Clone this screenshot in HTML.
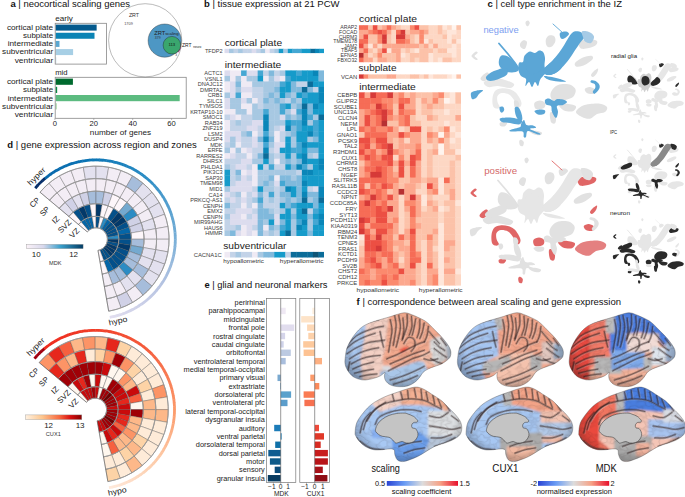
<!DOCTYPE html>
<html><head><meta charset="utf-8"><style>
html,body{margin:0;padding:0;background:#fff;}
svg{display:block;font-family:"Liberation Sans", sans-serif;}
</style></head><body>
<svg width="685" height="497" viewBox="0 0 685 497">
<rect width="685" height="497" fill="#fff"/>
<text x="10.4" y="7.2" font-size="9.5" fill="#111"><tspan font-weight="bold">a</tspan> | neocortical scaling genes</text>
<text x="55.2" y="21" font-size="7.2" fill="#222" textLength="17.7" lengthAdjust="spacingAndGlyphs">early</text>
<rect x="55.6" y="24.6" width="41.04" height="6" fill="#045a8d"/>
<rect x="55.6" y="32.76" width="38.9" height="6" fill="#0b84b5"/>
<rect x="55.6" y="40.92" width="3.89" height="6" fill="#5aa7d1"/>
<rect x="55.6" y="49.08" width="17.5" height="6" fill="#a7cfe5"/>
<rect x="55.6" y="57.24" width="0.78" height="6" fill="#d3e6f2"/>
<rect x="55.2" y="23.3" width="51.2" height="40.8" fill="none" stroke="#888" stroke-width="0.8"/>
<text x="53.20" y="30.00" font-size="7.2" text-anchor="end" fill="#222" font-weight="normal" textLength="46.3" lengthAdjust="spacingAndGlyphs">cortical plate</text>
<text x="53.20" y="38.16" font-size="7.2" text-anchor="end" fill="#222" font-weight="normal" textLength="30.2" lengthAdjust="spacingAndGlyphs">subplate</text>
<text x="53.20" y="46.32" font-size="7.2" text-anchor="end" fill="#222" font-weight="normal" textLength="45.5" lengthAdjust="spacingAndGlyphs">intermediate</text>
<text x="53.20" y="54.48" font-size="7.2" text-anchor="end" fill="#222" font-weight="normal" textLength="51.1" lengthAdjust="spacingAndGlyphs">subventricular</text>
<text x="53.20" y="62.64" font-size="7.2" text-anchor="end" fill="#222" font-weight="normal" textLength="38.5" lengthAdjust="spacingAndGlyphs">ventricular</text>
<text x="55.2" y="74.9" font-size="7.2" fill="#222" textLength="12.4" lengthAdjust="spacingAndGlyphs">mid</text>
<rect x="55.6" y="78.6" width="17.31" height="6.2" fill="#006a2e"/>
<rect x="55.6" y="86.8" width="1.56" height="6.2" fill="#0b8a45"/>
<rect x="55.6" y="95" width="124.09" height="6.2" fill="#5cbb80"/>
<rect x="55.6" y="103.2" width="1.17" height="6.2" fill="#a6dba6"/>
<rect x="55.2" y="77.3" width="131" height="41" fill="none" stroke="#888" stroke-width="0.8"/>
<text x="53.20" y="84.10" font-size="7.2" text-anchor="end" fill="#222" font-weight="normal" textLength="46.3" lengthAdjust="spacingAndGlyphs">cortical plate</text>
<text x="53.20" y="92.30" font-size="7.2" text-anchor="end" fill="#222" font-weight="normal" textLength="30.2" lengthAdjust="spacingAndGlyphs">subplate</text>
<text x="53.20" y="100.50" font-size="7.2" text-anchor="end" fill="#222" font-weight="normal" textLength="45.5" lengthAdjust="spacingAndGlyphs">intermediate</text>
<text x="53.20" y="108.70" font-size="7.2" text-anchor="end" fill="#222" font-weight="normal" textLength="51.1" lengthAdjust="spacingAndGlyphs">subventricular</text>
<text x="53.20" y="116.90" font-size="7.2" text-anchor="end" fill="#222" font-weight="normal" textLength="38.5" lengthAdjust="spacingAndGlyphs">ventricular</text>
<line x1="54.9" y1="118.3" x2="54.9" y2="120" stroke="#888" stroke-width="0.6"/>
<text x="54.90" y="125.80" font-size="7.6" text-anchor="middle" fill="#222" font-weight="normal">0</text>
<line x1="93.8" y1="118.3" x2="93.8" y2="120" stroke="#888" stroke-width="0.6"/>
<text x="93.80" y="125.80" font-size="7.6" text-anchor="middle" fill="#222" font-weight="normal">20</text>
<line x1="132.7" y1="118.3" x2="132.7" y2="120" stroke="#888" stroke-width="0.6"/>
<text x="132.70" y="125.80" font-size="7.6" text-anchor="middle" fill="#222" font-weight="normal">40</text>
<line x1="171.6" y1="118.3" x2="171.6" y2="120" stroke="#888" stroke-width="0.6"/>
<text x="171.60" y="125.80" font-size="7.6" text-anchor="middle" fill="#222" font-weight="normal">60</text>
<text x="120.50" y="134.80" font-size="7.2" text-anchor="middle" fill="#222" font-weight="normal" textLength="61.3" lengthAdjust="spacingAndGlyphs">number of genes</text>
<circle cx="145.2" cy="40.3" r="36.6" fill="none" stroke="#777" stroke-width="0.5"/>
<circle cx="164.7" cy="40.6" r="16.6" fill="#4d97c4" stroke="#333" stroke-width="0.4"/>
<path d="M179.2,44 A9,9 0 0 1 177,52 L178.2,52.6 A10.2,10.2 0 0 0 180.8,44 Z" fill="#b0308a"/>
<circle cx="171.9" cy="45.2" r="8.8" fill="#3aa66e" stroke="#222" stroke-width="0.4"/>
<text x="128.90" y="16.60" font-size="4.6" text-anchor="start" fill="#333" font-weight="normal" textLength="10.2" lengthAdjust="spacingAndGlyphs">ZRT</text>
<text x="124.20" y="24.70" font-size="3.4" text-anchor="start" fill="#444" font-weight="normal" textLength="8.6" lengthAdjust="spacingAndGlyphs">1709</text>
<text x="154.20" y="34.60" font-size="6.2" text-anchor="start" fill="#222" font-weight="normal" textLength="11.0" lengthAdjust="spacingAndGlyphs">ZRT</text>
<text x="165.20" y="35.40" font-size="3.6" text-anchor="start" fill="#222" font-weight="normal" textLength="13.5" lengthAdjust="spacingAndGlyphs">scaling</text>
<text x="154.80" y="38.60" font-size="3.4" text-anchor="start" fill="#333" font-weight="normal" textLength="5.8" lengthAdjust="spacingAndGlyphs">379</text>
<text x="168.40" y="45.70" font-size="3.6" text-anchor="start" fill="#111" font-weight="normal" textLength="6.8" lengthAdjust="spacingAndGlyphs">113</text>
<text x="182.00" y="47.20" font-size="5.0" text-anchor="start" fill="#222" font-weight="normal" textLength="9.5" lengthAdjust="spacingAndGlyphs">ZRT</text>
<text x="193.20" y="48.40" font-size="3.6" text-anchor="start" fill="#222" font-weight="normal" textLength="8.2" lengthAdjust="spacingAndGlyphs">neuro</text>
<text x="175.20" y="56.30" font-size="3.2" text-anchor="start" fill="#333" font-weight="normal">3</text>
<text x="204" y="7.2" font-size="9.5" fill="#111"><tspan font-weight="bold">b</tspan> | tissue expression at 21 PCW</text>
<text x="224.70" y="46.10" font-size="8.4" text-anchor="start" fill="#222" font-weight="normal" textLength="57.4" lengthAdjust="spacingAndGlyphs">cortical plate</text>
<rect x="224.5" y="48.8" width="4.92" height="4.3" fill="#dcdcee"/>
<rect x="229.02" y="48.8" width="4.92" height="4.3" fill="#a7c8e2"/>
<rect x="233.55" y="48.8" width="4.92" height="4.3" fill="#c3d3e8"/>
<rect x="238.07" y="48.8" width="4.92" height="4.3" fill="#a7c8e2"/>
<rect x="242.59" y="48.8" width="4.92" height="4.3" fill="#c3d3e8"/>
<rect x="247.11" y="48.8" width="4.92" height="4.3" fill="#c3d3e8"/>
<rect x="251.64" y="48.8" width="4.92" height="4.3" fill="#dcdcee"/>
<rect x="256.16" y="48.8" width="4.92" height="4.3" fill="#c3d3e8"/>
<rect x="260.68" y="48.8" width="4.92" height="4.3" fill="#a7c8e2"/>
<rect x="265.2" y="48.8" width="4.92" height="4.3" fill="#efeaf4"/>
<rect x="269.73" y="48.8" width="4.92" height="4.3" fill="#c3d3e8"/>
<rect x="274.25" y="48.8" width="4.92" height="4.3" fill="#a7c8e2"/>
<rect x="278.77" y="48.8" width="4.92" height="4.3" fill="#169bca"/>
<rect x="283.3" y="48.8" width="4.92" height="4.3" fill="#a7c8e2"/>
<rect x="287.82" y="48.8" width="4.92" height="4.3" fill="#169bca"/>
<rect x="292.34" y="48.8" width="4.92" height="4.3" fill="#45a7d3"/>
<rect x="296.86" y="48.8" width="4.92" height="4.3" fill="#45a7d3"/>
<rect x="301.39" y="48.8" width="4.92" height="4.3" fill="#169bca"/>
<rect x="305.91" y="48.8" width="4.92" height="4.3" fill="#169bca"/>
<rect x="310.43" y="48.8" width="4.92" height="4.3" fill="#0b6c99"/>
<rect x="314.95" y="48.8" width="4.92" height="4.3" fill="#0a86b8"/>
<rect x="319.48" y="48.8" width="4.52" height="4.3" fill="#169bca"/>
<text x="222.60" y="53.00" font-size="5.6" text-anchor="end" fill="#3c3c3c" font-weight="normal">TFDP2</text>
<text x="224.70" y="67.60" font-size="8.4" text-anchor="start" fill="#222" font-weight="normal" textLength="56.6" lengthAdjust="spacingAndGlyphs">intermediate</text>
<rect x="224.5" y="70.4" width="5.93" height="5.92" fill="#dcdcee"/>
<rect x="230.03" y="70.4" width="5.93" height="5.92" fill="#efeaf4"/>
<rect x="235.56" y="70.4" width="5.93" height="5.92" fill="#efeaf4"/>
<rect x="241.08" y="70.4" width="5.93" height="5.92" fill="#45a7d3"/>
<rect x="246.61" y="70.4" width="5.93" height="5.92" fill="#dcdcee"/>
<rect x="252.14" y="70.4" width="5.93" height="5.92" fill="#dcdcee"/>
<rect x="257.67" y="70.4" width="5.93" height="5.92" fill="#45a7d3"/>
<rect x="263.19" y="70.4" width="5.93" height="5.92" fill="#c3d3e8"/>
<rect x="268.72" y="70.4" width="5.93" height="5.92" fill="#80b9dc"/>
<rect x="274.25" y="70.4" width="5.93" height="5.92" fill="#c3d3e8"/>
<rect x="279.78" y="70.4" width="5.93" height="5.92" fill="#a7c8e2"/>
<rect x="285.31" y="70.4" width="5.93" height="5.92" fill="#169bca"/>
<rect x="290.83" y="70.4" width="5.93" height="5.92" fill="#169bca"/>
<rect x="296.36" y="70.4" width="5.93" height="5.92" fill="#45a7d3"/>
<rect x="301.89" y="70.4" width="5.93" height="5.92" fill="#169bca"/>
<rect x="307.42" y="70.4" width="5.93" height="5.92" fill="#169bca"/>
<rect x="312.94" y="70.4" width="5.93" height="5.92" fill="#0a86b8"/>
<rect x="318.47" y="70.4" width="5.53" height="5.92" fill="#80b9dc"/>
<rect x="224.5" y="75.92" width="5.93" height="5.92" fill="#a7c8e2"/>
<rect x="230.03" y="75.92" width="5.93" height="5.92" fill="#efeaf4"/>
<rect x="235.56" y="75.92" width="5.93" height="5.92" fill="#a7c8e2"/>
<rect x="241.08" y="75.92" width="5.93" height="5.92" fill="#efeaf4"/>
<rect x="246.61" y="75.92" width="5.93" height="5.92" fill="#a7c8e2"/>
<rect x="252.14" y="75.92" width="5.93" height="5.92" fill="#a7c8e2"/>
<rect x="257.67" y="75.92" width="5.93" height="5.92" fill="#169bca"/>
<rect x="263.19" y="75.92" width="5.93" height="5.92" fill="#efeaf4"/>
<rect x="268.72" y="75.92" width="5.93" height="5.92" fill="#a7c8e2"/>
<rect x="274.25" y="75.92" width="5.93" height="5.92" fill="#dcdcee"/>
<rect x="279.78" y="75.92" width="5.93" height="5.92" fill="#efeaf4"/>
<rect x="285.31" y="75.92" width="5.93" height="5.92" fill="#45a7d3"/>
<rect x="290.83" y="75.92" width="5.93" height="5.92" fill="#169bca"/>
<rect x="296.36" y="75.92" width="5.93" height="5.92" fill="#169bca"/>
<rect x="301.89" y="75.92" width="5.93" height="5.92" fill="#169bca"/>
<rect x="307.42" y="75.92" width="5.93" height="5.92" fill="#169bca"/>
<rect x="312.94" y="75.92" width="5.93" height="5.92" fill="#169bca"/>
<rect x="318.47" y="75.92" width="5.53" height="5.92" fill="#80b9dc"/>
<rect x="224.5" y="81.44" width="5.93" height="5.92" fill="#efeaf4"/>
<rect x="230.03" y="81.44" width="5.93" height="5.92" fill="#dcdcee"/>
<rect x="235.56" y="81.44" width="5.93" height="5.92" fill="#80b9dc"/>
<rect x="241.08" y="81.44" width="5.93" height="5.92" fill="#efeaf4"/>
<rect x="246.61" y="81.44" width="5.93" height="5.92" fill="#efeaf4"/>
<rect x="252.14" y="81.44" width="5.93" height="5.92" fill="#a7c8e2"/>
<rect x="257.67" y="81.44" width="5.93" height="5.92" fill="#a7c8e2"/>
<rect x="263.19" y="81.44" width="5.93" height="5.92" fill="#a7c8e2"/>
<rect x="268.72" y="81.44" width="5.93" height="5.92" fill="#a7c8e2"/>
<rect x="274.25" y="81.44" width="5.93" height="5.92" fill="#a7c8e2"/>
<rect x="279.78" y="81.44" width="5.93" height="5.92" fill="#45a7d3"/>
<rect x="285.31" y="81.44" width="5.93" height="5.92" fill="#169bca"/>
<rect x="290.83" y="81.44" width="5.93" height="5.92" fill="#80b9dc"/>
<rect x="296.36" y="81.44" width="5.93" height="5.92" fill="#c3d3e8"/>
<rect x="301.89" y="81.44" width="5.93" height="5.92" fill="#c3d3e8"/>
<rect x="307.42" y="81.44" width="5.93" height="5.92" fill="#0b6c99"/>
<rect x="312.94" y="81.44" width="5.93" height="5.92" fill="#169bca"/>
<rect x="318.47" y="81.44" width="5.53" height="5.92" fill="#169bca"/>
<rect x="224.5" y="86.96" width="5.93" height="5.92" fill="#efeaf4"/>
<rect x="230.03" y="86.96" width="5.93" height="5.92" fill="#dcdcee"/>
<rect x="235.56" y="86.96" width="5.93" height="5.92" fill="#a7c8e2"/>
<rect x="241.08" y="86.96" width="5.93" height="5.92" fill="#dcdcee"/>
<rect x="246.61" y="86.96" width="5.93" height="5.92" fill="#dcdcee"/>
<rect x="252.14" y="86.96" width="5.93" height="5.92" fill="#c3d3e8"/>
<rect x="257.67" y="86.96" width="5.93" height="5.92" fill="#c3d3e8"/>
<rect x="263.19" y="86.96" width="5.93" height="5.92" fill="#a7c8e2"/>
<rect x="268.72" y="86.96" width="5.93" height="5.92" fill="#a7c8e2"/>
<rect x="274.25" y="86.96" width="5.93" height="5.92" fill="#80b9dc"/>
<rect x="279.78" y="86.96" width="5.93" height="5.92" fill="#169bca"/>
<rect x="285.31" y="86.96" width="5.93" height="5.92" fill="#169bca"/>
<rect x="290.83" y="86.96" width="5.93" height="5.92" fill="#80b9dc"/>
<rect x="296.36" y="86.96" width="5.93" height="5.92" fill="#80b9dc"/>
<rect x="301.89" y="86.96" width="5.93" height="5.92" fill="#0b6c99"/>
<rect x="307.42" y="86.96" width="5.93" height="5.92" fill="#80b9dc"/>
<rect x="312.94" y="86.96" width="5.93" height="5.92" fill="#c3d3e8"/>
<rect x="318.47" y="86.96" width="5.53" height="5.92" fill="#0a86b8"/>
<rect x="224.5" y="92.48" width="5.93" height="5.92" fill="#a7c8e2"/>
<rect x="230.03" y="92.48" width="5.93" height="5.92" fill="#dcdcee"/>
<rect x="235.56" y="92.48" width="5.93" height="5.92" fill="#45a7d3"/>
<rect x="241.08" y="92.48" width="5.93" height="5.92" fill="#efeaf4"/>
<rect x="246.61" y="92.48" width="5.93" height="5.92" fill="#efeaf4"/>
<rect x="252.14" y="92.48" width="5.93" height="5.92" fill="#c3d3e8"/>
<rect x="257.67" y="92.48" width="5.93" height="5.92" fill="#c3d3e8"/>
<rect x="263.19" y="92.48" width="5.93" height="5.92" fill="#a7c8e2"/>
<rect x="268.72" y="92.48" width="5.93" height="5.92" fill="#80b9dc"/>
<rect x="274.25" y="92.48" width="5.93" height="5.92" fill="#a7c8e2"/>
<rect x="279.78" y="92.48" width="5.93" height="5.92" fill="#169bca"/>
<rect x="285.31" y="92.48" width="5.93" height="5.92" fill="#80b9dc"/>
<rect x="290.83" y="92.48" width="5.93" height="5.92" fill="#a7c8e2"/>
<rect x="296.36" y="92.48" width="5.93" height="5.92" fill="#169bca"/>
<rect x="301.89" y="92.48" width="5.93" height="5.92" fill="#45a7d3"/>
<rect x="307.42" y="92.48" width="5.93" height="5.92" fill="#169bca"/>
<rect x="312.94" y="92.48" width="5.93" height="5.92" fill="#169bca"/>
<rect x="318.47" y="92.48" width="5.53" height="5.92" fill="#0a86b8"/>
<rect x="224.5" y="98" width="5.93" height="5.92" fill="#dcdcee"/>
<rect x="230.03" y="98" width="5.93" height="5.92" fill="#a7c8e2"/>
<rect x="235.56" y="98" width="5.93" height="5.92" fill="#a7c8e2"/>
<rect x="241.08" y="98" width="5.93" height="5.92" fill="#dcdcee"/>
<rect x="246.61" y="98" width="5.93" height="5.92" fill="#a7c8e2"/>
<rect x="252.14" y="98" width="5.93" height="5.92" fill="#efeaf4"/>
<rect x="257.67" y="98" width="5.93" height="5.92" fill="#c3d3e8"/>
<rect x="263.19" y="98" width="5.93" height="5.92" fill="#80b9dc"/>
<rect x="268.72" y="98" width="5.93" height="5.92" fill="#a7c8e2"/>
<rect x="274.25" y="98" width="5.93" height="5.92" fill="#80b9dc"/>
<rect x="279.78" y="98" width="5.93" height="5.92" fill="#a7c8e2"/>
<rect x="285.31" y="98" width="5.93" height="5.92" fill="#c3d3e8"/>
<rect x="290.83" y="98" width="5.93" height="5.92" fill="#80b9dc"/>
<rect x="296.36" y="98" width="5.93" height="5.92" fill="#a7c8e2"/>
<rect x="301.89" y="98" width="5.93" height="5.92" fill="#169bca"/>
<rect x="307.42" y="98" width="5.93" height="5.92" fill="#169bca"/>
<rect x="312.94" y="98" width="5.93" height="5.92" fill="#169bca"/>
<rect x="318.47" y="98" width="5.53" height="5.92" fill="#0a86b8"/>
<rect x="224.5" y="103.52" width="5.93" height="5.92" fill="#dcdcee"/>
<rect x="230.03" y="103.52" width="5.93" height="5.92" fill="#a7c8e2"/>
<rect x="235.56" y="103.52" width="5.93" height="5.92" fill="#a7c8e2"/>
<rect x="241.08" y="103.52" width="5.93" height="5.92" fill="#efeaf4"/>
<rect x="246.61" y="103.52" width="5.93" height="5.92" fill="#efeaf4"/>
<rect x="252.14" y="103.52" width="5.93" height="5.92" fill="#a7c8e2"/>
<rect x="257.67" y="103.52" width="5.93" height="5.92" fill="#c3d3e8"/>
<rect x="263.19" y="103.52" width="5.93" height="5.92" fill="#a7c8e2"/>
<rect x="268.72" y="103.52" width="5.93" height="5.92" fill="#a7c8e2"/>
<rect x="274.25" y="103.52" width="5.93" height="5.92" fill="#a7c8e2"/>
<rect x="279.78" y="103.52" width="5.93" height="5.92" fill="#45a7d3"/>
<rect x="285.31" y="103.52" width="5.93" height="5.92" fill="#169bca"/>
<rect x="290.83" y="103.52" width="5.93" height="5.92" fill="#a7c8e2"/>
<rect x="296.36" y="103.52" width="5.93" height="5.92" fill="#80b9dc"/>
<rect x="301.89" y="103.52" width="5.93" height="5.92" fill="#0b6c99"/>
<rect x="307.42" y="103.52" width="5.93" height="5.92" fill="#80b9dc"/>
<rect x="312.94" y="103.52" width="5.93" height="5.92" fill="#0a86b8"/>
<rect x="318.47" y="103.52" width="5.53" height="5.92" fill="#169bca"/>
<rect x="224.5" y="109.04" width="5.93" height="5.92" fill="#efeaf4"/>
<rect x="230.03" y="109.04" width="5.93" height="5.92" fill="#efeaf4"/>
<rect x="235.56" y="109.04" width="5.93" height="5.92" fill="#a7c8e2"/>
<rect x="241.08" y="109.04" width="5.93" height="5.92" fill="#a7c8e2"/>
<rect x="246.61" y="109.04" width="5.93" height="5.92" fill="#efeaf4"/>
<rect x="252.14" y="109.04" width="5.93" height="5.92" fill="#a7c8e2"/>
<rect x="257.67" y="109.04" width="5.93" height="5.92" fill="#a7c8e2"/>
<rect x="263.19" y="109.04" width="5.93" height="5.92" fill="#45a7d3"/>
<rect x="268.72" y="109.04" width="5.93" height="5.92" fill="#a7c8e2"/>
<rect x="274.25" y="109.04" width="5.93" height="5.92" fill="#a7c8e2"/>
<rect x="279.78" y="109.04" width="5.93" height="5.92" fill="#45a7d3"/>
<rect x="285.31" y="109.04" width="5.93" height="5.92" fill="#a7c8e2"/>
<rect x="290.83" y="109.04" width="5.93" height="5.92" fill="#dcdcee"/>
<rect x="296.36" y="109.04" width="5.93" height="5.92" fill="#45a7d3"/>
<rect x="301.89" y="109.04" width="5.93" height="5.92" fill="#0a86b8"/>
<rect x="307.42" y="109.04" width="5.93" height="5.92" fill="#80b9dc"/>
<rect x="312.94" y="109.04" width="5.93" height="5.92" fill="#169bca"/>
<rect x="318.47" y="109.04" width="5.53" height="5.92" fill="#169bca"/>
<rect x="224.5" y="114.56" width="5.93" height="5.92" fill="#c3d3e8"/>
<rect x="230.03" y="114.56" width="5.93" height="5.92" fill="#dcdcee"/>
<rect x="235.56" y="114.56" width="5.93" height="5.92" fill="#efeaf4"/>
<rect x="241.08" y="114.56" width="5.93" height="5.92" fill="#c3d3e8"/>
<rect x="246.61" y="114.56" width="5.93" height="5.92" fill="#c3d3e8"/>
<rect x="252.14" y="114.56" width="5.93" height="5.92" fill="#a7c8e2"/>
<rect x="257.67" y="114.56" width="5.93" height="5.92" fill="#a7c8e2"/>
<rect x="263.19" y="114.56" width="5.93" height="5.92" fill="#0a86b8"/>
<rect x="268.72" y="114.56" width="5.93" height="5.92" fill="#a7c8e2"/>
<rect x="274.25" y="114.56" width="5.93" height="5.92" fill="#a7c8e2"/>
<rect x="279.78" y="114.56" width="5.93" height="5.92" fill="#dcdcee"/>
<rect x="285.31" y="114.56" width="5.93" height="5.92" fill="#80b9dc"/>
<rect x="290.83" y="114.56" width="5.93" height="5.92" fill="#a7c8e2"/>
<rect x="296.36" y="114.56" width="5.93" height="5.92" fill="#80b9dc"/>
<rect x="301.89" y="114.56" width="5.93" height="5.92" fill="#0a86b8"/>
<rect x="307.42" y="114.56" width="5.93" height="5.92" fill="#45a7d3"/>
<rect x="312.94" y="114.56" width="5.93" height="5.92" fill="#a7c8e2"/>
<rect x="318.47" y="114.56" width="5.53" height="5.92" fill="#0b6c99"/>
<rect x="224.5" y="120.08" width="5.93" height="5.92" fill="#efeaf4"/>
<rect x="230.03" y="120.08" width="5.93" height="5.92" fill="#c3d3e8"/>
<rect x="235.56" y="120.08" width="5.93" height="5.92" fill="#a7c8e2"/>
<rect x="241.08" y="120.08" width="5.93" height="5.92" fill="#c3d3e8"/>
<rect x="246.61" y="120.08" width="5.93" height="5.92" fill="#c3d3e8"/>
<rect x="252.14" y="120.08" width="5.93" height="5.92" fill="#dcdcee"/>
<rect x="257.67" y="120.08" width="5.93" height="5.92" fill="#dcdcee"/>
<rect x="263.19" y="120.08" width="5.93" height="5.92" fill="#0a86b8"/>
<rect x="268.72" y="120.08" width="5.93" height="5.92" fill="#a7c8e2"/>
<rect x="274.25" y="120.08" width="5.93" height="5.92" fill="#a7c8e2"/>
<rect x="279.78" y="120.08" width="5.93" height="5.92" fill="#a7c8e2"/>
<rect x="285.31" y="120.08" width="5.93" height="5.92" fill="#169bca"/>
<rect x="290.83" y="120.08" width="5.93" height="5.92" fill="#45a7d3"/>
<rect x="296.36" y="120.08" width="5.93" height="5.92" fill="#45a7d3"/>
<rect x="301.89" y="120.08" width="5.93" height="5.92" fill="#0a86b8"/>
<rect x="307.42" y="120.08" width="5.93" height="5.92" fill="#a7c8e2"/>
<rect x="312.94" y="120.08" width="5.93" height="5.92" fill="#45a7d3"/>
<rect x="318.47" y="120.08" width="5.53" height="5.92" fill="#169bca"/>
<rect x="224.5" y="125.6" width="5.93" height="5.92" fill="#efeaf4"/>
<rect x="230.03" y="125.6" width="5.93" height="5.92" fill="#c3d3e8"/>
<rect x="235.56" y="125.6" width="5.93" height="5.92" fill="#c3d3e8"/>
<rect x="241.08" y="125.6" width="5.93" height="5.92" fill="#c3d3e8"/>
<rect x="246.61" y="125.6" width="5.93" height="5.92" fill="#dcdcee"/>
<rect x="252.14" y="125.6" width="5.93" height="5.92" fill="#dcdcee"/>
<rect x="257.67" y="125.6" width="5.93" height="5.92" fill="#c3d3e8"/>
<rect x="263.19" y="125.6" width="5.93" height="5.92" fill="#0a86b8"/>
<rect x="268.72" y="125.6" width="5.93" height="5.92" fill="#a7c8e2"/>
<rect x="274.25" y="125.6" width="5.93" height="5.92" fill="#c3d3e8"/>
<rect x="279.78" y="125.6" width="5.93" height="5.92" fill="#dcdcee"/>
<rect x="285.31" y="125.6" width="5.93" height="5.92" fill="#0a86b8"/>
<rect x="290.83" y="125.6" width="5.93" height="5.92" fill="#80b9dc"/>
<rect x="296.36" y="125.6" width="5.93" height="5.92" fill="#45a7d3"/>
<rect x="301.89" y="125.6" width="5.93" height="5.92" fill="#169bca"/>
<rect x="307.42" y="125.6" width="5.93" height="5.92" fill="#169bca"/>
<rect x="312.94" y="125.6" width="5.93" height="5.92" fill="#45a7d3"/>
<rect x="318.47" y="125.6" width="5.53" height="5.92" fill="#169bca"/>
<rect x="224.5" y="131.12" width="5.93" height="5.92" fill="#dcdcee"/>
<rect x="230.03" y="131.12" width="5.93" height="5.92" fill="#dcdcee"/>
<rect x="235.56" y="131.12" width="5.93" height="5.92" fill="#dcdcee"/>
<rect x="241.08" y="131.12" width="5.93" height="5.92" fill="#a7c8e2"/>
<rect x="246.61" y="131.12" width="5.93" height="5.92" fill="#80b9dc"/>
<rect x="252.14" y="131.12" width="5.93" height="5.92" fill="#efeaf4"/>
<rect x="257.67" y="131.12" width="5.93" height="5.92" fill="#c3d3e8"/>
<rect x="263.19" y="131.12" width="5.93" height="5.92" fill="#45a7d3"/>
<rect x="268.72" y="131.12" width="5.93" height="5.92" fill="#a7c8e2"/>
<rect x="274.25" y="131.12" width="5.93" height="5.92" fill="#efeaf4"/>
<rect x="279.78" y="131.12" width="5.93" height="5.92" fill="#c3d3e8"/>
<rect x="285.31" y="131.12" width="5.93" height="5.92" fill="#a7c8e2"/>
<rect x="290.83" y="131.12" width="5.93" height="5.92" fill="#80b9dc"/>
<rect x="296.36" y="131.12" width="5.93" height="5.92" fill="#169bca"/>
<rect x="301.89" y="131.12" width="5.93" height="5.92" fill="#169bca"/>
<rect x="307.42" y="131.12" width="5.93" height="5.92" fill="#0a86b8"/>
<rect x="312.94" y="131.12" width="5.93" height="5.92" fill="#45a7d3"/>
<rect x="318.47" y="131.12" width="5.53" height="5.92" fill="#169bca"/>
<rect x="224.5" y="136.64" width="5.93" height="5.92" fill="#dcdcee"/>
<rect x="230.03" y="136.64" width="5.93" height="5.92" fill="#a7c8e2"/>
<rect x="235.56" y="136.64" width="5.93" height="5.92" fill="#dcdcee"/>
<rect x="241.08" y="136.64" width="5.93" height="5.92" fill="#c3d3e8"/>
<rect x="246.61" y="136.64" width="5.93" height="5.92" fill="#c3d3e8"/>
<rect x="252.14" y="136.64" width="5.93" height="5.92" fill="#dcdcee"/>
<rect x="257.67" y="136.64" width="5.93" height="5.92" fill="#80b9dc"/>
<rect x="263.19" y="136.64" width="5.93" height="5.92" fill="#0a86b8"/>
<rect x="268.72" y="136.64" width="5.93" height="5.92" fill="#80b9dc"/>
<rect x="274.25" y="136.64" width="5.93" height="5.92" fill="#efeaf4"/>
<rect x="279.78" y="136.64" width="5.93" height="5.92" fill="#c3d3e8"/>
<rect x="285.31" y="136.64" width="5.93" height="5.92" fill="#169bca"/>
<rect x="290.83" y="136.64" width="5.93" height="5.92" fill="#a7c8e2"/>
<rect x="296.36" y="136.64" width="5.93" height="5.92" fill="#169bca"/>
<rect x="301.89" y="136.64" width="5.93" height="5.92" fill="#169bca"/>
<rect x="307.42" y="136.64" width="5.93" height="5.92" fill="#a7c8e2"/>
<rect x="312.94" y="136.64" width="5.93" height="5.92" fill="#80b9dc"/>
<rect x="318.47" y="136.64" width="5.53" height="5.92" fill="#169bca"/>
<rect x="224.5" y="142.16" width="5.93" height="5.92" fill="#c3d3e8"/>
<rect x="230.03" y="142.16" width="5.93" height="5.92" fill="#a7c8e2"/>
<rect x="235.56" y="142.16" width="5.93" height="5.92" fill="#efeaf4"/>
<rect x="241.08" y="142.16" width="5.93" height="5.92" fill="#c3d3e8"/>
<rect x="246.61" y="142.16" width="5.93" height="5.92" fill="#c3d3e8"/>
<rect x="252.14" y="142.16" width="5.93" height="5.92" fill="#dcdcee"/>
<rect x="257.67" y="142.16" width="5.93" height="5.92" fill="#c3d3e8"/>
<rect x="263.19" y="142.16" width="5.93" height="5.92" fill="#45a7d3"/>
<rect x="268.72" y="142.16" width="5.93" height="5.92" fill="#a7c8e2"/>
<rect x="274.25" y="142.16" width="5.93" height="5.92" fill="#dcdcee"/>
<rect x="279.78" y="142.16" width="5.93" height="5.92" fill="#dcdcee"/>
<rect x="285.31" y="142.16" width="5.93" height="5.92" fill="#169bca"/>
<rect x="290.83" y="142.16" width="5.93" height="5.92" fill="#a7c8e2"/>
<rect x="296.36" y="142.16" width="5.93" height="5.92" fill="#45a7d3"/>
<rect x="301.89" y="142.16" width="5.93" height="5.92" fill="#0a86b8"/>
<rect x="307.42" y="142.16" width="5.93" height="5.92" fill="#169bca"/>
<rect x="312.94" y="142.16" width="5.93" height="5.92" fill="#169bca"/>
<rect x="318.47" y="142.16" width="5.53" height="5.92" fill="#169bca"/>
<rect x="224.5" y="147.68" width="5.93" height="5.92" fill="#a7c8e2"/>
<rect x="230.03" y="147.68" width="5.93" height="5.92" fill="#efeaf4"/>
<rect x="235.56" y="147.68" width="5.93" height="5.92" fill="#a7c8e2"/>
<rect x="241.08" y="147.68" width="5.93" height="5.92" fill="#efeaf4"/>
<rect x="246.61" y="147.68" width="5.93" height="5.92" fill="#dcdcee"/>
<rect x="252.14" y="147.68" width="5.93" height="5.92" fill="#c3d3e8"/>
<rect x="257.67" y="147.68" width="5.93" height="5.92" fill="#c3d3e8"/>
<rect x="263.19" y="147.68" width="5.93" height="5.92" fill="#0a86b8"/>
<rect x="268.72" y="147.68" width="5.93" height="5.92" fill="#c3d3e8"/>
<rect x="274.25" y="147.68" width="5.93" height="5.92" fill="#dcdcee"/>
<rect x="279.78" y="147.68" width="5.93" height="5.92" fill="#169bca"/>
<rect x="285.31" y="147.68" width="5.93" height="5.92" fill="#169bca"/>
<rect x="290.83" y="147.68" width="5.93" height="5.92" fill="#45a7d3"/>
<rect x="296.36" y="147.68" width="5.93" height="5.92" fill="#45a7d3"/>
<rect x="301.89" y="147.68" width="5.93" height="5.92" fill="#169bca"/>
<rect x="307.42" y="147.68" width="5.93" height="5.92" fill="#80b9dc"/>
<rect x="312.94" y="147.68" width="5.93" height="5.92" fill="#80b9dc"/>
<rect x="318.47" y="147.68" width="5.53" height="5.92" fill="#169bca"/>
<rect x="224.5" y="153.2" width="5.93" height="5.92" fill="#efeaf4"/>
<rect x="230.03" y="153.2" width="5.93" height="5.92" fill="#dcdcee"/>
<rect x="235.56" y="153.2" width="5.93" height="5.92" fill="#c3d3e8"/>
<rect x="241.08" y="153.2" width="5.93" height="5.92" fill="#c3d3e8"/>
<rect x="246.61" y="153.2" width="5.93" height="5.92" fill="#efeaf4"/>
<rect x="252.14" y="153.2" width="5.93" height="5.92" fill="#c3d3e8"/>
<rect x="257.67" y="153.2" width="5.93" height="5.92" fill="#80b9dc"/>
<rect x="263.19" y="153.2" width="5.93" height="5.92" fill="#0b6c99"/>
<rect x="268.72" y="153.2" width="5.93" height="5.92" fill="#a7c8e2"/>
<rect x="274.25" y="153.2" width="5.93" height="5.92" fill="#c3d3e8"/>
<rect x="279.78" y="153.2" width="5.93" height="5.92" fill="#a7c8e2"/>
<rect x="285.31" y="153.2" width="5.93" height="5.92" fill="#169bca"/>
<rect x="290.83" y="153.2" width="5.93" height="5.92" fill="#a7c8e2"/>
<rect x="296.36" y="153.2" width="5.93" height="5.92" fill="#169bca"/>
<rect x="301.89" y="153.2" width="5.93" height="5.92" fill="#0a86b8"/>
<rect x="307.42" y="153.2" width="5.93" height="5.92" fill="#a7c8e2"/>
<rect x="312.94" y="153.2" width="5.93" height="5.92" fill="#c3d3e8"/>
<rect x="318.47" y="153.2" width="5.53" height="5.92" fill="#169bca"/>
<rect x="224.5" y="158.72" width="5.93" height="5.92" fill="#c3d3e8"/>
<rect x="230.03" y="158.72" width="5.93" height="5.92" fill="#c3d3e8"/>
<rect x="235.56" y="158.72" width="5.93" height="5.92" fill="#c3d3e8"/>
<rect x="241.08" y="158.72" width="5.93" height="5.92" fill="#dcdcee"/>
<rect x="246.61" y="158.72" width="5.93" height="5.92" fill="#dcdcee"/>
<rect x="252.14" y="158.72" width="5.93" height="5.92" fill="#a7c8e2"/>
<rect x="257.67" y="158.72" width="5.93" height="5.92" fill="#a7c8e2"/>
<rect x="263.19" y="158.72" width="5.93" height="5.92" fill="#169bca"/>
<rect x="268.72" y="158.72" width="5.93" height="5.92" fill="#a7c8e2"/>
<rect x="274.25" y="158.72" width="5.93" height="5.92" fill="#efeaf4"/>
<rect x="279.78" y="158.72" width="5.93" height="5.92" fill="#a7c8e2"/>
<rect x="285.31" y="158.72" width="5.93" height="5.92" fill="#80b9dc"/>
<rect x="290.83" y="158.72" width="5.93" height="5.92" fill="#a7c8e2"/>
<rect x="296.36" y="158.72" width="5.93" height="5.92" fill="#80b9dc"/>
<rect x="301.89" y="158.72" width="5.93" height="5.92" fill="#0a86b8"/>
<rect x="307.42" y="158.72" width="5.93" height="5.92" fill="#169bca"/>
<rect x="312.94" y="158.72" width="5.93" height="5.92" fill="#169bca"/>
<rect x="318.47" y="158.72" width="5.53" height="5.92" fill="#0a86b8"/>
<rect x="224.5" y="164.24" width="5.93" height="5.92" fill="#a7c8e2"/>
<rect x="230.03" y="164.24" width="5.93" height="5.92" fill="#c3d3e8"/>
<rect x="235.56" y="164.24" width="5.93" height="5.92" fill="#dcdcee"/>
<rect x="241.08" y="164.24" width="5.93" height="5.92" fill="#dcdcee"/>
<rect x="246.61" y="164.24" width="5.93" height="5.92" fill="#c3d3e8"/>
<rect x="252.14" y="164.24" width="5.93" height="5.92" fill="#efeaf4"/>
<rect x="257.67" y="164.24" width="5.93" height="5.92" fill="#169bca"/>
<rect x="263.19" y="164.24" width="5.93" height="5.92" fill="#c3d3e8"/>
<rect x="268.72" y="164.24" width="5.93" height="5.92" fill="#45a7d3"/>
<rect x="274.25" y="164.24" width="5.93" height="5.92" fill="#c3d3e8"/>
<rect x="279.78" y="164.24" width="5.93" height="5.92" fill="#c3d3e8"/>
<rect x="285.31" y="164.24" width="5.93" height="5.92" fill="#169bca"/>
<rect x="290.83" y="164.24" width="5.93" height="5.92" fill="#80b9dc"/>
<rect x="296.36" y="164.24" width="5.93" height="5.92" fill="#0a86b8"/>
<rect x="301.89" y="164.24" width="5.93" height="5.92" fill="#45a7d3"/>
<rect x="307.42" y="164.24" width="5.93" height="5.92" fill="#a7c8e2"/>
<rect x="312.94" y="164.24" width="5.93" height="5.92" fill="#169bca"/>
<rect x="318.47" y="164.24" width="5.53" height="5.92" fill="#0a86b8"/>
<rect x="224.5" y="169.76" width="5.93" height="5.92" fill="#169bca"/>
<rect x="230.03" y="169.76" width="5.93" height="5.92" fill="#c3d3e8"/>
<rect x="235.56" y="169.76" width="5.93" height="5.92" fill="#80b9dc"/>
<rect x="241.08" y="169.76" width="5.93" height="5.92" fill="#efeaf4"/>
<rect x="246.61" y="169.76" width="5.93" height="5.92" fill="#dcdcee"/>
<rect x="252.14" y="169.76" width="5.93" height="5.92" fill="#efeaf4"/>
<rect x="257.67" y="169.76" width="5.93" height="5.92" fill="#a7c8e2"/>
<rect x="263.19" y="169.76" width="5.93" height="5.92" fill="#a7c8e2"/>
<rect x="268.72" y="169.76" width="5.93" height="5.92" fill="#a7c8e2"/>
<rect x="274.25" y="169.76" width="5.93" height="5.92" fill="#a7c8e2"/>
<rect x="279.78" y="169.76" width="5.93" height="5.92" fill="#a7c8e2"/>
<rect x="285.31" y="169.76" width="5.93" height="5.92" fill="#a7c8e2"/>
<rect x="290.83" y="169.76" width="5.93" height="5.92" fill="#a7c8e2"/>
<rect x="296.36" y="169.76" width="5.93" height="5.92" fill="#c3d3e8"/>
<rect x="301.89" y="169.76" width="5.93" height="5.92" fill="#0a86b8"/>
<rect x="307.42" y="169.76" width="5.93" height="5.92" fill="#0a86b8"/>
<rect x="312.94" y="169.76" width="5.93" height="5.92" fill="#169bca"/>
<rect x="318.47" y="169.76" width="5.53" height="5.92" fill="#169bca"/>
<rect x="224.5" y="175.28" width="5.93" height="5.92" fill="#169bca"/>
<rect x="230.03" y="175.28" width="5.93" height="5.92" fill="#c3d3e8"/>
<rect x="235.56" y="175.28" width="5.93" height="5.92" fill="#a7c8e2"/>
<rect x="241.08" y="175.28" width="5.93" height="5.92" fill="#dcdcee"/>
<rect x="246.61" y="175.28" width="5.93" height="5.92" fill="#c3d3e8"/>
<rect x="252.14" y="175.28" width="5.93" height="5.92" fill="#efeaf4"/>
<rect x="257.67" y="175.28" width="5.93" height="5.92" fill="#a7c8e2"/>
<rect x="263.19" y="175.28" width="5.93" height="5.92" fill="#a7c8e2"/>
<rect x="268.72" y="175.28" width="5.93" height="5.92" fill="#80b9dc"/>
<rect x="274.25" y="175.28" width="5.93" height="5.92" fill="#efeaf4"/>
<rect x="279.78" y="175.28" width="5.93" height="5.92" fill="#80b9dc"/>
<rect x="285.31" y="175.28" width="5.93" height="5.92" fill="#80b9dc"/>
<rect x="290.83" y="175.28" width="5.93" height="5.92" fill="#a7c8e2"/>
<rect x="296.36" y="175.28" width="5.93" height="5.92" fill="#80b9dc"/>
<rect x="301.89" y="175.28" width="5.93" height="5.92" fill="#169bca"/>
<rect x="307.42" y="175.28" width="5.93" height="5.92" fill="#169bca"/>
<rect x="312.94" y="175.28" width="5.93" height="5.92" fill="#169bca"/>
<rect x="318.47" y="175.28" width="5.53" height="5.92" fill="#169bca"/>
<rect x="224.5" y="180.8" width="5.93" height="5.92" fill="#169bca"/>
<rect x="230.03" y="180.8" width="5.93" height="5.92" fill="#c3d3e8"/>
<rect x="235.56" y="180.8" width="5.93" height="5.92" fill="#dcdcee"/>
<rect x="241.08" y="180.8" width="5.93" height="5.92" fill="#dcdcee"/>
<rect x="246.61" y="180.8" width="5.93" height="5.92" fill="#dcdcee"/>
<rect x="252.14" y="180.8" width="5.93" height="5.92" fill="#efeaf4"/>
<rect x="257.67" y="180.8" width="5.93" height="5.92" fill="#a7c8e2"/>
<rect x="263.19" y="180.8" width="5.93" height="5.92" fill="#80b9dc"/>
<rect x="268.72" y="180.8" width="5.93" height="5.92" fill="#a7c8e2"/>
<rect x="274.25" y="180.8" width="5.93" height="5.92" fill="#dcdcee"/>
<rect x="279.78" y="180.8" width="5.93" height="5.92" fill="#45a7d3"/>
<rect x="285.31" y="180.8" width="5.93" height="5.92" fill="#80b9dc"/>
<rect x="290.83" y="180.8" width="5.93" height="5.92" fill="#80b9dc"/>
<rect x="296.36" y="180.8" width="5.93" height="5.92" fill="#80b9dc"/>
<rect x="301.89" y="180.8" width="5.93" height="5.92" fill="#0a86b8"/>
<rect x="307.42" y="180.8" width="5.93" height="5.92" fill="#169bca"/>
<rect x="312.94" y="180.8" width="5.93" height="5.92" fill="#169bca"/>
<rect x="318.47" y="180.8" width="5.53" height="5.92" fill="#169bca"/>
<rect x="224.5" y="186.32" width="5.93" height="5.92" fill="#a7c8e2"/>
<rect x="230.03" y="186.32" width="5.93" height="5.92" fill="#dcdcee"/>
<rect x="235.56" y="186.32" width="5.93" height="5.92" fill="#dcdcee"/>
<rect x="241.08" y="186.32" width="5.93" height="5.92" fill="#dcdcee"/>
<rect x="246.61" y="186.32" width="5.93" height="5.92" fill="#dcdcee"/>
<rect x="252.14" y="186.32" width="5.93" height="5.92" fill="#c3d3e8"/>
<rect x="257.67" y="186.32" width="5.93" height="5.92" fill="#169bca"/>
<rect x="263.19" y="186.32" width="5.93" height="5.92" fill="#a7c8e2"/>
<rect x="268.72" y="186.32" width="5.93" height="5.92" fill="#a7c8e2"/>
<rect x="274.25" y="186.32" width="5.93" height="5.92" fill="#c3d3e8"/>
<rect x="279.78" y="186.32" width="5.93" height="5.92" fill="#a7c8e2"/>
<rect x="285.31" y="186.32" width="5.93" height="5.92" fill="#0a86b8"/>
<rect x="290.83" y="186.32" width="5.93" height="5.92" fill="#169bca"/>
<rect x="296.36" y="186.32" width="5.93" height="5.92" fill="#80b9dc"/>
<rect x="301.89" y="186.32" width="5.93" height="5.92" fill="#169bca"/>
<rect x="307.42" y="186.32" width="5.93" height="5.92" fill="#c3d3e8"/>
<rect x="312.94" y="186.32" width="5.93" height="5.92" fill="#dcdcee"/>
<rect x="318.47" y="186.32" width="5.53" height="5.92" fill="#0a86b8"/>
<rect x="224.5" y="191.84" width="5.93" height="5.92" fill="#dcdcee"/>
<rect x="230.03" y="191.84" width="5.93" height="5.92" fill="#c3d3e8"/>
<rect x="235.56" y="191.84" width="5.93" height="5.92" fill="#a7c8e2"/>
<rect x="241.08" y="191.84" width="5.93" height="5.92" fill="#efeaf4"/>
<rect x="246.61" y="191.84" width="5.93" height="5.92" fill="#c3d3e8"/>
<rect x="252.14" y="191.84" width="5.93" height="5.92" fill="#dcdcee"/>
<rect x="257.67" y="191.84" width="5.93" height="5.92" fill="#80b9dc"/>
<rect x="263.19" y="191.84" width="5.93" height="5.92" fill="#c3d3e8"/>
<rect x="268.72" y="191.84" width="5.93" height="5.92" fill="#45a7d3"/>
<rect x="274.25" y="191.84" width="5.93" height="5.92" fill="#c3d3e8"/>
<rect x="279.78" y="191.84" width="5.93" height="5.92" fill="#80b9dc"/>
<rect x="285.31" y="191.84" width="5.93" height="5.92" fill="#80b9dc"/>
<rect x="290.83" y="191.84" width="5.93" height="5.92" fill="#169bca"/>
<rect x="296.36" y="191.84" width="5.93" height="5.92" fill="#80b9dc"/>
<rect x="301.89" y="191.84" width="5.93" height="5.92" fill="#0a86b8"/>
<rect x="307.42" y="191.84" width="5.93" height="5.92" fill="#80b9dc"/>
<rect x="312.94" y="191.84" width="5.93" height="5.92" fill="#80b9dc"/>
<rect x="318.47" y="191.84" width="5.53" height="5.92" fill="#0a86b8"/>
<rect x="224.5" y="197.36" width="5.93" height="5.92" fill="#c3d3e8"/>
<rect x="230.03" y="197.36" width="5.93" height="5.92" fill="#dcdcee"/>
<rect x="235.56" y="197.36" width="5.93" height="5.92" fill="#c3d3e8"/>
<rect x="241.08" y="197.36" width="5.93" height="5.92" fill="#dcdcee"/>
<rect x="246.61" y="197.36" width="5.93" height="5.92" fill="#c3d3e8"/>
<rect x="252.14" y="197.36" width="5.93" height="5.92" fill="#a7c8e2"/>
<rect x="257.67" y="197.36" width="5.93" height="5.92" fill="#45a7d3"/>
<rect x="263.19" y="197.36" width="5.93" height="5.92" fill="#c3d3e8"/>
<rect x="268.72" y="197.36" width="5.93" height="5.92" fill="#a7c8e2"/>
<rect x="274.25" y="197.36" width="5.93" height="5.92" fill="#c3d3e8"/>
<rect x="279.78" y="197.36" width="5.93" height="5.92" fill="#a7c8e2"/>
<rect x="285.31" y="197.36" width="5.93" height="5.92" fill="#80b9dc"/>
<rect x="290.83" y="197.36" width="5.93" height="5.92" fill="#a7c8e2"/>
<rect x="296.36" y="197.36" width="5.93" height="5.92" fill="#80b9dc"/>
<rect x="301.89" y="197.36" width="5.93" height="5.92" fill="#0b6c99"/>
<rect x="307.42" y="197.36" width="5.93" height="5.92" fill="#a7c8e2"/>
<rect x="312.94" y="197.36" width="5.93" height="5.92" fill="#80b9dc"/>
<rect x="318.47" y="197.36" width="5.53" height="5.92" fill="#0b6c99"/>
<rect x="224.5" y="202.88" width="5.93" height="5.92" fill="#80b9dc"/>
<rect x="230.03" y="202.88" width="5.93" height="5.92" fill="#c3d3e8"/>
<rect x="235.56" y="202.88" width="5.93" height="5.92" fill="#c3d3e8"/>
<rect x="241.08" y="202.88" width="5.93" height="5.92" fill="#efeaf4"/>
<rect x="246.61" y="202.88" width="5.93" height="5.92" fill="#c3d3e8"/>
<rect x="252.14" y="202.88" width="5.93" height="5.92" fill="#efeaf4"/>
<rect x="257.67" y="202.88" width="5.93" height="5.92" fill="#80b9dc"/>
<rect x="263.19" y="202.88" width="5.93" height="5.92" fill="#c3d3e8"/>
<rect x="268.72" y="202.88" width="5.93" height="5.92" fill="#c3d3e8"/>
<rect x="274.25" y="202.88" width="5.93" height="5.92" fill="#c3d3e8"/>
<rect x="279.78" y="202.88" width="5.93" height="5.92" fill="#169bca"/>
<rect x="285.31" y="202.88" width="5.93" height="5.92" fill="#80b9dc"/>
<rect x="290.83" y="202.88" width="5.93" height="5.92" fill="#45a7d3"/>
<rect x="296.36" y="202.88" width="5.93" height="5.92" fill="#169bca"/>
<rect x="301.89" y="202.88" width="5.93" height="5.92" fill="#169bca"/>
<rect x="307.42" y="202.88" width="5.93" height="5.92" fill="#169bca"/>
<rect x="312.94" y="202.88" width="5.93" height="5.92" fill="#80b9dc"/>
<rect x="318.47" y="202.88" width="5.53" height="5.92" fill="#169bca"/>
<rect x="224.5" y="208.4" width="5.93" height="5.92" fill="#c3d3e8"/>
<rect x="230.03" y="208.4" width="5.93" height="5.92" fill="#c3d3e8"/>
<rect x="235.56" y="208.4" width="5.93" height="5.92" fill="#dcdcee"/>
<rect x="241.08" y="208.4" width="5.93" height="5.92" fill="#dcdcee"/>
<rect x="246.61" y="208.4" width="5.93" height="5.92" fill="#dcdcee"/>
<rect x="252.14" y="208.4" width="5.93" height="5.92" fill="#c3d3e8"/>
<rect x="257.67" y="208.4" width="5.93" height="5.92" fill="#80b9dc"/>
<rect x="263.19" y="208.4" width="5.93" height="5.92" fill="#80b9dc"/>
<rect x="268.72" y="208.4" width="5.93" height="5.92" fill="#a7c8e2"/>
<rect x="274.25" y="208.4" width="5.93" height="5.92" fill="#c3d3e8"/>
<rect x="279.78" y="208.4" width="5.93" height="5.92" fill="#a7c8e2"/>
<rect x="285.31" y="208.4" width="5.93" height="5.92" fill="#169bca"/>
<rect x="290.83" y="208.4" width="5.93" height="5.92" fill="#a7c8e2"/>
<rect x="296.36" y="208.4" width="5.93" height="5.92" fill="#169bca"/>
<rect x="301.89" y="208.4" width="5.93" height="5.92" fill="#0b6c99"/>
<rect x="307.42" y="208.4" width="5.93" height="5.92" fill="#c3d3e8"/>
<rect x="312.94" y="208.4" width="5.93" height="5.92" fill="#45a7d3"/>
<rect x="318.47" y="208.4" width="5.53" height="5.92" fill="#169bca"/>
<rect x="224.5" y="213.92" width="5.93" height="5.92" fill="#a7c8e2"/>
<rect x="230.03" y="213.92" width="5.93" height="5.92" fill="#dcdcee"/>
<rect x="235.56" y="213.92" width="5.93" height="5.92" fill="#dcdcee"/>
<rect x="241.08" y="213.92" width="5.93" height="5.92" fill="#efeaf4"/>
<rect x="246.61" y="213.92" width="5.93" height="5.92" fill="#c3d3e8"/>
<rect x="252.14" y="213.92" width="5.93" height="5.92" fill="#dcdcee"/>
<rect x="257.67" y="213.92" width="5.93" height="5.92" fill="#80b9dc"/>
<rect x="263.19" y="213.92" width="5.93" height="5.92" fill="#80b9dc"/>
<rect x="268.72" y="213.92" width="5.93" height="5.92" fill="#80b9dc"/>
<rect x="274.25" y="213.92" width="5.93" height="5.92" fill="#dcdcee"/>
<rect x="279.78" y="213.92" width="5.93" height="5.92" fill="#169bca"/>
<rect x="285.31" y="213.92" width="5.93" height="5.92" fill="#169bca"/>
<rect x="290.83" y="213.92" width="5.93" height="5.92" fill="#80b9dc"/>
<rect x="296.36" y="213.92" width="5.93" height="5.92" fill="#169bca"/>
<rect x="301.89" y="213.92" width="5.93" height="5.92" fill="#169bca"/>
<rect x="307.42" y="213.92" width="5.93" height="5.92" fill="#80b9dc"/>
<rect x="312.94" y="213.92" width="5.93" height="5.92" fill="#169bca"/>
<rect x="318.47" y="213.92" width="5.53" height="5.92" fill="#0a86b8"/>
<rect x="224.5" y="219.44" width="5.93" height="5.92" fill="#c3d3e8"/>
<rect x="230.03" y="219.44" width="5.93" height="5.92" fill="#dcdcee"/>
<rect x="235.56" y="219.44" width="5.93" height="5.92" fill="#dcdcee"/>
<rect x="241.08" y="219.44" width="5.93" height="5.92" fill="#dcdcee"/>
<rect x="246.61" y="219.44" width="5.93" height="5.92" fill="#dcdcee"/>
<rect x="252.14" y="219.44" width="5.93" height="5.92" fill="#dcdcee"/>
<rect x="257.67" y="219.44" width="5.93" height="5.92" fill="#80b9dc"/>
<rect x="263.19" y="219.44" width="5.93" height="5.92" fill="#a7c8e2"/>
<rect x="268.72" y="219.44" width="5.93" height="5.92" fill="#169bca"/>
<rect x="274.25" y="219.44" width="5.93" height="5.92" fill="#dcdcee"/>
<rect x="279.78" y="219.44" width="5.93" height="5.92" fill="#80b9dc"/>
<rect x="285.31" y="219.44" width="5.93" height="5.92" fill="#169bca"/>
<rect x="290.83" y="219.44" width="5.93" height="5.92" fill="#a7c8e2"/>
<rect x="296.36" y="219.44" width="5.93" height="5.92" fill="#45a7d3"/>
<rect x="301.89" y="219.44" width="5.93" height="5.92" fill="#0a86b8"/>
<rect x="307.42" y="219.44" width="5.93" height="5.92" fill="#a7c8e2"/>
<rect x="312.94" y="219.44" width="5.93" height="5.92" fill="#45a7d3"/>
<rect x="318.47" y="219.44" width="5.53" height="5.92" fill="#0a86b8"/>
<rect x="224.5" y="224.96" width="5.93" height="5.92" fill="#c3d3e8"/>
<rect x="230.03" y="224.96" width="5.93" height="5.92" fill="#c3d3e8"/>
<rect x="235.56" y="224.96" width="5.93" height="5.92" fill="#a7c8e2"/>
<rect x="241.08" y="224.96" width="5.93" height="5.92" fill="#efeaf4"/>
<rect x="246.61" y="224.96" width="5.93" height="5.92" fill="#dcdcee"/>
<rect x="252.14" y="224.96" width="5.93" height="5.92" fill="#c3d3e8"/>
<rect x="257.67" y="224.96" width="5.93" height="5.92" fill="#80b9dc"/>
<rect x="263.19" y="224.96" width="5.93" height="5.92" fill="#efeaf4"/>
<rect x="268.72" y="224.96" width="5.93" height="5.92" fill="#80b9dc"/>
<rect x="274.25" y="224.96" width="5.93" height="5.92" fill="#a7c8e2"/>
<rect x="279.78" y="224.96" width="5.93" height="5.92" fill="#45a7d3"/>
<rect x="285.31" y="224.96" width="5.93" height="5.92" fill="#169bca"/>
<rect x="290.83" y="224.96" width="5.93" height="5.92" fill="#a7c8e2"/>
<rect x="296.36" y="224.96" width="5.93" height="5.92" fill="#0a86b8"/>
<rect x="301.89" y="224.96" width="5.93" height="5.92" fill="#169bca"/>
<rect x="307.42" y="224.96" width="5.93" height="5.92" fill="#a7c8e2"/>
<rect x="312.94" y="224.96" width="5.93" height="5.92" fill="#169bca"/>
<rect x="318.47" y="224.96" width="5.53" height="5.92" fill="#169bca"/>
<rect x="224.5" y="230.48" width="5.93" height="5.52" fill="#a7c8e2"/>
<rect x="230.03" y="230.48" width="5.93" height="5.52" fill="#80b9dc"/>
<rect x="235.56" y="230.48" width="5.93" height="5.52" fill="#dcdcee"/>
<rect x="241.08" y="230.48" width="5.93" height="5.52" fill="#efeaf4"/>
<rect x="246.61" y="230.48" width="5.93" height="5.52" fill="#dcdcee"/>
<rect x="252.14" y="230.48" width="5.93" height="5.52" fill="#efeaf4"/>
<rect x="257.67" y="230.48" width="5.93" height="5.52" fill="#80b9dc"/>
<rect x="263.19" y="230.48" width="5.93" height="5.52" fill="#c3d3e8"/>
<rect x="268.72" y="230.48" width="5.93" height="5.52" fill="#a7c8e2"/>
<rect x="274.25" y="230.48" width="5.93" height="5.52" fill="#c3d3e8"/>
<rect x="279.78" y="230.48" width="5.93" height="5.52" fill="#169bca"/>
<rect x="285.31" y="230.48" width="5.93" height="5.52" fill="#0b6c99"/>
<rect x="290.83" y="230.48" width="5.93" height="5.52" fill="#a7c8e2"/>
<rect x="296.36" y="230.48" width="5.93" height="5.52" fill="#169bca"/>
<rect x="301.89" y="230.48" width="5.93" height="5.52" fill="#169bca"/>
<rect x="307.42" y="230.48" width="5.93" height="5.52" fill="#80b9dc"/>
<rect x="312.94" y="230.48" width="5.93" height="5.52" fill="#169bca"/>
<rect x="318.47" y="230.48" width="5.53" height="5.52" fill="#169bca"/>
<text x="222.60" y="75.06" font-size="5.6" text-anchor="end" fill="#3c3c3c" font-weight="normal">ACTC1</text>
<text x="222.60" y="80.58" font-size="5.6" text-anchor="end" fill="#3c3c3c" font-weight="normal">VSNL1</text>
<text x="222.60" y="86.10" font-size="5.6" text-anchor="end" fill="#3c3c3c" font-weight="normal">DNAJC12</text>
<text x="222.60" y="91.62" font-size="5.6" text-anchor="end" fill="#3c3c3c" font-weight="normal">DMRTA2</text>
<text x="222.60" y="97.14" font-size="5.6" text-anchor="end" fill="#3c3c3c" font-weight="normal">CRB1</text>
<text x="222.60" y="102.66" font-size="5.6" text-anchor="end" fill="#3c3c3c" font-weight="normal">SILC1</text>
<text x="222.60" y="108.18" font-size="5.6" text-anchor="end" fill="#3c3c3c" font-weight="normal">TYMSOS</text>
<text x="222.60" y="113.70" font-size="5.6" text-anchor="end" fill="#3c3c3c" font-weight="normal">KRTAP10-10</text>
<text x="222.60" y="119.22" font-size="5.6" text-anchor="end" fill="#3c3c3c" font-weight="normal">SMOC1</text>
<text x="222.60" y="124.74" font-size="5.6" text-anchor="end" fill="#3c3c3c" font-weight="normal">RAB34</text>
<text x="222.60" y="130.26" font-size="5.6" text-anchor="end" fill="#3c3c3c" font-weight="normal">ZNF219</text>
<text x="222.60" y="135.78" font-size="5.6" text-anchor="end" fill="#3c3c3c" font-weight="normal">LSM2</text>
<text x="222.60" y="141.30" font-size="5.6" text-anchor="end" fill="#3c3c3c" font-weight="normal">DUSP4</text>
<text x="222.60" y="146.82" font-size="5.6" text-anchor="end" fill="#3c3c3c" font-weight="normal">MDK</text>
<text x="222.60" y="152.34" font-size="5.6" text-anchor="end" fill="#3c3c3c" font-weight="normal">ERFE</text>
<text x="222.60" y="157.86" font-size="5.6" text-anchor="end" fill="#3c3c3c" font-weight="normal">RARRES2</text>
<text x="222.60" y="163.38" font-size="5.6" text-anchor="end" fill="#3c3c3c" font-weight="normal">DHRSX</text>
<text x="222.60" y="168.90" font-size="5.6" text-anchor="end" fill="#3c3c3c" font-weight="normal">PHLDA1</text>
<text x="222.60" y="174.42" font-size="5.6" text-anchor="end" fill="#3c3c3c" font-weight="normal">PIK3C3</text>
<text x="222.60" y="179.94" font-size="5.6" text-anchor="end" fill="#3c3c3c" font-weight="normal">SAP30</text>
<text x="222.60" y="185.46" font-size="5.6" text-anchor="end" fill="#3c3c3c" font-weight="normal">TMEM98</text>
<text x="222.60" y="190.98" font-size="5.6" text-anchor="end" fill="#3c3c3c" font-weight="normal">MID1</text>
<text x="222.60" y="196.50" font-size="5.6" text-anchor="end" fill="#3c3c3c" font-weight="normal">CA14</text>
<text x="222.60" y="202.02" font-size="5.6" text-anchor="end" fill="#3c3c3c" font-weight="normal">PRKCQ-AS1</text>
<text x="222.60" y="207.54" font-size="5.6" text-anchor="end" fill="#3c3c3c" font-weight="normal">CENPH</text>
<text x="222.60" y="213.06" font-size="5.6" text-anchor="end" fill="#3c3c3c" font-weight="normal">EMX2</text>
<text x="222.60" y="218.58" font-size="5.6" text-anchor="end" fill="#3c3c3c" font-weight="normal">CENPN</text>
<text x="222.60" y="224.10" font-size="5.6" text-anchor="end" fill="#3c3c3c" font-weight="normal">MIR99AHG</text>
<text x="222.60" y="229.62" font-size="5.6" text-anchor="end" fill="#3c3c3c" font-weight="normal">HAUS6</text>
<text x="222.60" y="235.14" font-size="5.6" text-anchor="end" fill="#3c3c3c" font-weight="normal">HMMR</text>
<text x="223.30" y="249.40" font-size="8.6" text-anchor="start" fill="#222" font-weight="normal" textLength="63.2" lengthAdjust="spacingAndGlyphs">subventricular</text>
<rect x="224.5" y="251.9" width="5.93" height="5.6" fill="#efeaf4"/>
<rect x="230.03" y="251.9" width="5.93" height="5.6" fill="#c3d3e8"/>
<rect x="235.56" y="251.9" width="5.93" height="5.6" fill="#a7c8e2"/>
<rect x="241.08" y="251.9" width="5.93" height="5.6" fill="#c3d3e8"/>
<rect x="246.61" y="251.9" width="5.93" height="5.6" fill="#c3d3e8"/>
<rect x="252.14" y="251.9" width="5.93" height="5.6" fill="#efeaf4"/>
<rect x="257.67" y="251.9" width="5.93" height="5.6" fill="#a7c8e2"/>
<rect x="263.19" y="251.9" width="5.93" height="5.6" fill="#80b9dc"/>
<rect x="268.72" y="251.9" width="5.93" height="5.6" fill="#80b9dc"/>
<rect x="274.25" y="251.9" width="5.93" height="5.6" fill="#169bca"/>
<rect x="279.78" y="251.9" width="5.93" height="5.6" fill="#169bca"/>
<rect x="285.31" y="251.9" width="5.93" height="5.6" fill="#c3d3e8"/>
<rect x="290.83" y="251.9" width="5.93" height="5.6" fill="#0b6c99"/>
<rect x="296.36" y="251.9" width="5.93" height="5.6" fill="#0b6c99"/>
<rect x="301.89" y="251.9" width="5.93" height="5.6" fill="#0b6c99"/>
<rect x="307.42" y="251.9" width="5.93" height="5.6" fill="#0b6c99"/>
<rect x="312.94" y="251.9" width="5.93" height="5.6" fill="#0e5577"/>
<rect x="318.47" y="251.9" width="5.53" height="5.6" fill="#0b6c99"/>
<text x="221.80" y="256.80" font-size="5.9" text-anchor="end" fill="#3c3c3c" font-weight="normal">CACNA1C</text>
<text x="223.30" y="263.40" font-size="5.0" text-anchor="start" fill="#333" font-weight="normal" textLength="40.5" lengthAdjust="spacingAndGlyphs">hypoallometric</text>
<text x="323.50" y="263.40" font-size="5.0" text-anchor="end" fill="#333" font-weight="normal" textLength="43.7" lengthAdjust="spacingAndGlyphs">hyperallometric</text>
<text x="359.00" y="22.00" font-size="8.8" text-anchor="start" fill="#222" font-weight="normal" textLength="58.0" lengthAdjust="spacingAndGlyphs">cortical plate</text>
<rect x="358.9" y="25.2" width="5.04" height="5.03" fill="#f66c56"/>
<rect x="363.54" y="25.2" width="5.04" height="5.03" fill="#f66c56"/>
<rect x="368.18" y="25.2" width="5.04" height="5.03" fill="#fcc2a9"/>
<rect x="372.82" y="25.2" width="5.04" height="5.03" fill="#ec4f43"/>
<rect x="377.46" y="25.2" width="5.04" height="5.03" fill="#fcc2a9"/>
<rect x="382.1" y="25.2" width="5.04" height="5.03" fill="#fca88e"/>
<rect x="386.75" y="25.2" width="5.04" height="5.03" fill="#f66c56"/>
<rect x="391.39" y="25.2" width="5.04" height="5.03" fill="#fca88e"/>
<rect x="396.03" y="25.2" width="5.04" height="5.03" fill="#fcc2a9"/>
<rect x="400.67" y="25.2" width="5.04" height="5.03" fill="#fdd7c4"/>
<rect x="405.31" y="25.2" width="5.04" height="5.03" fill="#fdd7c4"/>
<rect x="409.95" y="25.2" width="5.04" height="5.03" fill="#fb8a6e"/>
<rect x="414.59" y="25.2" width="5.04" height="5.03" fill="#ec4f43"/>
<rect x="419.23" y="25.2" width="5.04" height="5.03" fill="#fcc2a9"/>
<rect x="423.87" y="25.2" width="5.04" height="5.03" fill="#fcc2a9"/>
<rect x="428.51" y="25.2" width="5.04" height="5.03" fill="#fdd7c4"/>
<rect x="433.15" y="25.2" width="5.04" height="5.03" fill="#fdd7c4"/>
<rect x="437.8" y="25.2" width="5.04" height="5.03" fill="#fcc2a9"/>
<rect x="442.44" y="25.2" width="5.04" height="5.03" fill="#fee6da"/>
<rect x="447.08" y="25.2" width="5.04" height="5.03" fill="#fdd7c4"/>
<rect x="451.72" y="25.2" width="5.04" height="5.03" fill="#fff4ee"/>
<rect x="456.36" y="25.2" width="4.64" height="5.03" fill="#fcc2a9"/>
<rect x="358.9" y="29.83" width="5.04" height="5.03" fill="#fca88e"/>
<rect x="363.54" y="29.83" width="5.04" height="5.03" fill="#fca88e"/>
<rect x="368.18" y="29.83" width="5.04" height="5.03" fill="#fb8a6e"/>
<rect x="372.82" y="29.83" width="5.04" height="5.03" fill="#f66c56"/>
<rect x="377.46" y="29.83" width="5.04" height="5.03" fill="#ec4f43"/>
<rect x="382.1" y="29.83" width="5.04" height="5.03" fill="#f66c56"/>
<rect x="386.75" y="29.83" width="5.04" height="5.03" fill="#fca88e"/>
<rect x="391.39" y="29.83" width="5.04" height="5.03" fill="#fdd7c4"/>
<rect x="396.03" y="29.83" width="5.04" height="5.03" fill="#f66c56"/>
<rect x="400.67" y="29.83" width="5.04" height="5.03" fill="#d63a38"/>
<rect x="405.31" y="29.83" width="5.04" height="5.03" fill="#fcc2a9"/>
<rect x="409.95" y="29.83" width="5.04" height="5.03" fill="#fca88e"/>
<rect x="414.59" y="29.83" width="5.04" height="5.03" fill="#fca88e"/>
<rect x="419.23" y="29.83" width="5.04" height="5.03" fill="#fb8a6e"/>
<rect x="423.87" y="29.83" width="5.04" height="5.03" fill="#fca88e"/>
<rect x="428.51" y="29.83" width="5.04" height="5.03" fill="#fdd7c4"/>
<rect x="433.15" y="29.83" width="5.04" height="5.03" fill="#fdd7c4"/>
<rect x="437.8" y="29.83" width="5.04" height="5.03" fill="#fcc2a9"/>
<rect x="442.44" y="29.83" width="5.04" height="5.03" fill="#fdd7c4"/>
<rect x="447.08" y="29.83" width="5.04" height="5.03" fill="#fee6da"/>
<rect x="451.72" y="29.83" width="5.04" height="5.03" fill="#fee6da"/>
<rect x="456.36" y="29.83" width="4.64" height="5.03" fill="#fdd7c4"/>
<rect x="358.9" y="34.46" width="5.04" height="5.03" fill="#fca88e"/>
<rect x="363.54" y="34.46" width="5.04" height="5.03" fill="#ec4f43"/>
<rect x="368.18" y="34.46" width="5.04" height="5.03" fill="#fcc2a9"/>
<rect x="372.82" y="34.46" width="5.04" height="5.03" fill="#fcc2a9"/>
<rect x="377.46" y="34.46" width="5.04" height="5.03" fill="#fb8a6e"/>
<rect x="382.1" y="34.46" width="5.04" height="5.03" fill="#d63a38"/>
<rect x="386.75" y="34.46" width="5.04" height="5.03" fill="#fcc2a9"/>
<rect x="391.39" y="34.46" width="5.04" height="5.03" fill="#fdd7c4"/>
<rect x="396.03" y="34.46" width="5.04" height="5.03" fill="#d63a38"/>
<rect x="400.67" y="34.46" width="5.04" height="5.03" fill="#d63a38"/>
<rect x="405.31" y="34.46" width="5.04" height="5.03" fill="#fca88e"/>
<rect x="409.95" y="34.46" width="5.04" height="5.03" fill="#fcc2a9"/>
<rect x="414.59" y="34.46" width="5.04" height="5.03" fill="#fdd7c4"/>
<rect x="419.23" y="34.46" width="5.04" height="5.03" fill="#fb8a6e"/>
<rect x="423.87" y="34.46" width="5.04" height="5.03" fill="#fdd7c4"/>
<rect x="428.51" y="34.46" width="5.04" height="5.03" fill="#fdd7c4"/>
<rect x="433.15" y="34.46" width="5.04" height="5.03" fill="#fdd7c4"/>
<rect x="437.8" y="34.46" width="5.04" height="5.03" fill="#fdd7c4"/>
<rect x="442.44" y="34.46" width="5.04" height="5.03" fill="#fcc2a9"/>
<rect x="447.08" y="34.46" width="5.04" height="5.03" fill="#fee6da"/>
<rect x="451.72" y="34.46" width="5.04" height="5.03" fill="#fdd7c4"/>
<rect x="456.36" y="34.46" width="4.64" height="5.03" fill="#fdd7c4"/>
<rect x="358.9" y="39.09" width="5.04" height="5.03" fill="#f66c56"/>
<rect x="363.54" y="39.09" width="5.04" height="5.03" fill="#f66c56"/>
<rect x="368.18" y="39.09" width="5.04" height="5.03" fill="#fcc2a9"/>
<rect x="372.82" y="39.09" width="5.04" height="5.03" fill="#fcc2a9"/>
<rect x="377.46" y="39.09" width="5.04" height="5.03" fill="#fb8a6e"/>
<rect x="382.1" y="39.09" width="5.04" height="5.03" fill="#d63a38"/>
<rect x="386.75" y="39.09" width="5.04" height="5.03" fill="#fcc2a9"/>
<rect x="391.39" y="39.09" width="5.04" height="5.03" fill="#fdd7c4"/>
<rect x="396.03" y="39.09" width="5.04" height="5.03" fill="#f66c56"/>
<rect x="400.67" y="39.09" width="5.04" height="5.03" fill="#f66c56"/>
<rect x="405.31" y="39.09" width="5.04" height="5.03" fill="#fb8a6e"/>
<rect x="409.95" y="39.09" width="5.04" height="5.03" fill="#fcc2a9"/>
<rect x="414.59" y="39.09" width="5.04" height="5.03" fill="#fdd7c4"/>
<rect x="419.23" y="39.09" width="5.04" height="5.03" fill="#fb8a6e"/>
<rect x="423.87" y="39.09" width="5.04" height="5.03" fill="#fee6da"/>
<rect x="428.51" y="39.09" width="5.04" height="5.03" fill="#fcc2a9"/>
<rect x="433.15" y="39.09" width="5.04" height="5.03" fill="#fdd7c4"/>
<rect x="437.8" y="39.09" width="5.04" height="5.03" fill="#fdd7c4"/>
<rect x="442.44" y="39.09" width="5.04" height="5.03" fill="#fdd7c4"/>
<rect x="447.08" y="39.09" width="5.04" height="5.03" fill="#fee6da"/>
<rect x="451.72" y="39.09" width="5.04" height="5.03" fill="#fcc2a9"/>
<rect x="456.36" y="39.09" width="4.64" height="5.03" fill="#fee6da"/>
<rect x="358.9" y="43.72" width="5.04" height="5.03" fill="#ec4f43"/>
<rect x="363.54" y="43.72" width="5.04" height="5.03" fill="#fca88e"/>
<rect x="368.18" y="43.72" width="5.04" height="5.03" fill="#fee6da"/>
<rect x="372.82" y="43.72" width="5.04" height="5.03" fill="#fca88e"/>
<rect x="377.46" y="43.72" width="5.04" height="5.03" fill="#fdd7c4"/>
<rect x="382.1" y="43.72" width="5.04" height="5.03" fill="#fca88e"/>
<rect x="386.75" y="43.72" width="5.04" height="5.03" fill="#fca88e"/>
<rect x="391.39" y="43.72" width="5.04" height="5.03" fill="#fca88e"/>
<rect x="396.03" y="43.72" width="5.04" height="5.03" fill="#fca88e"/>
<rect x="400.67" y="43.72" width="5.04" height="5.03" fill="#fca88e"/>
<rect x="405.31" y="43.72" width="5.04" height="5.03" fill="#fca88e"/>
<rect x="409.95" y="43.72" width="5.04" height="5.03" fill="#fca88e"/>
<rect x="414.59" y="43.72" width="5.04" height="5.03" fill="#fca88e"/>
<rect x="419.23" y="43.72" width="5.04" height="5.03" fill="#fcc2a9"/>
<rect x="423.87" y="43.72" width="5.04" height="5.03" fill="#fca88e"/>
<rect x="428.51" y="43.72" width="5.04" height="5.03" fill="#fdd7c4"/>
<rect x="433.15" y="43.72" width="5.04" height="5.03" fill="#fca88e"/>
<rect x="437.8" y="43.72" width="5.04" height="5.03" fill="#fdd7c4"/>
<rect x="442.44" y="43.72" width="5.04" height="5.03" fill="#fdd7c4"/>
<rect x="447.08" y="43.72" width="5.04" height="5.03" fill="#fdd7c4"/>
<rect x="451.72" y="43.72" width="5.04" height="5.03" fill="#fee6da"/>
<rect x="456.36" y="43.72" width="4.64" height="5.03" fill="#fdd7c4"/>
<rect x="358.9" y="48.35" width="5.04" height="5.03" fill="#fca88e"/>
<rect x="363.54" y="48.35" width="5.04" height="5.03" fill="#f66c56"/>
<rect x="368.18" y="48.35" width="5.04" height="5.03" fill="#fcc2a9"/>
<rect x="372.82" y="48.35" width="5.04" height="5.03" fill="#fdd7c4"/>
<rect x="377.46" y="48.35" width="5.04" height="5.03" fill="#fca88e"/>
<rect x="382.1" y="48.35" width="5.04" height="5.03" fill="#ec4f43"/>
<rect x="386.75" y="48.35" width="5.04" height="5.03" fill="#fee6da"/>
<rect x="391.39" y="48.35" width="5.04" height="5.03" fill="#fca88e"/>
<rect x="396.03" y="48.35" width="5.04" height="5.03" fill="#fca88e"/>
<rect x="400.67" y="48.35" width="5.04" height="5.03" fill="#fdd7c4"/>
<rect x="405.31" y="48.35" width="5.04" height="5.03" fill="#fcc2a9"/>
<rect x="409.95" y="48.35" width="5.04" height="5.03" fill="#fdd7c4"/>
<rect x="414.59" y="48.35" width="5.04" height="5.03" fill="#fee6da"/>
<rect x="419.23" y="48.35" width="5.04" height="5.03" fill="#fcc2a9"/>
<rect x="423.87" y="48.35" width="5.04" height="5.03" fill="#fcc2a9"/>
<rect x="428.51" y="48.35" width="5.04" height="5.03" fill="#fcc2a9"/>
<rect x="433.15" y="48.35" width="5.04" height="5.03" fill="#fdd7c4"/>
<rect x="437.8" y="48.35" width="5.04" height="5.03" fill="#fcc2a9"/>
<rect x="442.44" y="48.35" width="5.04" height="5.03" fill="#fcc2a9"/>
<rect x="447.08" y="48.35" width="5.04" height="5.03" fill="#fee6da"/>
<rect x="451.72" y="48.35" width="5.04" height="5.03" fill="#fee6da"/>
<rect x="456.36" y="48.35" width="4.64" height="5.03" fill="#fdd7c4"/>
<rect x="358.9" y="52.98" width="5.04" height="5.03" fill="#b63032"/>
<rect x="363.54" y="52.98" width="5.04" height="5.03" fill="#fca88e"/>
<rect x="368.18" y="52.98" width="5.04" height="5.03" fill="#fdd7c4"/>
<rect x="372.82" y="52.98" width="5.04" height="5.03" fill="#fcc2a9"/>
<rect x="377.46" y="52.98" width="5.04" height="5.03" fill="#fb8a6e"/>
<rect x="382.1" y="52.98" width="5.04" height="5.03" fill="#fcc2a9"/>
<rect x="386.75" y="52.98" width="5.04" height="5.03" fill="#fcc2a9"/>
<rect x="391.39" y="52.98" width="5.04" height="5.03" fill="#fcc2a9"/>
<rect x="396.03" y="52.98" width="5.04" height="5.03" fill="#fca88e"/>
<rect x="400.67" y="52.98" width="5.04" height="5.03" fill="#fee6da"/>
<rect x="405.31" y="52.98" width="5.04" height="5.03" fill="#fdd7c4"/>
<rect x="409.95" y="52.98" width="5.04" height="5.03" fill="#fcc2a9"/>
<rect x="414.59" y="52.98" width="5.04" height="5.03" fill="#fcc2a9"/>
<rect x="419.23" y="52.98" width="5.04" height="5.03" fill="#fcc2a9"/>
<rect x="423.87" y="52.98" width="5.04" height="5.03" fill="#fcc2a9"/>
<rect x="428.51" y="52.98" width="5.04" height="5.03" fill="#fee6da"/>
<rect x="433.15" y="52.98" width="5.04" height="5.03" fill="#fdd7c4"/>
<rect x="437.8" y="52.98" width="5.04" height="5.03" fill="#fdd7c4"/>
<rect x="442.44" y="52.98" width="5.04" height="5.03" fill="#fdd7c4"/>
<rect x="447.08" y="52.98" width="5.04" height="5.03" fill="#fdd7c4"/>
<rect x="451.72" y="52.98" width="5.04" height="5.03" fill="#fee6da"/>
<rect x="456.36" y="52.98" width="4.64" height="5.03" fill="#fdd7c4"/>
<rect x="358.9" y="57.61" width="5.04" height="4.63" fill="#f66c56"/>
<rect x="363.54" y="57.61" width="5.04" height="4.63" fill="#fca88e"/>
<rect x="368.18" y="57.61" width="5.04" height="4.63" fill="#fca88e"/>
<rect x="372.82" y="57.61" width="5.04" height="4.63" fill="#fdd7c4"/>
<rect x="377.46" y="57.61" width="5.04" height="4.63" fill="#fca88e"/>
<rect x="382.1" y="57.61" width="5.04" height="4.63" fill="#fca88e"/>
<rect x="386.75" y="57.61" width="5.04" height="4.63" fill="#fcc2a9"/>
<rect x="391.39" y="57.61" width="5.04" height="4.63" fill="#fcc2a9"/>
<rect x="396.03" y="57.61" width="5.04" height="4.63" fill="#fca88e"/>
<rect x="400.67" y="57.61" width="5.04" height="4.63" fill="#fdd7c4"/>
<rect x="405.31" y="57.61" width="5.04" height="4.63" fill="#fdd7c4"/>
<rect x="409.95" y="57.61" width="5.04" height="4.63" fill="#fcc2a9"/>
<rect x="414.59" y="57.61" width="5.04" height="4.63" fill="#fdd7c4"/>
<rect x="419.23" y="57.61" width="5.04" height="4.63" fill="#fcc2a9"/>
<rect x="423.87" y="57.61" width="5.04" height="4.63" fill="#fcc2a9"/>
<rect x="428.51" y="57.61" width="5.04" height="4.63" fill="#fee6da"/>
<rect x="433.15" y="57.61" width="5.04" height="4.63" fill="#fdd7c4"/>
<rect x="437.8" y="57.61" width="5.04" height="4.63" fill="#fee6da"/>
<rect x="442.44" y="57.61" width="5.04" height="4.63" fill="#fcc2a9"/>
<rect x="447.08" y="57.61" width="5.04" height="4.63" fill="#fcc2a9"/>
<rect x="451.72" y="57.61" width="5.04" height="4.63" fill="#fdd7c4"/>
<rect x="456.36" y="57.61" width="4.64" height="4.63" fill="#fdd7c4"/>
<text x="357.20" y="29.32" font-size="5.2" text-anchor="end" fill="#3c3c3c" font-weight="normal">ARAP2</text>
<text x="357.20" y="33.94" font-size="5.2" text-anchor="end" fill="#3c3c3c" font-weight="normal">FOCAD</text>
<text x="357.20" y="38.57" font-size="5.2" text-anchor="end" fill="#3c3c3c" font-weight="normal">CHRM3</text>
<text x="357.20" y="43.20" font-size="5.2" text-anchor="end" fill="#3c3c3c" font-weight="normal">TMEM178</text>
<text x="357.20" y="47.83" font-size="5.2" text-anchor="end" fill="#3c3c3c" font-weight="normal">JAM2</text>
<text x="357.20" y="52.46" font-size="5.2" text-anchor="end" fill="#3c3c3c" font-weight="normal">TBAF5</text>
<text x="357.20" y="57.09" font-size="5.2" text-anchor="end" fill="#3c3c3c" font-weight="normal">EFNA5</text>
<text x="357.20" y="61.72" font-size="5.2" text-anchor="end" fill="#3c3c3c" font-weight="normal">FBXO32</text>
<text x="358.60" y="71.20" font-size="8.6" text-anchor="start" fill="#222" font-weight="normal" textLength="37.9" lengthAdjust="spacingAndGlyphs">subplate</text>
<rect x="358.9" y="74.4" width="5.04" height="4.3" fill="#d63a38"/>
<rect x="363.54" y="74.4" width="5.04" height="4.3" fill="#fb8a6e"/>
<rect x="368.18" y="74.4" width="5.04" height="4.3" fill="#fcc2a9"/>
<rect x="372.82" y="74.4" width="5.04" height="4.3" fill="#fcc2a9"/>
<rect x="377.46" y="74.4" width="5.04" height="4.3" fill="#fcc2a9"/>
<rect x="382.1" y="74.4" width="5.04" height="4.3" fill="#fcc2a9"/>
<rect x="386.75" y="74.4" width="5.04" height="4.3" fill="#fca88e"/>
<rect x="391.39" y="74.4" width="5.04" height="4.3" fill="#fca88e"/>
<rect x="396.03" y="74.4" width="5.04" height="4.3" fill="#fdd7c4"/>
<rect x="400.67" y="74.4" width="5.04" height="4.3" fill="#fdd7c4"/>
<rect x="405.31" y="74.4" width="5.04" height="4.3" fill="#fdd7c4"/>
<rect x="409.95" y="74.4" width="5.04" height="4.3" fill="#fcc2a9"/>
<rect x="414.59" y="74.4" width="5.04" height="4.3" fill="#fcc2a9"/>
<rect x="419.23" y="74.4" width="5.04" height="4.3" fill="#fdd7c4"/>
<rect x="423.87" y="74.4" width="5.04" height="4.3" fill="#fcc2a9"/>
<rect x="428.51" y="74.4" width="5.04" height="4.3" fill="#fee6da"/>
<rect x="433.15" y="74.4" width="5.04" height="4.3" fill="#fdd7c4"/>
<rect x="437.8" y="74.4" width="5.04" height="4.3" fill="#fdd7c4"/>
<rect x="442.44" y="74.4" width="5.04" height="4.3" fill="#fdd7c4"/>
<rect x="447.08" y="74.4" width="5.04" height="4.3" fill="#fee6da"/>
<rect x="451.72" y="74.4" width="5.04" height="4.3" fill="#fff4ee"/>
<rect x="456.36" y="74.4" width="4.64" height="4.3" fill="#fcc2a9"/>
<text x="357.30" y="78.60" font-size="5.9" text-anchor="end" fill="#3c3c3c" font-weight="normal">VCAN</text>
<text x="359.20" y="89.60" font-size="8.4" text-anchor="start" fill="#222" font-weight="normal" textLength="56.6" lengthAdjust="spacingAndGlyphs">intermediate</text>
<rect x="358.9" y="92.3" width="6.07" height="6.09" fill="#ec4f43"/>
<rect x="364.57" y="92.3" width="6.07" height="6.09" fill="#fca88e"/>
<rect x="370.24" y="92.3" width="6.07" height="6.09" fill="#d63a38"/>
<rect x="375.92" y="92.3" width="6.07" height="6.09" fill="#f66c56"/>
<rect x="381.59" y="92.3" width="6.07" height="6.09" fill="#f66c56"/>
<rect x="387.26" y="92.3" width="6.07" height="6.09" fill="#d63a38"/>
<rect x="392.93" y="92.3" width="6.07" height="6.09" fill="#fca88e"/>
<rect x="398.61" y="92.3" width="6.07" height="6.09" fill="#fb8a6e"/>
<rect x="404.28" y="92.3" width="6.07" height="6.09" fill="#fcc2a9"/>
<rect x="409.95" y="92.3" width="6.07" height="6.09" fill="#fca88e"/>
<rect x="415.62" y="92.3" width="6.07" height="6.09" fill="#fcc2a9"/>
<rect x="421.29" y="92.3" width="6.07" height="6.09" fill="#fcc2a9"/>
<rect x="426.97" y="92.3" width="6.07" height="6.09" fill="#fcc2a9"/>
<rect x="432.64" y="92.3" width="6.07" height="6.09" fill="#fca88e"/>
<rect x="438.31" y="92.3" width="6.07" height="6.09" fill="#fb8a6e"/>
<rect x="443.98" y="92.3" width="6.07" height="6.09" fill="#fdd7c4"/>
<rect x="449.66" y="92.3" width="6.07" height="6.09" fill="#fee6da"/>
<rect x="455.33" y="92.3" width="5.67" height="6.09" fill="#fcc2a9"/>
<rect x="358.9" y="97.99" width="6.07" height="6.09" fill="#f66c56"/>
<rect x="364.57" y="97.99" width="6.07" height="6.09" fill="#f66c56"/>
<rect x="370.24" y="97.99" width="6.07" height="6.09" fill="#f66c56"/>
<rect x="375.92" y="97.99" width="6.07" height="6.09" fill="#f66c56"/>
<rect x="381.59" y="97.99" width="6.07" height="6.09" fill="#fb8a6e"/>
<rect x="387.26" y="97.99" width="6.07" height="6.09" fill="#fb8a6e"/>
<rect x="392.93" y="97.99" width="6.07" height="6.09" fill="#fca88e"/>
<rect x="398.61" y="97.99" width="6.07" height="6.09" fill="#f66c56"/>
<rect x="404.28" y="97.99" width="6.07" height="6.09" fill="#f66c56"/>
<rect x="409.95" y="97.99" width="6.07" height="6.09" fill="#fca88e"/>
<rect x="415.62" y="97.99" width="6.07" height="6.09" fill="#fdd7c4"/>
<rect x="421.29" y="97.99" width="6.07" height="6.09" fill="#fca88e"/>
<rect x="426.97" y="97.99" width="6.07" height="6.09" fill="#fcc2a9"/>
<rect x="432.64" y="97.99" width="6.07" height="6.09" fill="#fb8a6e"/>
<rect x="438.31" y="97.99" width="6.07" height="6.09" fill="#fcc2a9"/>
<rect x="443.98" y="97.99" width="6.07" height="6.09" fill="#fff4ee"/>
<rect x="449.66" y="97.99" width="6.07" height="6.09" fill="#fee6da"/>
<rect x="455.33" y="97.99" width="5.67" height="6.09" fill="#fcc2a9"/>
<rect x="358.9" y="103.67" width="6.07" height="6.09" fill="#f66c56"/>
<rect x="364.57" y="103.67" width="6.07" height="6.09" fill="#f66c56"/>
<rect x="370.24" y="103.67" width="6.07" height="6.09" fill="#fb8a6e"/>
<rect x="375.92" y="103.67" width="6.07" height="6.09" fill="#d63a38"/>
<rect x="381.59" y="103.67" width="6.07" height="6.09" fill="#f66c56"/>
<rect x="387.26" y="103.67" width="6.07" height="6.09" fill="#fb8a6e"/>
<rect x="392.93" y="103.67" width="6.07" height="6.09" fill="#fcc2a9"/>
<rect x="398.61" y="103.67" width="6.07" height="6.09" fill="#ec4f43"/>
<rect x="404.28" y="103.67" width="6.07" height="6.09" fill="#fca88e"/>
<rect x="409.95" y="103.67" width="6.07" height="6.09" fill="#fca88e"/>
<rect x="415.62" y="103.67" width="6.07" height="6.09" fill="#fdd7c4"/>
<rect x="421.29" y="103.67" width="6.07" height="6.09" fill="#fcc2a9"/>
<rect x="426.97" y="103.67" width="6.07" height="6.09" fill="#fca88e"/>
<rect x="432.64" y="103.67" width="6.07" height="6.09" fill="#fcc2a9"/>
<rect x="438.31" y="103.67" width="6.07" height="6.09" fill="#fcc2a9"/>
<rect x="443.98" y="103.67" width="6.07" height="6.09" fill="#fdd7c4"/>
<rect x="449.66" y="103.67" width="6.07" height="6.09" fill="#fdd7c4"/>
<rect x="455.33" y="103.67" width="5.67" height="6.09" fill="#fdd7c4"/>
<rect x="358.9" y="109.36" width="6.07" height="6.09" fill="#fca88e"/>
<rect x="364.57" y="109.36" width="6.07" height="6.09" fill="#fb8a6e"/>
<rect x="370.24" y="109.36" width="6.07" height="6.09" fill="#f66c56"/>
<rect x="375.92" y="109.36" width="6.07" height="6.09" fill="#ec4f43"/>
<rect x="381.59" y="109.36" width="6.07" height="6.09" fill="#d63a38"/>
<rect x="387.26" y="109.36" width="6.07" height="6.09" fill="#f66c56"/>
<rect x="392.93" y="109.36" width="6.07" height="6.09" fill="#fcc2a9"/>
<rect x="398.61" y="109.36" width="6.07" height="6.09" fill="#f66c56"/>
<rect x="404.28" y="109.36" width="6.07" height="6.09" fill="#fb8a6e"/>
<rect x="409.95" y="109.36" width="6.07" height="6.09" fill="#fb8a6e"/>
<rect x="415.62" y="109.36" width="6.07" height="6.09" fill="#fdd7c4"/>
<rect x="421.29" y="109.36" width="6.07" height="6.09" fill="#fcc2a9"/>
<rect x="426.97" y="109.36" width="6.07" height="6.09" fill="#fcc2a9"/>
<rect x="432.64" y="109.36" width="6.07" height="6.09" fill="#fdd7c4"/>
<rect x="438.31" y="109.36" width="6.07" height="6.09" fill="#fdd7c4"/>
<rect x="443.98" y="109.36" width="6.07" height="6.09" fill="#fee6da"/>
<rect x="449.66" y="109.36" width="6.07" height="6.09" fill="#fdd7c4"/>
<rect x="455.33" y="109.36" width="5.67" height="6.09" fill="#fdd7c4"/>
<rect x="358.9" y="115.04" width="6.07" height="6.09" fill="#fca88e"/>
<rect x="364.57" y="115.04" width="6.07" height="6.09" fill="#ec4f43"/>
<rect x="370.24" y="115.04" width="6.07" height="6.09" fill="#fb8a6e"/>
<rect x="375.92" y="115.04" width="6.07" height="6.09" fill="#f66c56"/>
<rect x="381.59" y="115.04" width="6.07" height="6.09" fill="#d63a38"/>
<rect x="387.26" y="115.04" width="6.07" height="6.09" fill="#fb8a6e"/>
<rect x="392.93" y="115.04" width="6.07" height="6.09" fill="#fca88e"/>
<rect x="398.61" y="115.04" width="6.07" height="6.09" fill="#fb8a6e"/>
<rect x="404.28" y="115.04" width="6.07" height="6.09" fill="#f66c56"/>
<rect x="409.95" y="115.04" width="6.07" height="6.09" fill="#fcc2a9"/>
<rect x="415.62" y="115.04" width="6.07" height="6.09" fill="#fdd7c4"/>
<rect x="421.29" y="115.04" width="6.07" height="6.09" fill="#fdd7c4"/>
<rect x="426.97" y="115.04" width="6.07" height="6.09" fill="#fca88e"/>
<rect x="432.64" y="115.04" width="6.07" height="6.09" fill="#fcc2a9"/>
<rect x="438.31" y="115.04" width="6.07" height="6.09" fill="#fdd7c4"/>
<rect x="443.98" y="115.04" width="6.07" height="6.09" fill="#fdd7c4"/>
<rect x="449.66" y="115.04" width="6.07" height="6.09" fill="#fdd7c4"/>
<rect x="455.33" y="115.04" width="5.67" height="6.09" fill="#fca88e"/>
<rect x="358.9" y="120.73" width="6.07" height="6.09" fill="#fca88e"/>
<rect x="364.57" y="120.73" width="6.07" height="6.09" fill="#ec4f43"/>
<rect x="370.24" y="120.73" width="6.07" height="6.09" fill="#fb8a6e"/>
<rect x="375.92" y="120.73" width="6.07" height="6.09" fill="#f66c56"/>
<rect x="381.59" y="120.73" width="6.07" height="6.09" fill="#b63032"/>
<rect x="387.26" y="120.73" width="6.07" height="6.09" fill="#fcc2a9"/>
<rect x="392.93" y="120.73" width="6.07" height="6.09" fill="#fcc2a9"/>
<rect x="398.61" y="120.73" width="6.07" height="6.09" fill="#fb8a6e"/>
<rect x="404.28" y="120.73" width="6.07" height="6.09" fill="#f66c56"/>
<rect x="409.95" y="120.73" width="6.07" height="6.09" fill="#fcc2a9"/>
<rect x="415.62" y="120.73" width="6.07" height="6.09" fill="#fcc2a9"/>
<rect x="421.29" y="120.73" width="6.07" height="6.09" fill="#fdd7c4"/>
<rect x="426.97" y="120.73" width="6.07" height="6.09" fill="#fdd7c4"/>
<rect x="432.64" y="120.73" width="6.07" height="6.09" fill="#fdd7c4"/>
<rect x="438.31" y="120.73" width="6.07" height="6.09" fill="#fdd7c4"/>
<rect x="443.98" y="120.73" width="6.07" height="6.09" fill="#fee6da"/>
<rect x="449.66" y="120.73" width="6.07" height="6.09" fill="#fdd7c4"/>
<rect x="455.33" y="120.73" width="5.67" height="6.09" fill="#fdd7c4"/>
<rect x="358.9" y="126.41" width="6.07" height="6.09" fill="#f66c56"/>
<rect x="364.57" y="126.41" width="6.07" height="6.09" fill="#fb8a6e"/>
<rect x="370.24" y="126.41" width="6.07" height="6.09" fill="#f66c56"/>
<rect x="375.92" y="126.41" width="6.07" height="6.09" fill="#fb8a6e"/>
<rect x="381.59" y="126.41" width="6.07" height="6.09" fill="#fb8a6e"/>
<rect x="387.26" y="126.41" width="6.07" height="6.09" fill="#f66c56"/>
<rect x="392.93" y="126.41" width="6.07" height="6.09" fill="#fca88e"/>
<rect x="398.61" y="126.41" width="6.07" height="6.09" fill="#fdd7c4"/>
<rect x="404.28" y="126.41" width="6.07" height="6.09" fill="#fcc2a9"/>
<rect x="409.95" y="126.41" width="6.07" height="6.09" fill="#ec4f43"/>
<rect x="415.62" y="126.41" width="6.07" height="6.09" fill="#ec4f43"/>
<rect x="421.29" y="126.41" width="6.07" height="6.09" fill="#fdd7c4"/>
<rect x="426.97" y="126.41" width="6.07" height="6.09" fill="#fcc2a9"/>
<rect x="432.64" y="126.41" width="6.07" height="6.09" fill="#fdd7c4"/>
<rect x="438.31" y="126.41" width="6.07" height="6.09" fill="#fcc2a9"/>
<rect x="443.98" y="126.41" width="6.07" height="6.09" fill="#fb8a6e"/>
<rect x="449.66" y="126.41" width="6.07" height="6.09" fill="#fee6da"/>
<rect x="455.33" y="126.41" width="5.67" height="6.09" fill="#fdd7c4"/>
<rect x="358.9" y="132.1" width="6.07" height="6.09" fill="#fcc2a9"/>
<rect x="364.57" y="132.1" width="6.07" height="6.09" fill="#f66c56"/>
<rect x="370.24" y="132.1" width="6.07" height="6.09" fill="#f66c56"/>
<rect x="375.92" y="132.1" width="6.07" height="6.09" fill="#f66c56"/>
<rect x="381.59" y="132.1" width="6.07" height="6.09" fill="#f66c56"/>
<rect x="387.26" y="132.1" width="6.07" height="6.09" fill="#fca88e"/>
<rect x="392.93" y="132.1" width="6.07" height="6.09" fill="#fca88e"/>
<rect x="398.61" y="132.1" width="6.07" height="6.09" fill="#ec4f43"/>
<rect x="404.28" y="132.1" width="6.07" height="6.09" fill="#fb8a6e"/>
<rect x="409.95" y="132.1" width="6.07" height="6.09" fill="#fca88e"/>
<rect x="415.62" y="132.1" width="6.07" height="6.09" fill="#fca88e"/>
<rect x="421.29" y="132.1" width="6.07" height="6.09" fill="#fdd7c4"/>
<rect x="426.97" y="132.1" width="6.07" height="6.09" fill="#fb8a6e"/>
<rect x="432.64" y="132.1" width="6.07" height="6.09" fill="#fca88e"/>
<rect x="438.31" y="132.1" width="6.07" height="6.09" fill="#fff4ee"/>
<rect x="443.98" y="132.1" width="6.07" height="6.09" fill="#fca88e"/>
<rect x="449.66" y="132.1" width="6.07" height="6.09" fill="#fdd7c4"/>
<rect x="455.33" y="132.1" width="5.67" height="6.09" fill="#fee6da"/>
<rect x="358.9" y="137.78" width="6.07" height="6.09" fill="#ec4f43"/>
<rect x="364.57" y="137.78" width="6.07" height="6.09" fill="#ec4f43"/>
<rect x="370.24" y="137.78" width="6.07" height="6.09" fill="#fb8a6e"/>
<rect x="375.92" y="137.78" width="6.07" height="6.09" fill="#ec4f43"/>
<rect x="381.59" y="137.78" width="6.07" height="6.09" fill="#ec4f43"/>
<rect x="387.26" y="137.78" width="6.07" height="6.09" fill="#fca88e"/>
<rect x="392.93" y="137.78" width="6.07" height="6.09" fill="#fcc2a9"/>
<rect x="398.61" y="137.78" width="6.07" height="6.09" fill="#fca88e"/>
<rect x="404.28" y="137.78" width="6.07" height="6.09" fill="#fdd7c4"/>
<rect x="409.95" y="137.78" width="6.07" height="6.09" fill="#fca88e"/>
<rect x="415.62" y="137.78" width="6.07" height="6.09" fill="#fca88e"/>
<rect x="421.29" y="137.78" width="6.07" height="6.09" fill="#fdd7c4"/>
<rect x="426.97" y="137.78" width="6.07" height="6.09" fill="#fca88e"/>
<rect x="432.64" y="137.78" width="6.07" height="6.09" fill="#fcc2a9"/>
<rect x="438.31" y="137.78" width="6.07" height="6.09" fill="#fb8a6e"/>
<rect x="443.98" y="137.78" width="6.07" height="6.09" fill="#fcc2a9"/>
<rect x="449.66" y="137.78" width="6.07" height="6.09" fill="#fee6da"/>
<rect x="455.33" y="137.78" width="5.67" height="6.09" fill="#fdd7c4"/>
<rect x="358.9" y="143.47" width="6.07" height="6.09" fill="#f66c56"/>
<rect x="364.57" y="143.47" width="6.07" height="6.09" fill="#ec4f43"/>
<rect x="370.24" y="143.47" width="6.07" height="6.09" fill="#fca88e"/>
<rect x="375.92" y="143.47" width="6.07" height="6.09" fill="#f66c56"/>
<rect x="381.59" y="143.47" width="6.07" height="6.09" fill="#ec4f43"/>
<rect x="387.26" y="143.47" width="6.07" height="6.09" fill="#d63a38"/>
<rect x="392.93" y="143.47" width="6.07" height="6.09" fill="#fcc2a9"/>
<rect x="398.61" y="143.47" width="6.07" height="6.09" fill="#fca88e"/>
<rect x="404.28" y="143.47" width="6.07" height="6.09" fill="#fca88e"/>
<rect x="409.95" y="143.47" width="6.07" height="6.09" fill="#fca88e"/>
<rect x="415.62" y="143.47" width="6.07" height="6.09" fill="#fb8a6e"/>
<rect x="421.29" y="143.47" width="6.07" height="6.09" fill="#fdd7c4"/>
<rect x="426.97" y="143.47" width="6.07" height="6.09" fill="#fdd7c4"/>
<rect x="432.64" y="143.47" width="6.07" height="6.09" fill="#fcc2a9"/>
<rect x="438.31" y="143.47" width="6.07" height="6.09" fill="#fff4ee"/>
<rect x="443.98" y="143.47" width="6.07" height="6.09" fill="#fcc2a9"/>
<rect x="449.66" y="143.47" width="6.07" height="6.09" fill="#fdd7c4"/>
<rect x="455.33" y="143.47" width="5.67" height="6.09" fill="#fdd7c4"/>
<rect x="358.9" y="149.15" width="6.07" height="6.09" fill="#ec4f43"/>
<rect x="364.57" y="149.15" width="6.07" height="6.09" fill="#fb8a6e"/>
<rect x="370.24" y="149.15" width="6.07" height="6.09" fill="#f66c56"/>
<rect x="375.92" y="149.15" width="6.07" height="6.09" fill="#fca88e"/>
<rect x="381.59" y="149.15" width="6.07" height="6.09" fill="#fb8a6e"/>
<rect x="387.26" y="149.15" width="6.07" height="6.09" fill="#d63a38"/>
<rect x="392.93" y="149.15" width="6.07" height="6.09" fill="#fb8a6e"/>
<rect x="398.61" y="149.15" width="6.07" height="6.09" fill="#fca88e"/>
<rect x="404.28" y="149.15" width="6.07" height="6.09" fill="#fcc2a9"/>
<rect x="409.95" y="149.15" width="6.07" height="6.09" fill="#fca88e"/>
<rect x="415.62" y="149.15" width="6.07" height="6.09" fill="#f66c56"/>
<rect x="421.29" y="149.15" width="6.07" height="6.09" fill="#fdd7c4"/>
<rect x="426.97" y="149.15" width="6.07" height="6.09" fill="#fcc2a9"/>
<rect x="432.64" y="149.15" width="6.07" height="6.09" fill="#fca88e"/>
<rect x="438.31" y="149.15" width="6.07" height="6.09" fill="#fff4ee"/>
<rect x="443.98" y="149.15" width="6.07" height="6.09" fill="#fcc2a9"/>
<rect x="449.66" y="149.15" width="6.07" height="6.09" fill="#fcc2a9"/>
<rect x="455.33" y="149.15" width="5.67" height="6.09" fill="#fee6da"/>
<rect x="358.9" y="154.84" width="6.07" height="6.09" fill="#fb8a6e"/>
<rect x="364.57" y="154.84" width="6.07" height="6.09" fill="#ec4f43"/>
<rect x="370.24" y="154.84" width="6.07" height="6.09" fill="#f66c56"/>
<rect x="375.92" y="154.84" width="6.07" height="6.09" fill="#fb8a6e"/>
<rect x="381.59" y="154.84" width="6.07" height="6.09" fill="#ec4f43"/>
<rect x="387.26" y="154.84" width="6.07" height="6.09" fill="#ec4f43"/>
<rect x="392.93" y="154.84" width="6.07" height="6.09" fill="#fdd7c4"/>
<rect x="398.61" y="154.84" width="6.07" height="6.09" fill="#fb8a6e"/>
<rect x="404.28" y="154.84" width="6.07" height="6.09" fill="#fcc2a9"/>
<rect x="409.95" y="154.84" width="6.07" height="6.09" fill="#ec4f43"/>
<rect x="415.62" y="154.84" width="6.07" height="6.09" fill="#f66c56"/>
<rect x="421.29" y="154.84" width="6.07" height="6.09" fill="#fdd7c4"/>
<rect x="426.97" y="154.84" width="6.07" height="6.09" fill="#fcc2a9"/>
<rect x="432.64" y="154.84" width="6.07" height="6.09" fill="#fdd7c4"/>
<rect x="438.31" y="154.84" width="6.07" height="6.09" fill="#fdd7c4"/>
<rect x="443.98" y="154.84" width="6.07" height="6.09" fill="#fdd7c4"/>
<rect x="449.66" y="154.84" width="6.07" height="6.09" fill="#fdd7c4"/>
<rect x="455.33" y="154.84" width="5.67" height="6.09" fill="#fcc2a9"/>
<rect x="358.9" y="160.52" width="6.07" height="6.09" fill="#fcc2a9"/>
<rect x="364.57" y="160.52" width="6.07" height="6.09" fill="#fb8a6e"/>
<rect x="370.24" y="160.52" width="6.07" height="6.09" fill="#f66c56"/>
<rect x="375.92" y="160.52" width="6.07" height="6.09" fill="#f66c56"/>
<rect x="381.59" y="160.52" width="6.07" height="6.09" fill="#f66c56"/>
<rect x="387.26" y="160.52" width="6.07" height="6.09" fill="#ec4f43"/>
<rect x="392.93" y="160.52" width="6.07" height="6.09" fill="#fca88e"/>
<rect x="398.61" y="160.52" width="6.07" height="6.09" fill="#ec4f43"/>
<rect x="404.28" y="160.52" width="6.07" height="6.09" fill="#fca88e"/>
<rect x="409.95" y="160.52" width="6.07" height="6.09" fill="#ec4f43"/>
<rect x="415.62" y="160.52" width="6.07" height="6.09" fill="#fca88e"/>
<rect x="421.29" y="160.52" width="6.07" height="6.09" fill="#fdd7c4"/>
<rect x="426.97" y="160.52" width="6.07" height="6.09" fill="#fcc2a9"/>
<rect x="432.64" y="160.52" width="6.07" height="6.09" fill="#fdd7c4"/>
<rect x="438.31" y="160.52" width="6.07" height="6.09" fill="#fdd7c4"/>
<rect x="443.98" y="160.52" width="6.07" height="6.09" fill="#fdd7c4"/>
<rect x="449.66" y="160.52" width="6.07" height="6.09" fill="#fcc2a9"/>
<rect x="455.33" y="160.52" width="5.67" height="6.09" fill="#fdd7c4"/>
<rect x="358.9" y="166.21" width="6.07" height="6.09" fill="#fca88e"/>
<rect x="364.57" y="166.21" width="6.07" height="6.09" fill="#f66c56"/>
<rect x="370.24" y="166.21" width="6.07" height="6.09" fill="#f66c56"/>
<rect x="375.92" y="166.21" width="6.07" height="6.09" fill="#ec4f43"/>
<rect x="381.59" y="166.21" width="6.07" height="6.09" fill="#f66c56"/>
<rect x="387.26" y="166.21" width="6.07" height="6.09" fill="#fb8a6e"/>
<rect x="392.93" y="166.21" width="6.07" height="6.09" fill="#fcc2a9"/>
<rect x="398.61" y="166.21" width="6.07" height="6.09" fill="#ec4f43"/>
<rect x="404.28" y="166.21" width="6.07" height="6.09" fill="#fcc2a9"/>
<rect x="409.95" y="166.21" width="6.07" height="6.09" fill="#f66c56"/>
<rect x="415.62" y="166.21" width="6.07" height="6.09" fill="#fca88e"/>
<rect x="421.29" y="166.21" width="6.07" height="6.09" fill="#fdd7c4"/>
<rect x="426.97" y="166.21" width="6.07" height="6.09" fill="#fcc2a9"/>
<rect x="432.64" y="166.21" width="6.07" height="6.09" fill="#fdd7c4"/>
<rect x="438.31" y="166.21" width="6.07" height="6.09" fill="#fdd7c4"/>
<rect x="443.98" y="166.21" width="6.07" height="6.09" fill="#fdd7c4"/>
<rect x="449.66" y="166.21" width="6.07" height="6.09" fill="#fcc2a9"/>
<rect x="455.33" y="166.21" width="5.67" height="6.09" fill="#fdd7c4"/>
<rect x="358.9" y="171.89" width="6.07" height="6.09" fill="#fca88e"/>
<rect x="364.57" y="171.89" width="6.07" height="6.09" fill="#fb8a6e"/>
<rect x="370.24" y="171.89" width="6.07" height="6.09" fill="#d63a38"/>
<rect x="375.92" y="171.89" width="6.07" height="6.09" fill="#d63a38"/>
<rect x="381.59" y="171.89" width="6.07" height="6.09" fill="#f66c56"/>
<rect x="387.26" y="171.89" width="6.07" height="6.09" fill="#fb8a6e"/>
<rect x="392.93" y="171.89" width="6.07" height="6.09" fill="#fca88e"/>
<rect x="398.61" y="171.89" width="6.07" height="6.09" fill="#ec4f43"/>
<rect x="404.28" y="171.89" width="6.07" height="6.09" fill="#fcc2a9"/>
<rect x="409.95" y="171.89" width="6.07" height="6.09" fill="#f66c56"/>
<rect x="415.62" y="171.89" width="6.07" height="6.09" fill="#fca88e"/>
<rect x="421.29" y="171.89" width="6.07" height="6.09" fill="#fdd7c4"/>
<rect x="426.97" y="171.89" width="6.07" height="6.09" fill="#fcc2a9"/>
<rect x="432.64" y="171.89" width="6.07" height="6.09" fill="#fdd7c4"/>
<rect x="438.31" y="171.89" width="6.07" height="6.09" fill="#fdd7c4"/>
<rect x="443.98" y="171.89" width="6.07" height="6.09" fill="#fdd7c4"/>
<rect x="449.66" y="171.89" width="6.07" height="6.09" fill="#fcc2a9"/>
<rect x="455.33" y="171.89" width="5.67" height="6.09" fill="#fdd7c4"/>
<rect x="358.9" y="177.58" width="6.07" height="6.09" fill="#f66c56"/>
<rect x="364.57" y="177.58" width="6.07" height="6.09" fill="#f66c56"/>
<rect x="370.24" y="177.58" width="6.07" height="6.09" fill="#f66c56"/>
<rect x="375.92" y="177.58" width="6.07" height="6.09" fill="#f66c56"/>
<rect x="381.59" y="177.58" width="6.07" height="6.09" fill="#f66c56"/>
<rect x="387.26" y="177.58" width="6.07" height="6.09" fill="#fb8a6e"/>
<rect x="392.93" y="177.58" width="6.07" height="6.09" fill="#fb8a6e"/>
<rect x="398.61" y="177.58" width="6.07" height="6.09" fill="#fcc2a9"/>
<rect x="404.28" y="177.58" width="6.07" height="6.09" fill="#fcc2a9"/>
<rect x="409.95" y="177.58" width="6.07" height="6.09" fill="#fca88e"/>
<rect x="415.62" y="177.58" width="6.07" height="6.09" fill="#fca88e"/>
<rect x="421.29" y="177.58" width="6.07" height="6.09" fill="#fcc2a9"/>
<rect x="426.97" y="177.58" width="6.07" height="6.09" fill="#fca88e"/>
<rect x="432.64" y="177.58" width="6.07" height="6.09" fill="#fca88e"/>
<rect x="438.31" y="177.58" width="6.07" height="6.09" fill="#fee6da"/>
<rect x="443.98" y="177.58" width="6.07" height="6.09" fill="#f66c56"/>
<rect x="449.66" y="177.58" width="6.07" height="6.09" fill="#fcc2a9"/>
<rect x="455.33" y="177.58" width="5.67" height="6.09" fill="#fdd7c4"/>
<rect x="358.9" y="183.26" width="6.07" height="6.09" fill="#f66c56"/>
<rect x="364.57" y="183.26" width="6.07" height="6.09" fill="#fcc2a9"/>
<rect x="370.24" y="183.26" width="6.07" height="6.09" fill="#f66c56"/>
<rect x="375.92" y="183.26" width="6.07" height="6.09" fill="#fb8a6e"/>
<rect x="381.59" y="183.26" width="6.07" height="6.09" fill="#ec4f43"/>
<rect x="387.26" y="183.26" width="6.07" height="6.09" fill="#f66c56"/>
<rect x="392.93" y="183.26" width="6.07" height="6.09" fill="#fca88e"/>
<rect x="398.61" y="183.26" width="6.07" height="6.09" fill="#fcc2a9"/>
<rect x="404.28" y="183.26" width="6.07" height="6.09" fill="#fca88e"/>
<rect x="409.95" y="183.26" width="6.07" height="6.09" fill="#fca88e"/>
<rect x="415.62" y="183.26" width="6.07" height="6.09" fill="#fcc2a9"/>
<rect x="421.29" y="183.26" width="6.07" height="6.09" fill="#fdd7c4"/>
<rect x="426.97" y="183.26" width="6.07" height="6.09" fill="#ec4f43"/>
<rect x="432.64" y="183.26" width="6.07" height="6.09" fill="#fca88e"/>
<rect x="438.31" y="183.26" width="6.07" height="6.09" fill="#fee6da"/>
<rect x="443.98" y="183.26" width="6.07" height="6.09" fill="#fcc2a9"/>
<rect x="449.66" y="183.26" width="6.07" height="6.09" fill="#fcc2a9"/>
<rect x="455.33" y="183.26" width="5.67" height="6.09" fill="#fdd7c4"/>
<rect x="358.9" y="188.95" width="6.07" height="6.09" fill="#ec4f43"/>
<rect x="364.57" y="188.95" width="6.07" height="6.09" fill="#f66c56"/>
<rect x="370.24" y="188.95" width="6.07" height="6.09" fill="#fb8a6e"/>
<rect x="375.92" y="188.95" width="6.07" height="6.09" fill="#f66c56"/>
<rect x="381.59" y="188.95" width="6.07" height="6.09" fill="#fb8a6e"/>
<rect x="387.26" y="188.95" width="6.07" height="6.09" fill="#fcc2a9"/>
<rect x="392.93" y="188.95" width="6.07" height="6.09" fill="#fca88e"/>
<rect x="398.61" y="188.95" width="6.07" height="6.09" fill="#b63032"/>
<rect x="404.28" y="188.95" width="6.07" height="6.09" fill="#fca88e"/>
<rect x="409.95" y="188.95" width="6.07" height="6.09" fill="#fca88e"/>
<rect x="415.62" y="188.95" width="6.07" height="6.09" fill="#fdd7c4"/>
<rect x="421.29" y="188.95" width="6.07" height="6.09" fill="#fdd7c4"/>
<rect x="426.97" y="188.95" width="6.07" height="6.09" fill="#fca88e"/>
<rect x="432.64" y="188.95" width="6.07" height="6.09" fill="#fb8a6e"/>
<rect x="438.31" y="188.95" width="6.07" height="6.09" fill="#fee6da"/>
<rect x="443.98" y="188.95" width="6.07" height="6.09" fill="#fcc2a9"/>
<rect x="449.66" y="188.95" width="6.07" height="6.09" fill="#fca88e"/>
<rect x="455.33" y="188.95" width="5.67" height="6.09" fill="#fdd7c4"/>
<rect x="358.9" y="194.64" width="6.07" height="6.09" fill="#fca88e"/>
<rect x="364.57" y="194.64" width="6.07" height="6.09" fill="#fb8a6e"/>
<rect x="370.24" y="194.64" width="6.07" height="6.09" fill="#d63a38"/>
<rect x="375.92" y="194.64" width="6.07" height="6.09" fill="#f66c56"/>
<rect x="381.59" y="194.64" width="6.07" height="6.09" fill="#fb8a6e"/>
<rect x="387.26" y="194.64" width="6.07" height="6.09" fill="#ec4f43"/>
<rect x="392.93" y="194.64" width="6.07" height="6.09" fill="#fca88e"/>
<rect x="398.61" y="194.64" width="6.07" height="6.09" fill="#fdd7c4"/>
<rect x="404.28" y="194.64" width="6.07" height="6.09" fill="#fca88e"/>
<rect x="409.95" y="194.64" width="6.07" height="6.09" fill="#d63a38"/>
<rect x="415.62" y="194.64" width="6.07" height="6.09" fill="#fca88e"/>
<rect x="421.29" y="194.64" width="6.07" height="6.09" fill="#fee6da"/>
<rect x="426.97" y="194.64" width="6.07" height="6.09" fill="#fcc2a9"/>
<rect x="432.64" y="194.64" width="6.07" height="6.09" fill="#fdd7c4"/>
<rect x="438.31" y="194.64" width="6.07" height="6.09" fill="#fdd7c4"/>
<rect x="443.98" y="194.64" width="6.07" height="6.09" fill="#fdd7c4"/>
<rect x="449.66" y="194.64" width="6.07" height="6.09" fill="#fca88e"/>
<rect x="455.33" y="194.64" width="5.67" height="6.09" fill="#fdd7c4"/>
<rect x="358.9" y="200.32" width="6.07" height="6.09" fill="#f66c56"/>
<rect x="364.57" y="200.32" width="6.07" height="6.09" fill="#d63a38"/>
<rect x="370.24" y="200.32" width="6.07" height="6.09" fill="#f66c56"/>
<rect x="375.92" y="200.32" width="6.07" height="6.09" fill="#fb8a6e"/>
<rect x="381.59" y="200.32" width="6.07" height="6.09" fill="#f66c56"/>
<rect x="387.26" y="200.32" width="6.07" height="6.09" fill="#fca88e"/>
<rect x="392.93" y="200.32" width="6.07" height="6.09" fill="#fca88e"/>
<rect x="398.61" y="200.32" width="6.07" height="6.09" fill="#fdd7c4"/>
<rect x="404.28" y="200.32" width="6.07" height="6.09" fill="#fb8a6e"/>
<rect x="409.95" y="200.32" width="6.07" height="6.09" fill="#fb8a6e"/>
<rect x="415.62" y="200.32" width="6.07" height="6.09" fill="#fca88e"/>
<rect x="421.29" y="200.32" width="6.07" height="6.09" fill="#fee6da"/>
<rect x="426.97" y="200.32" width="6.07" height="6.09" fill="#fca88e"/>
<rect x="432.64" y="200.32" width="6.07" height="6.09" fill="#fcc2a9"/>
<rect x="438.31" y="200.32" width="6.07" height="6.09" fill="#fdd7c4"/>
<rect x="443.98" y="200.32" width="6.07" height="6.09" fill="#fcc2a9"/>
<rect x="449.66" y="200.32" width="6.07" height="6.09" fill="#fcc2a9"/>
<rect x="455.33" y="200.32" width="5.67" height="6.09" fill="#fee6da"/>
<rect x="358.9" y="206.01" width="6.07" height="6.09" fill="#f66c56"/>
<rect x="364.57" y="206.01" width="6.07" height="6.09" fill="#f66c56"/>
<rect x="370.24" y="206.01" width="6.07" height="6.09" fill="#f66c56"/>
<rect x="375.92" y="206.01" width="6.07" height="6.09" fill="#ec4f43"/>
<rect x="381.59" y="206.01" width="6.07" height="6.09" fill="#f66c56"/>
<rect x="387.26" y="206.01" width="6.07" height="6.09" fill="#d63a38"/>
<rect x="392.93" y="206.01" width="6.07" height="6.09" fill="#fca88e"/>
<rect x="398.61" y="206.01" width="6.07" height="6.09" fill="#fdd7c4"/>
<rect x="404.28" y="206.01" width="6.07" height="6.09" fill="#fca88e"/>
<rect x="409.95" y="206.01" width="6.07" height="6.09" fill="#f66c56"/>
<rect x="415.62" y="206.01" width="6.07" height="6.09" fill="#fca88e"/>
<rect x="421.29" y="206.01" width="6.07" height="6.09" fill="#fdd7c4"/>
<rect x="426.97" y="206.01" width="6.07" height="6.09" fill="#fcc2a9"/>
<rect x="432.64" y="206.01" width="6.07" height="6.09" fill="#fca88e"/>
<rect x="438.31" y="206.01" width="6.07" height="6.09" fill="#fee6da"/>
<rect x="443.98" y="206.01" width="6.07" height="6.09" fill="#fdd7c4"/>
<rect x="449.66" y="206.01" width="6.07" height="6.09" fill="#fcc2a9"/>
<rect x="455.33" y="206.01" width="5.67" height="6.09" fill="#fdd7c4"/>
<rect x="358.9" y="211.69" width="6.07" height="6.09" fill="#f66c56"/>
<rect x="364.57" y="211.69" width="6.07" height="6.09" fill="#f66c56"/>
<rect x="370.24" y="211.69" width="6.07" height="6.09" fill="#f66c56"/>
<rect x="375.92" y="211.69" width="6.07" height="6.09" fill="#ec4f43"/>
<rect x="381.59" y="211.69" width="6.07" height="6.09" fill="#ec4f43"/>
<rect x="387.26" y="211.69" width="6.07" height="6.09" fill="#fca88e"/>
<rect x="392.93" y="211.69" width="6.07" height="6.09" fill="#fca88e"/>
<rect x="398.61" y="211.69" width="6.07" height="6.09" fill="#fdd7c4"/>
<rect x="404.28" y="211.69" width="6.07" height="6.09" fill="#fcc2a9"/>
<rect x="409.95" y="211.69" width="6.07" height="6.09" fill="#f66c56"/>
<rect x="415.62" y="211.69" width="6.07" height="6.09" fill="#fca88e"/>
<rect x="421.29" y="211.69" width="6.07" height="6.09" fill="#fcc2a9"/>
<rect x="426.97" y="211.69" width="6.07" height="6.09" fill="#fcc2a9"/>
<rect x="432.64" y="211.69" width="6.07" height="6.09" fill="#fcc2a9"/>
<rect x="438.31" y="211.69" width="6.07" height="6.09" fill="#fdd7c4"/>
<rect x="443.98" y="211.69" width="6.07" height="6.09" fill="#fcc2a9"/>
<rect x="449.66" y="211.69" width="6.07" height="6.09" fill="#fcc2a9"/>
<rect x="455.33" y="211.69" width="5.67" height="6.09" fill="#fdd7c4"/>
<rect x="358.9" y="217.38" width="6.07" height="6.09" fill="#d63a38"/>
<rect x="364.57" y="217.38" width="6.07" height="6.09" fill="#ec4f43"/>
<rect x="370.24" y="217.38" width="6.07" height="6.09" fill="#fb8a6e"/>
<rect x="375.92" y="217.38" width="6.07" height="6.09" fill="#ec4f43"/>
<rect x="381.59" y="217.38" width="6.07" height="6.09" fill="#ec4f43"/>
<rect x="387.26" y="217.38" width="6.07" height="6.09" fill="#fca88e"/>
<rect x="392.93" y="217.38" width="6.07" height="6.09" fill="#fb8a6e"/>
<rect x="398.61" y="217.38" width="6.07" height="6.09" fill="#fdd7c4"/>
<rect x="404.28" y="217.38" width="6.07" height="6.09" fill="#fcc2a9"/>
<rect x="409.95" y="217.38" width="6.07" height="6.09" fill="#fb8a6e"/>
<rect x="415.62" y="217.38" width="6.07" height="6.09" fill="#fcc2a9"/>
<rect x="421.29" y="217.38" width="6.07" height="6.09" fill="#fcc2a9"/>
<rect x="426.97" y="217.38" width="6.07" height="6.09" fill="#fcc2a9"/>
<rect x="432.64" y="217.38" width="6.07" height="6.09" fill="#fcc2a9"/>
<rect x="438.31" y="217.38" width="6.07" height="6.09" fill="#fdd7c4"/>
<rect x="443.98" y="217.38" width="6.07" height="6.09" fill="#fcc2a9"/>
<rect x="449.66" y="217.38" width="6.07" height="6.09" fill="#fcc2a9"/>
<rect x="455.33" y="217.38" width="5.67" height="6.09" fill="#fdd7c4"/>
<rect x="358.9" y="223.06" width="6.07" height="6.09" fill="#ec4f43"/>
<rect x="364.57" y="223.06" width="6.07" height="6.09" fill="#fca88e"/>
<rect x="370.24" y="223.06" width="6.07" height="6.09" fill="#f66c56"/>
<rect x="375.92" y="223.06" width="6.07" height="6.09" fill="#f66c56"/>
<rect x="381.59" y="223.06" width="6.07" height="6.09" fill="#f66c56"/>
<rect x="387.26" y="223.06" width="6.07" height="6.09" fill="#f66c56"/>
<rect x="392.93" y="223.06" width="6.07" height="6.09" fill="#fca88e"/>
<rect x="398.61" y="223.06" width="6.07" height="6.09" fill="#fdd7c4"/>
<rect x="404.28" y="223.06" width="6.07" height="6.09" fill="#fcc2a9"/>
<rect x="409.95" y="223.06" width="6.07" height="6.09" fill="#fb8a6e"/>
<rect x="415.62" y="223.06" width="6.07" height="6.09" fill="#fca88e"/>
<rect x="421.29" y="223.06" width="6.07" height="6.09" fill="#fcc2a9"/>
<rect x="426.97" y="223.06" width="6.07" height="6.09" fill="#fcc2a9"/>
<rect x="432.64" y="223.06" width="6.07" height="6.09" fill="#fcc2a9"/>
<rect x="438.31" y="223.06" width="6.07" height="6.09" fill="#fee6da"/>
<rect x="443.98" y="223.06" width="6.07" height="6.09" fill="#fcc2a9"/>
<rect x="449.66" y="223.06" width="6.07" height="6.09" fill="#fcc2a9"/>
<rect x="455.33" y="223.06" width="5.67" height="6.09" fill="#fdd7c4"/>
<rect x="358.9" y="228.75" width="6.07" height="6.09" fill="#d63a38"/>
<rect x="364.57" y="228.75" width="6.07" height="6.09" fill="#f66c56"/>
<rect x="370.24" y="228.75" width="6.07" height="6.09" fill="#fca88e"/>
<rect x="375.92" y="228.75" width="6.07" height="6.09" fill="#ec4f43"/>
<rect x="381.59" y="228.75" width="6.07" height="6.09" fill="#ec4f43"/>
<rect x="387.26" y="228.75" width="6.07" height="6.09" fill="#fb8a6e"/>
<rect x="392.93" y="228.75" width="6.07" height="6.09" fill="#fca88e"/>
<rect x="398.61" y="228.75" width="6.07" height="6.09" fill="#fdd7c4"/>
<rect x="404.28" y="228.75" width="6.07" height="6.09" fill="#fca88e"/>
<rect x="409.95" y="228.75" width="6.07" height="6.09" fill="#ec4f43"/>
<rect x="415.62" y="228.75" width="6.07" height="6.09" fill="#fcc2a9"/>
<rect x="421.29" y="228.75" width="6.07" height="6.09" fill="#fcc2a9"/>
<rect x="426.97" y="228.75" width="6.07" height="6.09" fill="#fcc2a9"/>
<rect x="432.64" y="228.75" width="6.07" height="6.09" fill="#fca88e"/>
<rect x="438.31" y="228.75" width="6.07" height="6.09" fill="#fee6da"/>
<rect x="443.98" y="228.75" width="6.07" height="6.09" fill="#fcc2a9"/>
<rect x="449.66" y="228.75" width="6.07" height="6.09" fill="#fcc2a9"/>
<rect x="455.33" y="228.75" width="5.67" height="6.09" fill="#fdd7c4"/>
<rect x="358.9" y="234.43" width="6.07" height="6.09" fill="#fee6da"/>
<rect x="364.57" y="234.43" width="6.07" height="6.09" fill="#ec4f43"/>
<rect x="370.24" y="234.43" width="6.07" height="6.09" fill="#fb8a6e"/>
<rect x="375.92" y="234.43" width="6.07" height="6.09" fill="#d63a38"/>
<rect x="381.59" y="234.43" width="6.07" height="6.09" fill="#fb8a6e"/>
<rect x="387.26" y="234.43" width="6.07" height="6.09" fill="#fb8a6e"/>
<rect x="392.93" y="234.43" width="6.07" height="6.09" fill="#fcc2a9"/>
<rect x="398.61" y="234.43" width="6.07" height="6.09" fill="#f66c56"/>
<rect x="404.28" y="234.43" width="6.07" height="6.09" fill="#fca88e"/>
<rect x="409.95" y="234.43" width="6.07" height="6.09" fill="#f66c56"/>
<rect x="415.62" y="234.43" width="6.07" height="6.09" fill="#fcc2a9"/>
<rect x="421.29" y="234.43" width="6.07" height="6.09" fill="#fcc2a9"/>
<rect x="426.97" y="234.43" width="6.07" height="6.09" fill="#fb8a6e"/>
<rect x="432.64" y="234.43" width="6.07" height="6.09" fill="#fcc2a9"/>
<rect x="438.31" y="234.43" width="6.07" height="6.09" fill="#fee6da"/>
<rect x="443.98" y="234.43" width="6.07" height="6.09" fill="#fcc2a9"/>
<rect x="449.66" y="234.43" width="6.07" height="6.09" fill="#fcc2a9"/>
<rect x="455.33" y="234.43" width="5.67" height="6.09" fill="#fdd7c4"/>
<rect x="358.9" y="240.12" width="6.07" height="6.09" fill="#fdd7c4"/>
<rect x="364.57" y="240.12" width="6.07" height="6.09" fill="#ec4f43"/>
<rect x="370.24" y="240.12" width="6.07" height="6.09" fill="#ec4f43"/>
<rect x="375.92" y="240.12" width="6.07" height="6.09" fill="#ec4f43"/>
<rect x="381.59" y="240.12" width="6.07" height="6.09" fill="#f66c56"/>
<rect x="387.26" y="240.12" width="6.07" height="6.09" fill="#fb8a6e"/>
<rect x="392.93" y="240.12" width="6.07" height="6.09" fill="#fca88e"/>
<rect x="398.61" y="240.12" width="6.07" height="6.09" fill="#fca88e"/>
<rect x="404.28" y="240.12" width="6.07" height="6.09" fill="#fcc2a9"/>
<rect x="409.95" y="240.12" width="6.07" height="6.09" fill="#f66c56"/>
<rect x="415.62" y="240.12" width="6.07" height="6.09" fill="#fcc2a9"/>
<rect x="421.29" y="240.12" width="6.07" height="6.09" fill="#fdd7c4"/>
<rect x="426.97" y="240.12" width="6.07" height="6.09" fill="#fca88e"/>
<rect x="432.64" y="240.12" width="6.07" height="6.09" fill="#fcc2a9"/>
<rect x="438.31" y="240.12" width="6.07" height="6.09" fill="#fee6da"/>
<rect x="443.98" y="240.12" width="6.07" height="6.09" fill="#fca88e"/>
<rect x="449.66" y="240.12" width="6.07" height="6.09" fill="#fca88e"/>
<rect x="455.33" y="240.12" width="5.67" height="6.09" fill="#fdd7c4"/>
<rect x="358.9" y="245.8" width="6.07" height="6.09" fill="#fcc2a9"/>
<rect x="364.57" y="245.8" width="6.07" height="6.09" fill="#ec4f43"/>
<rect x="370.24" y="245.8" width="6.07" height="6.09" fill="#ec4f43"/>
<rect x="375.92" y="245.8" width="6.07" height="6.09" fill="#d63a38"/>
<rect x="381.59" y="245.8" width="6.07" height="6.09" fill="#f66c56"/>
<rect x="387.26" y="245.8" width="6.07" height="6.09" fill="#fb8a6e"/>
<rect x="392.93" y="245.8" width="6.07" height="6.09" fill="#fcc2a9"/>
<rect x="398.61" y="245.8" width="6.07" height="6.09" fill="#fca88e"/>
<rect x="404.28" y="245.8" width="6.07" height="6.09" fill="#fca88e"/>
<rect x="409.95" y="245.8" width="6.07" height="6.09" fill="#f66c56"/>
<rect x="415.62" y="245.8" width="6.07" height="6.09" fill="#fcc2a9"/>
<rect x="421.29" y="245.8" width="6.07" height="6.09" fill="#fdd7c4"/>
<rect x="426.97" y="245.8" width="6.07" height="6.09" fill="#fca88e"/>
<rect x="432.64" y="245.8" width="6.07" height="6.09" fill="#fdd7c4"/>
<rect x="438.31" y="245.8" width="6.07" height="6.09" fill="#fee6da"/>
<rect x="443.98" y="245.8" width="6.07" height="6.09" fill="#fca88e"/>
<rect x="449.66" y="245.8" width="6.07" height="6.09" fill="#fcc2a9"/>
<rect x="455.33" y="245.8" width="5.67" height="6.09" fill="#fdd7c4"/>
<rect x="358.9" y="251.49" width="6.07" height="6.09" fill="#fcc2a9"/>
<rect x="364.57" y="251.49" width="6.07" height="6.09" fill="#f66c56"/>
<rect x="370.24" y="251.49" width="6.07" height="6.09" fill="#f66c56"/>
<rect x="375.92" y="251.49" width="6.07" height="6.09" fill="#fb8a6e"/>
<rect x="381.59" y="251.49" width="6.07" height="6.09" fill="#f66c56"/>
<rect x="387.26" y="251.49" width="6.07" height="6.09" fill="#f66c56"/>
<rect x="392.93" y="251.49" width="6.07" height="6.09" fill="#fca88e"/>
<rect x="398.61" y="251.49" width="6.07" height="6.09" fill="#fcc2a9"/>
<rect x="404.28" y="251.49" width="6.07" height="6.09" fill="#fca88e"/>
<rect x="409.95" y="251.49" width="6.07" height="6.09" fill="#f66c56"/>
<rect x="415.62" y="251.49" width="6.07" height="6.09" fill="#fb8a6e"/>
<rect x="421.29" y="251.49" width="6.07" height="6.09" fill="#fdd7c4"/>
<rect x="426.97" y="251.49" width="6.07" height="6.09" fill="#fca88e"/>
<rect x="432.64" y="251.49" width="6.07" height="6.09" fill="#fcc2a9"/>
<rect x="438.31" y="251.49" width="6.07" height="6.09" fill="#fee6da"/>
<rect x="443.98" y="251.49" width="6.07" height="6.09" fill="#fcc2a9"/>
<rect x="449.66" y="251.49" width="6.07" height="6.09" fill="#fcc2a9"/>
<rect x="455.33" y="251.49" width="5.67" height="6.09" fill="#fdd7c4"/>
<rect x="358.9" y="257.17" width="6.07" height="6.09" fill="#fca88e"/>
<rect x="364.57" y="257.17" width="6.07" height="6.09" fill="#f66c56"/>
<rect x="370.24" y="257.17" width="6.07" height="6.09" fill="#ec4f43"/>
<rect x="375.92" y="257.17" width="6.07" height="6.09" fill="#fb8a6e"/>
<rect x="381.59" y="257.17" width="6.07" height="6.09" fill="#fca88e"/>
<rect x="387.26" y="257.17" width="6.07" height="6.09" fill="#f66c56"/>
<rect x="392.93" y="257.17" width="6.07" height="6.09" fill="#fca88e"/>
<rect x="398.61" y="257.17" width="6.07" height="6.09" fill="#fdd7c4"/>
<rect x="404.28" y="257.17" width="6.07" height="6.09" fill="#fca88e"/>
<rect x="409.95" y="257.17" width="6.07" height="6.09" fill="#f66c56"/>
<rect x="415.62" y="257.17" width="6.07" height="6.09" fill="#f66c56"/>
<rect x="421.29" y="257.17" width="6.07" height="6.09" fill="#fdd7c4"/>
<rect x="426.97" y="257.17" width="6.07" height="6.09" fill="#fca88e"/>
<rect x="432.64" y="257.17" width="6.07" height="6.09" fill="#fcc2a9"/>
<rect x="438.31" y="257.17" width="6.07" height="6.09" fill="#fee6da"/>
<rect x="443.98" y="257.17" width="6.07" height="6.09" fill="#fca88e"/>
<rect x="449.66" y="257.17" width="6.07" height="6.09" fill="#fcc2a9"/>
<rect x="455.33" y="257.17" width="5.67" height="6.09" fill="#fdd7c4"/>
<rect x="358.9" y="262.86" width="6.07" height="6.09" fill="#fca88e"/>
<rect x="364.57" y="262.86" width="6.07" height="6.09" fill="#fb8a6e"/>
<rect x="370.24" y="262.86" width="6.07" height="6.09" fill="#f66c56"/>
<rect x="375.92" y="262.86" width="6.07" height="6.09" fill="#ec4f43"/>
<rect x="381.59" y="262.86" width="6.07" height="6.09" fill="#fca88e"/>
<rect x="387.26" y="262.86" width="6.07" height="6.09" fill="#fb8a6e"/>
<rect x="392.93" y="262.86" width="6.07" height="6.09" fill="#f66c56"/>
<rect x="398.61" y="262.86" width="6.07" height="6.09" fill="#fcc2a9"/>
<rect x="404.28" y="262.86" width="6.07" height="6.09" fill="#fca88e"/>
<rect x="409.95" y="262.86" width="6.07" height="6.09" fill="#ec4f43"/>
<rect x="415.62" y="262.86" width="6.07" height="6.09" fill="#fcc2a9"/>
<rect x="421.29" y="262.86" width="6.07" height="6.09" fill="#fdd7c4"/>
<rect x="426.97" y="262.86" width="6.07" height="6.09" fill="#f66c56"/>
<rect x="432.64" y="262.86" width="6.07" height="6.09" fill="#fcc2a9"/>
<rect x="438.31" y="262.86" width="6.07" height="6.09" fill="#fee6da"/>
<rect x="443.98" y="262.86" width="6.07" height="6.09" fill="#fcc2a9"/>
<rect x="449.66" y="262.86" width="6.07" height="6.09" fill="#fcc2a9"/>
<rect x="455.33" y="262.86" width="5.67" height="6.09" fill="#fdd7c4"/>
<rect x="358.9" y="268.54" width="6.07" height="6.09" fill="#f66c56"/>
<rect x="364.57" y="268.54" width="6.07" height="6.09" fill="#fb8a6e"/>
<rect x="370.24" y="268.54" width="6.07" height="6.09" fill="#fca88e"/>
<rect x="375.92" y="268.54" width="6.07" height="6.09" fill="#fb8a6e"/>
<rect x="381.59" y="268.54" width="6.07" height="6.09" fill="#fb8a6e"/>
<rect x="387.26" y="268.54" width="6.07" height="6.09" fill="#fb8a6e"/>
<rect x="392.93" y="268.54" width="6.07" height="6.09" fill="#fb8a6e"/>
<rect x="398.61" y="268.54" width="6.07" height="6.09" fill="#ec4f43"/>
<rect x="404.28" y="268.54" width="6.07" height="6.09" fill="#fca88e"/>
<rect x="409.95" y="268.54" width="6.07" height="6.09" fill="#fca88e"/>
<rect x="415.62" y="268.54" width="6.07" height="6.09" fill="#fcc2a9"/>
<rect x="421.29" y="268.54" width="6.07" height="6.09" fill="#fdd7c4"/>
<rect x="426.97" y="268.54" width="6.07" height="6.09" fill="#fca88e"/>
<rect x="432.64" y="268.54" width="6.07" height="6.09" fill="#fca88e"/>
<rect x="438.31" y="268.54" width="6.07" height="6.09" fill="#fee6da"/>
<rect x="443.98" y="268.54" width="6.07" height="6.09" fill="#fca88e"/>
<rect x="449.66" y="268.54" width="6.07" height="6.09" fill="#fca88e"/>
<rect x="455.33" y="268.54" width="5.67" height="6.09" fill="#fee6da"/>
<rect x="358.9" y="274.23" width="6.07" height="6.09" fill="#fb8a6e"/>
<rect x="364.57" y="274.23" width="6.07" height="6.09" fill="#fb8a6e"/>
<rect x="370.24" y="274.23" width="6.07" height="6.09" fill="#fca88e"/>
<rect x="375.92" y="274.23" width="6.07" height="6.09" fill="#fb8a6e"/>
<rect x="381.59" y="274.23" width="6.07" height="6.09" fill="#f66c56"/>
<rect x="387.26" y="274.23" width="6.07" height="6.09" fill="#fb8a6e"/>
<rect x="392.93" y="274.23" width="6.07" height="6.09" fill="#f66c56"/>
<rect x="398.61" y="274.23" width="6.07" height="6.09" fill="#fca88e"/>
<rect x="404.28" y="274.23" width="6.07" height="6.09" fill="#fca88e"/>
<rect x="409.95" y="274.23" width="6.07" height="6.09" fill="#fca88e"/>
<rect x="415.62" y="274.23" width="6.07" height="6.09" fill="#fcc2a9"/>
<rect x="421.29" y="274.23" width="6.07" height="6.09" fill="#fdd7c4"/>
<rect x="426.97" y="274.23" width="6.07" height="6.09" fill="#fca88e"/>
<rect x="432.64" y="274.23" width="6.07" height="6.09" fill="#fb8a6e"/>
<rect x="438.31" y="274.23" width="6.07" height="6.09" fill="#fee6da"/>
<rect x="443.98" y="274.23" width="6.07" height="6.09" fill="#fcc2a9"/>
<rect x="449.66" y="274.23" width="6.07" height="6.09" fill="#fcc2a9"/>
<rect x="455.33" y="274.23" width="5.67" height="6.09" fill="#fdd7c4"/>
<rect x="358.9" y="279.91" width="6.07" height="5.69" fill="#fb8a6e"/>
<rect x="364.57" y="279.91" width="6.07" height="5.69" fill="#f66c56"/>
<rect x="370.24" y="279.91" width="6.07" height="5.69" fill="#fb8a6e"/>
<rect x="375.92" y="279.91" width="6.07" height="5.69" fill="#fb8a6e"/>
<rect x="381.59" y="279.91" width="6.07" height="5.69" fill="#ec4f43"/>
<rect x="387.26" y="279.91" width="6.07" height="5.69" fill="#fb8a6e"/>
<rect x="392.93" y="279.91" width="6.07" height="5.69" fill="#fb8a6e"/>
<rect x="398.61" y="279.91" width="6.07" height="5.69" fill="#fca88e"/>
<rect x="404.28" y="279.91" width="6.07" height="5.69" fill="#fca88e"/>
<rect x="409.95" y="279.91" width="6.07" height="5.69" fill="#fb8a6e"/>
<rect x="415.62" y="279.91" width="6.07" height="5.69" fill="#fcc2a9"/>
<rect x="421.29" y="279.91" width="6.07" height="5.69" fill="#fdd7c4"/>
<rect x="426.97" y="279.91" width="6.07" height="5.69" fill="#fca88e"/>
<rect x="432.64" y="279.91" width="6.07" height="5.69" fill="#fb8a6e"/>
<rect x="438.31" y="279.91" width="6.07" height="5.69" fill="#fee6da"/>
<rect x="443.98" y="279.91" width="6.07" height="5.69" fill="#fcc2a9"/>
<rect x="449.66" y="279.91" width="6.07" height="5.69" fill="#fcc2a9"/>
<rect x="455.33" y="279.91" width="5.67" height="5.69" fill="#fdd7c4"/>
<text x="357.30" y="97.14" font-size="5.9" text-anchor="end" fill="#3c3c3c" font-weight="normal">CEBPB</text>
<text x="357.30" y="102.83" font-size="5.9" text-anchor="end" fill="#3c3c3c" font-weight="normal">GLIPR2</text>
<text x="357.30" y="108.51" font-size="5.9" text-anchor="end" fill="#3c3c3c" font-weight="normal">SCUBE1</text>
<text x="357.30" y="114.20" font-size="5.9" text-anchor="end" fill="#3c3c3c" font-weight="normal">UNC13A</text>
<text x="357.30" y="119.88" font-size="5.9" text-anchor="end" fill="#3c3c3c" font-weight="normal">CLCN4</text>
<text x="357.30" y="125.57" font-size="5.9" text-anchor="end" fill="#3c3c3c" font-weight="normal">NEFM</text>
<text x="357.30" y="131.25" font-size="5.9" text-anchor="end" fill="#3c3c3c" font-weight="normal">LPL</text>
<text x="357.30" y="136.94" font-size="5.9" text-anchor="end" fill="#3c3c3c" font-weight="normal">GNAO1</text>
<text x="357.30" y="142.62" font-size="5.9" text-anchor="end" fill="#3c3c3c" font-weight="normal">PCSK9</text>
<text x="357.30" y="148.31" font-size="5.9" text-anchor="end" fill="#3c3c3c" font-weight="normal">TAL2</text>
<text x="357.30" y="154.00" font-size="5.9" text-anchor="end" fill="#3c3c3c" font-weight="normal">R3HDM1</text>
<text x="357.30" y="159.68" font-size="5.9" text-anchor="end" fill="#3c3c3c" font-weight="normal">CUX1</text>
<text x="357.30" y="165.37" font-size="5.9" text-anchor="end" fill="#3c3c3c" font-weight="normal">CHRM3</text>
<text x="357.30" y="171.05" font-size="5.9" text-anchor="end" fill="#3c3c3c" font-weight="normal">CHST8</text>
<text x="357.30" y="176.74" font-size="5.9" text-anchor="end" fill="#3c3c3c" font-weight="normal">NGEF</text>
<text x="357.30" y="182.42" font-size="5.9" text-anchor="end" fill="#3c3c3c" font-weight="normal">SLITRK5</text>
<text x="357.30" y="188.11" font-size="5.9" text-anchor="end" fill="#3c3c3c" font-weight="normal">RASL11B</text>
<text x="357.30" y="193.79" font-size="5.9" text-anchor="end" fill="#3c3c3c" font-weight="normal">CCDC3</text>
<text x="357.30" y="199.48" font-size="5.9" text-anchor="end" fill="#3c3c3c" font-weight="normal">NPNT</text>
<text x="357.30" y="205.16" font-size="5.9" text-anchor="end" fill="#3c3c3c" font-weight="normal">CCDC85A</text>
<text x="357.30" y="210.85" font-size="5.9" text-anchor="end" fill="#3c3c3c" font-weight="normal">FRY</text>
<text x="357.30" y="216.53" font-size="5.9" text-anchor="end" fill="#3c3c3c" font-weight="normal">SYT13</text>
<text x="357.30" y="222.22" font-size="5.9" text-anchor="end" fill="#3c3c3c" font-weight="normal">PCDH11Y</text>
<text x="357.30" y="227.90" font-size="5.9" text-anchor="end" fill="#3c3c3c" font-weight="normal">KIAA0319</text>
<text x="357.30" y="233.59" font-size="5.9" text-anchor="end" fill="#3c3c3c" font-weight="normal">RBM24</text>
<text x="357.30" y="239.28" font-size="5.9" text-anchor="end" fill="#3c3c3c" font-weight="normal">TENM3</text>
<text x="357.30" y="244.96" font-size="5.9" text-anchor="end" fill="#3c3c3c" font-weight="normal">CPNE5</text>
<text x="357.30" y="250.65" font-size="5.9" text-anchor="end" fill="#3c3c3c" font-weight="normal">FRAS1</text>
<text x="357.30" y="256.33" font-size="5.9" text-anchor="end" fill="#3c3c3c" font-weight="normal">KCTD1</text>
<text x="357.30" y="262.02" font-size="5.9" text-anchor="end" fill="#3c3c3c" font-weight="normal">PCDH9</text>
<text x="357.30" y="267.70" font-size="5.9" text-anchor="end" fill="#3c3c3c" font-weight="normal">SV2B</text>
<text x="357.30" y="273.39" font-size="5.9" text-anchor="end" fill="#3c3c3c" font-weight="normal">CHST2</text>
<text x="357.30" y="279.07" font-size="5.9" text-anchor="end" fill="#3c3c3c" font-weight="normal">CDH12</text>
<text x="357.30" y="284.76" font-size="5.9" text-anchor="end" fill="#3c3c3c" font-weight="normal">PRKCE</text>
<text x="356.60" y="291.60" font-size="5.0" text-anchor="start" fill="#333" font-weight="normal" textLength="42.5" lengthAdjust="spacingAndGlyphs">hypoallometric</text>
<text x="418.80" y="291.60" font-size="5.0" text-anchor="start" fill="#333" font-weight="normal" textLength="43.8" lengthAdjust="spacingAndGlyphs">hyperallometric</text>
<defs><filter id="usoft" x="-10%" y="-10%" width="120%" height="120%" color-interpolation-filters="sRGB"><feGaussianBlur in="SourceGraphic" stdDeviation="0.45" result="b"/></filter></defs>
<text x="487.5" y="7.2" font-size="9.5" fill="#111"><tspan font-weight="bold">c</tspan> | cell type enrichment in the IZ</text>
<g transform="translate(0.00,0.00) scale(1,1)" filter="url(#usoft)">
<path d="M546.0,39.0 C546.5,37.6 547.7,36.0 549.0,35.5 C550.3,35.0 552.9,35.1 554.0,36.0 C555.1,36.9 555.7,39.2 555.4,41.0 C555.1,42.8 553.2,45.5 552.0,46.5 C550.8,47.5 549.0,47.4 548.0,47.0 C547.0,46.6 546.3,45.3 546.0,44.0 C545.7,42.7 545.5,40.4 546.0,39.0 Z" fill="#e1e1e1"/>
<path d="M578.7,42.0 C579.7,40.9 582.8,39.9 585.0,39.5 C587.2,39.1 590.0,39.2 592.0,39.5 C594.0,39.8 596.3,40.1 597.0,41.0 C597.7,41.9 597.3,43.8 596.0,45.0 C594.7,46.2 591.3,47.4 589.0,48.0 C586.7,48.6 583.7,49.1 582.0,48.8 C580.3,48.5 579.5,47.1 579.0,46.0 C578.5,44.9 577.7,43.1 578.7,42.0 Z" fill="#e1e1e1"/>
<path d="M575.0,63.0 C575.7,61.8 578.2,60.1 580.0,59.0 C581.8,57.9 584.0,57.0 586.0,56.5 C588.0,56.0 590.9,55.6 592.0,56.0 C593.1,56.4 593.4,57.8 592.7,59.0 C592.0,60.2 589.8,61.8 588.0,63.0 C586.2,64.2 584.0,65.4 582.0,66.0 C580.0,66.6 577.2,66.9 576.0,66.4 C574.8,65.9 574.3,64.2 575.0,63.0 Z" fill="#e1e1e1"/>
<path d="M591.0,75.0 C591.2,74.0 592.8,72.1 594.0,71.0 C595.2,69.9 597.5,68.2 598.0,68.5 C598.5,68.8 597.8,71.6 597.0,73.0 C596.2,74.4 594.0,76.7 593.0,77.0 C592.0,77.3 590.8,76.0 591.0,75.0 Z" fill="#e1e1e1"/>
<path d="M525.6,22.0 C525.9,21.3 527.3,20.4 528.0,20.6 C528.7,20.8 529.8,22.1 529.8,23.0 C529.8,23.9 528.6,26.0 528.0,26.3 C527.4,26.6 526.4,25.7 526.0,25.0 C525.6,24.3 525.3,22.7 525.6,22.0 Z" fill="#e1e1e1"/>
<path d="M520.0,44.0 C520.3,42.8 521.8,40.7 523.0,40.4 C524.2,40.1 526.7,40.6 527.0,42.0 C527.3,43.4 526.0,47.9 525.0,48.8 C524.0,49.7 521.8,48.3 521.0,47.5 C520.2,46.7 519.7,45.2 520.0,44.0 Z" fill="#e1e1e1"/>
<path d="M472.0,55.0 C472.7,54.1 475.1,51.9 476.0,51.6 C476.9,51.3 477.9,52.3 477.7,53.0 C477.4,53.7 474.5,55.0 474.5,56.0 C474.5,57.0 477.4,58.3 477.7,59.0 C477.9,59.7 476.9,60.3 476.0,60.0 C475.1,59.7 472.7,57.8 472.0,57.0 C471.3,56.2 471.3,55.9 472.0,55.0 Z" fill="#e1e1e1"/>
<path d="M480.5,79.0 C480.3,78.0 481.9,76.1 483.0,75.0 C484.1,73.9 486.0,72.7 487.0,72.5 C488.0,72.3 488.8,73.0 489.0,74.0 C489.2,75.0 488.8,77.3 488.0,78.5 C487.2,79.7 485.2,81.1 484.0,81.2 C482.8,81.3 480.7,80.0 480.5,79.0 Z" fill="#e1e1e1"/>
<path d="M484.0,82.0 C485.2,80.5 491.5,78.3 495.0,78.0 C498.5,77.7 501.8,79.0 505.0,80.0 C508.2,81.0 513.2,82.7 514.0,84.0 C514.8,85.3 512.7,87.7 510.0,88.0 C507.3,88.3 501.7,86.2 498.0,86.0 C494.3,85.8 490.3,87.7 488.0,87.0 C485.7,86.3 482.8,83.5 484.0,82.0 Z" fill="#e7e7e7"/>
<path d="M493.0,106.0 C492.4,104.2 492.2,100.5 492.5,98.0 C492.8,95.5 493.6,92.6 495.0,91.0 C496.4,89.4 498.7,88.8 501.0,88.5 C503.3,88.2 506.7,88.4 509.0,89.0 C511.3,89.6 513.3,90.7 515.0,92.0 C516.7,93.3 517.9,95.2 519.0,97.0 C520.1,98.8 521.3,101.3 521.5,103.0 C521.7,104.7 520.9,106.5 520.0,107.0 C519.1,107.5 517.0,107.2 516.0,106.0 C515.0,104.8 515.2,101.9 514.0,100.0 C512.8,98.1 511.0,95.7 509.0,94.5 C507.0,93.3 503.9,92.8 502.0,93.0 C500.1,93.2 498.2,94.5 497.5,96.0 C496.8,97.5 497.1,100.1 497.5,102.0 C497.9,103.9 500.2,106.4 500.0,107.5 C499.8,108.6 497.2,108.8 496.0,108.5 C494.8,108.2 493.6,107.8 493.0,106.0 Z" fill="#e9e9e9"/>
<path d="M514.0,101.0 C514.3,99.8 516.1,100.1 517.0,100.6 C517.9,101.1 519.1,102.7 519.3,104.0 C519.5,105.3 518.7,107.5 518.0,108.2 C517.3,108.9 515.7,109.2 515.0,108.0 C514.3,106.8 513.7,102.2 514.0,101.0 Z" fill="#e1e1e1"/>
<path d="M499.7,123.0 C500.1,122.3 501.8,121.9 503.0,121.8 C504.2,121.7 506.9,121.8 507.2,122.5 C507.5,123.2 506.1,125.7 505.0,126.3 C503.9,126.9 501.4,126.5 500.5,126.0 C499.6,125.5 499.3,123.7 499.7,123.0 Z" fill="#e1e1e1"/>
<path d="M529.9,131.0 C530.4,130.5 534.0,130.6 536.0,130.8 C538.0,131.1 541.2,131.8 541.9,132.5 C542.6,133.2 541.5,135.1 540.0,135.3 C538.5,135.6 534.7,134.7 533.0,134.0 C531.3,133.3 529.4,131.5 529.9,131.0 Z" fill="#e1e1e1"/>
<path d="M519.3,141.0 C519.5,140.1 520.8,139.7 521.5,139.9 C522.2,140.1 523.5,141.0 523.8,142.0 C524.0,143.0 523.6,145.3 523.0,145.9 C522.4,146.5 520.6,146.3 520.0,145.5 C519.4,144.7 519.0,141.9 519.3,141.0 Z" fill="#e1e1e1"/>
<path d="M551.0,92.0 C551.8,90.0 554.0,87.3 556.0,86.0 C558.0,84.7 560.5,84.2 563.0,84.0 C565.5,83.8 568.9,84.0 571.0,85.0 C573.1,86.0 575.4,88.0 575.7,90.0 C576.0,92.0 574.8,95.3 573.0,97.0 C571.2,98.7 567.8,99.2 565.0,100.0 C562.2,100.8 558.3,102.3 556.0,102.0 C553.7,101.7 551.8,99.7 551.0,98.0 C550.2,96.3 550.2,94.0 551.0,92.0 Z" fill="#e1e1e1"/>
<path d="M559.0,105.0 C559.3,103.9 563.2,103.5 566.0,103.7 C568.8,103.9 574.5,104.8 575.7,106.0 C576.9,107.2 575.0,110.5 573.0,111.2 C571.0,112.0 566.3,111.5 564.0,110.5 C561.7,109.5 558.7,106.1 559.0,105.0 Z" fill="#e1e1e1"/>
<path d="M550.0,113.0 C550.5,111.5 553.0,111.9 554.0,112.7 C555.0,113.5 555.8,116.2 556.0,118.0 C556.2,119.8 555.8,122.6 555.0,123.3 C554.2,124.0 551.8,123.7 551.0,122.0 C550.2,120.3 549.5,114.5 550.0,113.0 Z" fill="#e1e1e1"/>
<path d="M534.4,103.0 C535.1,101.6 538.2,100.6 540.0,100.6 C541.8,100.6 544.3,101.8 545.0,103.0 C545.7,104.2 545.5,107.0 544.0,108.0 C542.5,109.0 537.6,109.8 536.0,109.0 C534.4,108.2 533.7,104.4 534.4,103.0 Z" fill="#e1e1e1"/>
<path d="M576.0,112.0 C576.0,110.2 579.7,107.3 582.0,106.0 C584.3,104.7 587.0,104.4 590.0,104.0 C593.0,103.6 597.2,103.2 600.0,103.7 C602.8,104.2 606.2,105.6 607.0,107.0 C607.8,108.4 606.7,110.8 605.0,112.0 C603.3,113.2 599.5,112.9 597.0,114.0 C594.5,115.1 592.5,118.2 590.0,118.7 C587.5,119.2 584.3,118.1 582.0,117.0 C579.7,115.9 576.0,113.8 576.0,112.0 Z" fill="#e1e1e1"/>
<path d="M584.8,89.0 C585.3,88.0 588.2,86.8 590.0,87.0 C591.8,87.2 594.8,88.8 595.3,90.0 C595.8,91.2 594.4,93.4 593.0,93.9 C591.6,94.4 588.4,93.8 587.0,93.0 C585.6,92.2 584.3,90.0 584.8,89.0 Z" fill="#e1e1e1"/>
<path d="M526.0,54.0 C527.0,53.1 528.5,51.7 530.0,51.5 C531.5,51.3 533.5,53.2 535.0,53.0 C536.5,52.8 537.7,50.7 539.0,50.5 C540.3,50.3 542.0,50.8 543.0,52.0 C544.0,53.2 544.8,55.7 545.0,58.0 C545.2,60.3 544.3,63.7 544.5,66.0 C544.7,68.3 546.2,70.3 546.0,72.0 C545.8,73.7 544.0,74.7 543.0,76.0 C542.0,77.3 540.8,78.3 540.0,80.0 C539.2,81.7 538.8,85.7 538.0,86.0 C537.2,86.3 536.0,81.8 535.0,82.0 C534.0,82.2 533.0,87.0 532.0,87.0 C531.0,87.0 530.1,82.2 529.0,82.0 C527.9,81.8 526.0,86.5 525.5,86.0 C525.0,85.5 526.8,80.7 526.0,79.0 C525.2,77.3 522.2,77.5 521.0,76.0 C519.8,74.5 518.8,72.2 518.5,70.0 C518.2,67.8 518.2,64.3 519.0,63.0 C519.8,61.7 522.2,63.0 523.0,62.0 C523.8,61.0 523.5,58.3 524.0,57.0 C524.5,55.7 525.0,54.9 526.0,54.0 Z" fill="#5ba6d6"/>
<path d="M528.0,58.0 C529.2,56.8 531.3,56.1 533.0,56.0 C534.7,55.9 536.7,56.5 538.0,57.5 C539.3,58.5 540.5,60.1 541.0,62.0 C541.5,63.9 541.7,67.2 541.0,69.0 C540.3,70.8 538.7,72.2 537.0,73.0 C535.3,73.8 532.7,74.5 531.0,74.0 C529.3,73.5 527.8,71.8 527.0,70.0 C526.2,68.2 525.8,65.0 526.0,63.0 C526.2,61.0 526.8,59.2 528.0,58.0 Z" fill="#5ba6d6"/>
<path d="M543.8,69.3 C544.7,67.0 549.5,63.9 552.0,61.2 C554.5,58.5 556.8,55.7 558.8,53.0 C560.8,50.3 562.6,47.4 564.2,44.9 C565.8,42.4 566.9,40.1 568.3,38.1 C569.6,36.1 570.9,33.8 572.3,32.7 C573.6,31.6 574.8,31.3 576.4,31.3 C578.0,31.3 580.4,31.8 581.8,32.7 C583.2,33.6 584.8,35.1 584.6,36.7 C584.4,38.3 582.1,39.9 580.5,42.2 C578.9,44.5 576.8,47.6 575.0,50.3 C573.2,53.0 571.9,55.5 569.6,58.5 C567.4,61.5 564.0,65.5 561.5,68.0 C559.0,70.5 557.2,72.3 554.7,73.4 C552.2,74.5 548.3,75.5 546.5,74.8 C544.7,74.1 542.9,71.6 543.8,69.3 Z" fill="#5ba6d6"/>
<path d="M543.8,69.3 C544.7,67.0 550.0,63.1 552.0,61.2 C554.0,59.3 554.4,57.9 556.0,58.0 C557.6,58.1 560.6,60.3 561.5,62.0 C562.4,63.7 562.6,66.1 561.5,68.0 C560.4,69.9 557.2,72.3 554.7,73.4 C552.2,74.5 548.3,75.5 546.5,74.8 C544.7,74.1 542.9,71.6 543.8,69.3 Z" fill="#5ba6d6"/>
<path d="M582.0,31.5 C583.0,30.7 587.0,31.2 589.0,32.0 C591.0,32.8 593.7,34.7 594.0,36.5 C594.3,38.3 592.5,42.2 591.0,43.0 C589.5,43.8 586.3,42.5 585.0,41.5 C583.7,40.5 583.5,38.7 583.0,37.0 C582.5,35.3 581.0,32.3 582.0,31.5 Z" fill="#a6cbe6"/>
<path d="M560.0,33.0 C560.8,31.8 564.5,31.3 566.0,31.5 C567.5,31.7 569.2,32.9 569.0,34.0 C568.8,35.1 566.3,37.2 565.0,38.0 C563.7,38.8 561.8,39.3 561.0,38.5 C560.2,37.7 559.2,34.2 560.0,33.0 Z" fill="#5ba6d6"/>
<path d="M499.0,60.0 C499.3,58.2 500.2,56.2 501.5,55.5 C502.8,54.8 505.2,55.2 507.0,56.0 C508.8,56.8 510.9,58.6 512.5,60.0 C514.1,61.4 515.5,62.8 516.5,64.5 C517.5,66.2 519.2,69.2 518.5,70.5 C517.8,71.8 514.2,72.4 512.0,72.5 C509.8,72.6 507.1,72.1 505.0,71.0 C502.9,69.9 500.5,67.8 499.5,66.0 C498.5,64.2 498.7,61.8 499.0,60.0 Z" fill="#5ba6d6"/>
<path d="M486.0,77.0 C486.5,75.7 489.2,73.7 491.0,72.5 C492.8,71.3 495.0,70.8 497.0,70.0 C499.0,69.2 501.2,68.2 503.0,68.0 C504.8,67.8 506.8,67.9 507.5,69.0 C508.2,70.1 508.1,73.0 507.0,74.5 C505.9,76.0 503.2,77.0 501.0,78.0 C498.8,79.0 496.2,80.1 494.0,80.5 C491.8,80.9 489.3,81.1 488.0,80.5 C486.7,79.9 485.5,78.3 486.0,77.0 Z" fill="#5ba6d6"/>
<path d="M545.0,100.0 C545.5,99.0 547.5,98.3 549.0,98.5 C550.5,98.7 552.7,100.9 554.0,101.0 C555.3,101.1 555.5,99.2 557.0,99.0 C558.5,98.8 561.3,99.0 563.0,99.5 C564.7,100.0 567.0,101.1 567.0,102.0 C567.0,102.9 564.7,104.3 563.0,105.0 C561.3,105.7 557.8,104.8 557.0,106.0 C556.2,107.2 558.2,110.0 558.0,112.0 C557.8,114.0 557.0,118.0 556.0,118.0 C555.0,118.0 552.8,114.0 552.0,112.0 C551.2,110.0 552.0,107.2 551.0,106.0 C550.0,104.8 547.0,105.5 546.0,104.5 C545.0,103.5 544.5,101.0 545.0,100.0 Z" fill="#5ba6d6"/>
<path d="M514.8,108.2 C515.1,106.7 517.0,106.4 518.0,107.0 C519.0,107.6 520.3,110.0 521.0,112.0 C521.7,114.0 522.5,117.3 522.3,119.0 C522.1,120.7 521.0,122.5 520.0,122.0 C519.0,121.5 516.9,118.3 516.0,116.0 C515.1,113.7 514.5,109.7 514.8,108.2 Z" fill="#5ba6d6"/>
<path d="M500.0,118.5 C501.0,117.8 505.3,117.5 508.0,117.5 C510.7,117.5 513.7,117.9 516.0,118.5 C518.3,119.1 521.5,120.0 522.0,121.0 C522.5,122.0 521.0,124.2 519.0,124.5 C517.0,124.8 512.8,123.4 510.0,123.0 C507.2,122.6 503.7,122.8 502.0,122.0 C500.3,121.2 499.0,119.2 500.0,118.5 Z" fill="#5ba6d6"/>
<path d="M524.0,120.0 C524.9,120.2 525.0,124.1 526.5,125.0 C528.0,125.9 531.4,125.0 533.0,125.5 C534.6,126.0 536.5,127.2 536.0,127.8 C535.5,128.4 529.3,128.1 530.0,129.0 C530.7,129.9 538.7,132.6 540.0,133.5 C541.3,134.4 540.0,134.9 538.0,134.5 C536.0,134.1 530.0,130.6 528.0,131.0 C526.0,131.4 526.7,136.0 526.0,137.0 C525.3,138.0 524.4,137.9 523.8,137.0 C523.2,136.1 524.6,132.4 522.5,131.5 C520.4,130.6 513.0,131.8 511.0,131.5 C508.9,131.2 508.7,130.8 510.2,130.0 C511.7,129.2 518.2,128.0 520.0,127.0 C521.8,126.0 520.3,125.2 521.0,124.0 C521.7,122.8 523.1,119.8 524.0,120.0 Z" fill="#5ba6d6"/>
<path d="M591.3,80.3 C592.0,80.0 593.7,80.1 595.0,80.7 C596.3,81.3 598.1,82.8 598.9,84.0 C599.7,85.2 599.9,86.5 599.6,87.8 C599.3,89.1 598.2,90.6 597.3,91.6 C596.4,92.6 595.0,93.9 594.3,93.9 C593.5,93.9 592.6,92.6 592.8,91.6 C593.0,90.6 595.0,89.1 595.3,87.8 C595.6,86.5 595.4,84.9 594.6,84.0 C593.9,83.1 591.3,83.1 590.8,82.5 C590.2,81.9 590.6,80.6 591.3,80.3 Z" fill="#5ba6d6"/>
<path d="M471.0,93.0 C471.5,91.7 473.5,91.5 475.0,91.0 C476.5,90.5 478.7,90.1 480.0,90.0 C481.3,89.9 483.2,89.8 483.0,90.5 C482.8,91.2 480.2,92.8 479.0,94.0 C477.8,95.2 477.2,97.2 476.0,98.0 C474.8,98.8 472.8,99.8 472.0,99.0 C471.2,98.2 470.5,94.3 471.0,93.0 Z" fill="#5ba6d6"/>
<path d="M499.7,107.0 C500.2,106.3 502.2,106.2 503.0,106.7 C503.8,107.2 504.4,109.0 504.2,110.0 C504.0,111.0 502.7,112.5 502.0,112.7 C501.3,112.9 500.4,112.0 500.0,111.0 C499.6,110.0 499.2,107.7 499.7,107.0 Z" fill="#5ba6d6"/>
<path d="M534.5,111.0 C534.8,110.2 538.2,109.6 540.0,109.5 C541.8,109.4 544.3,109.8 545.0,110.5 C545.7,111.2 545.2,113.3 544.0,114.0 C542.8,114.7 539.6,115.0 538.0,114.5 C536.4,114.0 534.2,111.8 534.5,111.0 Z" fill="#5ba6d6"/>
<path d="M544.0,76.0 C544.7,75.6 549.3,76.5 552.0,77.0 C554.7,77.5 557.7,78.2 560.0,79.0 C562.3,79.8 566.3,81.1 566.0,81.5 C565.7,81.9 561.0,81.8 558.0,81.5 C555.0,81.2 550.3,80.4 548.0,79.5 C545.7,78.6 543.3,76.4 544.0,76.0 Z" fill="#5ba6d6"/>
<path d="M499,43.5 L508,54 L515,63 L519,69" fill="none" stroke="#5ba6d6" stroke-width="1.8" stroke-linecap="round"/>
<path d="M553,24 L563,33" fill="none" stroke="#5ba6d6" stroke-width="0.9" stroke-linecap="round"/>
</g>
<text x="483.40" y="33.40" font-size="9.2" text-anchor="start" fill="#7d9ef0" font-weight="normal" textLength="35.2" lengthAdjust="spacingAndGlyphs">negative</text>
<g transform="translate(-1.00,137.00) scale(1,1)" filter="url(#usoft)">
<path d="M546.0,39.0 C546.5,37.6 547.7,36.0 549.0,35.5 C550.3,35.0 552.9,35.1 554.0,36.0 C555.1,36.9 555.7,39.2 555.4,41.0 C555.1,42.8 553.2,45.5 552.0,46.5 C550.8,47.5 549.0,47.4 548.0,47.0 C547.0,46.6 546.3,45.3 546.0,44.0 C545.7,42.7 545.5,40.4 546.0,39.0 Z" fill="#e1e1e1"/>
<path d="M578.7,42.0 C579.7,40.9 582.8,39.9 585.0,39.5 C587.2,39.1 590.0,39.2 592.0,39.5 C594.0,39.8 596.3,40.1 597.0,41.0 C597.7,41.9 597.3,43.8 596.0,45.0 C594.7,46.2 591.3,47.4 589.0,48.0 C586.7,48.6 583.7,49.1 582.0,48.8 C580.3,48.5 579.5,47.1 579.0,46.0 C578.5,44.9 577.7,43.1 578.7,42.0 Z" fill="#e06666"/>
<path d="M575.0,63.0 C575.7,61.8 578.2,60.1 580.0,59.0 C581.8,57.9 584.0,57.0 586.0,56.5 C588.0,56.0 590.9,55.6 592.0,56.0 C593.1,56.4 593.4,57.8 592.7,59.0 C592.0,60.2 589.8,61.8 588.0,63.0 C586.2,64.2 584.0,65.4 582.0,66.0 C580.0,66.6 577.2,66.9 576.0,66.4 C574.8,65.9 574.3,64.2 575.0,63.0 Z" fill="#e1e1e1"/>
<path d="M591.0,75.0 C591.2,74.0 592.8,72.1 594.0,71.0 C595.2,69.9 597.5,68.2 598.0,68.5 C598.5,68.8 597.8,71.6 597.0,73.0 C596.2,74.4 594.0,76.7 593.0,77.0 C592.0,77.3 590.8,76.0 591.0,75.0 Z" fill="#e06666"/>
<path d="M525.6,22.0 C525.9,21.3 527.3,20.4 528.0,20.6 C528.7,20.8 529.8,22.1 529.8,23.0 C529.8,23.9 528.6,26.0 528.0,26.3 C527.4,26.6 526.4,25.7 526.0,25.0 C525.6,24.3 525.3,22.7 525.6,22.0 Z" fill="#e1e1e1"/>
<path d="M520.0,44.0 C520.3,42.8 521.8,40.7 523.0,40.4 C524.2,40.1 526.7,40.6 527.0,42.0 C527.3,43.4 526.0,47.9 525.0,48.8 C524.0,49.7 521.8,48.3 521.0,47.5 C520.2,46.7 519.7,45.2 520.0,44.0 Z" fill="#e1e1e1"/>
<path d="M472.0,55.0 C472.7,54.1 475.1,51.9 476.0,51.6 C476.9,51.3 477.9,52.3 477.7,53.0 C477.4,53.7 474.5,55.0 474.5,56.0 C474.5,57.0 477.4,58.3 477.7,59.0 C477.9,59.7 476.9,60.3 476.0,60.0 C475.1,59.7 472.7,57.8 472.0,57.0 C471.3,56.2 471.3,55.9 472.0,55.0 Z" fill="#e06666"/>
<path d="M480.5,79.0 C480.3,78.0 481.9,76.1 483.0,75.0 C484.1,73.9 486.0,72.7 487.0,72.5 C488.0,72.3 488.8,73.0 489.0,74.0 C489.2,75.0 488.8,77.3 488.0,78.5 C487.2,79.7 485.2,81.1 484.0,81.2 C482.8,81.3 480.7,80.0 480.5,79.0 Z" fill="#e06666"/>
<path d="M484.0,82.0 C485.2,80.5 491.5,78.3 495.0,78.0 C498.5,77.7 501.8,79.0 505.0,80.0 C508.2,81.0 513.2,82.7 514.0,84.0 C514.8,85.3 512.7,87.7 510.0,88.0 C507.3,88.3 501.7,86.2 498.0,86.0 C494.3,85.8 490.3,87.7 488.0,87.0 C485.7,86.3 482.8,83.5 484.0,82.0 Z" fill="#e1e1e1"/>
<path d="M493.0,106.0 C492.4,104.2 492.2,100.5 492.5,98.0 C492.8,95.5 493.6,92.6 495.0,91.0 C496.4,89.4 498.7,88.8 501.0,88.5 C503.3,88.2 506.7,88.4 509.0,89.0 C511.3,89.6 513.3,90.7 515.0,92.0 C516.7,93.3 517.9,95.2 519.0,97.0 C520.1,98.8 521.3,101.3 521.5,103.0 C521.7,104.7 520.9,106.5 520.0,107.0 C519.1,107.5 517.0,107.2 516.0,106.0 C515.0,104.8 515.2,101.9 514.0,100.0 C512.8,98.1 511.0,95.7 509.0,94.5 C507.0,93.3 503.9,92.8 502.0,93.0 C500.1,93.2 498.2,94.5 497.5,96.0 C496.8,97.5 497.1,100.1 497.5,102.0 C497.9,103.9 500.2,106.4 500.0,107.5 C499.8,108.6 497.2,108.8 496.0,108.5 C494.8,108.2 493.6,107.8 493.0,106.0 Z" fill="#e06666"/>
<path d="M514.0,101.0 C514.3,99.8 516.1,100.1 517.0,100.6 C517.9,101.1 519.1,102.7 519.3,104.0 C519.5,105.3 518.7,107.5 518.0,108.2 C517.3,108.9 515.7,109.2 515.0,108.0 C514.3,106.8 513.7,102.2 514.0,101.0 Z" fill="#e1e1e1"/>
<path d="M499.7,123.0 C500.1,122.3 501.8,121.9 503.0,121.8 C504.2,121.7 506.9,121.8 507.2,122.5 C507.5,123.2 506.1,125.7 505.0,126.3 C503.9,126.9 501.4,126.5 500.5,126.0 C499.6,125.5 499.3,123.7 499.7,123.0 Z" fill="#e06666"/>
<path d="M529.9,131.0 C530.4,130.5 534.0,130.6 536.0,130.8 C538.0,131.1 541.2,131.8 541.9,132.5 C542.6,133.2 541.5,135.1 540.0,135.3 C538.5,135.6 534.7,134.7 533.0,134.0 C531.3,133.3 529.4,131.5 529.9,131.0 Z" fill="#e1e1e1"/>
<path d="M519.3,141.0 C519.5,140.1 520.8,139.7 521.5,139.9 C522.2,140.1 523.5,141.0 523.8,142.0 C524.0,143.0 523.6,145.3 523.0,145.9 C522.4,146.5 520.6,146.3 520.0,145.5 C519.4,144.7 519.0,141.9 519.3,141.0 Z" fill="#e06666"/>
<path d="M551.0,92.0 C551.8,90.0 554.0,87.3 556.0,86.0 C558.0,84.7 560.5,84.2 563.0,84.0 C565.5,83.8 568.9,84.0 571.0,85.0 C573.1,86.0 575.4,88.0 575.7,90.0 C576.0,92.0 574.8,95.3 573.0,97.0 C571.2,98.7 567.8,99.2 565.0,100.0 C562.2,100.8 558.3,102.3 556.0,102.0 C553.7,101.7 551.8,99.7 551.0,98.0 C550.2,96.3 550.2,94.0 551.0,92.0 Z" fill="#e1e1e1"/>
<path d="M559.0,105.0 C559.3,103.9 563.2,103.5 566.0,103.7 C568.8,103.9 574.5,104.8 575.7,106.0 C576.9,107.2 575.0,110.5 573.0,111.2 C571.0,112.0 566.3,111.5 564.0,110.5 C561.7,109.5 558.7,106.1 559.0,105.0 Z" fill="#e06666"/>
<path d="M550.0,113.0 C550.5,111.5 553.0,111.9 554.0,112.7 C555.0,113.5 555.8,116.2 556.0,118.0 C556.2,119.8 555.8,122.6 555.0,123.3 C554.2,124.0 551.8,123.7 551.0,122.0 C550.2,120.3 549.5,114.5 550.0,113.0 Z" fill="#e06666"/>
<path d="M534.4,103.0 C535.1,101.6 538.2,100.6 540.0,100.6 C541.8,100.6 544.3,101.8 545.0,103.0 C545.7,104.2 545.5,107.0 544.0,108.0 C542.5,109.0 537.6,109.8 536.0,109.0 C534.4,108.2 533.7,104.4 534.4,103.0 Z" fill="#e06666"/>
<path d="M576.0,112.0 C576.0,110.2 579.7,107.3 582.0,106.0 C584.3,104.7 587.0,104.4 590.0,104.0 C593.0,103.6 597.2,103.2 600.0,103.7 C602.8,104.2 606.2,105.6 607.0,107.0 C607.8,108.4 606.7,110.8 605.0,112.0 C603.3,113.2 599.5,112.9 597.0,114.0 C594.5,115.1 592.5,118.2 590.0,118.7 C587.5,119.2 584.3,118.1 582.0,117.0 C579.7,115.9 576.0,113.8 576.0,112.0 Z" fill="#e48080"/>
<path d="M584.8,89.0 C585.3,88.0 588.2,86.8 590.0,87.0 C591.8,87.2 594.8,88.8 595.3,90.0 C595.8,91.2 594.4,93.4 593.0,93.9 C591.6,94.4 588.4,93.8 587.0,93.0 C585.6,92.2 584.3,90.0 584.8,89.0 Z" fill="#e06666"/>
<path d="M526.0,54.0 C527.0,53.1 528.5,51.7 530.0,51.5 C531.5,51.3 533.5,53.2 535.0,53.0 C536.5,52.8 537.7,50.7 539.0,50.5 C540.3,50.3 542.0,50.8 543.0,52.0 C544.0,53.2 544.8,55.7 545.0,58.0 C545.2,60.3 544.3,63.7 544.5,66.0 C544.7,68.3 546.2,70.3 546.0,72.0 C545.8,73.7 544.0,74.7 543.0,76.0 C542.0,77.3 540.8,78.3 540.0,80.0 C539.2,81.7 538.8,85.7 538.0,86.0 C537.2,86.3 536.0,81.8 535.0,82.0 C534.0,82.2 533.0,87.0 532.0,87.0 C531.0,87.0 530.1,82.2 529.0,82.0 C527.9,81.8 526.0,86.5 525.5,86.0 C525.0,85.5 526.8,80.7 526.0,79.0 C525.2,77.3 522.2,77.5 521.0,76.0 C519.8,74.5 518.8,72.2 518.5,70.0 C518.2,67.8 518.2,64.3 519.0,63.0 C519.8,61.7 522.2,63.0 523.0,62.0 C523.8,61.0 523.5,58.3 524.0,57.0 C524.5,55.7 525.0,54.9 526.0,54.0 Z" fill="#e6e6e6"/>
<path d="M528.0,58.0 C529.2,56.8 531.3,56.1 533.0,56.0 C534.7,55.9 536.7,56.5 538.0,57.5 C539.3,58.5 540.5,60.1 541.0,62.0 C541.5,63.9 541.7,67.2 541.0,69.0 C540.3,70.8 538.7,72.2 537.0,73.0 C535.3,73.8 532.7,74.5 531.0,74.0 C529.3,73.5 527.8,71.8 527.0,70.0 C526.2,68.2 525.8,65.0 526.0,63.0 C526.2,61.0 526.8,59.2 528.0,58.0 Z" fill="#e6e6e6"/>
<path d="M543.8,69.3 C544.7,67.0 549.5,63.9 552.0,61.2 C554.5,58.5 556.8,55.7 558.8,53.0 C560.8,50.3 562.6,47.4 564.2,44.9 C565.8,42.4 566.9,40.1 568.3,38.1 C569.6,36.1 570.9,33.8 572.3,32.7 C573.6,31.6 574.8,31.3 576.4,31.3 C578.0,31.3 580.4,31.8 581.8,32.7 C583.2,33.6 584.8,35.1 584.6,36.7 C584.4,38.3 582.1,39.9 580.5,42.2 C578.9,44.5 576.8,47.6 575.0,50.3 C573.2,53.0 571.9,55.5 569.6,58.5 C567.4,61.5 564.0,65.5 561.5,68.0 C559.0,70.5 557.2,72.3 554.7,73.4 C552.2,74.5 548.3,75.5 546.5,74.8 C544.7,74.1 542.9,71.6 543.8,69.3 Z" fill="#e6e6e6"/>
<path d="M543.8,69.3 C544.7,67.0 550.0,63.1 552.0,61.2 C554.0,59.3 554.4,57.9 556.0,58.0 C557.6,58.1 560.6,60.3 561.5,62.0 C562.4,63.7 562.6,66.1 561.5,68.0 C560.4,69.9 557.2,72.3 554.7,73.4 C552.2,74.5 548.3,75.5 546.5,74.8 C544.7,74.1 542.9,71.6 543.8,69.3 Z" fill="#e6e6e6"/>
<path d="M582.0,31.5 C583.0,30.7 587.0,31.2 589.0,32.0 C591.0,32.8 593.7,34.7 594.0,36.5 C594.3,38.3 592.5,42.2 591.0,43.0 C589.5,43.8 586.3,42.5 585.0,41.5 C583.7,40.5 583.5,38.7 583.0,37.0 C582.5,35.3 581.0,32.3 582.0,31.5 Z" fill="#e1e1e1"/>
<path d="M560.0,33.0 C560.8,31.8 564.5,31.3 566.0,31.5 C567.5,31.7 569.2,32.9 569.0,34.0 C568.8,35.1 566.3,37.2 565.0,38.0 C563.7,38.8 561.8,39.3 561.0,38.5 C560.2,37.7 559.2,34.2 560.0,33.0 Z" fill="#e1e1e1"/>
<path d="M499.0,60.0 C499.3,58.2 500.2,56.2 501.5,55.5 C502.8,54.8 505.2,55.2 507.0,56.0 C508.8,56.8 510.9,58.6 512.5,60.0 C514.1,61.4 515.5,62.8 516.5,64.5 C517.5,66.2 519.2,69.2 518.5,70.5 C517.8,71.8 514.2,72.4 512.0,72.5 C509.8,72.6 507.1,72.1 505.0,71.0 C502.9,69.9 500.5,67.8 499.5,66.0 C498.5,64.2 498.7,61.8 499.0,60.0 Z" fill="#e1e1e1"/>
<path d="M486.0,77.0 C486.5,75.7 489.2,73.7 491.0,72.5 C492.8,71.3 495.0,70.8 497.0,70.0 C499.0,69.2 501.2,68.2 503.0,68.0 C504.8,67.8 506.8,67.9 507.5,69.0 C508.2,70.1 508.1,73.0 507.0,74.5 C505.9,76.0 503.2,77.0 501.0,78.0 C498.8,79.0 496.2,80.1 494.0,80.5 C491.8,80.9 489.3,81.1 488.0,80.5 C486.7,79.9 485.5,78.3 486.0,77.0 Z" fill="#e1e1e1"/>
<path d="M545.0,100.0 C545.5,99.0 547.5,98.3 549.0,98.5 C550.5,98.7 552.7,100.9 554.0,101.0 C555.3,101.1 555.5,99.2 557.0,99.0 C558.5,98.8 561.3,99.0 563.0,99.5 C564.7,100.0 567.0,101.1 567.0,102.0 C567.0,102.9 564.7,104.3 563.0,105.0 C561.3,105.7 557.8,104.8 557.0,106.0 C556.2,107.2 558.2,110.0 558.0,112.0 C557.8,114.0 557.0,118.0 556.0,118.0 C555.0,118.0 552.8,114.0 552.0,112.0 C551.2,110.0 552.0,107.2 551.0,106.0 C550.0,104.8 547.0,105.5 546.0,104.5 C545.0,103.5 544.5,101.0 545.0,100.0 Z" fill="#e1e1e1"/>
<path d="M514.8,108.2 C515.1,106.7 517.0,106.4 518.0,107.0 C519.0,107.6 520.3,110.0 521.0,112.0 C521.7,114.0 522.5,117.3 522.3,119.0 C522.1,120.7 521.0,122.5 520.0,122.0 C519.0,121.5 516.9,118.3 516.0,116.0 C515.1,113.7 514.5,109.7 514.8,108.2 Z" fill="#e1e1e1"/>
<path d="M500.0,118.5 C501.0,117.8 505.3,117.5 508.0,117.5 C510.7,117.5 513.7,117.9 516.0,118.5 C518.3,119.1 521.5,120.0 522.0,121.0 C522.5,122.0 521.0,124.2 519.0,124.5 C517.0,124.8 512.8,123.4 510.0,123.0 C507.2,122.6 503.7,122.8 502.0,122.0 C500.3,121.2 499.0,119.2 500.0,118.5 Z" fill="#e1e1e1"/>
<path d="M524.0,120.0 C524.9,120.2 525.0,124.1 526.5,125.0 C528.0,125.9 531.4,125.0 533.0,125.5 C534.6,126.0 536.5,127.2 536.0,127.8 C535.5,128.4 529.3,128.1 530.0,129.0 C530.7,129.9 538.7,132.6 540.0,133.5 C541.3,134.4 540.0,134.9 538.0,134.5 C536.0,134.1 530.0,130.6 528.0,131.0 C526.0,131.4 526.7,136.0 526.0,137.0 C525.3,138.0 524.4,137.9 523.8,137.0 C523.2,136.1 524.6,132.4 522.5,131.5 C520.4,130.6 513.0,131.8 511.0,131.5 C508.9,131.2 508.7,130.8 510.2,130.0 C511.7,129.2 518.2,128.0 520.0,127.0 C521.8,126.0 520.3,125.2 521.0,124.0 C521.7,122.8 523.1,119.8 524.0,120.0 Z" fill="#e1e1e1"/>
<path d="M591.3,80.3 C592.0,80.0 593.7,80.1 595.0,80.7 C596.3,81.3 598.1,82.8 598.9,84.0 C599.7,85.2 599.9,86.5 599.6,87.8 C599.3,89.1 598.2,90.6 597.3,91.6 C596.4,92.6 595.0,93.9 594.3,93.9 C593.5,93.9 592.6,92.6 592.8,91.6 C593.0,90.6 595.0,89.1 595.3,87.8 C595.6,86.5 595.4,84.9 594.6,84.0 C593.9,83.1 591.3,83.1 590.8,82.5 C590.2,81.9 590.6,80.6 591.3,80.3 Z" fill="#e1e1e1"/>
<path d="M471.0,93.0 C471.5,91.7 473.5,91.5 475.0,91.0 C476.5,90.5 478.7,90.1 480.0,90.0 C481.3,89.9 483.2,89.8 483.0,90.5 C482.8,91.2 480.2,92.8 479.0,94.0 C477.8,95.2 477.2,97.2 476.0,98.0 C474.8,98.8 472.8,99.8 472.0,99.0 C471.2,98.2 470.5,94.3 471.0,93.0 Z" fill="#e1e1e1"/>
<path d="M499.7,107.0 C500.2,106.3 502.2,106.2 503.0,106.7 C503.8,107.2 504.4,109.0 504.2,110.0 C504.0,111.0 502.7,112.5 502.0,112.7 C501.3,112.9 500.4,112.0 500.0,111.0 C499.6,110.0 499.2,107.7 499.7,107.0 Z" fill="#e1e1e1"/>
<path d="M534.5,111.0 C534.8,110.2 538.2,109.6 540.0,109.5 C541.8,109.4 544.3,109.8 545.0,110.5 C545.7,111.2 545.2,113.3 544.0,114.0 C542.8,114.7 539.6,115.0 538.0,114.5 C536.4,114.0 534.2,111.8 534.5,111.0 Z" fill="#e1e1e1"/>
<path d="M544.0,76.0 C544.7,75.6 549.3,76.5 552.0,77.0 C554.7,77.5 557.7,78.2 560.0,79.0 C562.3,79.8 566.3,81.1 566.0,81.5 C565.7,81.9 561.0,81.8 558.0,81.5 C555.0,81.2 550.3,80.4 548.0,79.5 C545.7,78.6 543.3,76.4 544.0,76.0 Z" fill="#e6e6e6"/>
<path d="M499,43.5 L508,54 L515,63 L519,69" fill="none" stroke="#e1e1e1" stroke-width="1.8" stroke-linecap="round"/>
<path d="M553,24 L563,33" fill="none" stroke="#e06666" stroke-width="0.9" stroke-linecap="round"/>
</g>
<text x="484.20" y="174.40" font-size="9.2" text-anchor="start" fill="#d46a6a" font-weight="normal" textLength="32.9" lengthAdjust="spacingAndGlyphs">positive</text>
<g transform="translate(368.00,46.90) scale(0.52,0.52)" filter="url(#usoft)">
<path d="M546.0,39.0 C546.5,37.6 547.7,36.0 549.0,35.5 C550.3,35.0 552.9,35.1 554.0,36.0 C555.1,36.9 555.7,39.2 555.4,41.0 C555.1,42.8 553.2,45.5 552.0,46.5 C550.8,47.5 549.0,47.4 548.0,47.0 C547.0,46.6 546.3,45.3 546.0,44.0 C545.7,42.7 545.5,40.4 546.0,39.0 Z" fill="#e6e6e6"/>
<path d="M578.7,42.0 C579.7,40.9 582.8,39.9 585.0,39.5 C587.2,39.1 590.0,39.2 592.0,39.5 C594.0,39.8 596.3,40.1 597.0,41.0 C597.7,41.9 597.3,43.8 596.0,45.0 C594.7,46.2 591.3,47.4 589.0,48.0 C586.7,48.6 583.7,49.1 582.0,48.8 C580.3,48.5 579.5,47.1 579.0,46.0 C578.5,44.9 577.7,43.1 578.7,42.0 Z" fill="#e6e6e6"/>
<path d="M575.0,63.0 C575.7,61.8 578.2,60.1 580.0,59.0 C581.8,57.9 584.0,57.0 586.0,56.5 C588.0,56.0 590.9,55.6 592.0,56.0 C593.1,56.4 593.4,57.8 592.7,59.0 C592.0,60.2 589.8,61.8 588.0,63.0 C586.2,64.2 584.0,65.4 582.0,66.0 C580.0,66.6 577.2,66.9 576.0,66.4 C574.8,65.9 574.3,64.2 575.0,63.0 Z" fill="#e6e6e6"/>
<path d="M591.0,75.0 C591.2,74.0 592.8,72.1 594.0,71.0 C595.2,69.9 597.5,68.2 598.0,68.5 C598.5,68.8 597.8,71.6 597.0,73.0 C596.2,74.4 594.0,76.7 593.0,77.0 C592.0,77.3 590.8,76.0 591.0,75.0 Z" fill="#2a2a2a"/>
<path d="M525.6,22.0 C525.9,21.3 527.3,20.4 528.0,20.6 C528.7,20.8 529.8,22.1 529.8,23.0 C529.8,23.9 528.6,26.0 528.0,26.3 C527.4,26.6 526.4,25.7 526.0,25.0 C525.6,24.3 525.3,22.7 525.6,22.0 Z" fill="#e6e6e6"/>
<path d="M520.0,44.0 C520.3,42.8 521.8,40.7 523.0,40.4 C524.2,40.1 526.7,40.6 527.0,42.0 C527.3,43.4 526.0,47.9 525.0,48.8 C524.0,49.7 521.8,48.3 521.0,47.5 C520.2,46.7 519.7,45.2 520.0,44.0 Z" fill="#e6e6e6"/>
<path d="M472.0,55.0 C472.7,54.1 475.1,51.9 476.0,51.6 C476.9,51.3 477.9,52.3 477.7,53.0 C477.4,53.7 474.5,55.0 474.5,56.0 C474.5,57.0 477.4,58.3 477.7,59.0 C477.9,59.7 476.9,60.3 476.0,60.0 C475.1,59.7 472.7,57.8 472.0,57.0 C471.3,56.2 471.3,55.9 472.0,55.0 Z" fill="#e6e6e6"/>
<path d="M480.5,79.0 C480.3,78.0 481.9,76.1 483.0,75.0 C484.1,73.9 486.0,72.7 487.0,72.5 C488.0,72.3 488.8,73.0 489.0,74.0 C489.2,75.0 488.8,77.3 488.0,78.5 C487.2,79.7 485.2,81.1 484.0,81.2 C482.8,81.3 480.7,80.0 480.5,79.0 Z" fill="#e6e6e6"/>
<path d="M484.0,82.0 C485.2,80.5 491.5,78.3 495.0,78.0 C498.5,77.7 501.8,79.0 505.0,80.0 C508.2,81.0 513.2,82.7 514.0,84.0 C514.8,85.3 512.7,87.7 510.0,88.0 C507.3,88.3 501.7,86.2 498.0,86.0 C494.3,85.8 490.3,87.7 488.0,87.0 C485.7,86.3 482.8,83.5 484.0,82.0 Z" fill="#e6e6e6"/>
<path d="M493.0,106.0 C492.4,104.2 492.2,100.5 492.5,98.0 C492.8,95.5 493.6,92.6 495.0,91.0 C496.4,89.4 498.7,88.8 501.0,88.5 C503.3,88.2 506.7,88.4 509.0,89.0 C511.3,89.6 513.3,90.7 515.0,92.0 C516.7,93.3 517.9,95.2 519.0,97.0 C520.1,98.8 521.3,101.3 521.5,103.0 C521.7,104.7 520.9,106.5 520.0,107.0 C519.1,107.5 517.0,107.2 516.0,106.0 C515.0,104.8 515.2,101.9 514.0,100.0 C512.8,98.1 511.0,95.7 509.0,94.5 C507.0,93.3 503.9,92.8 502.0,93.0 C500.1,93.2 498.2,94.5 497.5,96.0 C496.8,97.5 497.1,100.1 497.5,102.0 C497.9,103.9 500.2,106.4 500.0,107.5 C499.8,108.6 497.2,108.8 496.0,108.5 C494.8,108.2 493.6,107.8 493.0,106.0 Z" fill="#e6e6e6"/>
<path d="M514.0,101.0 C514.3,99.8 516.1,100.1 517.0,100.6 C517.9,101.1 519.1,102.7 519.3,104.0 C519.5,105.3 518.7,107.5 518.0,108.2 C517.3,108.9 515.7,109.2 515.0,108.0 C514.3,106.8 513.7,102.2 514.0,101.0 Z" fill="#e6e6e6"/>
<path d="M499.7,123.0 C500.1,122.3 501.8,121.9 503.0,121.8 C504.2,121.7 506.9,121.8 507.2,122.5 C507.5,123.2 506.1,125.7 505.0,126.3 C503.9,126.9 501.4,126.5 500.5,126.0 C499.6,125.5 499.3,123.7 499.7,123.0 Z" fill="#e6e6e6"/>
<path d="M529.9,131.0 C530.4,130.5 534.0,130.6 536.0,130.8 C538.0,131.1 541.2,131.8 541.9,132.5 C542.6,133.2 541.5,135.1 540.0,135.3 C538.5,135.6 534.7,134.7 533.0,134.0 C531.3,133.3 529.4,131.5 529.9,131.0 Z" fill="#e6e6e6"/>
<path d="M519.3,141.0 C519.5,140.1 520.8,139.7 521.5,139.9 C522.2,140.1 523.5,141.0 523.8,142.0 C524.0,143.0 523.6,145.3 523.0,145.9 C522.4,146.5 520.6,146.3 520.0,145.5 C519.4,144.7 519.0,141.9 519.3,141.0 Z" fill="#e6e6e6"/>
<path d="M551.0,92.0 C551.8,90.0 554.0,87.3 556.0,86.0 C558.0,84.7 560.5,84.2 563.0,84.0 C565.5,83.8 568.9,84.0 571.0,85.0 C573.1,86.0 575.4,88.0 575.7,90.0 C576.0,92.0 574.8,95.3 573.0,97.0 C571.2,98.7 567.8,99.2 565.0,100.0 C562.2,100.8 558.3,102.3 556.0,102.0 C553.7,101.7 551.8,99.7 551.0,98.0 C550.2,96.3 550.2,94.0 551.0,92.0 Z" fill="#e6e6e6"/>
<path d="M559.0,105.0 C559.3,103.9 563.2,103.5 566.0,103.7 C568.8,103.9 574.5,104.8 575.7,106.0 C576.9,107.2 575.0,110.5 573.0,111.2 C571.0,112.0 566.3,111.5 564.0,110.5 C561.7,109.5 558.7,106.1 559.0,105.0 Z" fill="#e6e6e6"/>
<path d="M550.0,113.0 C550.5,111.5 553.0,111.9 554.0,112.7 C555.0,113.5 555.8,116.2 556.0,118.0 C556.2,119.8 555.8,122.6 555.0,123.3 C554.2,124.0 551.8,123.7 551.0,122.0 C550.2,120.3 549.5,114.5 550.0,113.0 Z" fill="#e6e6e6"/>
<path d="M534.4,103.0 C535.1,101.6 538.2,100.6 540.0,100.6 C541.8,100.6 544.3,101.8 545.0,103.0 C545.7,104.2 545.5,107.0 544.0,108.0 C542.5,109.0 537.6,109.8 536.0,109.0 C534.4,108.2 533.7,104.4 534.4,103.0 Z" fill="#e6e6e6"/>
<path d="M576.0,112.0 C576.0,110.2 579.7,107.3 582.0,106.0 C584.3,104.7 587.0,104.4 590.0,104.0 C593.0,103.6 597.2,103.2 600.0,103.7 C602.8,104.2 606.2,105.6 607.0,107.0 C607.8,108.4 606.7,110.8 605.0,112.0 C603.3,113.2 599.5,112.9 597.0,114.0 C594.5,115.1 592.5,118.2 590.0,118.7 C587.5,119.2 584.3,118.1 582.0,117.0 C579.7,115.9 576.0,113.8 576.0,112.0 Z" fill="#e6e6e6"/>
<path d="M584.8,89.0 C585.3,88.0 588.2,86.8 590.0,87.0 C591.8,87.2 594.8,88.8 595.3,90.0 C595.8,91.2 594.4,93.4 593.0,93.9 C591.6,94.4 588.4,93.8 587.0,93.0 C585.6,92.2 584.3,90.0 584.8,89.0 Z" fill="#e6e6e6"/>
<path d="M526.0,54.0 C527.0,53.1 528.5,51.7 530.0,51.5 C531.5,51.3 533.5,53.2 535.0,53.0 C536.5,52.8 537.7,50.7 539.0,50.5 C540.3,50.3 542.0,50.8 543.0,52.0 C544.0,53.2 544.8,55.7 545.0,58.0 C545.2,60.3 544.3,63.7 544.5,66.0 C544.7,68.3 546.2,70.3 546.0,72.0 C545.8,73.7 544.0,74.7 543.0,76.0 C542.0,77.3 540.8,78.3 540.0,80.0 C539.2,81.7 538.8,85.7 538.0,86.0 C537.2,86.3 536.0,81.8 535.0,82.0 C534.0,82.2 533.0,87.0 532.0,87.0 C531.0,87.0 530.1,82.2 529.0,82.0 C527.9,81.8 526.0,86.5 525.5,86.0 C525.0,85.5 526.8,80.7 526.0,79.0 C525.2,77.3 522.2,77.5 521.0,76.0 C519.8,74.5 518.8,72.2 518.5,70.0 C518.2,67.8 518.2,64.3 519.0,63.0 C519.8,61.7 522.2,63.0 523.0,62.0 C523.8,61.0 523.5,58.3 524.0,57.0 C524.5,55.7 525.0,54.9 526.0,54.0 Z" fill="#cfcfcf"/>
<path d="M528.0,58.0 C529.2,56.8 531.3,56.1 533.0,56.0 C534.7,55.9 536.7,56.5 538.0,57.5 C539.3,58.5 540.5,60.1 541.0,62.0 C541.5,63.9 541.7,67.2 541.0,69.0 C540.3,70.8 538.7,72.2 537.0,73.0 C535.3,73.8 532.7,74.5 531.0,74.0 C529.3,73.5 527.8,71.8 527.0,70.0 C526.2,68.2 525.8,65.0 526.0,63.0 C526.2,61.0 526.8,59.2 528.0,58.0 Z" fill="#2a2a2a"/>
<path d="M543.8,69.3 C544.7,67.0 549.5,63.9 552.0,61.2 C554.5,58.5 556.8,55.7 558.8,53.0 C560.8,50.3 562.6,47.4 564.2,44.9 C565.8,42.4 566.9,40.1 568.3,38.1 C569.6,36.1 570.9,33.8 572.3,32.7 C573.6,31.6 574.8,31.3 576.4,31.3 C578.0,31.3 580.4,31.8 581.8,32.7 C583.2,33.6 584.8,35.1 584.6,36.7 C584.4,38.3 582.1,39.9 580.5,42.2 C578.9,44.5 576.8,47.6 575.0,50.3 C573.2,53.0 571.9,55.5 569.6,58.5 C567.4,61.5 564.0,65.5 561.5,68.0 C559.0,70.5 557.2,72.3 554.7,73.4 C552.2,74.5 548.3,75.5 546.5,74.8 C544.7,74.1 542.9,71.6 543.8,69.3 Z" fill="#e6e6e6"/>
<path d="M543.8,69.3 C544.7,67.0 550.0,63.1 552.0,61.2 C554.0,59.3 554.4,57.9 556.0,58.0 C557.6,58.1 560.6,60.3 561.5,62.0 C562.4,63.7 562.6,66.1 561.5,68.0 C560.4,69.9 557.2,72.3 554.7,73.4 C552.2,74.5 548.3,75.5 546.5,74.8 C544.7,74.1 542.9,71.6 543.8,69.3 Z" fill="#2a2a2a"/>
<path d="M582.0,31.5 C583.0,30.7 587.0,31.2 589.0,32.0 C591.0,32.8 593.7,34.7 594.0,36.5 C594.3,38.3 592.5,42.2 591.0,43.0 C589.5,43.8 586.3,42.5 585.0,41.5 C583.7,40.5 583.5,38.7 583.0,37.0 C582.5,35.3 581.0,32.3 582.0,31.5 Z" fill="#e6e6e6"/>
<path d="M560.0,33.0 C560.8,31.8 564.5,31.3 566.0,31.5 C567.5,31.7 569.2,32.9 569.0,34.0 C568.8,35.1 566.3,37.2 565.0,38.0 C563.7,38.8 561.8,39.3 561.0,38.5 C560.2,37.7 559.2,34.2 560.0,33.0 Z" fill="#2a2a2a"/>
<path d="M499.0,60.0 C499.3,58.2 500.2,56.2 501.5,55.5 C502.8,54.8 505.2,55.2 507.0,56.0 C508.8,56.8 510.9,58.6 512.5,60.0 C514.1,61.4 515.5,62.8 516.5,64.5 C517.5,66.2 519.2,69.2 518.5,70.5 C517.8,71.8 514.2,72.4 512.0,72.5 C509.8,72.6 507.1,72.1 505.0,71.0 C502.9,69.9 500.5,67.8 499.5,66.0 C498.5,64.2 498.7,61.8 499.0,60.0 Z" fill="#2a2a2a"/>
<path d="M486.0,77.0 C486.5,75.7 489.2,73.7 491.0,72.5 C492.8,71.3 495.0,70.8 497.0,70.0 C499.0,69.2 501.2,68.2 503.0,68.0 C504.8,67.8 506.8,67.9 507.5,69.0 C508.2,70.1 508.1,73.0 507.0,74.5 C505.9,76.0 503.2,77.0 501.0,78.0 C498.8,79.0 496.2,80.1 494.0,80.5 C491.8,80.9 489.3,81.1 488.0,80.5 C486.7,79.9 485.5,78.3 486.0,77.0 Z" fill="#e6e6e6"/>
<path d="M545.0,100.0 C545.5,99.0 547.5,98.3 549.0,98.5 C550.5,98.7 552.7,100.9 554.0,101.0 C555.3,101.1 555.5,99.2 557.0,99.0 C558.5,98.8 561.3,99.0 563.0,99.5 C564.7,100.0 567.0,101.1 567.0,102.0 C567.0,102.9 564.7,104.3 563.0,105.0 C561.3,105.7 557.8,104.8 557.0,106.0 C556.2,107.2 558.2,110.0 558.0,112.0 C557.8,114.0 557.0,118.0 556.0,118.0 C555.0,118.0 552.8,114.0 552.0,112.0 C551.2,110.0 552.0,107.2 551.0,106.0 C550.0,104.8 547.0,105.5 546.0,104.5 C545.0,103.5 544.5,101.0 545.0,100.0 Z" fill="#e6e6e6"/>
<path d="M514.8,108.2 C515.1,106.7 517.0,106.4 518.0,107.0 C519.0,107.6 520.3,110.0 521.0,112.0 C521.7,114.0 522.5,117.3 522.3,119.0 C522.1,120.7 521.0,122.5 520.0,122.0 C519.0,121.5 516.9,118.3 516.0,116.0 C515.1,113.7 514.5,109.7 514.8,108.2 Z" fill="#e6e6e6"/>
<path d="M500.0,118.5 C501.0,117.8 505.3,117.5 508.0,117.5 C510.7,117.5 513.7,117.9 516.0,118.5 C518.3,119.1 521.5,120.0 522.0,121.0 C522.5,122.0 521.0,124.2 519.0,124.5 C517.0,124.8 512.8,123.4 510.0,123.0 C507.2,122.6 503.7,122.8 502.0,122.0 C500.3,121.2 499.0,119.2 500.0,118.5 Z" fill="#e6e6e6"/>
<path d="M524.0,120.0 C524.9,120.2 525.0,124.1 526.5,125.0 C528.0,125.9 531.4,125.0 533.0,125.5 C534.6,126.0 536.5,127.2 536.0,127.8 C535.5,128.4 529.3,128.1 530.0,129.0 C530.7,129.9 538.7,132.6 540.0,133.5 C541.3,134.4 540.0,134.9 538.0,134.5 C536.0,134.1 530.0,130.6 528.0,131.0 C526.0,131.4 526.7,136.0 526.0,137.0 C525.3,138.0 524.4,137.9 523.8,137.0 C523.2,136.1 524.6,132.4 522.5,131.5 C520.4,130.6 513.0,131.8 511.0,131.5 C508.9,131.2 508.7,130.8 510.2,130.0 C511.7,129.2 518.2,128.0 520.0,127.0 C521.8,126.0 520.3,125.2 521.0,124.0 C521.7,122.8 523.1,119.8 524.0,120.0 Z" fill="#e6e6e6"/>
<path d="M591.3,80.3 C592.0,80.0 593.7,80.1 595.0,80.7 C596.3,81.3 598.1,82.8 598.9,84.0 C599.7,85.2 599.9,86.5 599.6,87.8 C599.3,89.1 598.2,90.6 597.3,91.6 C596.4,92.6 595.0,93.9 594.3,93.9 C593.5,93.9 592.6,92.6 592.8,91.6 C593.0,90.6 595.0,89.1 595.3,87.8 C595.6,86.5 595.4,84.9 594.6,84.0 C593.9,83.1 591.3,83.1 590.8,82.5 C590.2,81.9 590.6,80.6 591.3,80.3 Z" fill="#e6e6e6"/>
<path d="M471.0,93.0 C471.5,91.7 473.5,91.5 475.0,91.0 C476.5,90.5 478.7,90.1 480.0,90.0 C481.3,89.9 483.2,89.8 483.0,90.5 C482.8,91.2 480.2,92.8 479.0,94.0 C477.8,95.2 477.2,97.2 476.0,98.0 C474.8,98.8 472.8,99.8 472.0,99.0 C471.2,98.2 470.5,94.3 471.0,93.0 Z" fill="#e6e6e6"/>
<path d="M499.7,107.0 C500.2,106.3 502.2,106.2 503.0,106.7 C503.8,107.2 504.4,109.0 504.2,110.0 C504.0,111.0 502.7,112.5 502.0,112.7 C501.3,112.9 500.4,112.0 500.0,111.0 C499.6,110.0 499.2,107.7 499.7,107.0 Z" fill="#e6e6e6"/>
<path d="M534.5,111.0 C534.8,110.2 538.2,109.6 540.0,109.5 C541.8,109.4 544.3,109.8 545.0,110.5 C545.7,111.2 545.2,113.3 544.0,114.0 C542.8,114.7 539.6,115.0 538.0,114.5 C536.4,114.0 534.2,111.8 534.5,111.0 Z" fill="#e6e6e6"/>
<path d="M544.0,76.0 C544.7,75.6 549.3,76.5 552.0,77.0 C554.7,77.5 557.7,78.2 560.0,79.0 C562.3,79.8 566.3,81.1 566.0,81.5 C565.7,81.9 561.0,81.8 558.0,81.5 C555.0,81.2 550.3,80.4 548.0,79.5 C545.7,78.6 543.3,76.4 544.0,76.0 Z" fill="#e6e6e6"/>
<path d="M499,43.5 L508,54 L515,63 L519,69" fill="none" stroke="#e6e6e6" stroke-width="1.8" stroke-linecap="round"/>
<path d="M553,24 L563,33" fill="none" stroke="#e6e6e6" stroke-width="0.9" stroke-linecap="round"/>
</g>
<text x="610.90" y="57.80" font-size="6.0" text-anchor="start" fill="#222" font-weight="normal" textLength="26.2" lengthAdjust="spacingAndGlyphs">radial glia</text>
<g transform="translate(368.00,127.50) scale(0.52,0.52)" filter="url(#usoft)">
<path d="M546.0,39.0 C546.5,37.6 547.7,36.0 549.0,35.5 C550.3,35.0 552.9,35.1 554.0,36.0 C555.1,36.9 555.7,39.2 555.4,41.0 C555.1,42.8 553.2,45.5 552.0,46.5 C550.8,47.5 549.0,47.4 548.0,47.0 C547.0,46.6 546.3,45.3 546.0,44.0 C545.7,42.7 545.5,40.4 546.0,39.0 Z" fill="#e6e6e6"/>
<path d="M578.7,42.0 C579.7,40.9 582.8,39.9 585.0,39.5 C587.2,39.1 590.0,39.2 592.0,39.5 C594.0,39.8 596.3,40.1 597.0,41.0 C597.7,41.9 597.3,43.8 596.0,45.0 C594.7,46.2 591.3,47.4 589.0,48.0 C586.7,48.6 583.7,49.1 582.0,48.8 C580.3,48.5 579.5,47.1 579.0,46.0 C578.5,44.9 577.7,43.1 578.7,42.0 Z" fill="#e6e6e6"/>
<path d="M575.0,63.0 C575.7,61.8 578.2,60.1 580.0,59.0 C581.8,57.9 584.0,57.0 586.0,56.5 C588.0,56.0 590.9,55.6 592.0,56.0 C593.1,56.4 593.4,57.8 592.7,59.0 C592.0,60.2 589.8,61.8 588.0,63.0 C586.2,64.2 584.0,65.4 582.0,66.0 C580.0,66.6 577.2,66.9 576.0,66.4 C574.8,65.9 574.3,64.2 575.0,63.0 Z" fill="#e6e6e6"/>
<path d="M591.0,75.0 C591.2,74.0 592.8,72.1 594.0,71.0 C595.2,69.9 597.5,68.2 598.0,68.5 C598.5,68.8 597.8,71.6 597.0,73.0 C596.2,74.4 594.0,76.7 593.0,77.0 C592.0,77.3 590.8,76.0 591.0,75.0 Z" fill="#2a2a2a"/>
<path d="M525.6,22.0 C525.9,21.3 527.3,20.4 528.0,20.6 C528.7,20.8 529.8,22.1 529.8,23.0 C529.8,23.9 528.6,26.0 528.0,26.3 C527.4,26.6 526.4,25.7 526.0,25.0 C525.6,24.3 525.3,22.7 525.6,22.0 Z" fill="#e6e6e6"/>
<path d="M520.0,44.0 C520.3,42.8 521.8,40.7 523.0,40.4 C524.2,40.1 526.7,40.6 527.0,42.0 C527.3,43.4 526.0,47.9 525.0,48.8 C524.0,49.7 521.8,48.3 521.0,47.5 C520.2,46.7 519.7,45.2 520.0,44.0 Z" fill="#e6e6e6"/>
<path d="M472.0,55.0 C472.7,54.1 475.1,51.9 476.0,51.6 C476.9,51.3 477.9,52.3 477.7,53.0 C477.4,53.7 474.5,55.0 474.5,56.0 C474.5,57.0 477.4,58.3 477.7,59.0 C477.9,59.7 476.9,60.3 476.0,60.0 C475.1,59.7 472.7,57.8 472.0,57.0 C471.3,56.2 471.3,55.9 472.0,55.0 Z" fill="#e6e6e6"/>
<path d="M480.5,79.0 C480.3,78.0 481.9,76.1 483.0,75.0 C484.1,73.9 486.0,72.7 487.0,72.5 C488.0,72.3 488.8,73.0 489.0,74.0 C489.2,75.0 488.8,77.3 488.0,78.5 C487.2,79.7 485.2,81.1 484.0,81.2 C482.8,81.3 480.7,80.0 480.5,79.0 Z" fill="#e6e6e6"/>
<path d="M484.0,82.0 C485.2,80.5 491.5,78.3 495.0,78.0 C498.5,77.7 501.8,79.0 505.0,80.0 C508.2,81.0 513.2,82.7 514.0,84.0 C514.8,85.3 512.7,87.7 510.0,88.0 C507.3,88.3 501.7,86.2 498.0,86.0 C494.3,85.8 490.3,87.7 488.0,87.0 C485.7,86.3 482.8,83.5 484.0,82.0 Z" fill="#e6e6e6"/>
<path d="M493.0,106.0 C492.4,104.2 492.2,100.5 492.5,98.0 C492.8,95.5 493.6,92.6 495.0,91.0 C496.4,89.4 498.7,88.8 501.0,88.5 C503.3,88.2 506.7,88.4 509.0,89.0 C511.3,89.6 513.3,90.7 515.0,92.0 C516.7,93.3 517.9,95.2 519.0,97.0 C520.1,98.8 521.3,101.3 521.5,103.0 C521.7,104.7 520.9,106.5 520.0,107.0 C519.1,107.5 517.0,107.2 516.0,106.0 C515.0,104.8 515.2,101.9 514.0,100.0 C512.8,98.1 511.0,95.7 509.0,94.5 C507.0,93.3 503.9,92.8 502.0,93.0 C500.1,93.2 498.2,94.5 497.5,96.0 C496.8,97.5 497.1,100.1 497.5,102.0 C497.9,103.9 500.2,106.4 500.0,107.5 C499.8,108.6 497.2,108.8 496.0,108.5 C494.8,108.2 493.6,107.8 493.0,106.0 Z" fill="#e6e6e6"/>
<path d="M514.0,101.0 C514.3,99.8 516.1,100.1 517.0,100.6 C517.9,101.1 519.1,102.7 519.3,104.0 C519.5,105.3 518.7,107.5 518.0,108.2 C517.3,108.9 515.7,109.2 515.0,108.0 C514.3,106.8 513.7,102.2 514.0,101.0 Z" fill="#e6e6e6"/>
<path d="M499.7,123.0 C500.1,122.3 501.8,121.9 503.0,121.8 C504.2,121.7 506.9,121.8 507.2,122.5 C507.5,123.2 506.1,125.7 505.0,126.3 C503.9,126.9 501.4,126.5 500.5,126.0 C499.6,125.5 499.3,123.7 499.7,123.0 Z" fill="#e6e6e6"/>
<path d="M529.9,131.0 C530.4,130.5 534.0,130.6 536.0,130.8 C538.0,131.1 541.2,131.8 541.9,132.5 C542.6,133.2 541.5,135.1 540.0,135.3 C538.5,135.6 534.7,134.7 533.0,134.0 C531.3,133.3 529.4,131.5 529.9,131.0 Z" fill="#e6e6e6"/>
<path d="M519.3,141.0 C519.5,140.1 520.8,139.7 521.5,139.9 C522.2,140.1 523.5,141.0 523.8,142.0 C524.0,143.0 523.6,145.3 523.0,145.9 C522.4,146.5 520.6,146.3 520.0,145.5 C519.4,144.7 519.0,141.9 519.3,141.0 Z" fill="#e6e6e6"/>
<path d="M551.0,92.0 C551.8,90.0 554.0,87.3 556.0,86.0 C558.0,84.7 560.5,84.2 563.0,84.0 C565.5,83.8 568.9,84.0 571.0,85.0 C573.1,86.0 575.4,88.0 575.7,90.0 C576.0,92.0 574.8,95.3 573.0,97.0 C571.2,98.7 567.8,99.2 565.0,100.0 C562.2,100.8 558.3,102.3 556.0,102.0 C553.7,101.7 551.8,99.7 551.0,98.0 C550.2,96.3 550.2,94.0 551.0,92.0 Z" fill="#e6e6e6"/>
<path d="M559.0,105.0 C559.3,103.9 563.2,103.5 566.0,103.7 C568.8,103.9 574.5,104.8 575.7,106.0 C576.9,107.2 575.0,110.5 573.0,111.2 C571.0,112.0 566.3,111.5 564.0,110.5 C561.7,109.5 558.7,106.1 559.0,105.0 Z" fill="#e6e6e6"/>
<path d="M550.0,113.0 C550.5,111.5 553.0,111.9 554.0,112.7 C555.0,113.5 555.8,116.2 556.0,118.0 C556.2,119.8 555.8,122.6 555.0,123.3 C554.2,124.0 551.8,123.7 551.0,122.0 C550.2,120.3 549.5,114.5 550.0,113.0 Z" fill="#e6e6e6"/>
<path d="M534.4,103.0 C535.1,101.6 538.2,100.6 540.0,100.6 C541.8,100.6 544.3,101.8 545.0,103.0 C545.7,104.2 545.5,107.0 544.0,108.0 C542.5,109.0 537.6,109.8 536.0,109.0 C534.4,108.2 533.7,104.4 534.4,103.0 Z" fill="#e6e6e6"/>
<path d="M576.0,112.0 C576.0,110.2 579.7,107.3 582.0,106.0 C584.3,104.7 587.0,104.4 590.0,104.0 C593.0,103.6 597.2,103.2 600.0,103.7 C602.8,104.2 606.2,105.6 607.0,107.0 C607.8,108.4 606.7,110.8 605.0,112.0 C603.3,113.2 599.5,112.9 597.0,114.0 C594.5,115.1 592.5,118.2 590.0,118.7 C587.5,119.2 584.3,118.1 582.0,117.0 C579.7,115.9 576.0,113.8 576.0,112.0 Z" fill="#e6e6e6"/>
<path d="M584.8,89.0 C585.3,88.0 588.2,86.8 590.0,87.0 C591.8,87.2 594.8,88.8 595.3,90.0 C595.8,91.2 594.4,93.4 593.0,93.9 C591.6,94.4 588.4,93.8 587.0,93.0 C585.6,92.2 584.3,90.0 584.8,89.0 Z" fill="#e6e6e6"/>
<path d="M526.0,54.0 C527.0,53.1 528.5,51.7 530.0,51.5 C531.5,51.3 533.5,53.2 535.0,53.0 C536.5,52.8 537.7,50.7 539.0,50.5 C540.3,50.3 542.0,50.8 543.0,52.0 C544.0,53.2 544.8,55.7 545.0,58.0 C545.2,60.3 544.3,63.7 544.5,66.0 C544.7,68.3 546.2,70.3 546.0,72.0 C545.8,73.7 544.0,74.7 543.0,76.0 C542.0,77.3 540.8,78.3 540.0,80.0 C539.2,81.7 538.8,85.7 538.0,86.0 C537.2,86.3 536.0,81.8 535.0,82.0 C534.0,82.2 533.0,87.0 532.0,87.0 C531.0,87.0 530.1,82.2 529.0,82.0 C527.9,81.8 526.0,86.5 525.5,86.0 C525.0,85.5 526.8,80.7 526.0,79.0 C525.2,77.3 522.2,77.5 521.0,76.0 C519.8,74.5 518.8,72.2 518.5,70.0 C518.2,67.8 518.2,64.3 519.0,63.0 C519.8,61.7 522.2,63.0 523.0,62.0 C523.8,61.0 523.5,58.3 524.0,57.0 C524.5,55.7 525.0,54.9 526.0,54.0 Z" fill="#e6e6e6"/>
<path d="M528.0,58.0 C529.2,56.8 531.3,56.1 533.0,56.0 C534.7,55.9 536.7,56.5 538.0,57.5 C539.3,58.5 540.5,60.1 541.0,62.0 C541.5,63.9 541.7,67.2 541.0,69.0 C540.3,70.8 538.7,72.2 537.0,73.0 C535.3,73.8 532.7,74.5 531.0,74.0 C529.3,73.5 527.8,71.8 527.0,70.0 C526.2,68.2 525.8,65.0 526.0,63.0 C526.2,61.0 526.8,59.2 528.0,58.0 Z" fill="#e6e6e6"/>
<path d="M543.8,69.3 C544.7,67.0 549.5,63.9 552.0,61.2 C554.5,58.5 556.8,55.7 558.8,53.0 C560.8,50.3 562.6,47.4 564.2,44.9 C565.8,42.4 566.9,40.1 568.3,38.1 C569.6,36.1 570.9,33.8 572.3,32.7 C573.6,31.6 574.8,31.3 576.4,31.3 C578.0,31.3 580.4,31.8 581.8,32.7 C583.2,33.6 584.8,35.1 584.6,36.7 C584.4,38.3 582.1,39.9 580.5,42.2 C578.9,44.5 576.8,47.6 575.0,50.3 C573.2,53.0 571.9,55.5 569.6,58.5 C567.4,61.5 564.0,65.5 561.5,68.0 C559.0,70.5 557.2,72.3 554.7,73.4 C552.2,74.5 548.3,75.5 546.5,74.8 C544.7,74.1 542.9,71.6 543.8,69.3 Z" fill="#8a8a8a"/>
<path d="M543.8,69.3 C544.7,67.0 550.0,63.1 552.0,61.2 C554.0,59.3 554.4,57.9 556.0,58.0 C557.6,58.1 560.6,60.3 561.5,62.0 C562.4,63.7 562.6,66.1 561.5,68.0 C560.4,69.9 557.2,72.3 554.7,73.4 C552.2,74.5 548.3,75.5 546.5,74.8 C544.7,74.1 542.9,71.6 543.8,69.3 Z" fill="#8a8a8a"/>
<path d="M582.0,31.5 C583.0,30.7 587.0,31.2 589.0,32.0 C591.0,32.8 593.7,34.7 594.0,36.5 C594.3,38.3 592.5,42.2 591.0,43.0 C589.5,43.8 586.3,42.5 585.0,41.5 C583.7,40.5 583.5,38.7 583.0,37.0 C582.5,35.3 581.0,32.3 582.0,31.5 Z" fill="#2a2a2a"/>
<path d="M560.0,33.0 C560.8,31.8 564.5,31.3 566.0,31.5 C567.5,31.7 569.2,32.9 569.0,34.0 C568.8,35.1 566.3,37.2 565.0,38.0 C563.7,38.8 561.8,39.3 561.0,38.5 C560.2,37.7 559.2,34.2 560.0,33.0 Z" fill="#2a2a2a"/>
<path d="M499.0,60.0 C499.3,58.2 500.2,56.2 501.5,55.5 C502.8,54.8 505.2,55.2 507.0,56.0 C508.8,56.8 510.9,58.6 512.5,60.0 C514.1,61.4 515.5,62.8 516.5,64.5 C517.5,66.2 519.2,69.2 518.5,70.5 C517.8,71.8 514.2,72.4 512.0,72.5 C509.8,72.6 507.1,72.1 505.0,71.0 C502.9,69.9 500.5,67.8 499.5,66.0 C498.5,64.2 498.7,61.8 499.0,60.0 Z" fill="#e6e6e6"/>
<path d="M486.0,77.0 C486.5,75.7 489.2,73.7 491.0,72.5 C492.8,71.3 495.0,70.8 497.0,70.0 C499.0,69.2 501.2,68.2 503.0,68.0 C504.8,67.8 506.8,67.9 507.5,69.0 C508.2,70.1 508.1,73.0 507.0,74.5 C505.9,76.0 503.2,77.0 501.0,78.0 C498.8,79.0 496.2,80.1 494.0,80.5 C491.8,80.9 489.3,81.1 488.0,80.5 C486.7,79.9 485.5,78.3 486.0,77.0 Z" fill="#2a2a2a"/>
<path d="M545.0,100.0 C545.5,99.0 547.5,98.3 549.0,98.5 C550.5,98.7 552.7,100.9 554.0,101.0 C555.3,101.1 555.5,99.2 557.0,99.0 C558.5,98.8 561.3,99.0 563.0,99.5 C564.7,100.0 567.0,101.1 567.0,102.0 C567.0,102.9 564.7,104.3 563.0,105.0 C561.3,105.7 557.8,104.8 557.0,106.0 C556.2,107.2 558.2,110.0 558.0,112.0 C557.8,114.0 557.0,118.0 556.0,118.0 C555.0,118.0 552.8,114.0 552.0,112.0 C551.2,110.0 552.0,107.2 551.0,106.0 C550.0,104.8 547.0,105.5 546.0,104.5 C545.0,103.5 544.5,101.0 545.0,100.0 Z" fill="#2a2a2a"/>
<path d="M514.8,108.2 C515.1,106.7 517.0,106.4 518.0,107.0 C519.0,107.6 520.3,110.0 521.0,112.0 C521.7,114.0 522.5,117.3 522.3,119.0 C522.1,120.7 521.0,122.5 520.0,122.0 C519.0,121.5 516.9,118.3 516.0,116.0 C515.1,113.7 514.5,109.7 514.8,108.2 Z" fill="#2a2a2a"/>
<path d="M500.0,118.5 C501.0,117.8 505.3,117.5 508.0,117.5 C510.7,117.5 513.7,117.9 516.0,118.5 C518.3,119.1 521.5,120.0 522.0,121.0 C522.5,122.0 521.0,124.2 519.0,124.5 C517.0,124.8 512.8,123.4 510.0,123.0 C507.2,122.6 503.7,122.8 502.0,122.0 C500.3,121.2 499.0,119.2 500.0,118.5 Z" fill="#2a2a2a"/>
<path d="M524.0,120.0 C524.9,120.2 525.0,124.1 526.5,125.0 C528.0,125.9 531.4,125.0 533.0,125.5 C534.6,126.0 536.5,127.2 536.0,127.8 C535.5,128.4 529.3,128.1 530.0,129.0 C530.7,129.9 538.7,132.6 540.0,133.5 C541.3,134.4 540.0,134.9 538.0,134.5 C536.0,134.1 530.0,130.6 528.0,131.0 C526.0,131.4 526.7,136.0 526.0,137.0 C525.3,138.0 524.4,137.9 523.8,137.0 C523.2,136.1 524.6,132.4 522.5,131.5 C520.4,130.6 513.0,131.8 511.0,131.5 C508.9,131.2 508.7,130.8 510.2,130.0 C511.7,129.2 518.2,128.0 520.0,127.0 C521.8,126.0 520.3,125.2 521.0,124.0 C521.7,122.8 523.1,119.8 524.0,120.0 Z" fill="#2a2a2a"/>
<path d="M591.3,80.3 C592.0,80.0 593.7,80.1 595.0,80.7 C596.3,81.3 598.1,82.8 598.9,84.0 C599.7,85.2 599.9,86.5 599.6,87.8 C599.3,89.1 598.2,90.6 597.3,91.6 C596.4,92.6 595.0,93.9 594.3,93.9 C593.5,93.9 592.6,92.6 592.8,91.6 C593.0,90.6 595.0,89.1 595.3,87.8 C595.6,86.5 595.4,84.9 594.6,84.0 C593.9,83.1 591.3,83.1 590.8,82.5 C590.2,81.9 590.6,80.6 591.3,80.3 Z" fill="#2a2a2a"/>
<path d="M471.0,93.0 C471.5,91.7 473.5,91.5 475.0,91.0 C476.5,90.5 478.7,90.1 480.0,90.0 C481.3,89.9 483.2,89.8 483.0,90.5 C482.8,91.2 480.2,92.8 479.0,94.0 C477.8,95.2 477.2,97.2 476.0,98.0 C474.8,98.8 472.8,99.8 472.0,99.0 C471.2,98.2 470.5,94.3 471.0,93.0 Z" fill="#2a2a2a"/>
<path d="M499.7,107.0 C500.2,106.3 502.2,106.2 503.0,106.7 C503.8,107.2 504.4,109.0 504.2,110.0 C504.0,111.0 502.7,112.5 502.0,112.7 C501.3,112.9 500.4,112.0 500.0,111.0 C499.6,110.0 499.2,107.7 499.7,107.0 Z" fill="#e6e6e6"/>
<path d="M534.5,111.0 C534.8,110.2 538.2,109.6 540.0,109.5 C541.8,109.4 544.3,109.8 545.0,110.5 C545.7,111.2 545.2,113.3 544.0,114.0 C542.8,114.7 539.6,115.0 538.0,114.5 C536.4,114.0 534.2,111.8 534.5,111.0 Z" fill="#e6e6e6"/>
<path d="M544.0,76.0 C544.7,75.6 549.3,76.5 552.0,77.0 C554.7,77.5 557.7,78.2 560.0,79.0 C562.3,79.8 566.3,81.1 566.0,81.5 C565.7,81.9 561.0,81.8 558.0,81.5 C555.0,81.2 550.3,80.4 548.0,79.5 C545.7,78.6 543.3,76.4 544.0,76.0 Z" fill="#e6e6e6"/>
<path d="M499,43.5 L508,54 L515,63 L519,69" fill="none" stroke="#e6e6e6" stroke-width="1.8" stroke-linecap="round"/>
<path d="M553,24 L563,33" fill="none" stroke="#e6e6e6" stroke-width="0.9" stroke-linecap="round"/>
</g>
<text x="610.00" y="133.90" font-size="6.0" text-anchor="start" fill="#222" font-weight="normal" textLength="7.0" lengthAdjust="spacingAndGlyphs">IPC</text>
<g transform="translate(368.00,207.50) scale(0.52,0.52)" filter="url(#usoft)">
<path d="M546.0,39.0 C546.5,37.6 547.7,36.0 549.0,35.5 C550.3,35.0 552.9,35.1 554.0,36.0 C555.1,36.9 555.7,39.2 555.4,41.0 C555.1,42.8 553.2,45.5 552.0,46.5 C550.8,47.5 549.0,47.4 548.0,47.0 C547.0,46.6 546.3,45.3 546.0,44.0 C545.7,42.7 545.5,40.4 546.0,39.0 Z" fill="#e6e6e6"/>
<path d="M578.7,42.0 C579.7,40.9 582.8,39.9 585.0,39.5 C587.2,39.1 590.0,39.2 592.0,39.5 C594.0,39.8 596.3,40.1 597.0,41.0 C597.7,41.9 597.3,43.8 596.0,45.0 C594.7,46.2 591.3,47.4 589.0,48.0 C586.7,48.6 583.7,49.1 582.0,48.8 C580.3,48.5 579.5,47.1 579.0,46.0 C578.5,44.9 577.7,43.1 578.7,42.0 Z" fill="#2a2a2a"/>
<path d="M575.0,63.0 C575.7,61.8 578.2,60.1 580.0,59.0 C581.8,57.9 584.0,57.0 586.0,56.5 C588.0,56.0 590.9,55.6 592.0,56.0 C593.1,56.4 593.4,57.8 592.7,59.0 C592.0,60.2 589.8,61.8 588.0,63.0 C586.2,64.2 584.0,65.4 582.0,66.0 C580.0,66.6 577.2,66.9 576.0,66.4 C574.8,65.9 574.3,64.2 575.0,63.0 Z" fill="#e6e6e6"/>
<path d="M591.0,75.0 C591.2,74.0 592.8,72.1 594.0,71.0 C595.2,69.9 597.5,68.2 598.0,68.5 C598.5,68.8 597.8,71.6 597.0,73.0 C596.2,74.4 594.0,76.7 593.0,77.0 C592.0,77.3 590.8,76.0 591.0,75.0 Z" fill="#e6e6e6"/>
<path d="M525.6,22.0 C525.9,21.3 527.3,20.4 528.0,20.6 C528.7,20.8 529.8,22.1 529.8,23.0 C529.8,23.9 528.6,26.0 528.0,26.3 C527.4,26.6 526.4,25.7 526.0,25.0 C525.6,24.3 525.3,22.7 525.6,22.0 Z" fill="#e6e6e6"/>
<path d="M520.0,44.0 C520.3,42.8 521.8,40.7 523.0,40.4 C524.2,40.1 526.7,40.6 527.0,42.0 C527.3,43.4 526.0,47.9 525.0,48.8 C524.0,49.7 521.8,48.3 521.0,47.5 C520.2,46.7 519.7,45.2 520.0,44.0 Z" fill="#e6e6e6"/>
<path d="M472.0,55.0 C472.7,54.1 475.1,51.9 476.0,51.6 C476.9,51.3 477.9,52.3 477.7,53.0 C477.4,53.7 474.5,55.0 474.5,56.0 C474.5,57.0 477.4,58.3 477.7,59.0 C477.9,59.7 476.9,60.3 476.0,60.0 C475.1,59.7 472.7,57.8 472.0,57.0 C471.3,56.2 471.3,55.9 472.0,55.0 Z" fill="#2a2a2a"/>
<path d="M480.5,79.0 C480.3,78.0 481.9,76.1 483.0,75.0 C484.1,73.9 486.0,72.7 487.0,72.5 C488.0,72.3 488.8,73.0 489.0,74.0 C489.2,75.0 488.8,77.3 488.0,78.5 C487.2,79.7 485.2,81.1 484.0,81.2 C482.8,81.3 480.7,80.0 480.5,79.0 Z" fill="#2a2a2a"/>
<path d="M484.0,82.0 C485.2,80.5 491.5,78.3 495.0,78.0 C498.5,77.7 501.8,79.0 505.0,80.0 C508.2,81.0 513.2,82.7 514.0,84.0 C514.8,85.3 512.7,87.7 510.0,88.0 C507.3,88.3 501.7,86.2 498.0,86.0 C494.3,85.8 490.3,87.7 488.0,87.0 C485.7,86.3 482.8,83.5 484.0,82.0 Z" fill="#2a2a2a"/>
<path d="M493.0,106.0 C492.4,104.2 492.2,100.5 492.5,98.0 C492.8,95.5 493.6,92.6 495.0,91.0 C496.4,89.4 498.7,88.8 501.0,88.5 C503.3,88.2 506.7,88.4 509.0,89.0 C511.3,89.6 513.3,90.7 515.0,92.0 C516.7,93.3 517.9,95.2 519.0,97.0 C520.1,98.8 521.3,101.3 521.5,103.0 C521.7,104.7 520.9,106.5 520.0,107.0 C519.1,107.5 517.0,107.2 516.0,106.0 C515.0,104.8 515.2,101.9 514.0,100.0 C512.8,98.1 511.0,95.7 509.0,94.5 C507.0,93.3 503.9,92.8 502.0,93.0 C500.1,93.2 498.2,94.5 497.5,96.0 C496.8,97.5 497.1,100.1 497.5,102.0 C497.9,103.9 500.2,106.4 500.0,107.5 C499.8,108.6 497.2,108.8 496.0,108.5 C494.8,108.2 493.6,107.8 493.0,106.0 Z" fill="#2a2a2a"/>
<path d="M514.0,101.0 C514.3,99.8 516.1,100.1 517.0,100.6 C517.9,101.1 519.1,102.7 519.3,104.0 C519.5,105.3 518.7,107.5 518.0,108.2 C517.3,108.9 515.7,109.2 515.0,108.0 C514.3,106.8 513.7,102.2 514.0,101.0 Z" fill="#e6e6e6"/>
<path d="M499.7,123.0 C500.1,122.3 501.8,121.9 503.0,121.8 C504.2,121.7 506.9,121.8 507.2,122.5 C507.5,123.2 506.1,125.7 505.0,126.3 C503.9,126.9 501.4,126.5 500.5,126.0 C499.6,125.5 499.3,123.7 499.7,123.0 Z" fill="#2a2a2a"/>
<path d="M529.9,131.0 C530.4,130.5 534.0,130.6 536.0,130.8 C538.0,131.1 541.2,131.8 541.9,132.5 C542.6,133.2 541.5,135.1 540.0,135.3 C538.5,135.6 534.7,134.7 533.0,134.0 C531.3,133.3 529.4,131.5 529.9,131.0 Z" fill="#2a2a2a"/>
<path d="M519.3,141.0 C519.5,140.1 520.8,139.7 521.5,139.9 C522.2,140.1 523.5,141.0 523.8,142.0 C524.0,143.0 523.6,145.3 523.0,145.9 C522.4,146.5 520.6,146.3 520.0,145.5 C519.4,144.7 519.0,141.9 519.3,141.0 Z" fill="#2a2a2a"/>
<path d="M551.0,92.0 C551.8,90.0 554.0,87.3 556.0,86.0 C558.0,84.7 560.5,84.2 563.0,84.0 C565.5,83.8 568.9,84.0 571.0,85.0 C573.1,86.0 575.4,88.0 575.7,90.0 C576.0,92.0 574.8,95.3 573.0,97.0 C571.2,98.7 567.8,99.2 565.0,100.0 C562.2,100.8 558.3,102.3 556.0,102.0 C553.7,101.7 551.8,99.7 551.0,98.0 C550.2,96.3 550.2,94.0 551.0,92.0 Z" fill="#2a2a2a"/>
<path d="M559.0,105.0 C559.3,103.9 563.2,103.5 566.0,103.7 C568.8,103.9 574.5,104.8 575.7,106.0 C576.9,107.2 575.0,110.5 573.0,111.2 C571.0,112.0 566.3,111.5 564.0,110.5 C561.7,109.5 558.7,106.1 559.0,105.0 Z" fill="#2a2a2a"/>
<path d="M550.0,113.0 C550.5,111.5 553.0,111.9 554.0,112.7 C555.0,113.5 555.8,116.2 556.0,118.0 C556.2,119.8 555.8,122.6 555.0,123.3 C554.2,124.0 551.8,123.7 551.0,122.0 C550.2,120.3 549.5,114.5 550.0,113.0 Z" fill="#2a2a2a"/>
<path d="M534.4,103.0 C535.1,101.6 538.2,100.6 540.0,100.6 C541.8,100.6 544.3,101.8 545.0,103.0 C545.7,104.2 545.5,107.0 544.0,108.0 C542.5,109.0 537.6,109.8 536.0,109.0 C534.4,108.2 533.7,104.4 534.4,103.0 Z" fill="#2a2a2a"/>
<path d="M576.0,112.0 C576.0,110.2 579.7,107.3 582.0,106.0 C584.3,104.7 587.0,104.4 590.0,104.0 C593.0,103.6 597.2,103.2 600.0,103.7 C602.8,104.2 606.2,105.6 607.0,107.0 C607.8,108.4 606.7,110.8 605.0,112.0 C603.3,113.2 599.5,112.9 597.0,114.0 C594.5,115.1 592.5,118.2 590.0,118.7 C587.5,119.2 584.3,118.1 582.0,117.0 C579.7,115.9 576.0,113.8 576.0,112.0 Z" fill="#2a2a2a"/>
<path d="M584.8,89.0 C585.3,88.0 588.2,86.8 590.0,87.0 C591.8,87.2 594.8,88.8 595.3,90.0 C595.8,91.2 594.4,93.4 593.0,93.9 C591.6,94.4 588.4,93.8 587.0,93.0 C585.6,92.2 584.3,90.0 584.8,89.0 Z" fill="#2a2a2a"/>
<path d="M526.0,54.0 C527.0,53.1 528.5,51.7 530.0,51.5 C531.5,51.3 533.5,53.2 535.0,53.0 C536.5,52.8 537.7,50.7 539.0,50.5 C540.3,50.3 542.0,50.8 543.0,52.0 C544.0,53.2 544.8,55.7 545.0,58.0 C545.2,60.3 544.3,63.7 544.5,66.0 C544.7,68.3 546.2,70.3 546.0,72.0 C545.8,73.7 544.0,74.7 543.0,76.0 C542.0,77.3 540.8,78.3 540.0,80.0 C539.2,81.7 538.8,85.7 538.0,86.0 C537.2,86.3 536.0,81.8 535.0,82.0 C534.0,82.2 533.0,87.0 532.0,87.0 C531.0,87.0 530.1,82.2 529.0,82.0 C527.9,81.8 526.0,86.5 525.5,86.0 C525.0,85.5 526.8,80.7 526.0,79.0 C525.2,77.3 522.2,77.5 521.0,76.0 C519.8,74.5 518.8,72.2 518.5,70.0 C518.2,67.8 518.2,64.3 519.0,63.0 C519.8,61.7 522.2,63.0 523.0,62.0 C523.8,61.0 523.5,58.3 524.0,57.0 C524.5,55.7 525.0,54.9 526.0,54.0 Z" fill="#e6e6e6"/>
<path d="M528.0,58.0 C529.2,56.8 531.3,56.1 533.0,56.0 C534.7,55.9 536.7,56.5 538.0,57.5 C539.3,58.5 540.5,60.1 541.0,62.0 C541.5,63.9 541.7,67.2 541.0,69.0 C540.3,70.8 538.7,72.2 537.0,73.0 C535.3,73.8 532.7,74.5 531.0,74.0 C529.3,73.5 527.8,71.8 527.0,70.0 C526.2,68.2 525.8,65.0 526.0,63.0 C526.2,61.0 526.8,59.2 528.0,58.0 Z" fill="#e6e6e6"/>
<path d="M543.8,69.3 C544.7,67.0 549.5,63.9 552.0,61.2 C554.5,58.5 556.8,55.7 558.8,53.0 C560.8,50.3 562.6,47.4 564.2,44.9 C565.8,42.4 566.9,40.1 568.3,38.1 C569.6,36.1 570.9,33.8 572.3,32.7 C573.6,31.6 574.8,31.3 576.4,31.3 C578.0,31.3 580.4,31.8 581.8,32.7 C583.2,33.6 584.8,35.1 584.6,36.7 C584.4,38.3 582.1,39.9 580.5,42.2 C578.9,44.5 576.8,47.6 575.0,50.3 C573.2,53.0 571.9,55.5 569.6,58.5 C567.4,61.5 564.0,65.5 561.5,68.0 C559.0,70.5 557.2,72.3 554.7,73.4 C552.2,74.5 548.3,75.5 546.5,74.8 C544.7,74.1 542.9,71.6 543.8,69.3 Z" fill="#e6e6e6"/>
<path d="M543.8,69.3 C544.7,67.0 550.0,63.1 552.0,61.2 C554.0,59.3 554.4,57.9 556.0,58.0 C557.6,58.1 560.6,60.3 561.5,62.0 C562.4,63.7 562.6,66.1 561.5,68.0 C560.4,69.9 557.2,72.3 554.7,73.4 C552.2,74.5 548.3,75.5 546.5,74.8 C544.7,74.1 542.9,71.6 543.8,69.3 Z" fill="#e6e6e6"/>
<path d="M582.0,31.5 C583.0,30.7 587.0,31.2 589.0,32.0 C591.0,32.8 593.7,34.7 594.0,36.5 C594.3,38.3 592.5,42.2 591.0,43.0 C589.5,43.8 586.3,42.5 585.0,41.5 C583.7,40.5 583.5,38.7 583.0,37.0 C582.5,35.3 581.0,32.3 582.0,31.5 Z" fill="#e6e6e6"/>
<path d="M560.0,33.0 C560.8,31.8 564.5,31.3 566.0,31.5 C567.5,31.7 569.2,32.9 569.0,34.0 C568.8,35.1 566.3,37.2 565.0,38.0 C563.7,38.8 561.8,39.3 561.0,38.5 C560.2,37.7 559.2,34.2 560.0,33.0 Z" fill="#e6e6e6"/>
<path d="M499.0,60.0 C499.3,58.2 500.2,56.2 501.5,55.5 C502.8,54.8 505.2,55.2 507.0,56.0 C508.8,56.8 510.9,58.6 512.5,60.0 C514.1,61.4 515.5,62.8 516.5,64.5 C517.5,66.2 519.2,69.2 518.5,70.5 C517.8,71.8 514.2,72.4 512.0,72.5 C509.8,72.6 507.1,72.1 505.0,71.0 C502.9,69.9 500.5,67.8 499.5,66.0 C498.5,64.2 498.7,61.8 499.0,60.0 Z" fill="#e6e6e6"/>
<path d="M486.0,77.0 C486.5,75.7 489.2,73.7 491.0,72.5 C492.8,71.3 495.0,70.8 497.0,70.0 C499.0,69.2 501.2,68.2 503.0,68.0 C504.8,67.8 506.8,67.9 507.5,69.0 C508.2,70.1 508.1,73.0 507.0,74.5 C505.9,76.0 503.2,77.0 501.0,78.0 C498.8,79.0 496.2,80.1 494.0,80.5 C491.8,80.9 489.3,81.1 488.0,80.5 C486.7,79.9 485.5,78.3 486.0,77.0 Z" fill="#2a2a2a"/>
<path d="M545.0,100.0 C545.5,99.0 547.5,98.3 549.0,98.5 C550.5,98.7 552.7,100.9 554.0,101.0 C555.3,101.1 555.5,99.2 557.0,99.0 C558.5,98.8 561.3,99.0 563.0,99.5 C564.7,100.0 567.0,101.1 567.0,102.0 C567.0,102.9 564.7,104.3 563.0,105.0 C561.3,105.7 557.8,104.8 557.0,106.0 C556.2,107.2 558.2,110.0 558.0,112.0 C557.8,114.0 557.0,118.0 556.0,118.0 C555.0,118.0 552.8,114.0 552.0,112.0 C551.2,110.0 552.0,107.2 551.0,106.0 C550.0,104.8 547.0,105.5 546.0,104.5 C545.0,103.5 544.5,101.0 545.0,100.0 Z" fill="#2a2a2a"/>
<path d="M514.8,108.2 C515.1,106.7 517.0,106.4 518.0,107.0 C519.0,107.6 520.3,110.0 521.0,112.0 C521.7,114.0 522.5,117.3 522.3,119.0 C522.1,120.7 521.0,122.5 520.0,122.0 C519.0,121.5 516.9,118.3 516.0,116.0 C515.1,113.7 514.5,109.7 514.8,108.2 Z" fill="#e6e6e6"/>
<path d="M500.0,118.5 C501.0,117.8 505.3,117.5 508.0,117.5 C510.7,117.5 513.7,117.9 516.0,118.5 C518.3,119.1 521.5,120.0 522.0,121.0 C522.5,122.0 521.0,124.2 519.0,124.5 C517.0,124.8 512.8,123.4 510.0,123.0 C507.2,122.6 503.7,122.8 502.0,122.0 C500.3,121.2 499.0,119.2 500.0,118.5 Z" fill="#e6e6e6"/>
<path d="M524.0,120.0 C524.9,120.2 525.0,124.1 526.5,125.0 C528.0,125.9 531.4,125.0 533.0,125.5 C534.6,126.0 536.5,127.2 536.0,127.8 C535.5,128.4 529.3,128.1 530.0,129.0 C530.7,129.9 538.7,132.6 540.0,133.5 C541.3,134.4 540.0,134.9 538.0,134.5 C536.0,134.1 530.0,130.6 528.0,131.0 C526.0,131.4 526.7,136.0 526.0,137.0 C525.3,138.0 524.4,137.9 523.8,137.0 C523.2,136.1 524.6,132.4 522.5,131.5 C520.4,130.6 513.0,131.8 511.0,131.5 C508.9,131.2 508.7,130.8 510.2,130.0 C511.7,129.2 518.2,128.0 520.0,127.0 C521.8,126.0 520.3,125.2 521.0,124.0 C521.7,122.8 523.1,119.8 524.0,120.0 Z" fill="#2a2a2a"/>
<path d="M591.3,80.3 C592.0,80.0 593.7,80.1 595.0,80.7 C596.3,81.3 598.1,82.8 598.9,84.0 C599.7,85.2 599.9,86.5 599.6,87.8 C599.3,89.1 598.2,90.6 597.3,91.6 C596.4,92.6 595.0,93.9 594.3,93.9 C593.5,93.9 592.6,92.6 592.8,91.6 C593.0,90.6 595.0,89.1 595.3,87.8 C595.6,86.5 595.4,84.9 594.6,84.0 C593.9,83.1 591.3,83.1 590.8,82.5 C590.2,81.9 590.6,80.6 591.3,80.3 Z" fill="#e6e6e6"/>
<path d="M471.0,93.0 C471.5,91.7 473.5,91.5 475.0,91.0 C476.5,90.5 478.7,90.1 480.0,90.0 C481.3,89.9 483.2,89.8 483.0,90.5 C482.8,91.2 480.2,92.8 479.0,94.0 C477.8,95.2 477.2,97.2 476.0,98.0 C474.8,98.8 472.8,99.8 472.0,99.0 C471.2,98.2 470.5,94.3 471.0,93.0 Z" fill="#2a2a2a"/>
<path d="M499.7,107.0 C500.2,106.3 502.2,106.2 503.0,106.7 C503.8,107.2 504.4,109.0 504.2,110.0 C504.0,111.0 502.7,112.5 502.0,112.7 C501.3,112.9 500.4,112.0 500.0,111.0 C499.6,110.0 499.2,107.7 499.7,107.0 Z" fill="#2a2a2a"/>
<path d="M534.5,111.0 C534.8,110.2 538.2,109.6 540.0,109.5 C541.8,109.4 544.3,109.8 545.0,110.5 C545.7,111.2 545.2,113.3 544.0,114.0 C542.8,114.7 539.6,115.0 538.0,114.5 C536.4,114.0 534.2,111.8 534.5,111.0 Z" fill="#e6e6e6"/>
<path d="M544.0,76.0 C544.7,75.6 549.3,76.5 552.0,77.0 C554.7,77.5 557.7,78.2 560.0,79.0 C562.3,79.8 566.3,81.1 566.0,81.5 C565.7,81.9 561.0,81.8 558.0,81.5 C555.0,81.2 550.3,80.4 548.0,79.5 C545.7,78.6 543.3,76.4 544.0,76.0 Z" fill="#e6e6e6"/>
<path d="M499,43.5 L508,54 L515,63 L519,69" fill="none" stroke="#e6e6e6" stroke-width="1.8" stroke-linecap="round"/>
<path d="M553,24 L563,33" fill="none" stroke="#e6e6e6" stroke-width="0.9" stroke-linecap="round"/>
</g>
<text x="610.00" y="215.20" font-size="6.0" text-anchor="start" fill="#222" font-weight="normal" textLength="20.0" lengthAdjust="spacingAndGlyphs">neuron</text>
<text x="7.3" y="147.6" font-size="9.5" fill="#111"><tspan font-weight="bold">d</tspan> | gene expression across region and zones</text>
<path d="M40.00,192.21 A73.1,73.1 0 0 1 49.01,183.20 L57.05,192.78 A60.6,60.6 0 0 0 49.58,200.25 Z" fill="#f3edf5" stroke="#4a4a4a" stroke-width="0.35"/>
<path d="M49.58,200.25 A60.6,60.6 0 0 1 57.05,192.78 L65.15,202.43 A48.0,48.0 0 0 0 59.23,208.35 Z" fill="#f3edf5" stroke="#4a4a4a" stroke-width="0.35"/>
<path d="M59.23,208.35 A48.0,48.0 0 0 1 65.15,202.43 L73.25,212.08 A35.4,35.4 0 0 0 68.88,216.45 Z" fill="#e3e1ef" stroke="#4a4a4a" stroke-width="0.35"/>
<path d="M68.88,216.45 A35.4,35.4 0 0 1 73.25,212.08 L81.28,221.66 A22.9,22.9 0 0 0 78.46,224.48 Z" fill="#fdf6fa" stroke="#4a4a4a" stroke-width="0.35"/>
<path d="M78.46,224.48 A22.9,22.9 0 0 1 81.28,221.66 L88.67,230.47 A11.4,11.4 0 0 0 87.27,231.87 Z" fill="#fdf6fa" stroke="#4a4a4a" stroke-width="0.35"/>
<path d="M49.01,183.20 A73.1,73.1 0 0 1 59.45,175.89 L65.70,186.72 A60.6,60.6 0 0 0 57.05,192.78 Z" fill="#f3edf5" stroke="#4a4a4a" stroke-width="0.35"/>
<path d="M57.05,192.78 A60.6,60.6 0 0 1 65.70,186.72 L72.00,197.63 A48.0,48.0 0 0 0 65.15,202.43 Z" fill="#f3edf5" stroke="#4a4a4a" stroke-width="0.35"/>
<path d="M65.15,202.43 A48.0,48.0 0 0 1 72.00,197.63 L78.30,208.54 A35.4,35.4 0 0 0 73.25,212.08 Z" fill="#d0d1e6" stroke="#4a4a4a" stroke-width="0.35"/>
<path d="M73.25,212.08 A35.4,35.4 0 0 1 78.30,208.54 L84.55,219.37 A22.9,22.9 0 0 0 81.28,221.66 Z" fill="#04508a" stroke="#4a4a4a" stroke-width="0.35"/>
<path d="M81.28,221.66 A22.9,22.9 0 0 1 84.55,219.37 L90.30,229.33 A11.4,11.4 0 0 0 88.67,230.47 Z" fill="#0566a8" stroke="#4a4a4a" stroke-width="0.35"/>
<path d="M59.45,175.89 A73.1,73.1 0 0 1 71.00,170.51 L75.27,182.25 A60.6,60.6 0 0 0 65.70,186.72 Z" fill="#f3edf5" stroke="#4a4a4a" stroke-width="0.35"/>
<path d="M65.70,186.72 A60.6,60.6 0 0 1 75.27,182.25 L79.58,194.09 A48.0,48.0 0 0 0 72.00,197.63 Z" fill="#f3edf5" stroke="#4a4a4a" stroke-width="0.35"/>
<path d="M72.00,197.63 A48.0,48.0 0 0 1 79.58,194.09 L83.89,205.93 A35.4,35.4 0 0 0 78.30,208.54 Z" fill="#e3e1ef" stroke="#4a4a4a" stroke-width="0.35"/>
<path d="M78.30,208.54 A35.4,35.4 0 0 1 83.89,205.93 L88.17,217.68 A22.9,22.9 0 0 0 84.55,219.37 Z" fill="#03396a" stroke="#4a4a4a" stroke-width="0.35"/>
<path d="M84.55,219.37 A22.9,22.9 0 0 1 88.17,217.68 L92.10,228.49 A11.4,11.4 0 0 0 90.30,229.33 Z" fill="#0566a8" stroke="#4a4a4a" stroke-width="0.35"/>
<path d="M71.00,170.51 A73.1,73.1 0 0 1 83.31,167.21 L85.48,179.52 A60.6,60.6 0 0 0 75.27,182.25 Z" fill="#f3edf5" stroke="#4a4a4a" stroke-width="0.35"/>
<path d="M75.27,182.25 A60.6,60.6 0 0 1 85.48,179.52 L87.66,191.93 A48.0,48.0 0 0 0 79.58,194.09 Z" fill="#f3edf5" stroke="#4a4a4a" stroke-width="0.35"/>
<path d="M79.58,194.09 A48.0,48.0 0 0 1 87.66,191.93 L89.85,204.34 A35.4,35.4 0 0 0 83.89,205.93 Z" fill="#d0d1e6" stroke="#4a4a4a" stroke-width="0.35"/>
<path d="M83.89,205.93 A35.4,35.4 0 0 1 89.85,204.34 L92.02,216.65 A22.9,22.9 0 0 0 88.17,217.68 Z" fill="#04508a" stroke="#4a4a4a" stroke-width="0.35"/>
<path d="M88.17,217.68 A22.9,22.9 0 0 1 92.02,216.65 L94.02,227.97 A11.4,11.4 0 0 0 92.10,228.49 Z" fill="#0566a8" stroke="#4a4a4a" stroke-width="0.35"/>
<path d="M83.31,167.21 A73.1,73.1 0 0 1 96.00,166.10 L96.00,178.60 A60.6,60.6 0 0 0 85.48,179.52 Z" fill="#e3e1ef" stroke="#4a4a4a" stroke-width="0.35"/>
<path d="M85.48,179.52 A60.6,60.6 0 0 1 96.00,178.60 L96.00,191.20 A48.0,48.0 0 0 0 87.66,191.93 Z" fill="#f3edf5" stroke="#4a4a4a" stroke-width="0.35"/>
<path d="M87.66,191.93 A48.0,48.0 0 0 1 96.00,191.20 L96.00,203.80 A35.4,35.4 0 0 0 89.85,204.34 Z" fill="#a6bddb" stroke="#4a4a4a" stroke-width="0.35"/>
<path d="M89.85,204.34 A35.4,35.4 0 0 1 96.00,203.80 L96.00,216.30 A22.9,22.9 0 0 0 92.02,216.65 Z" fill="#fdf6fa" stroke="#4a4a4a" stroke-width="0.35"/>
<path d="M92.02,216.65 A22.9,22.9 0 0 1 96.00,216.30 L96.00,227.80 A11.4,11.4 0 0 0 94.02,227.97 Z" fill="#fdf6fa" stroke="#4a4a4a" stroke-width="0.35"/>
<path d="M96.00,166.10 A73.1,73.1 0 0 1 108.69,167.21 L106.52,179.52 A60.6,60.6 0 0 0 96.00,178.60 Z" fill="#e3e1ef" stroke="#4a4a4a" stroke-width="0.35"/>
<path d="M96.00,178.60 A60.6,60.6 0 0 1 106.52,179.52 L104.34,191.93 A48.0,48.0 0 0 0 96.00,191.20 Z" fill="#f3edf5" stroke="#4a4a4a" stroke-width="0.35"/>
<path d="M96.00,191.20 A48.0,48.0 0 0 1 104.34,191.93 L102.15,204.34 A35.4,35.4 0 0 0 96.00,203.80 Z" fill="#a6bddb" stroke="#4a4a4a" stroke-width="0.35"/>
<path d="M96.00,203.80 A35.4,35.4 0 0 1 102.15,204.34 L99.98,216.65 A22.9,22.9 0 0 0 96.00,216.30 Z" fill="#03396a" stroke="#4a4a4a" stroke-width="0.35"/>
<path d="M96.00,216.30 A22.9,22.9 0 0 1 99.98,216.65 L97.98,227.97 A11.4,11.4 0 0 0 96.00,227.80 Z" fill="#04508a" stroke="#4a4a4a" stroke-width="0.35"/>
<path d="M108.69,167.21 A73.1,73.1 0 0 1 121.00,170.51 L116.73,182.25 A60.6,60.6 0 0 0 106.52,179.52 Z" fill="#f3edf5" stroke="#4a4a4a" stroke-width="0.35"/>
<path d="M106.52,179.52 A60.6,60.6 0 0 1 116.73,182.25 L112.42,194.09 A48.0,48.0 0 0 0 104.34,191.93 Z" fill="#f3edf5" stroke="#4a4a4a" stroke-width="0.35"/>
<path d="M104.34,191.93 A48.0,48.0 0 0 1 112.42,194.09 L108.11,205.93 A35.4,35.4 0 0 0 102.15,204.34 Z" fill="#d0d1e6" stroke="#4a4a4a" stroke-width="0.35"/>
<path d="M102.15,204.34 A35.4,35.4 0 0 1 108.11,205.93 L103.83,217.68 A22.9,22.9 0 0 0 99.98,216.65 Z" fill="#fdf6fa" stroke="#4a4a4a" stroke-width="0.35"/>
<path d="M99.98,216.65 A22.9,22.9 0 0 1 103.83,217.68 L99.90,228.49 A11.4,11.4 0 0 0 97.98,227.97 Z" fill="#fdf6fa" stroke="#4a4a4a" stroke-width="0.35"/>
<path d="M121.00,170.51 A73.1,73.1 0 0 1 132.55,175.89 L126.30,186.72 A60.6,60.6 0 0 0 116.73,182.25 Z" fill="#f3edf5" stroke="#4a4a4a" stroke-width="0.35"/>
<path d="M116.73,182.25 A60.6,60.6 0 0 1 126.30,186.72 L120.00,197.63 A48.0,48.0 0 0 0 112.42,194.09 Z" fill="#f3edf5" stroke="#4a4a4a" stroke-width="0.35"/>
<path d="M112.42,194.09 A48.0,48.0 0 0 1 120.00,197.63 L113.70,208.54 A35.4,35.4 0 0 0 108.11,205.93 Z" fill="#fdf6fa" stroke="#4a4a4a" stroke-width="0.35"/>
<path d="M108.11,205.93 A35.4,35.4 0 0 1 113.70,208.54 L107.45,219.37 A22.9,22.9 0 0 0 103.83,217.68 Z" fill="#fdf6fa" stroke="#4a4a4a" stroke-width="0.35"/>
<path d="M103.83,217.68 A22.9,22.9 0 0 1 107.45,219.37 L101.70,229.33 A11.4,11.4 0 0 0 99.90,228.49 Z" fill="#2b8cc4" stroke="#4a4a4a" stroke-width="0.35"/>
<path d="M132.55,175.89 A73.1,73.1 0 0 1 142.99,183.20 L134.95,192.78 A60.6,60.6 0 0 0 126.30,186.72 Z" fill="#a6bddb" stroke="#4a4a4a" stroke-width="0.35"/>
<path d="M126.30,186.72 A60.6,60.6 0 0 1 134.95,192.78 L126.85,202.43 A48.0,48.0 0 0 0 120.00,197.63 Z" fill="#f3edf5" stroke="#4a4a4a" stroke-width="0.35"/>
<path d="M120.00,197.63 A48.0,48.0 0 0 1 126.85,202.43 L118.75,212.08 A35.4,35.4 0 0 0 113.70,208.54 Z" fill="#fdf6fa" stroke="#4a4a4a" stroke-width="0.35"/>
<path d="M113.70,208.54 A35.4,35.4 0 0 1 118.75,212.08 L110.72,221.66 A22.9,22.9 0 0 0 107.45,219.37 Z" fill="#04508a" stroke="#4a4a4a" stroke-width="0.35"/>
<path d="M107.45,219.37 A22.9,22.9 0 0 1 110.72,221.66 L103.33,230.47 A11.4,11.4 0 0 0 101.70,229.33 Z" fill="#0566a8" stroke="#4a4a4a" stroke-width="0.35"/>
<path d="M142.99,183.20 A73.1,73.1 0 0 1 152.00,192.21 L142.42,200.25 A60.6,60.6 0 0 0 134.95,192.78 Z" fill="#e3e1ef" stroke="#4a4a4a" stroke-width="0.35"/>
<path d="M134.95,192.78 A60.6,60.6 0 0 1 142.42,200.25 L132.77,208.35 A48.0,48.0 0 0 0 126.85,202.43 Z" fill="#f3edf5" stroke="#4a4a4a" stroke-width="0.35"/>
<path d="M126.85,202.43 A48.0,48.0 0 0 1 132.77,208.35 L123.12,216.45 A35.4,35.4 0 0 0 118.75,212.08 Z" fill="#74a9cf" stroke="#4a4a4a" stroke-width="0.35"/>
<path d="M118.75,212.08 A35.4,35.4 0 0 1 123.12,216.45 L113.54,224.48 A22.9,22.9 0 0 0 110.72,221.66 Z" fill="#03396a" stroke="#4a4a4a" stroke-width="0.35"/>
<path d="M110.72,221.66 A22.9,22.9 0 0 1 113.54,224.48 L104.73,231.87 A11.4,11.4 0 0 0 103.33,230.47 Z" fill="#04508a" stroke="#4a4a4a" stroke-width="0.35"/>
<path d="M152.00,192.21 A73.1,73.1 0 0 1 159.31,202.65 L148.48,208.90 A60.6,60.6 0 0 0 142.42,200.25 Z" fill="#e3e1ef" stroke="#4a4a4a" stroke-width="0.35"/>
<path d="M142.42,200.25 A60.6,60.6 0 0 1 148.48,208.90 L137.57,215.20 A48.0,48.0 0 0 0 132.77,208.35 Z" fill="#f3edf5" stroke="#4a4a4a" stroke-width="0.35"/>
<path d="M132.77,208.35 A48.0,48.0 0 0 1 137.57,215.20 L126.66,221.50 A35.4,35.4 0 0 0 123.12,216.45 Z" fill="#2b8cc4" stroke="#4a4a4a" stroke-width="0.35"/>
<path d="M123.12,216.45 A35.4,35.4 0 0 1 126.66,221.50 L115.83,227.75 A22.9,22.9 0 0 0 113.54,224.48 Z" fill="#03396a" stroke="#4a4a4a" stroke-width="0.35"/>
<path d="M113.54,224.48 A22.9,22.9 0 0 1 115.83,227.75 L105.87,233.50 A11.4,11.4 0 0 0 104.73,231.87 Z" fill="#04508a" stroke="#4a4a4a" stroke-width="0.35"/>
<path d="M159.31,202.65 A73.1,73.1 0 0 1 164.69,214.20 L152.95,218.47 A60.6,60.6 0 0 0 148.48,208.90 Z" fill="#e3e1ef" stroke="#4a4a4a" stroke-width="0.35"/>
<path d="M148.48,208.90 A60.6,60.6 0 0 1 152.95,218.47 L141.11,222.78 A48.0,48.0 0 0 0 137.57,215.20 Z" fill="#f3edf5" stroke="#4a4a4a" stroke-width="0.35"/>
<path d="M137.57,215.20 A48.0,48.0 0 0 1 141.11,222.78 L129.27,227.09 A35.4,35.4 0 0 0 126.66,221.50 Z" fill="#d0d1e6" stroke="#4a4a4a" stroke-width="0.35"/>
<path d="M126.66,221.50 A35.4,35.4 0 0 1 129.27,227.09 L117.52,231.37 A22.9,22.9 0 0 0 115.83,227.75 Z" fill="#04508a" stroke="#4a4a4a" stroke-width="0.35"/>
<path d="M115.83,227.75 A22.9,22.9 0 0 1 117.52,231.37 L106.71,235.30 A11.4,11.4 0 0 0 105.87,233.50 Z" fill="#04508a" stroke="#4a4a4a" stroke-width="0.35"/>
<path d="M164.69,214.20 A73.1,73.1 0 0 1 167.99,226.51 L155.68,228.68 A60.6,60.6 0 0 0 152.95,218.47 Z" fill="#f3edf5" stroke="#4a4a4a" stroke-width="0.35"/>
<path d="M152.95,218.47 A60.6,60.6 0 0 1 155.68,228.68 L143.27,230.86 A48.0,48.0 0 0 0 141.11,222.78 Z" fill="#e3e1ef" stroke="#4a4a4a" stroke-width="0.35"/>
<path d="M141.11,222.78 A48.0,48.0 0 0 1 143.27,230.86 L130.86,233.05 A35.4,35.4 0 0 0 129.27,227.09 Z" fill="#d0d1e6" stroke="#4a4a4a" stroke-width="0.35"/>
<path d="M129.27,227.09 A35.4,35.4 0 0 1 130.86,233.05 L118.55,235.22 A22.9,22.9 0 0 0 117.52,231.37 Z" fill="#0566a8" stroke="#4a4a4a" stroke-width="0.35"/>
<path d="M117.52,231.37 A22.9,22.9 0 0 1 118.55,235.22 L107.23,237.22 A11.4,11.4 0 0 0 106.71,235.30 Z" fill="#04508a" stroke="#4a4a4a" stroke-width="0.35"/>
<path d="M167.99,226.51 A73.1,73.1 0 0 1 169.10,239.20 L156.60,239.20 A60.6,60.6 0 0 0 155.68,228.68 Z" fill="#f3edf5" stroke="#4a4a4a" stroke-width="0.35"/>
<path d="M155.68,228.68 A60.6,60.6 0 0 1 156.60,239.20 L144.00,239.20 A48.0,48.0 0 0 0 143.27,230.86 Z" fill="#f3edf5" stroke="#4a4a4a" stroke-width="0.35"/>
<path d="M143.27,230.86 A48.0,48.0 0 0 1 144.00,239.20 L131.40,239.20 A35.4,35.4 0 0 0 130.86,233.05 Z" fill="#fdf6fa" stroke="#4a4a4a" stroke-width="0.35"/>
<path d="M130.86,233.05 A35.4,35.4 0 0 1 131.40,239.20 L118.90,239.20 A22.9,22.9 0 0 0 118.55,235.22 Z" fill="#04508a" stroke="#4a4a4a" stroke-width="0.35"/>
<path d="M118.55,235.22 A22.9,22.9 0 0 1 118.90,239.20 L107.40,239.20 A11.4,11.4 0 0 0 107.23,237.22 Z" fill="#2b8cc4" stroke="#4a4a4a" stroke-width="0.35"/>
<path d="M169.10,239.20 A73.1,73.1 0 0 1 167.99,251.89 L155.68,249.72 A60.6,60.6 0 0 0 156.60,239.20 Z" fill="#f3edf5" stroke="#4a4a4a" stroke-width="0.35"/>
<path d="M156.60,239.20 A60.6,60.6 0 0 1 155.68,249.72 L143.27,247.54 A48.0,48.0 0 0 0 144.00,239.20 Z" fill="#f3edf5" stroke="#4a4a4a" stroke-width="0.35"/>
<path d="M144.00,239.20 A48.0,48.0 0 0 1 143.27,247.54 L130.86,245.35 A35.4,35.4 0 0 0 131.40,239.20 Z" fill="#a6bddb" stroke="#4a4a4a" stroke-width="0.35"/>
<path d="M131.40,239.20 A35.4,35.4 0 0 1 130.86,245.35 L118.55,243.18 A22.9,22.9 0 0 0 118.90,239.20 Z" fill="#04508a" stroke="#4a4a4a" stroke-width="0.35"/>
<path d="M118.90,239.20 A22.9,22.9 0 0 1 118.55,243.18 L107.23,241.18 A11.4,11.4 0 0 0 107.40,239.20 Z" fill="#03396a" stroke="#4a4a4a" stroke-width="0.35"/>
<path d="M167.99,251.89 A73.1,73.1 0 0 1 164.69,264.20 L152.95,259.93 A60.6,60.6 0 0 0 155.68,249.72 Z" fill="#e3e1ef" stroke="#4a4a4a" stroke-width="0.35"/>
<path d="M155.68,249.72 A60.6,60.6 0 0 1 152.95,259.93 L141.11,255.62 A48.0,48.0 0 0 0 143.27,247.54 Z" fill="#e3e1ef" stroke="#4a4a4a" stroke-width="0.35"/>
<path d="M143.27,247.54 A48.0,48.0 0 0 1 141.11,255.62 L129.27,251.31 A35.4,35.4 0 0 0 130.86,245.35 Z" fill="#74a9cf" stroke="#4a4a4a" stroke-width="0.35"/>
<path d="M130.86,245.35 A35.4,35.4 0 0 1 129.27,251.31 L117.52,247.03 A22.9,22.9 0 0 0 118.55,243.18 Z" fill="#03396a" stroke="#4a4a4a" stroke-width="0.35"/>
<path d="M118.55,243.18 A22.9,22.9 0 0 1 117.52,247.03 L106.71,243.10 A11.4,11.4 0 0 0 107.23,241.18 Z" fill="#04508a" stroke="#4a4a4a" stroke-width="0.35"/>
<path d="M164.69,264.20 A73.1,73.1 0 0 1 159.31,275.75 L148.48,269.50 A60.6,60.6 0 0 0 152.95,259.93 Z" fill="#e3e1ef" stroke="#4a4a4a" stroke-width="0.35"/>
<path d="M152.95,259.93 A60.6,60.6 0 0 1 148.48,269.50 L137.57,263.20 A48.0,48.0 0 0 0 141.11,255.62 Z" fill="#e3e1ef" stroke="#4a4a4a" stroke-width="0.35"/>
<path d="M141.11,255.62 A48.0,48.0 0 0 1 137.57,263.20 L126.66,256.90 A35.4,35.4 0 0 0 129.27,251.31 Z" fill="#a6bddb" stroke="#4a4a4a" stroke-width="0.35"/>
<path d="M129.27,251.31 A35.4,35.4 0 0 1 126.66,256.90 L115.83,250.65 A22.9,22.9 0 0 0 117.52,247.03 Z" fill="#04508a" stroke="#4a4a4a" stroke-width="0.35"/>
<path d="M117.52,247.03 A22.9,22.9 0 0 1 115.83,250.65 L105.87,244.90 A11.4,11.4 0 0 0 106.71,243.10 Z" fill="#03396a" stroke="#4a4a4a" stroke-width="0.35"/>
<path d="M159.31,275.75 A73.1,73.1 0 0 1 152.00,286.19 L142.42,278.15 A60.6,60.6 0 0 0 148.48,269.50 Z" fill="#e3e1ef" stroke="#4a4a4a" stroke-width="0.35"/>
<path d="M148.48,269.50 A60.6,60.6 0 0 1 142.42,278.15 L132.77,270.05 A48.0,48.0 0 0 0 137.57,263.20 Z" fill="#a6bddb" stroke="#4a4a4a" stroke-width="0.35"/>
<path d="M137.57,263.20 A48.0,48.0 0 0 1 132.77,270.05 L123.12,261.95 A35.4,35.4 0 0 0 126.66,256.90 Z" fill="#a6bddb" stroke="#4a4a4a" stroke-width="0.35"/>
<path d="M126.66,256.90 A35.4,35.4 0 0 1 123.12,261.95 L113.54,253.92 A22.9,22.9 0 0 0 115.83,250.65 Z" fill="#04508a" stroke="#4a4a4a" stroke-width="0.35"/>
<path d="M115.83,250.65 A22.9,22.9 0 0 1 113.54,253.92 L104.73,246.53 A11.4,11.4 0 0 0 105.87,244.90 Z" fill="#03396a" stroke="#4a4a4a" stroke-width="0.35"/>
<path d="M152.00,286.19 A73.1,73.1 0 0 1 142.99,295.20 L134.95,285.62 A60.6,60.6 0 0 0 142.42,278.15 Z" fill="#a6bddb" stroke="#4a4a4a" stroke-width="0.35"/>
<path d="M142.42,278.15 A60.6,60.6 0 0 1 134.95,285.62 L126.85,275.97 A48.0,48.0 0 0 0 132.77,270.05 Z" fill="#e3e1ef" stroke="#4a4a4a" stroke-width="0.35"/>
<path d="M132.77,270.05 A48.0,48.0 0 0 1 126.85,275.97 L118.75,266.32 A35.4,35.4 0 0 0 123.12,261.95 Z" fill="#2b8cc4" stroke="#4a4a4a" stroke-width="0.35"/>
<path d="M123.12,261.95 A35.4,35.4 0 0 1 118.75,266.32 L110.72,256.74 A22.9,22.9 0 0 0 113.54,253.92 Z" fill="#04508a" stroke="#4a4a4a" stroke-width="0.35"/>
<path d="M113.54,253.92 A22.9,22.9 0 0 1 110.72,256.74 L103.33,247.93 A11.4,11.4 0 0 0 104.73,246.53 Z" fill="#03396a" stroke="#4a4a4a" stroke-width="0.35"/>
<path d="M142.99,295.20 A73.1,73.1 0 0 1 132.55,302.51 L126.30,291.68 A60.6,60.6 0 0 0 134.95,285.62 Z" fill="#f3edf5" stroke="#4a4a4a" stroke-width="0.35"/>
<path d="M134.95,285.62 A60.6,60.6 0 0 1 126.30,291.68 L120.00,280.77 A48.0,48.0 0 0 0 126.85,275.97 Z" fill="#e3e1ef" stroke="#4a4a4a" stroke-width="0.35"/>
<path d="M126.85,275.97 A48.0,48.0 0 0 1 120.00,280.77 L113.70,269.86 A35.4,35.4 0 0 0 118.75,266.32 Z" fill="#a6bddb" stroke="#4a4a4a" stroke-width="0.35"/>
<path d="M118.75,266.32 A35.4,35.4 0 0 1 113.70,269.86 L107.45,259.03 A22.9,22.9 0 0 0 110.72,256.74 Z" fill="#04508a" stroke="#4a4a4a" stroke-width="0.35"/>
<path d="M110.72,256.74 A22.9,22.9 0 0 1 107.45,259.03 L101.70,249.07 A11.4,11.4 0 0 0 103.33,247.93 Z" fill="#04508a" stroke="#4a4a4a" stroke-width="0.35"/>
<path d="M132.55,302.51 A73.1,73.1 0 0 1 121.00,307.89 L116.73,296.15 A60.6,60.6 0 0 0 126.30,291.68 Z" fill="#d0d1e6" stroke="#4a4a4a" stroke-width="0.35"/>
<path d="M126.30,291.68 A60.6,60.6 0 0 1 116.73,296.15 L112.42,284.31 A48.0,48.0 0 0 0 120.00,280.77 Z" fill="#f3edf5" stroke="#4a4a4a" stroke-width="0.35"/>
<path d="M120.00,280.77 A48.0,48.0 0 0 1 112.42,284.31 L108.11,272.47 A35.4,35.4 0 0 0 113.70,269.86 Z" fill="#a6bddb" stroke="#4a4a4a" stroke-width="0.35"/>
<path d="M113.70,269.86 A35.4,35.4 0 0 1 108.11,272.47 L103.83,260.72 A22.9,22.9 0 0 0 107.45,259.03 Z" fill="#0566a8" stroke="#4a4a4a" stroke-width="0.35"/>
<path d="M107.45,259.03 A22.9,22.9 0 0 1 103.83,260.72 L99.90,249.91 A11.4,11.4 0 0 0 101.70,249.07 Z" fill="#04508a" stroke="#4a4a4a" stroke-width="0.35"/>
<path d="M121.00,307.89 A73.1,73.1 0 0 1 108.69,311.19 L106.52,298.88 A60.6,60.6 0 0 0 116.73,296.15 Z" fill="#f3edf5" stroke="#4a4a4a" stroke-width="0.35"/>
<path d="M116.73,296.15 A60.6,60.6 0 0 1 106.52,298.88 L104.34,286.47 A48.0,48.0 0 0 0 112.42,284.31 Z" fill="#f3edf5" stroke="#4a4a4a" stroke-width="0.35"/>
<path d="M112.42,284.31 A48.0,48.0 0 0 1 104.34,286.47 L102.15,274.06 A35.4,35.4 0 0 0 108.11,272.47 Z" fill="#f3edf5" stroke="#4a4a4a" stroke-width="0.35"/>
<path d="M108.11,272.47 A35.4,35.4 0 0 1 102.15,274.06 L99.98,261.75 A22.9,22.9 0 0 0 103.83,260.72 Z" fill="#fdf6fa" stroke="#4a4a4a" stroke-width="0.35"/>
<path d="M103.83,260.72 A22.9,22.9 0 0 1 99.98,261.75 L97.98,250.43 A11.4,11.4 0 0 0 99.90,249.91 Z" fill="#fdf6fa" stroke="#4a4a4a" stroke-width="0.35"/>
<path d="M87.27,231.87 A11.4,11.4 0 1 1 97.98,250.43" fill="none" stroke="#9a9a9a" stroke-width="1.0"/>
<path d="M78.46,224.48 A22.9,22.9 0 1 1 99.98,261.75" fill="none" stroke="#9a9a9a" stroke-width="1.0"/>
<path d="M68.88,216.45 A35.4,35.4 0 1 1 102.15,274.06" fill="none" stroke="#9a9a9a" stroke-width="1.0"/>
<path d="M59.23,208.35 A48.0,48.0 0 1 1 104.34,286.47" fill="none" stroke="#9a9a9a" stroke-width="1.0"/>
<path d="M49.58,200.25 A60.6,60.6 0 1 1 106.52,298.88" fill="none" stroke="#9a9a9a" stroke-width="1.0"/>
<path d="M40.00,192.21 A73.1,73.1 0 1 1 108.69,311.19" fill="none" stroke="#9a9a9a" stroke-width="1.0"/>
<line x1="87.27" y1="231.87" x2="40.00" y2="192.21" stroke="#555" stroke-width="0.5"/>
<line x1="97.98" y1="250.43" x2="108.69" y2="311.19" stroke="#555" stroke-width="0.5"/>
<path d="M35.25,188.23 A79.3,79.3 0 0 1 37.82,185.32" fill="none" stroke="#08306b" stroke-width="2.8"/>
<path d="M37.53,185.63 A79.3,79.3 0 0 1 40.22,182.83" fill="none" stroke="#08306b" stroke-width="2.8"/>
<path d="M39.93,183.13 A79.3,79.3 0 0 1 42.73,180.45" fill="none" stroke="#08306b" stroke-width="2.8"/>
<path d="M42.43,180.73 A79.3,79.3 0 0 1 45.35,178.19" fill="none" stroke="#08306b" stroke-width="2.8"/>
<path d="M45.03,178.45 A79.3,79.3 0 0 1 48.06,176.04" fill="none" stroke="#0868ac" stroke-width="2.8"/>
<path d="M47.73,176.29 A79.3,79.3 0 0 1 50.86,174.00" fill="none" stroke="#0869ad" stroke-width="2.8"/>
<path d="M50.52,174.24 A79.3,79.3 0 0 1 53.74,172.10" fill="none" stroke="#086aad" stroke-width="2.8"/>
<path d="M53.39,172.32 A79.3,79.3 0 0 1 56.71,170.32" fill="none" stroke="#096bae" stroke-width="2.8"/>
<path d="M56.35,170.52 A79.3,79.3 0 0 1 59.75,168.67" fill="none" stroke="#096caf" stroke-width="2.8"/>
<path d="M59.38,168.86 A79.3,79.3 0 0 1 62.86,167.16" fill="none" stroke="#096daf" stroke-width="2.8"/>
<path d="M62.49,167.33 A79.3,79.3 0 0 1 66.04,165.78" fill="none" stroke="#096eb0" stroke-width="2.8"/>
<path d="M65.65,165.94 A79.3,79.3 0 0 1 69.27,164.54" fill="none" stroke="#096fb0" stroke-width="2.8"/>
<path d="M68.88,164.68 A79.3,79.3 0 0 1 72.55,163.45" fill="none" stroke="#096fb1" stroke-width="2.8"/>
<path d="M72.15,163.57 A79.3,79.3 0 0 1 75.88,162.50" fill="none" stroke="#0970b2" stroke-width="2.8"/>
<path d="M75.48,162.60 A79.3,79.3 0 0 1 79.24,161.69" fill="none" stroke="#0a71b2" stroke-width="2.8"/>
<path d="M78.84,161.78 A79.3,79.3 0 0 1 82.64,161.03" fill="none" stroke="#0a72b3" stroke-width="2.8"/>
<path d="M82.23,161.10 A79.3,79.3 0 0 1 86.06,160.53" fill="none" stroke="#0a73b3" stroke-width="2.8"/>
<path d="M85.65,160.58 A79.3,79.3 0 0 1 89.50,160.17" fill="none" stroke="#0a74b4" stroke-width="2.8"/>
<path d="M89.09,160.20 A79.3,79.3 0 0 1 92.96,159.96" fill="none" stroke="#0c75b5" stroke-width="2.8"/>
<path d="M92.54,159.98 A79.3,79.3 0 0 1 96.42,159.90" fill="none" stroke="#0d77b6" stroke-width="2.8"/>
<path d="M96.00,159.90 A79.3,79.3 0 0 1 99.87,159.99" fill="none" stroke="#0f78b7" stroke-width="2.8"/>
<path d="M99.46,159.98 A79.3,79.3 0 0 1 103.32,160.24" fill="none" stroke="#1179b8" stroke-width="2.8"/>
<path d="M102.91,160.20 A79.3,79.3 0 0 1 106.76,160.63" fill="none" stroke="#137bb8" stroke-width="2.8"/>
<path d="M106.35,160.58 A79.3,79.3 0 0 1 110.18,161.18" fill="none" stroke="#157cb9" stroke-width="2.8"/>
<path d="M109.77,161.10 A79.3,79.3 0 0 1 113.57,161.87" fill="none" stroke="#177dba" stroke-width="2.8"/>
<path d="M113.16,161.78 A79.3,79.3 0 0 1 116.93,162.71" fill="none" stroke="#187fbb" stroke-width="2.8"/>
<path d="M116.52,162.60 A79.3,79.3 0 0 1 120.24,163.70" fill="none" stroke="#1a80bc" stroke-width="2.8"/>
<path d="M119.85,163.57 A79.3,79.3 0 0 1 123.51,164.83" fill="none" stroke="#1c82bd" stroke-width="2.8"/>
<path d="M123.12,164.68 A79.3,79.3 0 0 1 126.73,166.10" fill="none" stroke="#1e83be" stroke-width="2.8"/>
<path d="M126.35,165.94 A79.3,79.3 0 0 1 129.89,167.51" fill="none" stroke="#2084bf" stroke-width="2.8"/>
<path d="M129.51,167.33 A79.3,79.3 0 0 1 132.98,169.05" fill="none" stroke="#2186c0" stroke-width="2.8"/>
<path d="M132.62,168.86 A79.3,79.3 0 0 1 136.01,170.73" fill="none" stroke="#2387c1" stroke-width="2.8"/>
<path d="M135.65,170.52 A79.3,79.3 0 0 1 138.96,172.54" fill="none" stroke="#2588c2" stroke-width="2.8"/>
<path d="M138.61,172.32 A79.3,79.3 0 0 1 141.82,174.48" fill="none" stroke="#278ac2" stroke-width="2.8"/>
<path d="M141.48,174.24 A79.3,79.3 0 0 1 144.60,176.54" fill="none" stroke="#298bc3" stroke-width="2.8"/>
<path d="M144.27,176.29 A79.3,79.3 0 0 1 147.29,178.72" fill="none" stroke="#2b8dc4" stroke-width="2.8"/>
<path d="M146.97,178.45 A79.3,79.3 0 0 1 149.88,181.02" fill="none" stroke="#2f8ec5" stroke-width="2.8"/>
<path d="M149.57,180.73 A79.3,79.3 0 0 1 152.37,183.42" fill="none" stroke="#3390c6" stroke-width="2.8"/>
<path d="M152.07,183.13 A79.3,79.3 0 0 1 154.75,185.93" fill="none" stroke="#3692c7" stroke-width="2.8"/>
<path d="M154.47,185.63 A79.3,79.3 0 0 1 157.01,188.55" fill="none" stroke="#3a93c8" stroke-width="2.8"/>
<path d="M156.75,188.23 A79.3,79.3 0 0 1 159.16,191.26" fill="none" stroke="#3e95c9" stroke-width="2.8"/>
<path d="M158.91,190.93 A79.3,79.3 0 0 1 161.20,194.06" fill="none" stroke="#4297ca" stroke-width="2.8"/>
<path d="M160.96,193.72 A79.3,79.3 0 0 1 163.10,196.94" fill="none" stroke="#4698cb" stroke-width="2.8"/>
<path d="M162.88,196.59 A79.3,79.3 0 0 1 164.88,199.91" fill="none" stroke="#499acc" stroke-width="2.8"/>
<path d="M164.68,199.55 A79.3,79.3 0 0 1 166.53,202.95" fill="none" stroke="#4d9ccd" stroke-width="2.8"/>
<path d="M166.34,202.58 A79.3,79.3 0 0 1 168.04,206.06" fill="none" stroke="#519ece" stroke-width="2.8"/>
<path d="M167.87,205.69 A79.3,79.3 0 0 1 169.42,209.24" fill="none" stroke="#559fcf" stroke-width="2.8"/>
<path d="M169.26,208.85 A79.3,79.3 0 0 1 170.66,212.47" fill="none" stroke="#59a1d0" stroke-width="2.8"/>
<path d="M170.52,212.08 A79.3,79.3 0 0 1 171.75,215.75" fill="none" stroke="#5ca3d1" stroke-width="2.8"/>
<path d="M171.63,215.35 A79.3,79.3 0 0 1 172.70,219.08" fill="none" stroke="#60a4d2" stroke-width="2.8"/>
<path d="M172.60,218.68 A79.3,79.3 0 0 1 173.51,222.44" fill="none" stroke="#64a6d2" stroke-width="2.8"/>
<path d="M173.42,222.04 A79.3,79.3 0 0 1 174.17,225.84" fill="none" stroke="#68a8d3" stroke-width="2.8"/>
<path d="M174.10,225.43 A79.3,79.3 0 0 1 174.67,229.26" fill="none" stroke="#6ca9d4" stroke-width="2.8"/>
<path d="M174.62,228.85 A79.3,79.3 0 0 1 175.03,232.70" fill="none" stroke="#6fabd5" stroke-width="2.8"/>
<path d="M175.00,232.29 A79.3,79.3 0 0 1 175.24,236.16" fill="none" stroke="#73add6" stroke-width="2.8"/>
<path d="M175.22,235.74 A79.3,79.3 0 0 1 175.30,239.62" fill="none" stroke="#77afd7" stroke-width="2.8"/>
<path d="M175.30,239.20 A79.3,79.3 0 0 1 175.21,243.07" fill="none" stroke="#7bb0d8" stroke-width="2.8"/>
<path d="M175.22,242.66 A79.3,79.3 0 0 1 174.96,246.52" fill="none" stroke="#7fb2d9" stroke-width="2.8"/>
<path d="M175.00,246.11 A79.3,79.3 0 0 1 174.57,249.96" fill="none" stroke="#84b3da" stroke-width="2.8"/>
<path d="M174.62,249.55 A79.3,79.3 0 0 1 174.02,253.38" fill="none" stroke="#88b5da" stroke-width="2.8"/>
<path d="M174.10,252.97 A79.3,79.3 0 0 1 173.33,256.77" fill="none" stroke="#8cb6db" stroke-width="2.8"/>
<path d="M173.42,256.36 A79.3,79.3 0 0 1 172.49,260.13" fill="none" stroke="#91b7dc" stroke-width="2.8"/>
<path d="M172.60,259.72 A79.3,79.3 0 0 1 171.50,263.44" fill="none" stroke="#95b9dc" stroke-width="2.8"/>
<path d="M171.63,263.05 A79.3,79.3 0 0 1 170.37,266.71" fill="none" stroke="#9abadd" stroke-width="2.8"/>
<path d="M170.52,266.32 A79.3,79.3 0 0 1 169.10,269.93" fill="none" stroke="#9ebcde" stroke-width="2.8"/>
<path d="M169.26,269.55 A79.3,79.3 0 0 1 167.69,273.09" fill="none" stroke="#a2bddf" stroke-width="2.8"/>
<path d="M167.87,272.71 A79.3,79.3 0 0 1 166.15,276.18" fill="none" stroke="#a7bedf" stroke-width="2.8"/>
<path d="M166.34,275.82 A79.3,79.3 0 0 1 164.47,279.21" fill="none" stroke="#abc0e0" stroke-width="2.8"/>
<path d="M164.68,278.85 A79.3,79.3 0 0 1 162.66,282.16" fill="none" stroke="#b0c1e1" stroke-width="2.8"/>
<path d="M162.88,281.81 A79.3,79.3 0 0 1 160.72,285.02" fill="none" stroke="#b4c3e1" stroke-width="2.8"/>
<path d="M160.96,284.68 A79.3,79.3 0 0 1 158.66,287.80" fill="none" stroke="#b8c4e2" stroke-width="2.8"/>
<path d="M158.91,287.47 A79.3,79.3 0 0 1 156.48,290.49" fill="none" stroke="#bbc6e3" stroke-width="2.8"/>
<path d="M156.75,290.17 A79.3,79.3 0 0 1 154.18,293.08" fill="none" stroke="#bdc7e4" stroke-width="2.8"/>
<path d="M154.47,292.77 A79.3,79.3 0 0 1 151.78,295.57" fill="none" stroke="#bfc9e4" stroke-width="2.8"/>
<path d="M152.07,295.27 A79.3,79.3 0 0 1 149.27,297.95" fill="none" stroke="#c2cae5" stroke-width="2.8"/>
<path d="M149.57,297.67 A79.3,79.3 0 0 1 146.65,300.21" fill="none" stroke="#c4cce6" stroke-width="2.8"/>
<path d="M146.97,299.95 A79.3,79.3 0 0 1 143.94,302.36" fill="none" stroke="#c7cde7" stroke-width="2.8"/>
<path d="M144.27,302.11 A79.3,79.3 0 0 1 141.14,304.40" fill="none" stroke="#c9cee7" stroke-width="2.8"/>
<path d="M141.48,304.16 A79.3,79.3 0 0 1 138.26,306.30" fill="none" stroke="#cbd0e8" stroke-width="2.8"/>
<path d="M138.61,306.08 A79.3,79.3 0 0 1 135.29,308.08" fill="none" stroke="#ced1e9" stroke-width="2.8"/>
<path d="M135.65,307.88 A79.3,79.3 0 0 1 132.25,309.73" fill="none" stroke="#d0d3e9" stroke-width="2.8"/>
<path d="M132.62,309.54 A79.3,79.3 0 0 1 129.14,311.24" fill="none" stroke="#d2d4ea" stroke-width="2.8"/>
<path d="M129.51,311.07 A79.3,79.3 0 0 1 125.96,312.62" fill="none" stroke="#d5d6eb" stroke-width="2.8"/>
<path d="M126.35,312.46 A79.3,79.3 0 0 1 122.73,313.86" fill="none" stroke="#d7d7ec" stroke-width="2.8"/>
<path d="M123.12,313.72 A79.3,79.3 0 0 1 119.45,314.95" fill="none" stroke="#dad9ec" stroke-width="2.8"/>
<path d="M119.85,314.83 A79.3,79.3 0 0 1 116.12,315.90" fill="none" stroke="#dcdaed" stroke-width="2.8"/>
<path d="M116.52,315.80 A79.3,79.3 0 0 1 112.76,316.71" fill="none" stroke="#dedcee" stroke-width="2.8"/>
<path d="M113.16,316.62 A79.3,79.3 0 0 1 109.77,317.30" fill="none" stroke="#e1ddef" stroke-width="2.8"/>
<text x="36.50" y="176.50" font-size="7.8" fill="#222" text-anchor="middle" dominant-baseline="central" transform="rotate(-45 36.50 176.50)" textLength="22.0" lengthAdjust="spacingAndGlyphs">hyper</text>
<text x="34.80" y="202.60" font-size="7.8" fill="#222" text-anchor="middle" dominant-baseline="central" transform="rotate(-45 34.80 202.60)" textLength="10.6" lengthAdjust="spacingAndGlyphs">CP</text>
<text x="44.80" y="211.40" font-size="7.8" fill="#222" text-anchor="middle" dominant-baseline="central" transform="rotate(-45 44.80 211.40)" textLength="10.4" lengthAdjust="spacingAndGlyphs">SP</text>
<text x="55.80" y="219.90" font-size="7.8" fill="#222" text-anchor="middle" dominant-baseline="central" transform="rotate(-45 55.80 219.90)" textLength="7.4" lengthAdjust="spacingAndGlyphs">IZ</text>
<text x="64.80" y="226.40" font-size="7.8" fill="#222" text-anchor="middle" dominant-baseline="central" transform="rotate(-45 64.80 226.40)" textLength="15.4" lengthAdjust="spacingAndGlyphs">SVZ</text>
<text x="74.50" y="233.20" font-size="7.8" fill="#222" text-anchor="middle" dominant-baseline="central" transform="rotate(-45 74.50 233.20)" textLength="10.6" lengthAdjust="spacingAndGlyphs">VZ</text>
<text x="118.00" y="321.00" font-size="7.8" fill="#222" text-anchor="middle" dominant-baseline="central" transform="rotate(-12 118.00 321.00)" textLength="19.0" lengthAdjust="spacingAndGlyphs">hypo</text>
<defs><linearGradient id="cbg0" x1="0" x2="1" y1="0" y2="0"><stop offset="0" stop-color="#fbf2f8"/><stop offset="0.3" stop-color="#d8d8ec"/><stop offset="0.6" stop-color="#3aa0cc"/><stop offset="1" stop-color="#023c64"/></linearGradient></defs>
<rect x="26.3" y="244.3" width="56.8" height="4.399999999999977" fill="url(#cbg0)" stroke="#999" stroke-width="0.4"/>
<text x="36.30" y="256.90" font-size="8.0" text-anchor="middle" fill="#222" font-weight="normal">10</text>
<text x="73.60" y="256.90" font-size="8.0" text-anchor="middle" fill="#222" font-weight="normal">12</text>
<text x="55.30" y="264.70" font-size="5.6" text-anchor="middle" fill="#333" font-weight="normal">MDK</text>
<path d="M39.20,362.61 A73.1,73.1 0 0 1 48.21,353.60 L56.25,363.18 A60.6,60.6 0 0 0 48.78,370.65 Z" fill="#fc9466" stroke="#4a4a4a" stroke-width="0.35"/>
<path d="M48.78,370.65 A60.6,60.6 0 0 1 56.25,363.18 L64.35,372.83 A48.0,48.0 0 0 0 58.43,378.75 Z" fill="#e6271c" stroke="#4a4a4a" stroke-width="0.35"/>
<path d="M58.43,378.75 A48.0,48.0 0 0 1 64.35,372.83 L72.45,382.48 A35.4,35.4 0 0 0 68.08,386.85 Z" fill="#a00006" stroke="#4a4a4a" stroke-width="0.35"/>
<path d="M68.08,386.85 A35.4,35.4 0 0 1 72.45,382.48 L80.48,392.06 A22.9,22.9 0 0 0 77.66,394.88 Z" fill="#fff7ee" stroke="#4a4a4a" stroke-width="0.35"/>
<path d="M77.66,394.88 A22.9,22.9 0 0 1 80.48,392.06 L87.87,400.87 A11.4,11.4 0 0 0 86.47,402.27 Z" fill="#fff7ee" stroke="#4a4a4a" stroke-width="0.35"/>
<path d="M48.21,353.60 A73.1,73.1 0 0 1 58.65,346.29 L64.90,357.12 A60.6,60.6 0 0 0 56.25,363.18 Z" fill="#e6271c" stroke="#4a4a4a" stroke-width="0.35"/>
<path d="M56.25,363.18 A60.6,60.6 0 0 1 64.90,357.12 L71.20,368.03 A48.0,48.0 0 0 0 64.35,372.83 Z" fill="#fc9466" stroke="#4a4a4a" stroke-width="0.35"/>
<path d="M64.35,372.83 A48.0,48.0 0 0 1 71.20,368.03 L77.50,378.94 A35.4,35.4 0 0 0 72.45,382.48 Z" fill="#a00006" stroke="#4a4a4a" stroke-width="0.35"/>
<path d="M72.45,382.48 A35.4,35.4 0 0 1 77.50,378.94 L83.75,389.77 A22.9,22.9 0 0 0 80.48,392.06 Z" fill="#c90a0b" stroke="#4a4a4a" stroke-width="0.35"/>
<path d="M80.48,392.06 A22.9,22.9 0 0 1 83.75,389.77 L89.50,399.73 A11.4,11.4 0 0 0 87.87,400.87 Z" fill="#c90a0b" stroke="#4a4a4a" stroke-width="0.35"/>
<path d="M58.65,346.29 A73.1,73.1 0 0 1 70.20,340.91 L74.47,352.65 A60.6,60.6 0 0 0 64.90,357.12 Z" fill="#f6603f" stroke="#4a4a4a" stroke-width="0.35"/>
<path d="M64.90,357.12 A60.6,60.6 0 0 1 74.47,352.65 L78.78,364.49 A48.0,48.0 0 0 0 71.20,368.03 Z" fill="#fdb889" stroke="#4a4a4a" stroke-width="0.35"/>
<path d="M71.20,368.03 A48.0,48.0 0 0 1 78.78,364.49 L83.09,376.33 A35.4,35.4 0 0 0 77.50,378.94 Z" fill="#a00006" stroke="#4a4a4a" stroke-width="0.35"/>
<path d="M77.50,378.94 A35.4,35.4 0 0 1 83.09,376.33 L87.37,388.08 A22.9,22.9 0 0 0 83.75,389.77 Z" fill="#e6271c" stroke="#4a4a4a" stroke-width="0.35"/>
<path d="M83.75,389.77 A22.9,22.9 0 0 1 87.37,388.08 L91.30,398.89 A11.4,11.4 0 0 0 89.50,399.73 Z" fill="#c90a0b" stroke="#4a4a4a" stroke-width="0.35"/>
<path d="M70.20,340.91 A73.1,73.1 0 0 1 82.51,337.61 L84.68,349.92 A60.6,60.6 0 0 0 74.47,352.65 Z" fill="#fdb889" stroke="#4a4a4a" stroke-width="0.35"/>
<path d="M74.47,352.65 A60.6,60.6 0 0 1 84.68,349.92 L86.86,362.33 A48.0,48.0 0 0 0 78.78,364.49 Z" fill="#e6271c" stroke="#4a4a4a" stroke-width="0.35"/>
<path d="M78.78,364.49 A48.0,48.0 0 0 1 86.86,362.33 L89.05,374.74 A35.4,35.4 0 0 0 83.09,376.33 Z" fill="#a00006" stroke="#4a4a4a" stroke-width="0.35"/>
<path d="M83.09,376.33 A35.4,35.4 0 0 1 89.05,374.74 L91.22,387.05 A22.9,22.9 0 0 0 87.37,388.08 Z" fill="#a00006" stroke="#4a4a4a" stroke-width="0.35"/>
<path d="M87.37,388.08 A22.9,22.9 0 0 1 91.22,387.05 L93.22,398.37 A11.4,11.4 0 0 0 91.30,398.89 Z" fill="#c90a0b" stroke="#4a4a4a" stroke-width="0.35"/>
<path d="M82.51,337.61 A73.1,73.1 0 0 1 95.20,336.50 L95.20,349.00 A60.6,60.6 0 0 0 84.68,349.92 Z" fill="#fc9466" stroke="#4a4a4a" stroke-width="0.35"/>
<path d="M84.68,349.92 A60.6,60.6 0 0 1 95.20,349.00 L95.20,361.60 A48.0,48.0 0 0 0 86.86,362.33 Z" fill="#feebd8" stroke="#4a4a4a" stroke-width="0.35"/>
<path d="M86.86,362.33 A48.0,48.0 0 0 1 95.20,361.60 L95.20,374.20 A35.4,35.4 0 0 0 89.05,374.74 Z" fill="#a00006" stroke="#4a4a4a" stroke-width="0.35"/>
<path d="M89.05,374.74 A35.4,35.4 0 0 1 95.20,374.20 L95.20,386.70 A22.9,22.9 0 0 0 91.22,387.05 Z" fill="#fff7ee" stroke="#4a4a4a" stroke-width="0.35"/>
<path d="M91.22,387.05 A22.9,22.9 0 0 1 95.20,386.70 L95.20,398.20 A11.4,11.4 0 0 0 93.22,398.37 Z" fill="#a00006" stroke="#4a4a4a" stroke-width="0.35"/>
<path d="M95.20,336.50 A73.1,73.1 0 0 1 107.89,337.61 L105.72,349.92 A60.6,60.6 0 0 0 95.20,349.00 Z" fill="#fdb889" stroke="#4a4a4a" stroke-width="0.35"/>
<path d="M95.20,349.00 A60.6,60.6 0 0 1 105.72,349.92 L103.54,362.33 A48.0,48.0 0 0 0 95.20,361.60 Z" fill="#fdd3a6" stroke="#4a4a4a" stroke-width="0.35"/>
<path d="M95.20,361.60 A48.0,48.0 0 0 1 103.54,362.33 L101.35,374.74 A35.4,35.4 0 0 0 95.20,374.20 Z" fill="#a00006" stroke="#4a4a4a" stroke-width="0.35"/>
<path d="M95.20,374.20 A35.4,35.4 0 0 1 101.35,374.74 L99.18,387.05 A22.9,22.9 0 0 0 95.20,386.70 Z" fill="#c90a0b" stroke="#4a4a4a" stroke-width="0.35"/>
<path d="M95.20,386.70 A22.9,22.9 0 0 1 99.18,387.05 L97.18,398.37 A11.4,11.4 0 0 0 95.20,398.20 Z" fill="#c90a0b" stroke="#4a4a4a" stroke-width="0.35"/>
<path d="M107.89,337.61 A73.1,73.1 0 0 1 120.20,340.91 L115.93,352.65 A60.6,60.6 0 0 0 105.72,349.92 Z" fill="#e6271c" stroke="#4a4a4a" stroke-width="0.35"/>
<path d="M105.72,349.92 A60.6,60.6 0 0 1 115.93,352.65 L111.62,364.49 A48.0,48.0 0 0 0 103.54,362.33 Z" fill="#fc9466" stroke="#4a4a4a" stroke-width="0.35"/>
<path d="M103.54,362.33 A48.0,48.0 0 0 1 111.62,364.49 L107.31,376.33 A35.4,35.4 0 0 0 101.35,374.74 Z" fill="#c90a0b" stroke="#4a4a4a" stroke-width="0.35"/>
<path d="M101.35,374.74 A35.4,35.4 0 0 1 107.31,376.33 L103.03,388.08 A22.9,22.9 0 0 0 99.18,387.05 Z" fill="#fff7ee" stroke="#4a4a4a" stroke-width="0.35"/>
<path d="M99.18,387.05 A22.9,22.9 0 0 1 103.03,388.08 L99.10,398.89 A11.4,11.4 0 0 0 97.18,398.37 Z" fill="#fff7ee" stroke="#4a4a4a" stroke-width="0.35"/>
<path d="M120.20,340.91 A73.1,73.1 0 0 1 131.75,346.29 L125.50,357.12 A60.6,60.6 0 0 0 115.93,352.65 Z" fill="#fdd3a6" stroke="#4a4a4a" stroke-width="0.35"/>
<path d="M115.93,352.65 A60.6,60.6 0 0 1 125.50,357.12 L119.20,368.03 A48.0,48.0 0 0 0 111.62,364.49 Z" fill="#a00006" stroke="#4a4a4a" stroke-width="0.35"/>
<path d="M111.62,364.49 A48.0,48.0 0 0 1 119.20,368.03 L112.90,378.94 A35.4,35.4 0 0 0 107.31,376.33 Z" fill="#fff7ee" stroke="#4a4a4a" stroke-width="0.35"/>
<path d="M107.31,376.33 A35.4,35.4 0 0 1 112.90,378.94 L106.65,389.77 A22.9,22.9 0 0 0 103.03,388.08 Z" fill="#fff7ee" stroke="#4a4a4a" stroke-width="0.35"/>
<path d="M103.03,388.08 A22.9,22.9 0 0 1 106.65,389.77 L100.90,399.73 A11.4,11.4 0 0 0 99.10,398.89 Z" fill="#a00006" stroke="#4a4a4a" stroke-width="0.35"/>
<path d="M131.75,346.29 A73.1,73.1 0 0 1 142.19,353.60 L134.15,363.18 A60.6,60.6 0 0 0 125.50,357.12 Z" fill="#feebd8" stroke="#4a4a4a" stroke-width="0.35"/>
<path d="M125.50,357.12 A60.6,60.6 0 0 1 134.15,363.18 L126.05,372.83 A48.0,48.0 0 0 0 119.20,368.03 Z" fill="#fc9466" stroke="#4a4a4a" stroke-width="0.35"/>
<path d="M119.20,368.03 A48.0,48.0 0 0 1 126.05,372.83 L117.95,382.48 A35.4,35.4 0 0 0 112.90,378.94 Z" fill="#fff7ee" stroke="#4a4a4a" stroke-width="0.35"/>
<path d="M112.90,378.94 A35.4,35.4 0 0 1 117.95,382.48 L109.92,392.06 A22.9,22.9 0 0 0 106.65,389.77 Z" fill="#a00006" stroke="#4a4a4a" stroke-width="0.35"/>
<path d="M106.65,389.77 A22.9,22.9 0 0 1 109.92,392.06 L102.53,400.87 A11.4,11.4 0 0 0 100.90,399.73 Z" fill="#a00006" stroke="#4a4a4a" stroke-width="0.35"/>
<path d="M142.19,353.60 A73.1,73.1 0 0 1 151.20,362.61 L141.62,370.65 A60.6,60.6 0 0 0 134.15,363.18 Z" fill="#feebd8" stroke="#4a4a4a" stroke-width="0.35"/>
<path d="M134.15,363.18 A60.6,60.6 0 0 1 141.62,370.65 L131.97,378.75 A48.0,48.0 0 0 0 126.05,372.83 Z" fill="#fdd3a6" stroke="#4a4a4a" stroke-width="0.35"/>
<path d="M126.05,372.83 A48.0,48.0 0 0 1 131.97,378.75 L122.32,386.85 A35.4,35.4 0 0 0 117.95,382.48 Z" fill="#fc9466" stroke="#4a4a4a" stroke-width="0.35"/>
<path d="M117.95,382.48 A35.4,35.4 0 0 1 122.32,386.85 L112.74,394.88 A22.9,22.9 0 0 0 109.92,392.06 Z" fill="#a00006" stroke="#4a4a4a" stroke-width="0.35"/>
<path d="M109.92,392.06 A22.9,22.9 0 0 1 112.74,394.88 L103.93,402.27 A11.4,11.4 0 0 0 102.53,400.87 Z" fill="#6e0000" stroke="#4a4a4a" stroke-width="0.35"/>
<path d="M151.20,362.61 A73.1,73.1 0 0 1 158.51,373.05 L147.68,379.30 A60.6,60.6 0 0 0 141.62,370.65 Z" fill="#feebd8" stroke="#4a4a4a" stroke-width="0.35"/>
<path d="M141.62,370.65 A60.6,60.6 0 0 1 147.68,379.30 L136.77,385.60 A48.0,48.0 0 0 0 131.97,378.75 Z" fill="#feebd8" stroke="#4a4a4a" stroke-width="0.35"/>
<path d="M131.97,378.75 A48.0,48.0 0 0 1 136.77,385.60 L125.86,391.90 A35.4,35.4 0 0 0 122.32,386.85 Z" fill="#fdb889" stroke="#4a4a4a" stroke-width="0.35"/>
<path d="M122.32,386.85 A35.4,35.4 0 0 1 125.86,391.90 L115.03,398.15 A22.9,22.9 0 0 0 112.74,394.88 Z" fill="#c90a0b" stroke="#4a4a4a" stroke-width="0.35"/>
<path d="M112.74,394.88 A22.9,22.9 0 0 1 115.03,398.15 L105.07,403.90 A11.4,11.4 0 0 0 103.93,402.27 Z" fill="#a00006" stroke="#4a4a4a" stroke-width="0.35"/>
<path d="M158.51,373.05 A73.1,73.1 0 0 1 163.89,384.60 L152.15,388.87 A60.6,60.6 0 0 0 147.68,379.30 Z" fill="#feebd8" stroke="#4a4a4a" stroke-width="0.35"/>
<path d="M147.68,379.30 A60.6,60.6 0 0 1 152.15,388.87 L140.31,393.18 A48.0,48.0 0 0 0 136.77,385.60 Z" fill="#fdd3a6" stroke="#4a4a4a" stroke-width="0.35"/>
<path d="M136.77,385.60 A48.0,48.0 0 0 1 140.31,393.18 L128.47,397.49 A35.4,35.4 0 0 0 125.86,391.90 Z" fill="#c90a0b" stroke="#4a4a4a" stroke-width="0.35"/>
<path d="M125.86,391.90 A35.4,35.4 0 0 1 128.47,397.49 L116.72,401.77 A22.9,22.9 0 0 0 115.03,398.15 Z" fill="#c90a0b" stroke="#4a4a4a" stroke-width="0.35"/>
<path d="M115.03,398.15 A22.9,22.9 0 0 1 116.72,401.77 L105.91,405.70 A11.4,11.4 0 0 0 105.07,403.90 Z" fill="#a00006" stroke="#4a4a4a" stroke-width="0.35"/>
<path d="M163.89,384.60 A73.1,73.1 0 0 1 167.19,396.91 L154.88,399.08 A60.6,60.6 0 0 0 152.15,388.87 Z" fill="#fc9466" stroke="#4a4a4a" stroke-width="0.35"/>
<path d="M152.15,388.87 A60.6,60.6 0 0 1 154.88,399.08 L142.47,401.26 A48.0,48.0 0 0 0 140.31,393.18 Z" fill="#feebd8" stroke="#4a4a4a" stroke-width="0.35"/>
<path d="M140.31,393.18 A48.0,48.0 0 0 1 142.47,401.26 L130.06,403.45 A35.4,35.4 0 0 0 128.47,397.49 Z" fill="#f6603f" stroke="#4a4a4a" stroke-width="0.35"/>
<path d="M128.47,397.49 A35.4,35.4 0 0 1 130.06,403.45 L117.75,405.62 A22.9,22.9 0 0 0 116.72,401.77 Z" fill="#e6271c" stroke="#4a4a4a" stroke-width="0.35"/>
<path d="M116.72,401.77 A22.9,22.9 0 0 1 117.75,405.62 L106.43,407.62 A11.4,11.4 0 0 0 105.91,405.70 Z" fill="#a00006" stroke="#4a4a4a" stroke-width="0.35"/>
<path d="M167.19,396.91 A73.1,73.1 0 0 1 168.30,409.60 L155.80,409.60 A60.6,60.6 0 0 0 154.88,399.08 Z" fill="#feebd8" stroke="#4a4a4a" stroke-width="0.35"/>
<path d="M154.88,399.08 A60.6,60.6 0 0 1 155.80,409.60 L143.20,409.60 A48.0,48.0 0 0 0 142.47,401.26 Z" fill="#fdb889" stroke="#4a4a4a" stroke-width="0.35"/>
<path d="M142.47,401.26 A48.0,48.0 0 0 1 143.20,409.60 L130.60,409.60 A35.4,35.4 0 0 0 130.06,403.45 Z" fill="#fff7ee" stroke="#4a4a4a" stroke-width="0.35"/>
<path d="M130.06,403.45 A35.4,35.4 0 0 1 130.60,409.60 L118.10,409.60 A22.9,22.9 0 0 0 117.75,405.62 Z" fill="#c90a0b" stroke="#4a4a4a" stroke-width="0.35"/>
<path d="M117.75,405.62 A22.9,22.9 0 0 1 118.10,409.60 L106.60,409.60 A11.4,11.4 0 0 0 106.43,407.62 Z" fill="#c90a0b" stroke="#4a4a4a" stroke-width="0.35"/>
<path d="M168.30,409.60 A73.1,73.1 0 0 1 167.19,422.29 L154.88,420.12 A60.6,60.6 0 0 0 155.80,409.60 Z" fill="#fdb889" stroke="#4a4a4a" stroke-width="0.35"/>
<path d="M155.80,409.60 A60.6,60.6 0 0 1 154.88,420.12 L142.47,417.94 A48.0,48.0 0 0 0 143.20,409.60 Z" fill="#fdb889" stroke="#4a4a4a" stroke-width="0.35"/>
<path d="M143.20,409.60 A48.0,48.0 0 0 1 142.47,417.94 L130.06,415.75 A35.4,35.4 0 0 0 130.60,409.60 Z" fill="#a00006" stroke="#4a4a4a" stroke-width="0.35"/>
<path d="M130.60,409.60 A35.4,35.4 0 0 1 130.06,415.75 L117.75,413.58 A22.9,22.9 0 0 0 118.10,409.60 Z" fill="#c90a0b" stroke="#4a4a4a" stroke-width="0.35"/>
<path d="M118.10,409.60 A22.9,22.9 0 0 1 117.75,413.58 L106.43,411.58 A11.4,11.4 0 0 0 106.60,409.60 Z" fill="#a00006" stroke="#4a4a4a" stroke-width="0.35"/>
<path d="M167.19,422.29 A73.1,73.1 0 0 1 163.89,434.60 L152.15,430.33 A60.6,60.6 0 0 0 154.88,420.12 Z" fill="#feebd8" stroke="#4a4a4a" stroke-width="0.35"/>
<path d="M154.88,420.12 A60.6,60.6 0 0 1 152.15,430.33 L140.31,426.02 A48.0,48.0 0 0 0 142.47,417.94 Z" fill="#feebd8" stroke="#4a4a4a" stroke-width="0.35"/>
<path d="M142.47,417.94 A48.0,48.0 0 0 1 140.31,426.02 L128.47,421.71 A35.4,35.4 0 0 0 130.06,415.75 Z" fill="#fdb889" stroke="#4a4a4a" stroke-width="0.35"/>
<path d="M130.06,415.75 A35.4,35.4 0 0 1 128.47,421.71 L116.72,417.43 A22.9,22.9 0 0 0 117.75,413.58 Z" fill="#e6271c" stroke="#4a4a4a" stroke-width="0.35"/>
<path d="M117.75,413.58 A22.9,22.9 0 0 1 116.72,417.43 L105.91,413.50 A11.4,11.4 0 0 0 106.43,411.58 Z" fill="#a00006" stroke="#4a4a4a" stroke-width="0.35"/>
<path d="M163.89,434.60 A73.1,73.1 0 0 1 158.51,446.15 L147.68,439.90 A60.6,60.6 0 0 0 152.15,430.33 Z" fill="#feebd8" stroke="#4a4a4a" stroke-width="0.35"/>
<path d="M152.15,430.33 A60.6,60.6 0 0 1 147.68,439.90 L136.77,433.60 A48.0,48.0 0 0 0 140.31,426.02 Z" fill="#feebd8" stroke="#4a4a4a" stroke-width="0.35"/>
<path d="M140.31,426.02 A48.0,48.0 0 0 1 136.77,433.60 L125.86,427.30 A35.4,35.4 0 0 0 128.47,421.71 Z" fill="#fdb889" stroke="#4a4a4a" stroke-width="0.35"/>
<path d="M128.47,421.71 A35.4,35.4 0 0 1 125.86,427.30 L115.03,421.05 A22.9,22.9 0 0 0 116.72,417.43 Z" fill="#e6271c" stroke="#4a4a4a" stroke-width="0.35"/>
<path d="M116.72,417.43 A22.9,22.9 0 0 1 115.03,421.05 L105.07,415.30 A11.4,11.4 0 0 0 105.91,413.50 Z" fill="#a00006" stroke="#4a4a4a" stroke-width="0.35"/>
<path d="M158.51,446.15 A73.1,73.1 0 0 1 151.20,456.59 L141.62,448.55 A60.6,60.6 0 0 0 147.68,439.90 Z" fill="#feebd8" stroke="#4a4a4a" stroke-width="0.35"/>
<path d="M147.68,439.90 A60.6,60.6 0 0 1 141.62,448.55 L131.97,440.45 A48.0,48.0 0 0 0 136.77,433.60 Z" fill="#fdd3a6" stroke="#4a4a4a" stroke-width="0.35"/>
<path d="M136.77,433.60 A48.0,48.0 0 0 1 131.97,440.45 L122.32,432.35 A35.4,35.4 0 0 0 125.86,427.30 Z" fill="#fc9466" stroke="#4a4a4a" stroke-width="0.35"/>
<path d="M125.86,427.30 A35.4,35.4 0 0 1 122.32,432.35 L112.74,424.32 A22.9,22.9 0 0 0 115.03,421.05 Z" fill="#f6603f" stroke="#4a4a4a" stroke-width="0.35"/>
<path d="M115.03,421.05 A22.9,22.9 0 0 1 112.74,424.32 L103.93,416.93 A11.4,11.4 0 0 0 105.07,415.30 Z" fill="#6e0000" stroke="#4a4a4a" stroke-width="0.35"/>
<path d="M151.20,456.59 A73.1,73.1 0 0 1 142.19,465.60 L134.15,456.02 A60.6,60.6 0 0 0 141.62,448.55 Z" fill="#feebd8" stroke="#4a4a4a" stroke-width="0.35"/>
<path d="M141.62,448.55 A60.6,60.6 0 0 1 134.15,456.02 L126.05,446.37 A48.0,48.0 0 0 0 131.97,440.45 Z" fill="#fdb889" stroke="#4a4a4a" stroke-width="0.35"/>
<path d="M131.97,440.45 A48.0,48.0 0 0 1 126.05,446.37 L117.95,436.72 A35.4,35.4 0 0 0 122.32,432.35 Z" fill="#fdb889" stroke="#4a4a4a" stroke-width="0.35"/>
<path d="M122.32,432.35 A35.4,35.4 0 0 1 117.95,436.72 L109.92,427.14 A22.9,22.9 0 0 0 112.74,424.32 Z" fill="#c90a0b" stroke="#4a4a4a" stroke-width="0.35"/>
<path d="M112.74,424.32 A22.9,22.9 0 0 1 109.92,427.14 L102.53,418.33 A11.4,11.4 0 0 0 103.93,416.93 Z" fill="#a00006" stroke="#4a4a4a" stroke-width="0.35"/>
<path d="M142.19,465.60 A73.1,73.1 0 0 1 131.75,472.91 L125.50,462.08 A60.6,60.6 0 0 0 134.15,456.02 Z" fill="#fdb889" stroke="#4a4a4a" stroke-width="0.35"/>
<path d="M134.15,456.02 A60.6,60.6 0 0 1 125.50,462.08 L119.20,451.17 A48.0,48.0 0 0 0 126.05,446.37 Z" fill="#fdd3a6" stroke="#4a4a4a" stroke-width="0.35"/>
<path d="M126.05,446.37 A48.0,48.0 0 0 1 119.20,451.17 L112.90,440.26 A35.4,35.4 0 0 0 117.95,436.72 Z" fill="#fdb889" stroke="#4a4a4a" stroke-width="0.35"/>
<path d="M117.95,436.72 A35.4,35.4 0 0 1 112.90,440.26 L106.65,429.43 A22.9,22.9 0 0 0 109.92,427.14 Z" fill="#e6271c" stroke="#4a4a4a" stroke-width="0.35"/>
<path d="M109.92,427.14 A22.9,22.9 0 0 1 106.65,429.43 L100.90,419.47 A11.4,11.4 0 0 0 102.53,418.33 Z" fill="#a00006" stroke="#4a4a4a" stroke-width="0.35"/>
<path d="M131.75,472.91 A73.1,73.1 0 0 1 120.20,478.29 L115.93,466.55 A60.6,60.6 0 0 0 125.50,462.08 Z" fill="#feebd8" stroke="#4a4a4a" stroke-width="0.35"/>
<path d="M125.50,462.08 A60.6,60.6 0 0 1 115.93,466.55 L111.62,454.71 A48.0,48.0 0 0 0 119.20,451.17 Z" fill="#feebd8" stroke="#4a4a4a" stroke-width="0.35"/>
<path d="M119.20,451.17 A48.0,48.0 0 0 1 111.62,454.71 L107.31,442.87 A35.4,35.4 0 0 0 112.90,440.26 Z" fill="#f6603f" stroke="#4a4a4a" stroke-width="0.35"/>
<path d="M112.90,440.26 A35.4,35.4 0 0 1 107.31,442.87 L103.03,431.12 A22.9,22.9 0 0 0 106.65,429.43 Z" fill="#c90a0b" stroke="#4a4a4a" stroke-width="0.35"/>
<path d="M106.65,429.43 A22.9,22.9 0 0 1 103.03,431.12 L99.10,420.31 A11.4,11.4 0 0 0 100.90,419.47 Z" fill="#c90a0b" stroke="#4a4a4a" stroke-width="0.35"/>
<path d="M120.20,478.29 A73.1,73.1 0 0 1 107.89,481.59 L105.72,469.28 A60.6,60.6 0 0 0 115.93,466.55 Z" fill="#fdd3a6" stroke="#4a4a4a" stroke-width="0.35"/>
<path d="M115.93,466.55 A60.6,60.6 0 0 1 105.72,469.28 L103.54,456.87 A48.0,48.0 0 0 0 111.62,454.71 Z" fill="#feebd8" stroke="#4a4a4a" stroke-width="0.35"/>
<path d="M111.62,454.71 A48.0,48.0 0 0 1 103.54,456.87 L101.35,444.46 A35.4,35.4 0 0 0 107.31,442.87 Z" fill="#fff7ee" stroke="#4a4a4a" stroke-width="0.35"/>
<path d="M107.31,442.87 A35.4,35.4 0 0 1 101.35,444.46 L99.18,432.15 A22.9,22.9 0 0 0 103.03,431.12 Z" fill="#fff7ee" stroke="#4a4a4a" stroke-width="0.35"/>
<path d="M103.03,431.12 A22.9,22.9 0 0 1 99.18,432.15 L97.18,420.83 A11.4,11.4 0 0 0 99.10,420.31 Z" fill="#c90a0b" stroke="#4a4a4a" stroke-width="0.35"/>
<path d="M86.47,402.27 A11.4,11.4 0 1 1 97.18,420.83" fill="none" stroke="#9a9a9a" stroke-width="1.0"/>
<path d="M77.66,394.88 A22.9,22.9 0 1 1 99.18,432.15" fill="none" stroke="#9a9a9a" stroke-width="1.0"/>
<path d="M68.08,386.85 A35.4,35.4 0 1 1 101.35,444.46" fill="none" stroke="#9a9a9a" stroke-width="1.0"/>
<path d="M58.43,378.75 A48.0,48.0 0 1 1 103.54,456.87" fill="none" stroke="#9a9a9a" stroke-width="1.0"/>
<path d="M48.78,370.65 A60.6,60.6 0 1 1 105.72,469.28" fill="none" stroke="#9a9a9a" stroke-width="1.0"/>
<path d="M39.20,362.61 A73.1,73.1 0 1 1 107.89,481.59" fill="none" stroke="#9a9a9a" stroke-width="1.0"/>
<line x1="86.47" y1="402.27" x2="39.20" y2="362.61" stroke="#555" stroke-width="0.5"/>
<line x1="97.18" y1="420.83" x2="107.89" y2="481.59" stroke="#555" stroke-width="0.5"/>
<path d="M34.45,358.63 A79.3,79.3 0 0 1 37.02,355.72" fill="none" stroke="#a00010" stroke-width="2.8"/>
<path d="M36.73,356.03 A79.3,79.3 0 0 1 39.42,353.23" fill="none" stroke="#a00010" stroke-width="2.8"/>
<path d="M39.13,353.53 A79.3,79.3 0 0 1 41.93,350.85" fill="none" stroke="#a00010" stroke-width="2.8"/>
<path d="M41.63,351.13 A79.3,79.3 0 0 1 44.55,348.59" fill="none" stroke="#a00010" stroke-width="2.8"/>
<path d="M44.23,348.85 A79.3,79.3 0 0 1 47.26,346.44" fill="none" stroke="#ee2b1e" stroke-width="2.8"/>
<path d="M46.93,346.69 A79.3,79.3 0 0 1 50.06,344.40" fill="none" stroke="#ee2c1f" stroke-width="2.8"/>
<path d="M49.72,344.64 A79.3,79.3 0 0 1 52.94,342.50" fill="none" stroke="#ee2d1f" stroke-width="2.8"/>
<path d="M52.59,342.72 A79.3,79.3 0 0 1 55.91,340.72" fill="none" stroke="#ef2e20" stroke-width="2.8"/>
<path d="M55.55,340.92 A79.3,79.3 0 0 1 58.95,339.07" fill="none" stroke="#ef2f21" stroke-width="2.8"/>
<path d="M58.58,339.26 A79.3,79.3 0 0 1 62.06,337.56" fill="none" stroke="#ef3021" stroke-width="2.8"/>
<path d="M61.69,337.73 A79.3,79.3 0 0 1 65.24,336.18" fill="none" stroke="#ef3222" stroke-width="2.8"/>
<path d="M64.85,336.34 A79.3,79.3 0 0 1 68.47,334.94" fill="none" stroke="#ef3322" stroke-width="2.8"/>
<path d="M68.08,335.08 A79.3,79.3 0 0 1 71.75,333.85" fill="none" stroke="#ef3423" stroke-width="2.8"/>
<path d="M71.35,333.97 A79.3,79.3 0 0 1 75.08,332.90" fill="none" stroke="#ef3524" stroke-width="2.8"/>
<path d="M74.68,333.00 A79.3,79.3 0 0 1 78.44,332.09" fill="none" stroke="#f03624" stroke-width="2.8"/>
<path d="M78.04,332.18 A79.3,79.3 0 0 1 81.84,331.43" fill="none" stroke="#f03825" stroke-width="2.8"/>
<path d="M81.43,331.50 A79.3,79.3 0 0 1 85.26,330.93" fill="none" stroke="#f03925" stroke-width="2.8"/>
<path d="M84.85,330.98 A79.3,79.3 0 0 1 88.70,330.57" fill="none" stroke="#f03a26" stroke-width="2.8"/>
<path d="M88.29,330.60 A79.3,79.3 0 0 1 92.16,330.36" fill="none" stroke="#f03c27" stroke-width="2.8"/>
<path d="M91.74,330.38 A79.3,79.3 0 0 1 95.62,330.30" fill="none" stroke="#f03d28" stroke-width="2.8"/>
<path d="M95.20,330.30 A79.3,79.3 0 0 1 99.07,330.39" fill="none" stroke="#f13f29" stroke-width="2.8"/>
<path d="M98.66,330.38 A79.3,79.3 0 0 1 102.52,330.64" fill="none" stroke="#f1412a" stroke-width="2.8"/>
<path d="M102.11,330.60 A79.3,79.3 0 0 1 105.96,331.03" fill="none" stroke="#f1432c" stroke-width="2.8"/>
<path d="M105.55,330.98 A79.3,79.3 0 0 1 109.38,331.58" fill="none" stroke="#f1452d" stroke-width="2.8"/>
<path d="M108.97,331.50 A79.3,79.3 0 0 1 112.77,332.27" fill="none" stroke="#f2472e" stroke-width="2.8"/>
<path d="M112.36,332.18 A79.3,79.3 0 0 1 116.13,333.11" fill="none" stroke="#f2482f" stroke-width="2.8"/>
<path d="M115.72,333.00 A79.3,79.3 0 0 1 119.44,334.10" fill="none" stroke="#f24a30" stroke-width="2.8"/>
<path d="M119.05,333.97 A79.3,79.3 0 0 1 122.71,335.23" fill="none" stroke="#f24c31" stroke-width="2.8"/>
<path d="M122.32,335.08 A79.3,79.3 0 0 1 125.93,336.50" fill="none" stroke="#f24e32" stroke-width="2.8"/>
<path d="M125.55,336.34 A79.3,79.3 0 0 1 129.09,337.91" fill="none" stroke="#f35034" stroke-width="2.8"/>
<path d="M128.71,337.73 A79.3,79.3 0 0 1 132.18,339.45" fill="none" stroke="#f35135" stroke-width="2.8"/>
<path d="M131.82,339.26 A79.3,79.3 0 0 1 135.21,341.13" fill="none" stroke="#f35336" stroke-width="2.8"/>
<path d="M134.85,340.92 A79.3,79.3 0 0 1 138.16,342.94" fill="none" stroke="#f35537" stroke-width="2.8"/>
<path d="M137.81,342.72 A79.3,79.3 0 0 1 141.02,344.88" fill="none" stroke="#f45738" stroke-width="2.8"/>
<path d="M140.68,344.64 A79.3,79.3 0 0 1 143.80,346.94" fill="none" stroke="#f45939" stroke-width="2.8"/>
<path d="M143.47,346.69 A79.3,79.3 0 0 1 146.49,349.12" fill="none" stroke="#f45b3b" stroke-width="2.8"/>
<path d="M146.17,348.85 A79.3,79.3 0 0 1 149.08,351.42" fill="none" stroke="#f45e3d" stroke-width="2.8"/>
<path d="M148.77,351.13 A79.3,79.3 0 0 1 151.57,353.82" fill="none" stroke="#f5613f" stroke-width="2.8"/>
<path d="M151.27,353.53 A79.3,79.3 0 0 1 153.95,356.33" fill="none" stroke="#f56442" stroke-width="2.8"/>
<path d="M153.67,356.03 A79.3,79.3 0 0 1 156.21,358.95" fill="none" stroke="#f66744" stroke-width="2.8"/>
<path d="M155.95,358.63 A79.3,79.3 0 0 1 158.36,361.66" fill="none" stroke="#f66a46" stroke-width="2.8"/>
<path d="M158.11,361.33 A79.3,79.3 0 0 1 160.40,364.46" fill="none" stroke="#f66d48" stroke-width="2.8"/>
<path d="M160.16,364.12 A79.3,79.3 0 0 1 162.30,367.34" fill="none" stroke="#f7704b" stroke-width="2.8"/>
<path d="M162.08,366.99 A79.3,79.3 0 0 1 164.08,370.31" fill="none" stroke="#f7734d" stroke-width="2.8"/>
<path d="M163.88,369.95 A79.3,79.3 0 0 1 165.73,373.35" fill="none" stroke="#f8764f" stroke-width="2.8"/>
<path d="M165.54,372.98 A79.3,79.3 0 0 1 167.24,376.46" fill="none" stroke="#f87951" stroke-width="2.8"/>
<path d="M167.07,376.09 A79.3,79.3 0 0 1 168.62,379.64" fill="none" stroke="#f87c54" stroke-width="2.8"/>
<path d="M168.46,379.25 A79.3,79.3 0 0 1 169.86,382.87" fill="none" stroke="#f97f56" stroke-width="2.8"/>
<path d="M169.72,382.48 A79.3,79.3 0 0 1 170.95,386.15" fill="none" stroke="#f98258" stroke-width="2.8"/>
<path d="M170.83,385.75 A79.3,79.3 0 0 1 171.90,389.48" fill="none" stroke="#f9855a" stroke-width="2.8"/>
<path d="M171.80,389.08 A79.3,79.3 0 0 1 172.71,392.84" fill="none" stroke="#fa885d" stroke-width="2.8"/>
<path d="M172.62,392.44 A79.3,79.3 0 0 1 173.37,396.24" fill="none" stroke="#fa8b5f" stroke-width="2.8"/>
<path d="M173.30,395.83 A79.3,79.3 0 0 1 173.87,399.66" fill="none" stroke="#fb8e61" stroke-width="2.8"/>
<path d="M173.82,399.25 A79.3,79.3 0 0 1 174.23,403.10" fill="none" stroke="#fb9164" stroke-width="2.8"/>
<path d="M174.20,402.69 A79.3,79.3 0 0 1 174.44,406.56" fill="none" stroke="#fb9466" stroke-width="2.8"/>
<path d="M174.42,406.14 A79.3,79.3 0 0 1 174.50,410.02" fill="none" stroke="#fc9868" stroke-width="2.8"/>
<path d="M174.50,409.60 A79.3,79.3 0 0 1 174.41,413.47" fill="none" stroke="#fc9b6b" stroke-width="2.8"/>
<path d="M174.42,413.06 A79.3,79.3 0 0 1 174.16,416.92" fill="none" stroke="#fc9e6f" stroke-width="2.8"/>
<path d="M174.20,416.51 A79.3,79.3 0 0 1 173.77,420.36" fill="none" stroke="#fca173" stroke-width="2.8"/>
<path d="M173.82,419.95 A79.3,79.3 0 0 1 173.22,423.78" fill="none" stroke="#fca477" stroke-width="2.8"/>
<path d="M173.30,423.37 A79.3,79.3 0 0 1 172.53,427.17" fill="none" stroke="#fca87b" stroke-width="2.8"/>
<path d="M172.62,426.76 A79.3,79.3 0 0 1 171.69,430.53" fill="none" stroke="#fcab7f" stroke-width="2.8"/>
<path d="M171.80,430.12 A79.3,79.3 0 0 1 170.70,433.84" fill="none" stroke="#fcae83" stroke-width="2.8"/>
<path d="M170.83,433.45 A79.3,79.3 0 0 1 169.57,437.11" fill="none" stroke="#fdb188" stroke-width="2.8"/>
<path d="M169.72,436.72 A79.3,79.3 0 0 1 168.30,440.33" fill="none" stroke="#fdb58c" stroke-width="2.8"/>
<path d="M168.46,439.95 A79.3,79.3 0 0 1 166.89,443.49" fill="none" stroke="#fdb890" stroke-width="2.8"/>
<path d="M167.07,443.11 A79.3,79.3 0 0 1 165.35,446.58" fill="none" stroke="#fdbb94" stroke-width="2.8"/>
<path d="M165.54,446.22 A79.3,79.3 0 0 1 163.67,449.61" fill="none" stroke="#fdbf98" stroke-width="2.8"/>
<path d="M163.88,449.25 A79.3,79.3 0 0 1 161.86,452.56" fill="none" stroke="#fdc29c" stroke-width="2.8"/>
<path d="M162.08,452.21 A79.3,79.3 0 0 1 159.92,455.42" fill="none" stroke="#fdc5a0" stroke-width="2.8"/>
<path d="M160.16,455.08 A79.3,79.3 0 0 1 157.86,458.20" fill="none" stroke="#fdc8a4" stroke-width="2.8"/>
<path d="M158.11,457.87 A79.3,79.3 0 0 1 155.68,460.89" fill="none" stroke="#fdcaa8" stroke-width="2.8"/>
<path d="M155.95,460.57 A79.3,79.3 0 0 1 153.38,463.48" fill="none" stroke="#fdccab" stroke-width="2.8"/>
<path d="M153.67,463.17 A79.3,79.3 0 0 1 150.98,465.97" fill="none" stroke="#fdceae" stroke-width="2.8"/>
<path d="M151.27,465.67 A79.3,79.3 0 0 1 148.47,468.35" fill="none" stroke="#fdd0b1" stroke-width="2.8"/>
<path d="M148.77,468.07 A79.3,79.3 0 0 1 145.85,470.61" fill="none" stroke="#fdd2b4" stroke-width="2.8"/>
<path d="M146.17,470.35 A79.3,79.3 0 0 1 143.14,472.76" fill="none" stroke="#fdd4b7" stroke-width="2.8"/>
<path d="M143.47,472.51 A79.3,79.3 0 0 1 140.34,474.80" fill="none" stroke="#fdd6bb" stroke-width="2.8"/>
<path d="M140.68,474.56 A79.3,79.3 0 0 1 137.46,476.70" fill="none" stroke="#fdd8be" stroke-width="2.8"/>
<path d="M137.81,476.48 A79.3,79.3 0 0 1 134.49,478.48" fill="none" stroke="#fedac1" stroke-width="2.8"/>
<path d="M134.85,478.28 A79.3,79.3 0 0 1 131.45,480.13" fill="none" stroke="#fedcc4" stroke-width="2.8"/>
<path d="M131.82,479.94 A79.3,79.3 0 0 1 128.34,481.64" fill="none" stroke="#feddc7" stroke-width="2.8"/>
<path d="M128.71,481.47 A79.3,79.3 0 0 1 125.16,483.02" fill="none" stroke="#fedfca" stroke-width="2.8"/>
<path d="M125.55,482.86 A79.3,79.3 0 0 1 121.93,484.26" fill="none" stroke="#fee1ce" stroke-width="2.8"/>
<path d="M122.32,484.12 A79.3,79.3 0 0 1 118.65,485.35" fill="none" stroke="#fee3d1" stroke-width="2.8"/>
<path d="M119.05,485.23 A79.3,79.3 0 0 1 115.32,486.30" fill="none" stroke="#fee5d4" stroke-width="2.8"/>
<path d="M115.72,486.20 A79.3,79.3 0 0 1 111.96,487.11" fill="none" stroke="#fee7d7" stroke-width="2.8"/>
<path d="M112.36,487.02 A79.3,79.3 0 0 1 108.97,487.70" fill="none" stroke="#fee9da" stroke-width="2.8"/>
<text x="35.70" y="346.90" font-size="7.8" fill="#222" text-anchor="middle" dominant-baseline="central" transform="rotate(-45 35.70 346.90)" textLength="22.0" lengthAdjust="spacingAndGlyphs">hyper</text>
<text x="34.00" y="373.00" font-size="7.8" fill="#222" text-anchor="middle" dominant-baseline="central" transform="rotate(-45 34.00 373.00)" textLength="10.6" lengthAdjust="spacingAndGlyphs">CP</text>
<text x="44.00" y="381.80" font-size="7.8" fill="#222" text-anchor="middle" dominant-baseline="central" transform="rotate(-45 44.00 381.80)" textLength="10.4" lengthAdjust="spacingAndGlyphs">SP</text>
<text x="55.00" y="390.30" font-size="7.8" fill="#222" text-anchor="middle" dominant-baseline="central" transform="rotate(-45 55.00 390.30)" textLength="7.4" lengthAdjust="spacingAndGlyphs">IZ</text>
<text x="64.00" y="396.80" font-size="7.8" fill="#222" text-anchor="middle" dominant-baseline="central" transform="rotate(-45 64.00 396.80)" textLength="15.4" lengthAdjust="spacingAndGlyphs">SVZ</text>
<text x="73.70" y="403.60" font-size="7.8" fill="#222" text-anchor="middle" dominant-baseline="central" transform="rotate(-45 73.70 403.60)" textLength="10.6" lengthAdjust="spacingAndGlyphs">VZ</text>
<text x="117.20" y="491.40" font-size="7.8" fill="#222" text-anchor="middle" dominant-baseline="central" transform="rotate(-12 117.20 491.40)" textLength="19.0" lengthAdjust="spacingAndGlyphs">hypo</text>
<defs><linearGradient id="cbg170" x1="0" x2="1" y1="0" y2="0"><stop offset="0" stop-color="#fff2e2"/><stop offset="0.3" stop-color="#fdc68e"/><stop offset="0.6" stop-color="#f86a40"/><stop offset="0.8" stop-color="#d81010"/><stop offset="1" stop-color="#860000"/></linearGradient></defs>
<rect x="25.3" y="414.9" width="56.5" height="4.7000000000000455" fill="url(#cbg170)" stroke="#999" stroke-width="0.4"/>
<text x="48.60" y="427.80" font-size="8.0" text-anchor="middle" fill="#222" font-weight="normal">12</text>
<text x="80.10" y="427.80" font-size="8.0" text-anchor="middle" fill="#222" font-weight="normal">13</text>
<text x="53.30" y="435.60" font-size="5.6" text-anchor="middle" fill="#333" font-weight="normal">CUX1</text>
<text x="204.5" y="287.6" font-size="9.35" fill="#111"><tspan font-weight="bold">e</tspan> | glial and neuronal markers</text>
<text x="264.80" y="305.08" font-size="7.35" text-anchor="end" fill="#222" font-weight="normal">perirhinal</text>
<rect x="280.7" y="307.75" width="5" height="6.4" fill="#efe9f4"/>
<rect x="312.3" y="307.75" width="2.4" height="6.4" fill="#feefde"/>
<text x="264.80" y="313.45" font-size="7.35" text-anchor="end" fill="#222" font-weight="normal">parahippocampal</text>
<rect x="301.2" y="316.11" width="13.5" height="6.4" fill="#fde3c8"/>
<text x="264.80" y="321.81" font-size="7.35" text-anchor="end" fill="#222" font-weight="normal">midcingulate</text>
<rect x="280.7" y="324.47" width="13.5" height="6.4" fill="#e1ddee"/>
<rect x="307.1" y="324.47" width="7.6" height="6.4" fill="#fdd8b6"/>
<text x="264.80" y="330.17" font-size="7.35" text-anchor="end" fill="#222" font-weight="normal">frontal pole</text>
<rect x="280.7" y="332.84" width="4.4" height="6.4" fill="#d5d5ea"/>
<rect x="308.3" y="332.84" width="6.4" height="6.4" fill="#fdd1aa"/>
<text x="264.80" y="338.54" font-size="7.35" text-anchor="end" fill="#222" font-weight="normal">rostral cingulate</text>
<rect x="280.7" y="341.2" width="3" height="6.4" fill="#d0d4ea"/>
<rect x="303.2" y="341.2" width="11.5" height="6.4" fill="#fdc99c"/>
<text x="264.80" y="346.90" font-size="7.35" text-anchor="end" fill="#222" font-weight="normal">caudal cingulate</text>
<rect x="280.7" y="349.56" width="10.1" height="6.4" fill="#bccae2"/>
<rect x="303.6" y="349.56" width="11.1" height="6.4" fill="#fdc292"/>
<text x="264.80" y="355.26" font-size="7.35" text-anchor="end" fill="#222" font-weight="normal">orbitofrontal</text>
<rect x="280.7" y="357.93" width="5" height="6.4" fill="#a9bedd"/>
<rect x="314.7" y="357.93" width="7.3" height="6.4" fill="#fdb082"/>
<text x="264.80" y="363.63" font-size="7.35" text-anchor="end" fill="#222" font-weight="normal">ventrolateral temporal</text>
<text x="264.80" y="371.99" font-size="7.35" text-anchor="end" fill="#222" font-weight="normal">medial temporal-occipital</text>
<rect x="277.5" y="374.65" width="3.2" height="6.4" fill="#7aa9d0"/>
<rect x="310.3" y="374.65" width="4.4" height="6.4" fill="#fc9a6a"/>
<text x="264.80" y="380.35" font-size="7.35" text-anchor="end" fill="#222" font-weight="normal">primary visual</text>
<rect x="280.1" y="383.02" width="0.6" height="6.4" fill="#6aa4cf"/>
<rect x="314.7" y="383.02" width="4.6" height="6.4" fill="#fb8a5a"/>
<text x="264.80" y="388.72" font-size="7.35" text-anchor="end" fill="#222" font-weight="normal">extrastriate</text>
<rect x="280.7" y="391.38" width="10.4" height="6.4" fill="#5aa1cc"/>
<rect x="303.6" y="391.38" width="11.1" height="6.4" fill="#fa7b52"/>
<text x="264.80" y="397.08" font-size="7.35" text-anchor="end" fill="#222" font-weight="normal">dorsolateral pfc</text>
<rect x="280.7" y="399.75" width="6.8" height="6.4" fill="#5b9dcb"/>
<rect x="304.4" y="399.75" width="10.3" height="6.4" fill="#f77150"/>
<text x="264.80" y="405.45" font-size="7.35" text-anchor="end" fill="#222" font-weight="normal">ventrolateral pfc</text>
<text x="264.80" y="413.81" font-size="7.35" text-anchor="end" fill="#222" font-weight="normal">lateral temporal-occipital</text>
<text x="264.80" y="422.17" font-size="7.35" text-anchor="end" fill="#222" font-weight="normal">dysgranular insula</text>
<rect x="274.2" y="424.84" width="6.5" height="6.4" fill="#1d7cb8"/>
<rect x="314.7" y="424.84" width="4.3" height="6.4" fill="#f04a3a"/>
<text x="264.80" y="430.54" font-size="7.35" text-anchor="end" fill="#222" font-weight="normal">auditory</text>
<rect x="280.7" y="433.2" width="0.9" height="6.4" fill="#1777b2"/>
<rect x="314.7" y="433.2" width="9.3" height="6.4" fill="#e03829"/>
<text x="264.80" y="438.90" font-size="7.35" text-anchor="end" fill="#222" font-weight="normal">ventral parietal</text>
<rect x="275.2" y="441.56" width="5.5" height="6.4" fill="#1070a8"/>
<rect x="314.7" y="441.56" width="6" height="6.4" fill="#d82b21"/>
<text x="264.80" y="447.26" font-size="7.35" text-anchor="end" fill="#222" font-weight="normal">dorsolateral temporal</text>
<rect x="268.3" y="449.93" width="12.4" height="6.4" fill="#0f5d91"/>
<rect x="314.7" y="449.93" width="13.2" height="6.4" fill="#c81d1d"/>
<text x="264.80" y="455.63" font-size="7.35" text-anchor="end" fill="#222" font-weight="normal">dorsal parietal</text>
<rect x="269.9" y="458.29" width="10.8" height="6.4" fill="#0d5a89"/>
<rect x="314.7" y="458.29" width="13.2" height="6.4" fill="#b81418"/>
<text x="264.80" y="463.99" font-size="7.35" text-anchor="end" fill="#222" font-weight="normal">motor</text>
<rect x="274.7" y="466.65" width="6" height="6.4" fill="#0b4b79"/>
<rect x="314.7" y="466.65" width="8.1" height="6.4" fill="#a81119"/>
<text x="264.80" y="472.35" font-size="7.35" text-anchor="end" fill="#222" font-weight="normal">sensory</text>
<rect x="267.8" y="475.02" width="12.9" height="6.4" fill="#083b60"/>
<rect x="314.7" y="475.02" width="12.7" height="6.4" fill="#8e0c14"/>
<text x="264.80" y="480.72" font-size="7.35" text-anchor="end" fill="#222" font-weight="normal">granular insula</text>
<rect x="266.6" y="298.4" width="29.2" height="184" fill="none" stroke="#777" stroke-width="0.7"/>
<line x1="280.7" y1="298.4" x2="280.7" y2="482.4" stroke="#555" stroke-width="0.6"/>
<rect x="299.8" y="298.4" width="29.7" height="184" fill="none" stroke="#777" stroke-width="0.7"/>
<line x1="314.7" y1="298.4" x2="314.7" y2="482.4" stroke="#555" stroke-width="0.6"/>
<line x1="273.4" y1="482.4" x2="273.4" y2="484.0" stroke="#777" stroke-width="0.5"/>
<text x="271.80" y="489.40" font-size="6.6" text-anchor="middle" fill="#222" font-weight="normal">−1</text>
<line x1="280.7" y1="482.4" x2="280.7" y2="484.0" stroke="#777" stroke-width="0.5"/>
<text x="280.70" y="489.40" font-size="6.6" text-anchor="middle" fill="#222" font-weight="normal">0</text>
<line x1="288.0" y1="482.4" x2="288.0" y2="484.0" stroke="#777" stroke-width="0.5"/>
<text x="288.00" y="489.40" font-size="6.6" text-anchor="middle" fill="#222" font-weight="normal">1</text>
<line x1="306.5" y1="482.4" x2="306.5" y2="484.0" stroke="#777" stroke-width="0.5"/>
<text x="304.90" y="489.40" font-size="6.6" text-anchor="middle" fill="#222" font-weight="normal">−1</text>
<line x1="314.7" y1="482.4" x2="314.7" y2="484.0" stroke="#777" stroke-width="0.5"/>
<text x="314.70" y="489.40" font-size="6.6" text-anchor="middle" fill="#222" font-weight="normal">0</text>
<line x1="322.9" y1="482.4" x2="322.9" y2="484.0" stroke="#777" stroke-width="0.5"/>
<text x="322.90" y="489.40" font-size="6.6" text-anchor="middle" fill="#222" font-weight="normal">1</text>
<text x="281.30" y="496.20" font-size="6.6" text-anchor="middle" fill="#222" font-weight="normal">MDK</text>
<text x="315.60" y="496.20" font-size="6.6" text-anchor="middle" fill="#222" font-weight="normal">CUX1</text>
<defs><filter id="soft" x="-5%" y="-5%" width="110%" height="110%"><feGaussianBlur stdDeviation="1.3"/></filter><filter id="sblur" x="-10%" y="-10%" width="120%" height="120%"><feGaussianBlur stdDeviation="0.7"/></filter><filter id="sulci" x="0" y="0" width="100%" height="100%" color-interpolation-filters="sRGB"><feTurbulence type="fractalNoise" baseFrequency="0.10 0.14" numOctaves="2" seed="11"/><feColorMatrix type="matrix" values="0 0 0 0 0.15  0 0 0 0 0.1  0 0 0 0 0.1  1 0 0 0 0"/><feComponentTransfer><feFuncA type="table" tableValues="0 0 0 0 0 0.1 0.03 0 0 0 0 0"/></feComponentTransfer></filter><radialGradient id="shade" cx="0.5" cy="0.45" r="0.6"><stop offset="0.7" stop-color="#000" stop-opacity="0"/><stop offset="1" stop-color="#000" stop-opacity="0.3"/></radialGradient></defs>
<text x="356.6" y="305.2" font-size="9.5" fill="#111"><tspan font-weight="bold">f</tspan> | correspondence between areal scaling and gene expression</text>
<defs><g id="slat">
<g fill="none" stroke="#fff" stroke-opacity="0.22" stroke-width="1.6" stroke-linecap="round" transform="translate(0.9,0.6)"><path d="M348.8,343.6 C350.1,342.3 353.5,338.1 356.4,335.9 C359.4,333.8 363.2,332.3 366.6,330.9 C370.0,329.5 373.9,328.2 376.8,327.5 C379.6,326.7 382.4,326.5 383.5,326.3 "/><path d="M347.1,353.7 C348.7,352.7 352.9,349.6 356.4,347.8 C360.0,346.0 364.6,343.8 368.3,342.7 C372.0,341.6 375.8,341.4 378.5,341.0 C381.1,340.6 383.4,340.3 384.4,340.2 "/><path d="M351.4,363.9 C353.0,363.0 358.1,360.1 361.5,358.8 C364.9,357.5 368.6,356.8 371.7,356.3 C374.8,355.7 378.7,355.6 380.1,355.4 "/><path d="M354.7,373.2 C356.4,372.8 361.8,371.3 364.9,370.7 C368.0,370.0 372.0,369.5 373.4,369.3 "/><path d="M390.3,319.9 C390.6,321.5 392.0,326.3 392.0,330.0 C392.0,333.7 390.9,338.2 390.3,341.9 C389.7,345.5 388.9,350.3 388.6,352.0 "/><path d="M398.8,315.6 C399.1,317.5 400.5,323.1 400.5,326.6 C400.5,330.2 399.5,333.4 398.8,336.8 C398.1,340.2 396.7,345.3 396.2,347.0 "/><path d="M407.2,314.8 C407.2,316.5 407.7,321.8 407.2,324.9 C406.8,328.0 405.5,330.9 404.7,333.4 C403.9,335.9 402.6,339.0 402.2,340.2 "/><path d="M415.7,319.0 C415.4,320.6 414.6,325.6 414.0,328.3 C413.4,331.0 412.6,334.0 412.3,335.1 "/><path d="M424.2,323.2 C423.9,324.7 423.2,329.2 422.5,331.7 C421.8,334.2 420.4,337.4 419.9,338.5 "/><path d="M386.9,358.8 C388.6,358.1 393.7,356.1 397.1,354.6 C400.5,353.0 403.9,351.2 407.2,349.5 C410.6,347.8 414.6,345.7 417.4,344.4 C420.2,343.1 423.0,342.3 424.2,341.9 "/><path d="M388.6,370.7 C390.6,369.7 396.5,366.7 400.5,364.7 C404.4,362.8 408.7,360.4 412.3,358.8 C416.0,357.3 419.7,356.5 422.5,355.4 C425.3,354.3 428.1,352.6 429.3,352.0 "/><path d="M390.3,380.0 C392.6,379.3 399.6,377.3 403.9,375.7 C408.1,374.2 412.3,372.2 415.7,370.7 C419.1,369.1 422.8,367.1 424.2,366.4 "/><path d="M403.9,343.6 C404.6,342.6 406.4,338.3 408.1,337.6 C409.8,336.9 412.9,337.9 414.0,339.3 C415.1,340.7 415.3,344.1 414.9,346.1 C414.4,348.1 412.0,350.3 411.5,351.2 "/><path d="M429.3,331.7 C430.1,332.7 432.6,335.7 434.3,337.6 C436.0,339.6 438.6,342.6 439.4,343.6 "/><path d="M434.3,348.6 C435.5,349.5 439.1,352.3 441.1,353.7 C443.1,355.1 445.3,356.5 446.2,357.1 "/><path d="M430.9,358.8 C432.1,359.4 435.7,361.3 437.7,362.2 C439.7,363.0 442.0,363.6 442.8,363.9 "/><path d="M361.5,324.1 C362.9,323.7 367.2,322.3 370.0,321.5 C372.8,320.8 377.0,320.1 378.5,319.9 "/><path d="M380.1,331.7 C380.4,333.1 381.3,337.6 381.8,340.2 C382.4,342.7 383.2,345.8 383.5,347.0 "/><path d="M356.4,326.6 C357.8,326.1 363.5,323.8 364.9,323.2 "/><path d="M349.7,362.2 C349.4,363.6 348.2,369.2 348.0,370.7 "/><path d="M434.3,324.9 C435.5,326.1 439.4,329.5 441.1,331.7 C442.8,334.0 443.9,337.4 444.5,338.5 "/><path d="M346.3,348.6 C347.7,347.5 351.6,343.8 354.7,341.9 C357.8,339.9 361.5,338.2 364.9,336.8 C368.3,335.4 373.4,334.0 375.1,333.4 "/><path d="M349.7,358.8 C351.4,357.8 356.4,354.4 359.8,352.9 C363.2,351.3 366.9,350.3 370.0,349.5 C373.1,348.6 377.0,348.1 378.5,347.8 "/><path d="M353.0,369.0 C354.7,368.3 359.8,365.9 363.2,364.7 C366.6,363.6 371.7,362.6 373.4,362.2 "/><path d="M359.8,376.6 C361.2,376.3 365.5,375.3 368.3,374.9 C371.1,374.5 375.3,374.2 376.8,374.0 "/><path d="M364.9,318.2 C366.3,317.9 370.3,316.9 373.4,316.5 C376.5,316.0 381.8,315.8 383.5,315.6 "/><path d="M394.5,314.8 C394.8,316.5 396.1,321.5 396.2,324.9 C396.3,328.3 395.5,331.7 395.0,335.1 C394.6,338.5 393.6,343.6 393.4,345.3 "/><path d="M403.0,318.2 C403.1,320.1 403.9,326.6 403.9,330.0 C403.8,333.4 402.7,337.1 402.5,338.5 "/><path d="M411.5,316.5 C411.6,318.2 412.3,323.5 412.0,326.6 C411.6,329.7 409.7,333.7 409.3,335.1 "/><path d="M419.9,319.9 C419.9,321.5 419.9,327.1 419.4,330.0 C419.0,333.0 417.5,336.4 417.1,337.6 "/><path d="M428.4,326.6 C428.2,328.0 427.9,332.6 427.2,335.1 C426.6,337.6 425.0,340.7 424.5,341.9 "/><path d="M390.3,363.9 C392.3,363.0 398.2,360.5 402.2,358.8 C406.1,357.1 410.3,355.1 414.0,353.7 C417.7,352.3 422.5,350.9 424.2,350.3 "/><path d="M393.7,384.2 C395.9,383.5 403.3,381.4 407.2,380.0 C411.2,378.6 415.7,376.4 417.4,375.7 "/><path d="M434.3,341.9 C435.2,342.7 437.7,345.5 439.4,347.0 C441.1,348.4 443.6,349.8 444.5,350.3 "/><path d="M441.1,338.5 C442.0,339.6 445.3,344.1 446.2,345.3 "/><path d="M424.2,358.8 C425.3,359.1 428.7,360.5 430.9,360.5 C433.2,360.5 436.6,359.1 437.7,358.8 "/></g>
<g fill="none" stroke="#2a1c1c" stroke-opacity="0.28" stroke-width="2.4" stroke-linecap="round" filter="url(#sblur)"><path d="M348.8,343.6 C350.1,342.3 353.5,338.1 356.4,335.9 C359.4,333.8 363.2,332.3 366.6,330.9 C370.0,329.5 373.9,328.2 376.8,327.5 C379.6,326.7 382.4,326.5 383.5,326.3 "/><path d="M347.1,353.7 C348.7,352.7 352.9,349.6 356.4,347.8 C360.0,346.0 364.6,343.8 368.3,342.7 C372.0,341.6 375.8,341.4 378.5,341.0 C381.1,340.6 383.4,340.3 384.4,340.2 "/><path d="M351.4,363.9 C353.0,363.0 358.1,360.1 361.5,358.8 C364.9,357.5 368.6,356.8 371.7,356.3 C374.8,355.7 378.7,355.6 380.1,355.4 "/><path d="M354.7,373.2 C356.4,372.8 361.8,371.3 364.9,370.7 C368.0,370.0 372.0,369.5 373.4,369.3 "/><path d="M390.3,319.9 C390.6,321.5 392.0,326.3 392.0,330.0 C392.0,333.7 390.9,338.2 390.3,341.9 C389.7,345.5 388.9,350.3 388.6,352.0 "/><path d="M398.8,315.6 C399.1,317.5 400.5,323.1 400.5,326.6 C400.5,330.2 399.5,333.4 398.8,336.8 C398.1,340.2 396.7,345.3 396.2,347.0 "/><path d="M407.2,314.8 C407.2,316.5 407.7,321.8 407.2,324.9 C406.8,328.0 405.5,330.9 404.7,333.4 C403.9,335.9 402.6,339.0 402.2,340.2 "/><path d="M415.7,319.0 C415.4,320.6 414.6,325.6 414.0,328.3 C413.4,331.0 412.6,334.0 412.3,335.1 "/><path d="M424.2,323.2 C423.9,324.7 423.2,329.2 422.5,331.7 C421.8,334.2 420.4,337.4 419.9,338.5 "/><path d="M386.9,358.8 C388.6,358.1 393.7,356.1 397.1,354.6 C400.5,353.0 403.9,351.2 407.2,349.5 C410.6,347.8 414.6,345.7 417.4,344.4 C420.2,343.1 423.0,342.3 424.2,341.9 "/><path d="M388.6,370.7 C390.6,369.7 396.5,366.7 400.5,364.7 C404.4,362.8 408.7,360.4 412.3,358.8 C416.0,357.3 419.7,356.5 422.5,355.4 C425.3,354.3 428.1,352.6 429.3,352.0 "/><path d="M390.3,380.0 C392.6,379.3 399.6,377.3 403.9,375.7 C408.1,374.2 412.3,372.2 415.7,370.7 C419.1,369.1 422.8,367.1 424.2,366.4 "/><path d="M403.9,343.6 C404.6,342.6 406.4,338.3 408.1,337.6 C409.8,336.9 412.9,337.9 414.0,339.3 C415.1,340.7 415.3,344.1 414.9,346.1 C414.4,348.1 412.0,350.3 411.5,351.2 "/><path d="M429.3,331.7 C430.1,332.7 432.6,335.7 434.3,337.6 C436.0,339.6 438.6,342.6 439.4,343.6 "/><path d="M434.3,348.6 C435.5,349.5 439.1,352.3 441.1,353.7 C443.1,355.1 445.3,356.5 446.2,357.1 "/><path d="M430.9,358.8 C432.1,359.4 435.7,361.3 437.7,362.2 C439.7,363.0 442.0,363.6 442.8,363.9 "/><path d="M361.5,324.1 C362.9,323.7 367.2,322.3 370.0,321.5 C372.8,320.8 377.0,320.1 378.5,319.9 "/><path d="M380.1,331.7 C380.4,333.1 381.3,337.6 381.8,340.2 C382.4,342.7 383.2,345.8 383.5,347.0 "/><path d="M356.4,326.6 C357.8,326.1 363.5,323.8 364.9,323.2 "/><path d="M349.7,362.2 C349.4,363.6 348.2,369.2 348.0,370.7 "/><path d="M434.3,324.9 C435.5,326.1 439.4,329.5 441.1,331.7 C442.8,334.0 443.9,337.4 444.5,338.5 "/><path d="M346.3,348.6 C347.7,347.5 351.6,343.8 354.7,341.9 C357.8,339.9 361.5,338.2 364.9,336.8 C368.3,335.4 373.4,334.0 375.1,333.4 "/><path d="M349.7,358.8 C351.4,357.8 356.4,354.4 359.8,352.9 C363.2,351.3 366.9,350.3 370.0,349.5 C373.1,348.6 377.0,348.1 378.5,347.8 "/><path d="M353.0,369.0 C354.7,368.3 359.8,365.9 363.2,364.7 C366.6,363.6 371.7,362.6 373.4,362.2 "/><path d="M359.8,376.6 C361.2,376.3 365.5,375.3 368.3,374.9 C371.1,374.5 375.3,374.2 376.8,374.0 "/><path d="M364.9,318.2 C366.3,317.9 370.3,316.9 373.4,316.5 C376.5,316.0 381.8,315.8 383.5,315.6 "/><path d="M394.5,314.8 C394.8,316.5 396.1,321.5 396.2,324.9 C396.3,328.3 395.5,331.7 395.0,335.1 C394.6,338.5 393.6,343.6 393.4,345.3 "/><path d="M403.0,318.2 C403.1,320.1 403.9,326.6 403.9,330.0 C403.8,333.4 402.7,337.1 402.5,338.5 "/><path d="M411.5,316.5 C411.6,318.2 412.3,323.5 412.0,326.6 C411.6,329.7 409.7,333.7 409.3,335.1 "/><path d="M419.9,319.9 C419.9,321.5 419.9,327.1 419.4,330.0 C419.0,333.0 417.5,336.4 417.1,337.6 "/><path d="M428.4,326.6 C428.2,328.0 427.9,332.6 427.2,335.1 C426.6,337.6 425.0,340.7 424.5,341.9 "/><path d="M390.3,363.9 C392.3,363.0 398.2,360.5 402.2,358.8 C406.1,357.1 410.3,355.1 414.0,353.7 C417.7,352.3 422.5,350.9 424.2,350.3 "/><path d="M393.7,384.2 C395.9,383.5 403.3,381.4 407.2,380.0 C411.2,378.6 415.7,376.4 417.4,375.7 "/><path d="M434.3,341.9 C435.2,342.7 437.7,345.5 439.4,347.0 C441.1,348.4 443.6,349.8 444.5,350.3 "/><path d="M441.1,338.5 C442.0,339.6 445.3,344.1 446.2,345.3 "/><path d="M424.2,358.8 C425.3,359.1 428.7,360.5 430.9,360.5 C433.2,360.5 436.6,359.1 437.7,358.8 "/></g>
<g fill="none" stroke="#2a1c1c" stroke-opacity="0.5" stroke-width="0.9" stroke-linecap="round"><path d="M348.8,343.6 C350.1,342.3 353.5,338.1 356.4,335.9 C359.4,333.8 363.2,332.3 366.6,330.9 C370.0,329.5 373.9,328.2 376.8,327.5 C379.6,326.7 382.4,326.5 383.5,326.3 "/><path d="M347.1,353.7 C348.7,352.7 352.9,349.6 356.4,347.8 C360.0,346.0 364.6,343.8 368.3,342.7 C372.0,341.6 375.8,341.4 378.5,341.0 C381.1,340.6 383.4,340.3 384.4,340.2 "/><path d="M351.4,363.9 C353.0,363.0 358.1,360.1 361.5,358.8 C364.9,357.5 368.6,356.8 371.7,356.3 C374.8,355.7 378.7,355.6 380.1,355.4 "/><path d="M354.7,373.2 C356.4,372.8 361.8,371.3 364.9,370.7 C368.0,370.0 372.0,369.5 373.4,369.3 "/><path d="M390.3,319.9 C390.6,321.5 392.0,326.3 392.0,330.0 C392.0,333.7 390.9,338.2 390.3,341.9 C389.7,345.5 388.9,350.3 388.6,352.0 "/><path d="M398.8,315.6 C399.1,317.5 400.5,323.1 400.5,326.6 C400.5,330.2 399.5,333.4 398.8,336.8 C398.1,340.2 396.7,345.3 396.2,347.0 "/><path d="M407.2,314.8 C407.2,316.5 407.7,321.8 407.2,324.9 C406.8,328.0 405.5,330.9 404.7,333.4 C403.9,335.9 402.6,339.0 402.2,340.2 "/><path d="M415.7,319.0 C415.4,320.6 414.6,325.6 414.0,328.3 C413.4,331.0 412.6,334.0 412.3,335.1 "/><path d="M424.2,323.2 C423.9,324.7 423.2,329.2 422.5,331.7 C421.8,334.2 420.4,337.4 419.9,338.5 "/><path d="M386.9,358.8 C388.6,358.1 393.7,356.1 397.1,354.6 C400.5,353.0 403.9,351.2 407.2,349.5 C410.6,347.8 414.6,345.7 417.4,344.4 C420.2,343.1 423.0,342.3 424.2,341.9 "/><path d="M388.6,370.7 C390.6,369.7 396.5,366.7 400.5,364.7 C404.4,362.8 408.7,360.4 412.3,358.8 C416.0,357.3 419.7,356.5 422.5,355.4 C425.3,354.3 428.1,352.6 429.3,352.0 "/><path d="M390.3,380.0 C392.6,379.3 399.6,377.3 403.9,375.7 C408.1,374.2 412.3,372.2 415.7,370.7 C419.1,369.1 422.8,367.1 424.2,366.4 "/><path d="M403.9,343.6 C404.6,342.6 406.4,338.3 408.1,337.6 C409.8,336.9 412.9,337.9 414.0,339.3 C415.1,340.7 415.3,344.1 414.9,346.1 C414.4,348.1 412.0,350.3 411.5,351.2 "/><path d="M429.3,331.7 C430.1,332.7 432.6,335.7 434.3,337.6 C436.0,339.6 438.6,342.6 439.4,343.6 "/><path d="M434.3,348.6 C435.5,349.5 439.1,352.3 441.1,353.7 C443.1,355.1 445.3,356.5 446.2,357.1 "/><path d="M430.9,358.8 C432.1,359.4 435.7,361.3 437.7,362.2 C439.7,363.0 442.0,363.6 442.8,363.9 "/><path d="M361.5,324.1 C362.9,323.7 367.2,322.3 370.0,321.5 C372.8,320.8 377.0,320.1 378.5,319.9 "/><path d="M380.1,331.7 C380.4,333.1 381.3,337.6 381.8,340.2 C382.4,342.7 383.2,345.8 383.5,347.0 "/><path d="M356.4,326.6 C357.8,326.1 363.5,323.8 364.9,323.2 "/><path d="M349.7,362.2 C349.4,363.6 348.2,369.2 348.0,370.7 "/><path d="M434.3,324.9 C435.5,326.1 439.4,329.5 441.1,331.7 C442.8,334.0 443.9,337.4 444.5,338.5 "/><path d="M346.3,348.6 C347.7,347.5 351.6,343.8 354.7,341.9 C357.8,339.9 361.5,338.2 364.9,336.8 C368.3,335.4 373.4,334.0 375.1,333.4 "/><path d="M349.7,358.8 C351.4,357.8 356.4,354.4 359.8,352.9 C363.2,351.3 366.9,350.3 370.0,349.5 C373.1,348.6 377.0,348.1 378.5,347.8 "/><path d="M353.0,369.0 C354.7,368.3 359.8,365.9 363.2,364.7 C366.6,363.6 371.7,362.6 373.4,362.2 "/><path d="M359.8,376.6 C361.2,376.3 365.5,375.3 368.3,374.9 C371.1,374.5 375.3,374.2 376.8,374.0 "/><path d="M364.9,318.2 C366.3,317.9 370.3,316.9 373.4,316.5 C376.5,316.0 381.8,315.8 383.5,315.6 "/><path d="M394.5,314.8 C394.8,316.5 396.1,321.5 396.2,324.9 C396.3,328.3 395.5,331.7 395.0,335.1 C394.6,338.5 393.6,343.6 393.4,345.3 "/><path d="M403.0,318.2 C403.1,320.1 403.9,326.6 403.9,330.0 C403.8,333.4 402.7,337.1 402.5,338.5 "/><path d="M411.5,316.5 C411.6,318.2 412.3,323.5 412.0,326.6 C411.6,329.7 409.7,333.7 409.3,335.1 "/><path d="M419.9,319.9 C419.9,321.5 419.9,327.1 419.4,330.0 C419.0,333.0 417.5,336.4 417.1,337.6 "/><path d="M428.4,326.6 C428.2,328.0 427.9,332.6 427.2,335.1 C426.6,337.6 425.0,340.7 424.5,341.9 "/><path d="M390.3,363.9 C392.3,363.0 398.2,360.5 402.2,358.8 C406.1,357.1 410.3,355.1 414.0,353.7 C417.7,352.3 422.5,350.9 424.2,350.3 "/><path d="M393.7,384.2 C395.9,383.5 403.3,381.4 407.2,380.0 C411.2,378.6 415.7,376.4 417.4,375.7 "/><path d="M434.3,341.9 C435.2,342.7 437.7,345.5 439.4,347.0 C441.1,348.4 443.6,349.8 444.5,350.3 "/><path d="M441.1,338.5 C442.0,339.6 445.3,344.1 446.2,345.3 "/><path d="M424.2,358.8 C425.3,359.1 428.7,360.5 430.9,360.5 C433.2,360.5 436.6,359.1 437.7,358.8 "/></g>
</g></defs>
<defs><g id="smed">
<g fill="none" stroke="#fff" stroke-opacity="0.22" stroke-width="1.6" stroke-linecap="round" transform="translate(0.9,0.6)"><path d="M366.9,421.0 C368.1,419.3 370.9,413.6 373.7,410.8 C376.5,408.0 379.9,405.7 383.9,404.0 C387.8,402.3 392.9,401.5 397.4,400.6 C401.9,399.8 406.4,398.9 411.0,398.9 C415.5,398.9 420.6,399.5 424.5,400.6 C428.5,401.8 431.9,404.3 434.7,405.7 C437.5,407.1 440.3,408.5 441.4,409.1 "/><path d="M360.2,432.8 C360.7,430.8 361.9,424.3 363.5,421.0 C365.2,417.6 369.2,413.9 370.3,412.5 "/><path d="M400.8,392.2 C401.1,393.3 402.2,397.8 402.5,398.9 "/><path d="M414.4,388.8 C414.6,390.2 415.8,395.8 416.0,397.2 "/><path d="M426.2,392.2 C426.5,393.6 427.6,399.2 427.9,400.6 "/><path d="M438.1,398.9 C438.6,400.3 440.9,406.0 441.4,407.4 "/><path d="M429.6,426.0 C431.6,426.3 437.8,427.2 441.4,427.7 C445.1,428.3 448.5,429.4 451.6,429.4 C454.7,429.4 458.7,428.0 460.1,427.7 "/><path d="M429.6,415.9 C431.3,416.2 436.6,418.1 439.8,417.6 C442.9,417.0 446.8,413.3 448.2,412.5 "/><path d="M431.3,437.9 C433.0,437.9 438.1,438.4 441.4,437.9 C444.8,437.3 449.9,435.1 451.6,434.5 "/><path d="M399.1,446.4 C400.8,445.8 405.6,443.8 409.3,443.0 C412.9,442.1 419.2,441.6 421.1,441.3 "/><path d="M375.4,424.3 C376.0,423.2 376.5,419.5 378.8,417.6 C381.0,415.6 385.3,413.8 389.0,412.5 C392.6,411.2 396.9,410.4 400.8,409.9 C404.8,409.5 409.3,409.7 412.7,409.9 C416.0,410.2 419.7,411.4 421.1,411.6 "/><path d="M360.2,441.3 C361.9,442.4 366.4,446.6 370.3,448.0 C374.3,449.5 381.6,449.5 383.9,449.7 "/><path d="M363.5,429.4 C364.1,427.7 365.0,422.6 366.9,419.3 C368.9,415.9 372.3,411.9 375.4,409.1 C378.5,406.3 383.9,403.5 385.6,402.3 "/><path d="M356.8,437.9 C357.6,439.3 361.0,444.9 361.9,446.4 "/><path d="M392.3,393.9 C392.6,395.0 393.7,399.5 394.0,400.6 "/><path d="M407.6,390.5 C407.7,391.7 408.3,396.8 408.4,398.1 "/><path d="M421.1,389.6 C421.3,391.2 421.8,397.4 422.0,398.9 "/><path d="M433.0,395.5 C433.3,397.0 434.4,402.6 434.7,404.0 "/><path d="M444.8,402.3 C445.7,403.7 449.1,409.4 449.9,410.8 "/><path d="M451.6,415.9 C452.7,416.7 457.3,420.1 458.4,421.0 "/><path d="M434.7,446.4 C436.4,445.8 441.4,444.4 444.8,443.0 C448.2,441.6 453.3,438.7 455.0,437.9 "/><path d="M404.2,453.1 C405.9,452.6 411.0,450.6 414.4,449.7 C417.7,448.9 422.8,448.3 424.5,448.0 "/></g>
<g fill="none" stroke="#2a1c1c" stroke-opacity="0.28" stroke-width="2.4" stroke-linecap="round" filter="url(#sblur)"><path d="M366.9,421.0 C368.1,419.3 370.9,413.6 373.7,410.8 C376.5,408.0 379.9,405.7 383.9,404.0 C387.8,402.3 392.9,401.5 397.4,400.6 C401.9,399.8 406.4,398.9 411.0,398.9 C415.5,398.9 420.6,399.5 424.5,400.6 C428.5,401.8 431.9,404.3 434.7,405.7 C437.5,407.1 440.3,408.5 441.4,409.1 "/><path d="M360.2,432.8 C360.7,430.8 361.9,424.3 363.5,421.0 C365.2,417.6 369.2,413.9 370.3,412.5 "/><path d="M400.8,392.2 C401.1,393.3 402.2,397.8 402.5,398.9 "/><path d="M414.4,388.8 C414.6,390.2 415.8,395.8 416.0,397.2 "/><path d="M426.2,392.2 C426.5,393.6 427.6,399.2 427.9,400.6 "/><path d="M438.1,398.9 C438.6,400.3 440.9,406.0 441.4,407.4 "/><path d="M429.6,426.0 C431.6,426.3 437.8,427.2 441.4,427.7 C445.1,428.3 448.5,429.4 451.6,429.4 C454.7,429.4 458.7,428.0 460.1,427.7 "/><path d="M429.6,415.9 C431.3,416.2 436.6,418.1 439.8,417.6 C442.9,417.0 446.8,413.3 448.2,412.5 "/><path d="M431.3,437.9 C433.0,437.9 438.1,438.4 441.4,437.9 C444.8,437.3 449.9,435.1 451.6,434.5 "/><path d="M399.1,446.4 C400.8,445.8 405.6,443.8 409.3,443.0 C412.9,442.1 419.2,441.6 421.1,441.3 "/><path d="M375.4,424.3 C376.0,423.2 376.5,419.5 378.8,417.6 C381.0,415.6 385.3,413.8 389.0,412.5 C392.6,411.2 396.9,410.4 400.8,409.9 C404.8,409.5 409.3,409.7 412.7,409.9 C416.0,410.2 419.7,411.4 421.1,411.6 "/><path d="M360.2,441.3 C361.9,442.4 366.4,446.6 370.3,448.0 C374.3,449.5 381.6,449.5 383.9,449.7 "/><path d="M363.5,429.4 C364.1,427.7 365.0,422.6 366.9,419.3 C368.9,415.9 372.3,411.9 375.4,409.1 C378.5,406.3 383.9,403.5 385.6,402.3 "/><path d="M356.8,437.9 C357.6,439.3 361.0,444.9 361.9,446.4 "/><path d="M392.3,393.9 C392.6,395.0 393.7,399.5 394.0,400.6 "/><path d="M407.6,390.5 C407.7,391.7 408.3,396.8 408.4,398.1 "/><path d="M421.1,389.6 C421.3,391.2 421.8,397.4 422.0,398.9 "/><path d="M433.0,395.5 C433.3,397.0 434.4,402.6 434.7,404.0 "/><path d="M444.8,402.3 C445.7,403.7 449.1,409.4 449.9,410.8 "/><path d="M451.6,415.9 C452.7,416.7 457.3,420.1 458.4,421.0 "/><path d="M434.7,446.4 C436.4,445.8 441.4,444.4 444.8,443.0 C448.2,441.6 453.3,438.7 455.0,437.9 "/><path d="M404.2,453.1 C405.9,452.6 411.0,450.6 414.4,449.7 C417.7,448.9 422.8,448.3 424.5,448.0 "/></g>
<g fill="none" stroke="#2a1c1c" stroke-opacity="0.5" stroke-width="0.9" stroke-linecap="round"><path d="M366.9,421.0 C368.1,419.3 370.9,413.6 373.7,410.8 C376.5,408.0 379.9,405.7 383.9,404.0 C387.8,402.3 392.9,401.5 397.4,400.6 C401.9,399.8 406.4,398.9 411.0,398.9 C415.5,398.9 420.6,399.5 424.5,400.6 C428.5,401.8 431.9,404.3 434.7,405.7 C437.5,407.1 440.3,408.5 441.4,409.1 "/><path d="M360.2,432.8 C360.7,430.8 361.9,424.3 363.5,421.0 C365.2,417.6 369.2,413.9 370.3,412.5 "/><path d="M400.8,392.2 C401.1,393.3 402.2,397.8 402.5,398.9 "/><path d="M414.4,388.8 C414.6,390.2 415.8,395.8 416.0,397.2 "/><path d="M426.2,392.2 C426.5,393.6 427.6,399.2 427.9,400.6 "/><path d="M438.1,398.9 C438.6,400.3 440.9,406.0 441.4,407.4 "/><path d="M429.6,426.0 C431.6,426.3 437.8,427.2 441.4,427.7 C445.1,428.3 448.5,429.4 451.6,429.4 C454.7,429.4 458.7,428.0 460.1,427.7 "/><path d="M429.6,415.9 C431.3,416.2 436.6,418.1 439.8,417.6 C442.9,417.0 446.8,413.3 448.2,412.5 "/><path d="M431.3,437.9 C433.0,437.9 438.1,438.4 441.4,437.9 C444.8,437.3 449.9,435.1 451.6,434.5 "/><path d="M399.1,446.4 C400.8,445.8 405.6,443.8 409.3,443.0 C412.9,442.1 419.2,441.6 421.1,441.3 "/><path d="M375.4,424.3 C376.0,423.2 376.5,419.5 378.8,417.6 C381.0,415.6 385.3,413.8 389.0,412.5 C392.6,411.2 396.9,410.4 400.8,409.9 C404.8,409.5 409.3,409.7 412.7,409.9 C416.0,410.2 419.7,411.4 421.1,411.6 "/><path d="M360.2,441.3 C361.9,442.4 366.4,446.6 370.3,448.0 C374.3,449.5 381.6,449.5 383.9,449.7 "/><path d="M363.5,429.4 C364.1,427.7 365.0,422.6 366.9,419.3 C368.9,415.9 372.3,411.9 375.4,409.1 C378.5,406.3 383.9,403.5 385.6,402.3 "/><path d="M356.8,437.9 C357.6,439.3 361.0,444.9 361.9,446.4 "/><path d="M392.3,393.9 C392.6,395.0 393.7,399.5 394.0,400.6 "/><path d="M407.6,390.5 C407.7,391.7 408.3,396.8 408.4,398.1 "/><path d="M421.1,389.6 C421.3,391.2 421.8,397.4 422.0,398.9 "/><path d="M433.0,395.5 C433.3,397.0 434.4,402.6 434.7,404.0 "/><path d="M444.8,402.3 C445.7,403.7 449.1,409.4 449.9,410.8 "/><path d="M451.6,415.9 C452.7,416.7 457.3,420.1 458.4,421.0 "/><path d="M434.7,446.4 C436.4,445.8 441.4,444.4 444.8,443.0 C448.2,441.6 453.3,438.7 455.0,437.9 "/><path d="M404.2,453.1 C405.9,452.6 411.0,450.6 414.4,449.7 C417.7,448.9 422.8,448.3 424.5,448.0 "/></g>
</g></defs>
<clipPath id="bc1"><path d="M345.1,358.8 C345.4,356.2 345.7,352.0 346.8,348.6 C347.9,345.2 349.9,341.6 351.9,338.5 C353.9,335.4 356.4,332.3 358.6,330.0 C360.9,327.7 362.8,326.3 365.4,324.9 C367.9,323.5 371.1,322.5 373.9,321.5 C376.7,320.5 379.5,319.8 382.3,319.0 C385.1,318.2 388.5,317.2 390.8,316.5 C393.1,315.8 393.6,315.4 395.9,314.8 C398.2,314.2 401.9,312.8 404.4,312.7 C406.9,312.6 408.9,313.6 411.1,314.4 C413.4,315.2 415.6,316.2 417.9,317.3 C420.2,318.4 422.7,319.4 424.7,320.7 C426.7,322.0 428.1,323.3 429.8,324.9 C431.5,326.4 433.1,328.3 434.8,330.0 C436.5,331.7 438.2,333.3 439.9,335.1 C441.6,336.9 443.4,339.0 445.0,341.0 C446.6,343.0 448.2,345.2 449.2,347.0 C450.2,348.8 450.8,350.3 450.9,352.0 C451.0,353.7 450.8,355.7 450.1,357.1 C449.4,358.5 448.1,359.4 446.7,360.5 C445.3,361.6 443.6,362.9 441.6,363.9 C439.6,364.9 437.1,365.5 434.8,366.4 C432.6,367.2 430.1,368.0 428.1,369.0 C426.1,370.0 424.4,371.0 423.0,372.4 C421.6,373.8 421.0,375.7 419.6,377.4 C418.2,379.1 416.5,381.1 414.5,382.5 C412.5,383.9 410.2,385.2 407.7,385.9 C405.2,386.6 402.1,386.8 399.3,386.7 C396.5,386.6 393.1,386.1 390.8,385.1 C388.5,384.1 386.8,382.4 385.7,380.8 C384.6,379.2 384.5,377.1 384.4,375.7 C384.3,374.3 385.5,372.4 384.9,372.4 C384.3,372.4 382.4,374.7 380.6,375.7 C378.8,376.7 376.4,377.6 373.9,378.3 C371.4,379.0 367.9,379.9 365.4,380.0 C362.8,380.1 360.9,379.8 358.6,379.1 C356.4,378.4 353.9,377.4 351.9,375.7 C349.9,374.0 347.9,370.9 346.8,368.9 C345.7,366.9 345.4,365.6 345.1,363.9 C344.8,362.2 344.8,361.4 345.1,358.8 Z"/></clipPath>
<g clip-path="url(#bc1)">
<g filter="url(#soft)">
<path d="M340.0,300.0 L460.0,300.0 L460.0,400.0 L340.0,400.0 Z" fill="#f1a98e"/>
<path d="M365.0,300.0 L389.5,300.0 L389.1,316.5 L386.6,333.4 L384.9,350.3 L382.3,358.8 L384.0,372.0 L380.0,382.0 L362.0,382.0 L360.3,358.8 L363.7,341.9 Z" fill="#f3d0c4"/>
<path d="M340.0,300.0 L365.4,300.0 L365.4,330.0 L363.7,341.9 L360.3,358.8 L362.0,375.7 L362.0,392.7 L340.0,392.7 Z" fill="#a8c6ee"/>
<path d="M429.8,340.0 L440.0,336.0 L446.0,346.0 L446.0,360.0 L436.0,366.0 L430.0,360.0 Z" fill="#dadada"/>
<path d="M441.0,336.0 L460.0,336.0 L460.0,362.0 L447.0,361.0 L446.0,346.0 Z" fill="#b6c3d2"/>
<path d="M420.0,352.0 L432.0,352.0 L432.0,366.0 L420.0,366.0 Z" fill="#f4bfa9"/>
<path d="M380.0,372.0 L400.0,367.0 L418.0,361.0 L424.0,362.0 L432.0,380.0 L400.0,395.0 L380.0,390.0 Z" fill="#a9c6e8"/>
<path d="M382.3,365.6 L390.8,365.6 L390.8,370.7 L382.3,370.7 Z" fill="#d9dadf"/>
<path d="M399.3,350.0 L404.0,347.0 L409.4,346.5 L406.0,351.0 L401.0,353.7 Z" fill="#ef5a46"/>
</g>
<rect x="343.1" y="310.7" width="109.8" height="78.0" filter="url(#sulci)"/>
<use href="#slat" transform="translate(0,0)"/>
<path d="M345.1,358.8 C345.4,356.2 345.7,352.0 346.8,348.6 C347.9,345.2 349.9,341.6 351.9,338.5 C353.9,335.4 356.4,332.3 358.6,330.0 C360.9,327.7 362.8,326.3 365.4,324.9 C367.9,323.5 371.1,322.5 373.9,321.5 C376.7,320.5 379.5,319.8 382.3,319.0 C385.1,318.2 388.5,317.2 390.8,316.5 C393.1,315.8 393.6,315.4 395.9,314.8 C398.2,314.2 401.9,312.8 404.4,312.7 C406.9,312.6 408.9,313.6 411.1,314.4 C413.4,315.2 415.6,316.2 417.9,317.3 C420.2,318.4 422.7,319.4 424.7,320.7 C426.7,322.0 428.1,323.3 429.8,324.9 C431.5,326.4 433.1,328.3 434.8,330.0 C436.5,331.7 438.2,333.3 439.9,335.1 C441.6,336.9 443.4,339.0 445.0,341.0 C446.6,343.0 448.2,345.2 449.2,347.0 C450.2,348.8 450.8,350.3 450.9,352.0 C451.0,353.7 450.8,355.7 450.1,357.1 C449.4,358.5 448.1,359.4 446.7,360.5 C445.3,361.6 443.6,362.9 441.6,363.9 C439.6,364.9 437.1,365.5 434.8,366.4 C432.6,367.2 430.1,368.0 428.1,369.0 C426.1,370.0 424.4,371.0 423.0,372.4 C421.6,373.8 421.0,375.7 419.6,377.4 C418.2,379.1 416.5,381.1 414.5,382.5 C412.5,383.9 410.2,385.2 407.7,385.9 C405.2,386.6 402.1,386.8 399.3,386.7 C396.5,386.6 393.1,386.1 390.8,385.1 C388.5,384.1 386.8,382.4 385.7,380.8 C384.6,379.2 384.5,377.1 384.4,375.7 C384.3,374.3 385.5,372.4 384.9,372.4 C384.3,372.4 382.4,374.7 380.6,375.7 C378.8,376.7 376.4,377.6 373.9,378.3 C371.4,379.0 367.9,379.9 365.4,380.0 C362.8,380.1 360.9,379.8 358.6,379.1 C356.4,378.4 353.9,377.4 351.9,375.7 C349.9,374.0 347.9,370.9 346.8,368.9 C345.7,366.9 345.4,365.6 345.1,363.9 C344.8,362.2 344.8,361.4 345.1,358.8 Z" fill="url(#shade)"/>
</g>
<path d="M345.1,358.8 C345.4,356.2 345.7,352.0 346.8,348.6 C347.9,345.2 349.9,341.6 351.9,338.5 C353.9,335.4 356.4,332.3 358.6,330.0 C360.9,327.7 362.8,326.3 365.4,324.9 C367.9,323.5 371.1,322.5 373.9,321.5 C376.7,320.5 379.5,319.8 382.3,319.0 C385.1,318.2 388.5,317.2 390.8,316.5 C393.1,315.8 393.6,315.4 395.9,314.8 C398.2,314.2 401.9,312.8 404.4,312.7 C406.9,312.6 408.9,313.6 411.1,314.4 C413.4,315.2 415.6,316.2 417.9,317.3 C420.2,318.4 422.7,319.4 424.7,320.7 C426.7,322.0 428.1,323.3 429.8,324.9 C431.5,326.4 433.1,328.3 434.8,330.0 C436.5,331.7 438.2,333.3 439.9,335.1 C441.6,336.9 443.4,339.0 445.0,341.0 C446.6,343.0 448.2,345.2 449.2,347.0 C450.2,348.8 450.8,350.3 450.9,352.0 C451.0,353.7 450.8,355.7 450.1,357.1 C449.4,358.5 448.1,359.4 446.7,360.5 C445.3,361.6 443.6,362.9 441.6,363.9 C439.6,364.9 437.1,365.5 434.8,366.4 C432.6,367.2 430.1,368.0 428.1,369.0 C426.1,370.0 424.4,371.0 423.0,372.4 C421.6,373.8 421.0,375.7 419.6,377.4 C418.2,379.1 416.5,381.1 414.5,382.5 C412.5,383.9 410.2,385.2 407.7,385.9 C405.2,386.6 402.1,386.8 399.3,386.7 C396.5,386.6 393.1,386.1 390.8,385.1 C388.5,384.1 386.8,382.4 385.7,380.8 C384.6,379.2 384.5,377.1 384.4,375.7 C384.3,374.3 385.5,372.4 384.9,372.4 C384.3,372.4 382.4,374.7 380.6,375.7 C378.8,376.7 376.4,377.6 373.9,378.3 C371.4,379.0 367.9,379.9 365.4,380.0 C362.8,380.1 360.9,379.8 358.6,379.1 C356.4,378.4 353.9,377.4 351.9,375.7 C349.9,374.0 347.9,370.9 346.8,368.9 C345.7,366.9 345.4,365.6 345.1,363.9 C344.8,362.2 344.8,361.4 345.1,358.8 Z" fill="none" stroke="#444" stroke-opacity="0.6" stroke-width="0.6"/>
<clipPath id="bc2"><path d="M457.6,358.8 C457.9,356.2 458.2,352.0 459.3,348.6 C460.4,345.2 462.4,341.6 464.4,338.5 C466.4,335.4 468.9,332.3 471.1,330.0 C473.4,327.7 475.3,326.3 477.9,324.9 C480.4,323.5 483.6,322.5 486.4,321.5 C489.2,320.5 492.0,319.8 494.8,319.0 C497.6,318.2 501.0,317.2 503.3,316.5 C505.6,315.8 506.1,315.4 508.4,314.8 C510.7,314.2 514.4,312.8 516.9,312.7 C519.4,312.6 521.4,313.6 523.6,314.4 C525.9,315.2 528.1,316.2 530.4,317.3 C532.7,318.4 535.2,319.4 537.2,320.7 C539.2,322.0 540.6,323.3 542.3,324.9 C544.0,326.4 545.6,328.3 547.3,330.0 C549.0,331.7 550.7,333.3 552.4,335.1 C554.1,336.9 556.0,339.0 557.5,341.0 C559.0,343.0 560.7,345.2 561.7,347.0 C562.7,348.8 563.2,350.3 563.4,352.0 C563.5,353.7 563.3,355.7 562.6,357.1 C561.9,358.5 560.6,359.4 559.2,360.5 C557.8,361.6 556.1,362.9 554.1,363.9 C552.1,364.9 549.5,365.5 547.3,366.4 C545.0,367.2 542.6,368.0 540.6,369.0 C538.6,370.0 536.9,371.0 535.5,372.4 C534.1,373.8 533.5,375.7 532.1,377.4 C530.7,379.1 529.0,381.1 527.0,382.5 C525.0,383.9 522.7,385.2 520.2,385.9 C517.7,386.6 514.6,386.8 511.8,386.7 C509.0,386.6 505.6,386.1 503.3,385.1 C501.0,384.1 499.3,382.4 498.2,380.8 C497.1,379.2 497.0,377.1 496.9,375.7 C496.8,374.3 498.0,372.4 497.4,372.4 C496.8,372.4 494.9,374.7 493.1,375.7 C491.3,376.7 488.9,377.6 486.4,378.3 C483.9,379.0 480.4,379.9 477.9,380.0 C475.3,380.1 473.4,379.8 471.1,379.1 C468.9,378.4 466.4,377.4 464.4,375.7 C462.4,374.0 460.4,370.9 459.3,368.9 C458.2,366.9 457.9,365.6 457.6,363.9 C457.3,362.2 457.3,361.4 457.6,358.8 Z"/></clipPath>
<g clip-path="url(#bc2)">
<g filter="url(#soft)">
<path d="M450.0,300.0 L570.0,300.0 L570.0,400.0 L450.0,400.0 Z" fill="#f2a68b"/>
<path d="M496.0,355.0 L533.0,352.0 L540.0,372.0 L533.0,392.0 L496.0,392.0 Z" fill="#f4c2ad"/>
<path d="M450.0,300.0 L494.3,300.0 L494.3,318.2 L497.7,330.0 L498.6,355.4 L484.2,362.2 L482.5,372.4 L485.9,379.1 L450.0,392.0 Z" fill="#a5c5f1"/>
<path d="M493.5,317.3 L502.8,317.3 L502.8,330.0 L497.7,330.0 Z" fill="#b9b9b9"/>
<path d="M483.3,362.2 L499.4,358.8 L509.6,355.4 L511.3,362.2 L502.8,367.3 L494.3,372.4 L485.9,374.0 L482.5,369.0 Z" fill="#b6b6b6"/>
<path d="M530.0,355.4 L541.8,355.4 L541.8,370.7 L530.0,370.7 Z" fill="#b3b3b3"/>
<path d="M541.8,341.9 L557.0,341.9 L557.0,363.9 L541.8,363.9 Z" fill="#e3c9c1"/>
<path d="M553.6,343.6 L570.0,343.6 L570.0,358.8 L553.6,358.8 Z" fill="#9cb2cc"/>
</g>
<rect x="455.6" y="310.7" width="109.8" height="78.0" filter="url(#sulci)"/>
<use href="#slat" transform="translate(112.5,0)"/>
<path d="M457.6,358.8 C457.9,356.2 458.2,352.0 459.3,348.6 C460.4,345.2 462.4,341.6 464.4,338.5 C466.4,335.4 468.9,332.3 471.1,330.0 C473.4,327.7 475.3,326.3 477.9,324.9 C480.4,323.5 483.6,322.5 486.4,321.5 C489.2,320.5 492.0,319.8 494.8,319.0 C497.6,318.2 501.0,317.2 503.3,316.5 C505.6,315.8 506.1,315.4 508.4,314.8 C510.7,314.2 514.4,312.8 516.9,312.7 C519.4,312.6 521.4,313.6 523.6,314.4 C525.9,315.2 528.1,316.2 530.4,317.3 C532.7,318.4 535.2,319.4 537.2,320.7 C539.2,322.0 540.6,323.3 542.3,324.9 C544.0,326.4 545.6,328.3 547.3,330.0 C549.0,331.7 550.7,333.3 552.4,335.1 C554.1,336.9 556.0,339.0 557.5,341.0 C559.0,343.0 560.7,345.2 561.7,347.0 C562.7,348.8 563.2,350.3 563.4,352.0 C563.5,353.7 563.3,355.7 562.6,357.1 C561.9,358.5 560.6,359.4 559.2,360.5 C557.8,361.6 556.1,362.9 554.1,363.9 C552.1,364.9 549.5,365.5 547.3,366.4 C545.0,367.2 542.6,368.0 540.6,369.0 C538.6,370.0 536.9,371.0 535.5,372.4 C534.1,373.8 533.5,375.7 532.1,377.4 C530.7,379.1 529.0,381.1 527.0,382.5 C525.0,383.9 522.7,385.2 520.2,385.9 C517.7,386.6 514.6,386.8 511.8,386.7 C509.0,386.6 505.6,386.1 503.3,385.1 C501.0,384.1 499.3,382.4 498.2,380.8 C497.1,379.2 497.0,377.1 496.9,375.7 C496.8,374.3 498.0,372.4 497.4,372.4 C496.8,372.4 494.9,374.7 493.1,375.7 C491.3,376.7 488.9,377.6 486.4,378.3 C483.9,379.0 480.4,379.9 477.9,380.0 C475.3,380.1 473.4,379.8 471.1,379.1 C468.9,378.4 466.4,377.4 464.4,375.7 C462.4,374.0 460.4,370.9 459.3,368.9 C458.2,366.9 457.9,365.6 457.6,363.9 C457.3,362.2 457.3,361.4 457.6,358.8 Z" fill="url(#shade)"/>
</g>
<path d="M457.6,358.8 C457.9,356.2 458.2,352.0 459.3,348.6 C460.4,345.2 462.4,341.6 464.4,338.5 C466.4,335.4 468.9,332.3 471.1,330.0 C473.4,327.7 475.3,326.3 477.9,324.9 C480.4,323.5 483.6,322.5 486.4,321.5 C489.2,320.5 492.0,319.8 494.8,319.0 C497.6,318.2 501.0,317.2 503.3,316.5 C505.6,315.8 506.1,315.4 508.4,314.8 C510.7,314.2 514.4,312.8 516.9,312.7 C519.4,312.6 521.4,313.6 523.6,314.4 C525.9,315.2 528.1,316.2 530.4,317.3 C532.7,318.4 535.2,319.4 537.2,320.7 C539.2,322.0 540.6,323.3 542.3,324.9 C544.0,326.4 545.6,328.3 547.3,330.0 C549.0,331.7 550.7,333.3 552.4,335.1 C554.1,336.9 556.0,339.0 557.5,341.0 C559.0,343.0 560.7,345.2 561.7,347.0 C562.7,348.8 563.2,350.3 563.4,352.0 C563.5,353.7 563.3,355.7 562.6,357.1 C561.9,358.5 560.6,359.4 559.2,360.5 C557.8,361.6 556.1,362.9 554.1,363.9 C552.1,364.9 549.5,365.5 547.3,366.4 C545.0,367.2 542.6,368.0 540.6,369.0 C538.6,370.0 536.9,371.0 535.5,372.4 C534.1,373.8 533.5,375.7 532.1,377.4 C530.7,379.1 529.0,381.1 527.0,382.5 C525.0,383.9 522.7,385.2 520.2,385.9 C517.7,386.6 514.6,386.8 511.8,386.7 C509.0,386.6 505.6,386.1 503.3,385.1 C501.0,384.1 499.3,382.4 498.2,380.8 C497.1,379.2 497.0,377.1 496.9,375.7 C496.8,374.3 498.0,372.4 497.4,372.4 C496.8,372.4 494.9,374.7 493.1,375.7 C491.3,376.7 488.9,377.6 486.4,378.3 C483.9,379.0 480.4,379.9 477.9,380.0 C475.3,380.1 473.4,379.8 471.1,379.1 C468.9,378.4 466.4,377.4 464.4,375.7 C462.4,374.0 460.4,370.9 459.3,368.9 C458.2,366.9 457.9,365.6 457.6,363.9 C457.3,362.2 457.3,361.4 457.6,358.8 Z" fill="none" stroke="#444" stroke-opacity="0.6" stroke-width="0.6"/>
<clipPath id="bc3"><path d="M569.4,358.8 C569.7,356.2 570.0,352.0 571.1,348.6 C572.2,345.2 574.2,341.6 576.2,338.5 C578.2,335.4 580.7,332.3 582.9,330.0 C585.2,327.7 587.2,326.3 589.7,324.9 C592.2,323.5 595.4,322.5 598.2,321.5 C601.0,320.5 603.8,319.8 606.6,319.0 C609.4,318.2 612.8,317.2 615.1,316.5 C617.4,315.8 617.9,315.4 620.2,314.8 C622.5,314.2 626.2,312.8 628.7,312.7 C631.2,312.6 633.2,313.6 635.4,314.4 C637.7,315.2 639.9,316.2 642.2,317.3 C644.5,318.4 647.0,319.4 649.0,320.7 C651.0,322.0 652.4,323.3 654.1,324.9 C655.8,326.4 657.4,328.3 659.1,330.0 C660.8,331.7 662.5,333.3 664.2,335.1 C665.9,336.9 667.8,339.0 669.3,341.0 C670.8,343.0 672.5,345.2 673.5,347.0 C674.5,348.8 675.1,350.3 675.2,352.0 C675.4,353.7 675.1,355.7 674.4,357.1 C673.7,358.5 672.4,359.4 671.0,360.5 C669.6,361.6 667.9,362.9 665.9,363.9 C663.9,364.9 661.4,365.5 659.1,366.4 C656.9,367.2 654.4,368.0 652.4,369.0 C650.4,370.0 648.7,371.0 647.3,372.4 C645.9,373.8 645.3,375.7 643.9,377.4 C642.5,379.1 640.8,381.1 638.8,382.5 C636.8,383.9 634.5,385.2 632.0,385.9 C629.5,386.6 626.4,386.8 623.6,386.7 C620.8,386.6 617.4,386.1 615.1,385.1 C612.8,384.1 611.1,382.4 610.0,380.8 C608.9,379.2 608.8,377.1 608.7,375.7 C608.6,374.3 609.8,372.4 609.2,372.4 C608.6,372.4 606.7,374.7 604.9,375.7 C603.1,376.7 600.7,377.6 598.2,378.3 C595.7,379.0 592.2,379.9 589.7,380.0 C587.2,380.1 585.2,379.8 582.9,379.1 C580.7,378.4 578.2,377.4 576.2,375.7 C574.2,374.0 572.2,370.9 571.1,368.9 C570.0,366.9 569.7,365.6 569.4,363.9 C569.1,362.2 569.1,361.4 569.4,358.8 Z"/></clipPath>
<g clip-path="url(#bc3)">
<g filter="url(#soft)">
<path d="M560.0,300.0 L690.0,300.0 L690.0,400.0 L560.0,400.0 Z" fill="#f3b39b"/>
<path d="M605.0,300.0 L672.0,300.0 L672.0,340.0 L664.0,346.0 L656.0,336.0 L640.0,332.0 L628.0,334.0 L627.0,352.0 L612.0,356.0 L606.0,345.0 Z" fill="#4b7ddf"/>
<path d="M560.0,300.0 L609.7,300.0 L609.7,365.6 L594.5,365.0 L560.0,395.0 Z" fill="#f07a68"/>
<path d="M560.0,300.0 L589.4,300.0 L589.4,325.0 L589.4,379.0 L560.0,395.0 Z" fill="#e84a40"/>
<path d="M605.5,316.0 L614.8,316.0 L614.8,333.4 L605.5,333.4 Z" fill="#bdbdbd"/>
<path d="M594.5,357.0 L621.6,357.0 L621.6,374.0 L594.5,374.0 Z" fill="#b9b9b9"/>
<path d="M611.4,350.0 L645.0,350.0 L645.0,368.0 L611.4,370.0 Z" fill="#7ea9ea"/>
<path d="M626.7,333.4 L658.8,333.4 L658.8,352.0 L626.7,352.0 Z" fill="#f1dbd5"/>
<path d="M652.0,347.0 L665.6,347.0 L665.6,365.6 L652.0,365.6 Z" fill="#dde4ec"/>
<path d="M665.6,341.9 L690.0,341.9 L690.0,362.0 L665.6,362.0 Z" fill="#a2b9d8"/>
<path d="M643.6,357.0 L652.0,357.0 L652.0,370.7 L643.6,370.7 Z" fill="#bbbbbb"/>
</g>
<rect x="567.4" y="310.7" width="109.8" height="78.0" filter="url(#sulci)"/>
<use href="#slat" transform="translate(224.3,0)"/>
<path d="M569.4,358.8 C569.7,356.2 570.0,352.0 571.1,348.6 C572.2,345.2 574.2,341.6 576.2,338.5 C578.2,335.4 580.7,332.3 582.9,330.0 C585.2,327.7 587.2,326.3 589.7,324.9 C592.2,323.5 595.4,322.5 598.2,321.5 C601.0,320.5 603.8,319.8 606.6,319.0 C609.4,318.2 612.8,317.2 615.1,316.5 C617.4,315.8 617.9,315.4 620.2,314.8 C622.5,314.2 626.2,312.8 628.7,312.7 C631.2,312.6 633.2,313.6 635.4,314.4 C637.7,315.2 639.9,316.2 642.2,317.3 C644.5,318.4 647.0,319.4 649.0,320.7 C651.0,322.0 652.4,323.3 654.1,324.9 C655.8,326.4 657.4,328.3 659.1,330.0 C660.8,331.7 662.5,333.3 664.2,335.1 C665.9,336.9 667.8,339.0 669.3,341.0 C670.8,343.0 672.5,345.2 673.5,347.0 C674.5,348.8 675.1,350.3 675.2,352.0 C675.4,353.7 675.1,355.7 674.4,357.1 C673.7,358.5 672.4,359.4 671.0,360.5 C669.6,361.6 667.9,362.9 665.9,363.9 C663.9,364.9 661.4,365.5 659.1,366.4 C656.9,367.2 654.4,368.0 652.4,369.0 C650.4,370.0 648.7,371.0 647.3,372.4 C645.9,373.8 645.3,375.7 643.9,377.4 C642.5,379.1 640.8,381.1 638.8,382.5 C636.8,383.9 634.5,385.2 632.0,385.9 C629.5,386.6 626.4,386.8 623.6,386.7 C620.8,386.6 617.4,386.1 615.1,385.1 C612.8,384.1 611.1,382.4 610.0,380.8 C608.9,379.2 608.8,377.1 608.7,375.7 C608.6,374.3 609.8,372.4 609.2,372.4 C608.6,372.4 606.7,374.7 604.9,375.7 C603.1,376.7 600.7,377.6 598.2,378.3 C595.7,379.0 592.2,379.9 589.7,380.0 C587.2,380.1 585.2,379.8 582.9,379.1 C580.7,378.4 578.2,377.4 576.2,375.7 C574.2,374.0 572.2,370.9 571.1,368.9 C570.0,366.9 569.7,365.6 569.4,363.9 C569.1,362.2 569.1,361.4 569.4,358.8 Z" fill="url(#shade)"/>
</g>
<path d="M569.4,358.8 C569.7,356.2 570.0,352.0 571.1,348.6 C572.2,345.2 574.2,341.6 576.2,338.5 C578.2,335.4 580.7,332.3 582.9,330.0 C585.2,327.7 587.2,326.3 589.7,324.9 C592.2,323.5 595.4,322.5 598.2,321.5 C601.0,320.5 603.8,319.8 606.6,319.0 C609.4,318.2 612.8,317.2 615.1,316.5 C617.4,315.8 617.9,315.4 620.2,314.8 C622.5,314.2 626.2,312.8 628.7,312.7 C631.2,312.6 633.2,313.6 635.4,314.4 C637.7,315.2 639.9,316.2 642.2,317.3 C644.5,318.4 647.0,319.4 649.0,320.7 C651.0,322.0 652.4,323.3 654.1,324.9 C655.8,326.4 657.4,328.3 659.1,330.0 C660.8,331.7 662.5,333.3 664.2,335.1 C665.9,336.9 667.8,339.0 669.3,341.0 C670.8,343.0 672.5,345.2 673.5,347.0 C674.5,348.8 675.1,350.3 675.2,352.0 C675.4,353.7 675.1,355.7 674.4,357.1 C673.7,358.5 672.4,359.4 671.0,360.5 C669.6,361.6 667.9,362.9 665.9,363.9 C663.9,364.9 661.4,365.5 659.1,366.4 C656.9,367.2 654.4,368.0 652.4,369.0 C650.4,370.0 648.7,371.0 647.3,372.4 C645.9,373.8 645.3,375.7 643.9,377.4 C642.5,379.1 640.8,381.1 638.8,382.5 C636.8,383.9 634.5,385.2 632.0,385.9 C629.5,386.6 626.4,386.8 623.6,386.7 C620.8,386.6 617.4,386.1 615.1,385.1 C612.8,384.1 611.1,382.4 610.0,380.8 C608.9,379.2 608.8,377.1 608.7,375.7 C608.6,374.3 609.8,372.4 609.2,372.4 C608.6,372.4 606.7,374.7 604.9,375.7 C603.1,376.7 600.7,377.6 598.2,378.3 C595.7,379.0 592.2,379.9 589.7,380.0 C587.2,380.1 585.2,379.8 582.9,379.1 C580.7,378.4 578.2,377.4 576.2,375.7 C574.2,374.0 572.2,370.9 571.1,368.9 C570.0,366.9 569.7,365.6 569.4,363.9 C569.1,362.2 569.1,361.4 569.4,358.8 Z" fill="none" stroke="#444" stroke-opacity="0.6" stroke-width="0.6"/>
<clipPath id="bc4"><path d="M355.1,432.8 C355.2,430.5 355.4,426.0 356.8,422.6 C358.2,419.2 361.0,415.6 363.5,412.5 C366.0,409.4 368.6,406.6 372.0,404.0 C375.4,401.4 379.7,399.2 383.9,397.2 C388.1,395.2 393.4,393.6 397.4,392.2 C401.3,390.8 404.5,389.6 407.6,388.8 C410.7,388.0 413.5,387.1 416.0,387.1 C418.5,387.1 420.2,387.7 422.8,388.8 C425.4,389.9 428.2,391.9 431.3,393.9 C434.4,395.9 438.6,398.4 441.4,400.6 C444.2,402.9 445.9,405.1 448.2,407.4 C450.5,409.7 453.0,411.9 455.0,414.2 C457.0,416.5 459.0,418.8 460.1,421.0 C461.2,423.2 461.8,425.4 461.8,427.7 C461.8,429.9 461.5,432.5 460.1,434.5 C458.7,436.5 455.9,438.2 453.3,439.6 C450.8,441.0 447.9,441.9 444.8,443.0 C441.7,444.1 437.8,445.0 434.7,446.4 C431.6,447.8 429.0,449.7 426.2,451.4 C423.4,453.1 420.5,455.1 417.7,456.5 C414.9,457.9 411.8,459.0 409.3,459.9 C406.8,460.8 404.5,461.6 402.5,461.6 C400.5,461.6 398.7,461.0 397.4,459.9 C396.1,458.8 395.5,456.5 394.9,454.8 C394.3,453.1 395.0,450.7 394.0,449.7 C393.0,448.7 391.0,448.9 389.0,448.9 C387.0,448.9 384.8,449.6 382.2,449.7 C379.6,449.8 376.5,450.2 373.7,449.7 C370.9,449.1 367.6,447.8 365.2,446.4 C362.8,445.0 360.9,443.0 359.3,441.3 C357.8,439.6 356.6,437.6 355.9,436.2 C355.2,434.8 355.0,435.1 355.1,432.8 Z"/></clipPath>
<g clip-path="url(#bc4)">
<g filter="url(#soft)">
<path d="M340.0,380.0 L470.0,380.0 L470.0,470.0 L340.0,470.0 Z" fill="#a8c8f3"/>
<path d="M370.0,385.0 L400.8,385.0 L400.8,405.0 L380.0,412.0 L372.0,404.0 Z" fill="#f4d2c6"/>
<path d="M400.8,380.0 L449.0,380.0 L449.0,414.2 L440.0,408.0 L420.0,405.0 L400.8,405.0 Z" fill="#f3b093"/>
<path d="M427.9,410.8 L470.0,410.8 L470.0,441.3 L427.9,441.3 Z" fill="#dcdfe2"/>
<path d="M420.0,436.0 L460.0,436.0 L460.0,452.0 L420.0,452.0 Z" fill="#b7c6d9"/>
<path d="M392.3,429.4 L420.0,432.0 L429.6,440.0 L420.0,462.0 L392.3,462.0 Z" fill="#6b9de9"/>
<path d="M372.0,429.4 L383.9,429.4 L383.9,437.9 L372.0,437.9 Z" fill="#86aef0"/>
</g>
<rect x="353.1" y="385.1" width="110.7" height="78.5" filter="url(#sulci)"/>
<use href="#smed" transform="translate(0,0)"/>
<path d="M355.1,432.8 C355.2,430.5 355.4,426.0 356.8,422.6 C358.2,419.2 361.0,415.6 363.5,412.5 C366.0,409.4 368.6,406.6 372.0,404.0 C375.4,401.4 379.7,399.2 383.9,397.2 C388.1,395.2 393.4,393.6 397.4,392.2 C401.3,390.8 404.5,389.6 407.6,388.8 C410.7,388.0 413.5,387.1 416.0,387.1 C418.5,387.1 420.2,387.7 422.8,388.8 C425.4,389.9 428.2,391.9 431.3,393.9 C434.4,395.9 438.6,398.4 441.4,400.6 C444.2,402.9 445.9,405.1 448.2,407.4 C450.5,409.7 453.0,411.9 455.0,414.2 C457.0,416.5 459.0,418.8 460.1,421.0 C461.2,423.2 461.8,425.4 461.8,427.7 C461.8,429.9 461.5,432.5 460.1,434.5 C458.7,436.5 455.9,438.2 453.3,439.6 C450.8,441.0 447.9,441.9 444.8,443.0 C441.7,444.1 437.8,445.0 434.7,446.4 C431.6,447.8 429.0,449.7 426.2,451.4 C423.4,453.1 420.5,455.1 417.7,456.5 C414.9,457.9 411.8,459.0 409.3,459.9 C406.8,460.8 404.5,461.6 402.5,461.6 C400.5,461.6 398.7,461.0 397.4,459.9 C396.1,458.8 395.5,456.5 394.9,454.8 C394.3,453.1 395.0,450.7 394.0,449.7 C393.0,448.7 391.0,448.9 389.0,448.9 C387.0,448.9 384.8,449.6 382.2,449.7 C379.6,449.8 376.5,450.2 373.7,449.7 C370.9,449.1 367.6,447.8 365.2,446.4 C362.8,445.0 360.9,443.0 359.3,441.3 C357.8,439.6 356.6,437.6 355.9,436.2 C355.2,434.8 355.0,435.1 355.1,432.8 Z" fill="url(#shade)"/>
</g>
<path d="M355.1,432.8 C355.2,430.5 355.4,426.0 356.8,422.6 C358.2,419.2 361.0,415.6 363.5,412.5 C366.0,409.4 368.6,406.6 372.0,404.0 C375.4,401.4 379.7,399.2 383.9,397.2 C388.1,395.2 393.4,393.6 397.4,392.2 C401.3,390.8 404.5,389.6 407.6,388.8 C410.7,388.0 413.5,387.1 416.0,387.1 C418.5,387.1 420.2,387.7 422.8,388.8 C425.4,389.9 428.2,391.9 431.3,393.9 C434.4,395.9 438.6,398.4 441.4,400.6 C444.2,402.9 445.9,405.1 448.2,407.4 C450.5,409.7 453.0,411.9 455.0,414.2 C457.0,416.5 459.0,418.8 460.1,421.0 C461.2,423.2 461.8,425.4 461.8,427.7 C461.8,429.9 461.5,432.5 460.1,434.5 C458.7,436.5 455.9,438.2 453.3,439.6 C450.8,441.0 447.9,441.9 444.8,443.0 C441.7,444.1 437.8,445.0 434.7,446.4 C431.6,447.8 429.0,449.7 426.2,451.4 C423.4,453.1 420.5,455.1 417.7,456.5 C414.9,457.9 411.8,459.0 409.3,459.9 C406.8,460.8 404.5,461.6 402.5,461.6 C400.5,461.6 398.7,461.0 397.4,459.9 C396.1,458.8 395.5,456.5 394.9,454.8 C394.3,453.1 395.0,450.7 394.0,449.7 C393.0,448.7 391.0,448.9 389.0,448.9 C387.0,448.9 384.8,449.6 382.2,449.7 C379.6,449.8 376.5,450.2 373.7,449.7 C370.9,449.1 367.6,447.8 365.2,446.4 C362.8,445.0 360.9,443.0 359.3,441.3 C357.8,439.6 356.6,437.6 355.9,436.2 C355.2,434.8 355.0,435.1 355.1,432.8 Z" fill="none" stroke="#444" stroke-opacity="0.6" stroke-width="0.6"/>
<path d="M375.7,428.7 C376.0,427.4 376.5,425.6 377.6,424.0 C378.7,422.4 380.4,420.6 382.3,419.2 C384.2,417.8 386.6,416.3 389.0,415.4 C391.4,414.4 394.1,413.9 396.6,413.5 C399.1,413.1 402.3,413.0 404.2,413.1 C406.1,413.2 406.4,413.4 408.0,414.0 C409.6,414.6 412.0,415.4 413.6,416.4 C415.2,417.4 416.8,419.2 417.4,420.2 C418.0,421.1 417.6,421.7 417.0,422.1 C416.4,422.5 414.5,422.1 413.6,422.6 C412.7,423.1 411.9,424.0 411.7,424.9 C411.5,425.8 411.6,427.2 412.2,427.8 C412.8,428.4 414.6,428.1 415.5,428.7 C416.4,429.3 417.0,430.5 417.4,431.6 C417.8,432.7 418.2,434.0 417.9,435.4 C417.6,436.8 416.5,438.9 415.5,440.1 C414.5,441.3 413.3,442.0 411.7,442.5 C410.1,443.0 407.7,443.2 406.1,443.0 C404.5,442.8 403.6,441.6 402.3,441.5 C401.0,441.4 399.6,442.2 398.5,442.5 C397.4,442.8 396.6,443.4 395.6,443.0 C394.7,442.6 393.9,441.1 392.8,440.1 C391.7,439.2 390.8,437.9 389.0,437.3 C387.2,436.7 384.1,436.8 382.3,436.3 C380.6,435.8 379.6,435.2 378.5,434.4 C377.4,433.6 376.2,432.6 375.7,431.6 C375.2,430.7 375.4,430.0 375.7,428.7 Z" fill="#c4c4c4" stroke="#3a3a3a" stroke-opacity="0.8" stroke-width="0.7"/>
<clipPath id="bc5"><path d="M466.1,432.8 C466.2,430.5 466.4,426.0 467.8,422.6 C469.2,419.2 472.0,415.6 474.5,412.5 C477.0,409.4 479.6,406.6 483.0,404.0 C486.4,401.4 490.7,399.2 494.9,397.2 C499.1,395.2 504.4,393.6 508.4,392.2 C512.4,390.8 515.5,389.6 518.6,388.8 C521.7,388.0 524.5,387.1 527.0,387.1 C529.5,387.1 531.2,387.7 533.8,388.8 C536.3,389.9 539.2,391.9 542.3,393.9 C545.4,395.9 549.6,398.4 552.4,400.6 C555.2,402.9 556.9,405.1 559.2,407.4 C561.5,409.7 564.0,411.9 566.0,414.2 C568.0,416.5 570.0,418.8 571.1,421.0 C572.2,423.2 572.8,425.4 572.8,427.7 C572.8,429.9 572.5,432.5 571.1,434.5 C569.7,436.5 566.8,438.2 564.3,439.6 C561.8,441.0 558.9,441.9 555.8,443.0 C552.7,444.1 548.8,445.0 545.7,446.4 C542.6,447.8 540.0,449.7 537.2,451.4 C534.4,453.1 531.5,455.1 528.7,456.5 C525.9,457.9 522.8,459.0 520.3,459.9 C517.8,460.8 515.5,461.6 513.5,461.6 C511.5,461.6 509.7,461.0 508.4,459.9 C507.1,458.8 506.5,456.5 505.9,454.8 C505.3,453.1 506.0,450.7 505.0,449.7 C504.0,448.7 502.0,448.9 500.0,448.9 C498.0,448.9 495.8,449.6 493.2,449.7 C490.6,449.8 487.5,450.2 484.7,449.7 C481.9,449.1 478.6,447.8 476.2,446.4 C473.8,445.0 471.9,443.0 470.3,441.3 C468.8,439.6 467.6,437.6 466.9,436.2 C466.2,434.8 466.0,435.1 466.1,432.8 Z"/></clipPath>
<g clip-path="url(#bc5)">
<g filter="url(#soft)">
<path d="M450.0,380.0 L580.0,380.0 L580.0,470.0 L450.0,470.0 Z" fill="#a7c7f2"/>
<path d="M503.3,388.0 L513.5,388.0 L513.5,405.7 L503.3,405.7 Z" fill="#b6b6b6"/>
<path d="M511.8,380.0 L562.0,380.0 L562.0,414.2 L540.0,412.0 L520.0,406.0 L511.8,405.0 Z" fill="#f2a387"/>
<path d="M540.6,410.8 L572.0,410.8 L572.0,426.0 L540.6,426.0 Z" fill="#f3c4b2"/>
<path d="M537.2,422.6 L574.0,422.6 L574.0,437.9 L537.2,437.9 Z" fill="#b2c9e8"/>
<path d="M500.0,432.8 L542.3,432.8 L542.3,456.5 L500.0,456.5 Z" fill="#ababab"/>
<path d="M506.7,446.4 L535.5,446.4 L535.5,462.0 L506.7,462.0 Z" fill="#f0b8a0"/>
<path d="M542.3,436.2 L562.6,436.2 L562.6,443.0 L542.3,443.0 Z" fill="#eeb9a4"/>
</g>
<rect x="464.1" y="385.1" width="110.7" height="78.5" filter="url(#sulci)"/>
<use href="#smed" transform="translate(111.0,0)"/>
<path d="M466.1,432.8 C466.2,430.5 466.4,426.0 467.8,422.6 C469.2,419.2 472.0,415.6 474.5,412.5 C477.0,409.4 479.6,406.6 483.0,404.0 C486.4,401.4 490.7,399.2 494.9,397.2 C499.1,395.2 504.4,393.6 508.4,392.2 C512.4,390.8 515.5,389.6 518.6,388.8 C521.7,388.0 524.5,387.1 527.0,387.1 C529.5,387.1 531.2,387.7 533.8,388.8 C536.3,389.9 539.2,391.9 542.3,393.9 C545.4,395.9 549.6,398.4 552.4,400.6 C555.2,402.9 556.9,405.1 559.2,407.4 C561.5,409.7 564.0,411.9 566.0,414.2 C568.0,416.5 570.0,418.8 571.1,421.0 C572.2,423.2 572.8,425.4 572.8,427.7 C572.8,429.9 572.5,432.5 571.1,434.5 C569.7,436.5 566.8,438.2 564.3,439.6 C561.8,441.0 558.9,441.9 555.8,443.0 C552.7,444.1 548.8,445.0 545.7,446.4 C542.6,447.8 540.0,449.7 537.2,451.4 C534.4,453.1 531.5,455.1 528.7,456.5 C525.9,457.9 522.8,459.0 520.3,459.9 C517.8,460.8 515.5,461.6 513.5,461.6 C511.5,461.6 509.7,461.0 508.4,459.9 C507.1,458.8 506.5,456.5 505.9,454.8 C505.3,453.1 506.0,450.7 505.0,449.7 C504.0,448.7 502.0,448.9 500.0,448.9 C498.0,448.9 495.8,449.6 493.2,449.7 C490.6,449.8 487.5,450.2 484.7,449.7 C481.9,449.1 478.6,447.8 476.2,446.4 C473.8,445.0 471.9,443.0 470.3,441.3 C468.8,439.6 467.6,437.6 466.9,436.2 C466.2,434.8 466.0,435.1 466.1,432.8 Z" fill="url(#shade)"/>
</g>
<path d="M466.1,432.8 C466.2,430.5 466.4,426.0 467.8,422.6 C469.2,419.2 472.0,415.6 474.5,412.5 C477.0,409.4 479.6,406.6 483.0,404.0 C486.4,401.4 490.7,399.2 494.9,397.2 C499.1,395.2 504.4,393.6 508.4,392.2 C512.4,390.8 515.5,389.6 518.6,388.8 C521.7,388.0 524.5,387.1 527.0,387.1 C529.5,387.1 531.2,387.7 533.8,388.8 C536.3,389.9 539.2,391.9 542.3,393.9 C545.4,395.9 549.6,398.4 552.4,400.6 C555.2,402.9 556.9,405.1 559.2,407.4 C561.5,409.7 564.0,411.9 566.0,414.2 C568.0,416.5 570.0,418.8 571.1,421.0 C572.2,423.2 572.8,425.4 572.8,427.7 C572.8,429.9 572.5,432.5 571.1,434.5 C569.7,436.5 566.8,438.2 564.3,439.6 C561.8,441.0 558.9,441.9 555.8,443.0 C552.7,444.1 548.8,445.0 545.7,446.4 C542.6,447.8 540.0,449.7 537.2,451.4 C534.4,453.1 531.5,455.1 528.7,456.5 C525.9,457.9 522.8,459.0 520.3,459.9 C517.8,460.8 515.5,461.6 513.5,461.6 C511.5,461.6 509.7,461.0 508.4,459.9 C507.1,458.8 506.5,456.5 505.9,454.8 C505.3,453.1 506.0,450.7 505.0,449.7 C504.0,448.7 502.0,448.9 500.0,448.9 C498.0,448.9 495.8,449.6 493.2,449.7 C490.6,449.8 487.5,450.2 484.7,449.7 C481.9,449.1 478.6,447.8 476.2,446.4 C473.8,445.0 471.9,443.0 470.3,441.3 C468.8,439.6 467.6,437.6 466.9,436.2 C466.2,434.8 466.0,435.1 466.1,432.8 Z" fill="none" stroke="#444" stroke-opacity="0.6" stroke-width="0.6"/>
<path d="M486.7,428.7 C487.0,427.4 487.5,425.6 488.6,424.0 C489.7,422.4 491.4,420.6 493.3,419.2 C495.2,417.8 497.6,416.3 500.0,415.4 C502.4,414.4 505.1,413.9 507.6,413.5 C510.1,413.1 513.3,413.0 515.2,413.1 C517.1,413.2 517.4,413.4 519.0,414.0 C520.6,414.6 523.0,415.4 524.6,416.4 C526.2,417.4 527.8,419.2 528.4,420.2 C529.0,421.1 528.6,421.7 528.0,422.1 C527.4,422.5 525.5,422.1 524.6,422.6 C523.7,423.1 522.9,424.0 522.7,424.9 C522.5,425.8 522.6,427.2 523.2,427.8 C523.8,428.4 525.6,428.1 526.5,428.7 C527.4,429.3 528.0,430.5 528.4,431.6 C528.8,432.7 529.2,434.0 528.9,435.4 C528.6,436.8 527.5,438.9 526.5,440.1 C525.5,441.3 524.3,442.0 522.7,442.5 C521.1,443.0 518.7,443.2 517.1,443.0 C515.5,442.8 514.6,441.6 513.3,441.5 C512.0,441.4 510.6,442.2 509.5,442.5 C508.4,442.8 507.6,443.4 506.6,443.0 C505.7,442.6 504.9,441.1 503.8,440.1 C502.7,439.2 501.8,437.9 500.0,437.3 C498.2,436.7 495.1,436.8 493.3,436.3 C491.6,435.8 490.6,435.2 489.5,434.4 C488.4,433.6 487.2,432.6 486.7,431.6 C486.2,430.7 486.4,430.0 486.7,428.7 Z" fill="#c4c4c4" stroke="#3a3a3a" stroke-opacity="0.8" stroke-width="0.7"/>
<clipPath id="bc6"><path d="M578.8,432.8 C578.9,430.5 579.1,426.0 580.5,422.6 C581.9,419.2 584.7,415.6 587.2,412.5 C589.7,409.4 592.3,406.6 595.7,404.0 C599.1,401.4 603.4,399.2 607.6,397.2 C611.8,395.2 617.1,393.6 621.1,392.2 C625.0,390.8 628.2,389.6 631.3,388.8 C634.4,388.0 637.2,387.1 639.7,387.1 C642.2,387.1 644.0,387.7 646.5,388.8 C649.0,389.9 651.9,391.9 655.0,393.9 C658.1,395.9 662.3,398.4 665.1,400.6 C667.9,402.9 669.6,405.1 671.9,407.4 C674.2,409.7 676.7,411.9 678.7,414.2 C680.7,416.5 682.7,418.8 683.8,421.0 C684.9,423.2 685.5,425.4 685.5,427.7 C685.5,429.9 685.2,432.5 683.8,434.5 C682.4,436.5 679.5,438.2 677.0,439.6 C674.5,441.0 671.6,441.9 668.5,443.0 C665.4,444.1 661.5,445.0 658.4,446.4 C655.3,447.8 652.7,449.7 649.9,451.4 C647.1,453.1 644.2,455.1 641.4,456.5 C638.6,457.9 635.5,459.0 633.0,459.9 C630.5,460.8 628.2,461.6 626.2,461.6 C624.2,461.6 622.4,461.0 621.1,459.9 C619.8,458.8 619.2,456.5 618.6,454.8 C618.0,453.1 618.7,450.7 617.7,449.7 C616.7,448.7 614.7,448.9 612.7,448.9 C610.7,448.9 608.5,449.6 605.9,449.7 C603.3,449.8 600.2,450.2 597.4,449.7 C594.6,449.1 591.3,447.8 588.9,446.4 C586.5,445.0 584.5,443.0 583.0,441.3 C581.5,439.6 580.3,437.6 579.6,436.2 C578.9,434.8 578.6,435.1 578.8,432.8 Z"/></clipPath>
<g clip-path="url(#bc6)">
<g filter="url(#soft)">
<path d="M565.0,380.0 L690.0,380.0 L690.0,470.0 L565.0,470.0 Z" fill="#f4c5b6"/>
<path d="M565.0,380.0 L619.3,380.0 L619.3,415.8 L600.0,420.0 L599.0,440.0 L614.2,453.0 L565.0,470.0 Z" fill="#f07560"/>
<path d="M565.0,395.0 L599.0,395.0 L599.0,453.0 L565.0,460.0 Z" fill="#ea4a3c"/>
<path d="M616.0,390.0 L626.0,390.0 L626.0,412.4 L616.0,412.4 Z" fill="#b8b8b8"/>
<path d="M624.4,380.0 L690.0,380.0 L690.0,415.8 L660.0,412.0 L640.0,410.0 L624.4,412.0 Z" fill="#4a7ee0"/>
<path d="M648.0,419.2 L690.0,419.2 L690.0,437.7 L648.0,437.7 Z" fill="#a8c4f0"/>
<path d="M663.2,409.0 L690.0,409.0 L690.0,422.5 L663.2,422.5 Z" fill="#d8dce4"/>
<path d="M614.2,436.0 L651.4,436.0 L651.4,462.0 L614.2,462.0 Z" fill="#acacac"/>
<path d="M636.2,442.8 L649.7,442.8 L649.7,456.3 L636.2,456.3 Z" fill="#f1b39e"/>
</g>
<rect x="576.8" y="385.1" width="110.7" height="78.5" filter="url(#sulci)"/>
<use href="#smed" transform="translate(223.7,0)"/>
<path d="M578.8,432.8 C578.9,430.5 579.1,426.0 580.5,422.6 C581.9,419.2 584.7,415.6 587.2,412.5 C589.7,409.4 592.3,406.6 595.7,404.0 C599.1,401.4 603.4,399.2 607.6,397.2 C611.8,395.2 617.1,393.6 621.1,392.2 C625.0,390.8 628.2,389.6 631.3,388.8 C634.4,388.0 637.2,387.1 639.7,387.1 C642.2,387.1 644.0,387.7 646.5,388.8 C649.0,389.9 651.9,391.9 655.0,393.9 C658.1,395.9 662.3,398.4 665.1,400.6 C667.9,402.9 669.6,405.1 671.9,407.4 C674.2,409.7 676.7,411.9 678.7,414.2 C680.7,416.5 682.7,418.8 683.8,421.0 C684.9,423.2 685.5,425.4 685.5,427.7 C685.5,429.9 685.2,432.5 683.8,434.5 C682.4,436.5 679.5,438.2 677.0,439.6 C674.5,441.0 671.6,441.9 668.5,443.0 C665.4,444.1 661.5,445.0 658.4,446.4 C655.3,447.8 652.7,449.7 649.9,451.4 C647.1,453.1 644.2,455.1 641.4,456.5 C638.6,457.9 635.5,459.0 633.0,459.9 C630.5,460.8 628.2,461.6 626.2,461.6 C624.2,461.6 622.4,461.0 621.1,459.9 C619.8,458.8 619.2,456.5 618.6,454.8 C618.0,453.1 618.7,450.7 617.7,449.7 C616.7,448.7 614.7,448.9 612.7,448.9 C610.7,448.9 608.5,449.6 605.9,449.7 C603.3,449.8 600.2,450.2 597.4,449.7 C594.6,449.1 591.3,447.8 588.9,446.4 C586.5,445.0 584.5,443.0 583.0,441.3 C581.5,439.6 580.3,437.6 579.6,436.2 C578.9,434.8 578.6,435.1 578.8,432.8 Z" fill="url(#shade)"/>
</g>
<path d="M578.8,432.8 C578.9,430.5 579.1,426.0 580.5,422.6 C581.9,419.2 584.7,415.6 587.2,412.5 C589.7,409.4 592.3,406.6 595.7,404.0 C599.1,401.4 603.4,399.2 607.6,397.2 C611.8,395.2 617.1,393.6 621.1,392.2 C625.0,390.8 628.2,389.6 631.3,388.8 C634.4,388.0 637.2,387.1 639.7,387.1 C642.2,387.1 644.0,387.7 646.5,388.8 C649.0,389.9 651.9,391.9 655.0,393.9 C658.1,395.9 662.3,398.4 665.1,400.6 C667.9,402.9 669.6,405.1 671.9,407.4 C674.2,409.7 676.7,411.9 678.7,414.2 C680.7,416.5 682.7,418.8 683.8,421.0 C684.9,423.2 685.5,425.4 685.5,427.7 C685.5,429.9 685.2,432.5 683.8,434.5 C682.4,436.5 679.5,438.2 677.0,439.6 C674.5,441.0 671.6,441.9 668.5,443.0 C665.4,444.1 661.5,445.0 658.4,446.4 C655.3,447.8 652.7,449.7 649.9,451.4 C647.1,453.1 644.2,455.1 641.4,456.5 C638.6,457.9 635.5,459.0 633.0,459.9 C630.5,460.8 628.2,461.6 626.2,461.6 C624.2,461.6 622.4,461.0 621.1,459.9 C619.8,458.8 619.2,456.5 618.6,454.8 C618.0,453.1 618.7,450.7 617.7,449.7 C616.7,448.7 614.7,448.9 612.7,448.9 C610.7,448.9 608.5,449.6 605.9,449.7 C603.3,449.8 600.2,450.2 597.4,449.7 C594.6,449.1 591.3,447.8 588.9,446.4 C586.5,445.0 584.5,443.0 583.0,441.3 C581.5,439.6 580.3,437.6 579.6,436.2 C578.9,434.8 578.6,435.1 578.8,432.8 Z" fill="none" stroke="#444" stroke-opacity="0.6" stroke-width="0.6"/>
<path d="M599.4,428.7 C599.7,427.4 600.2,425.6 601.3,424.0 C602.4,422.4 604.1,420.6 606.0,419.2 C607.9,417.8 610.3,416.3 612.7,415.4 C615.1,414.4 617.8,413.9 620.3,413.5 C622.8,413.1 626.0,413.0 627.9,413.1 C629.8,413.2 630.1,413.4 631.7,414.0 C633.3,414.6 635.7,415.4 637.3,416.4 C638.9,417.4 640.5,419.2 641.1,420.2 C641.7,421.1 641.3,421.7 640.7,422.1 C640.1,422.5 638.2,422.1 637.3,422.6 C636.4,423.1 635.6,424.0 635.4,424.9 C635.2,425.8 635.3,427.2 635.9,427.8 C636.5,428.4 638.3,428.1 639.2,428.7 C640.1,429.3 640.7,430.5 641.1,431.6 C641.5,432.7 641.9,434.0 641.6,435.4 C641.3,436.8 640.2,438.9 639.2,440.1 C638.2,441.3 637.0,442.0 635.4,442.5 C633.8,443.0 631.4,443.2 629.8,443.0 C628.2,442.8 627.3,441.6 626.0,441.5 C624.7,441.4 623.3,442.2 622.2,442.5 C621.1,442.8 620.2,443.4 619.3,443.0 C618.3,442.6 617.6,441.1 616.5,440.1 C615.4,439.2 614.5,437.9 612.7,437.3 C611.0,436.7 607.8,436.8 606.0,436.3 C604.2,435.8 603.3,435.2 602.2,434.4 C601.1,433.6 599.9,432.6 599.4,431.6 C598.9,430.7 599.1,430.0 599.4,428.7 Z" fill="#c4c4c4" stroke="#3a3a3a" stroke-opacity="0.8" stroke-width="0.7"/>
<text x="371.50" y="471.60" font-size="10.0" text-anchor="start" fill="#111" font-weight="normal" textLength="28.3" lengthAdjust="spacingAndGlyphs">scaling</text>
<text x="492.30" y="471.60" font-size="10.0" text-anchor="start" fill="#111" font-weight="normal" textLength="26.3" lengthAdjust="spacingAndGlyphs">CUX1</text>
<text x="595.70" y="471.60" font-size="10.0" text-anchor="start" fill="#111" font-weight="normal" textLength="21.0" lengthAdjust="spacingAndGlyphs">MDK</text>
<defs><linearGradient id="cbs" x1="0" x2="1"><stop offset="0" stop-color="#2a44d4"/><stop offset="0.25" stop-color="#6a9cf4"/><stop offset="0.5" stop-color="#dcdcdc"/><stop offset="0.75" stop-color="#f6a286"/><stop offset="1" stop-color="#e8102c"/></linearGradient></defs>
<rect x="386.8" y="481" width="71.2" height="4.8" fill="url(#cbs)"/>
<rect x="538" y="481" width="71.2" height="4.8" fill="url(#cbs)"/>
<text x="385.20" y="485.90" font-size="7.4" text-anchor="end" fill="#111" font-weight="normal">0.5</text>
<text x="459.60" y="485.90" font-size="7.4" text-anchor="start" fill="#111" font-weight="normal">1.5</text>
<text x="421.50" y="493.80" font-size="7.5" text-anchor="middle" fill="#111" font-weight="normal" textLength="59.7" lengthAdjust="spacingAndGlyphs">scaling coefficient</text>
<text x="537.20" y="485.90" font-size="7.4" text-anchor="end" fill="#111" font-weight="normal">-2</text>
<text x="610.60" y="485.90" font-size="7.4" text-anchor="start" fill="#111" font-weight="normal">2</text>
<text x="574.30" y="493.80" font-size="7.5" text-anchor="middle" fill="#111" font-weight="normal" textLength="75.3" lengthAdjust="spacingAndGlyphs">normalised expression</text>
</svg></body></html>
